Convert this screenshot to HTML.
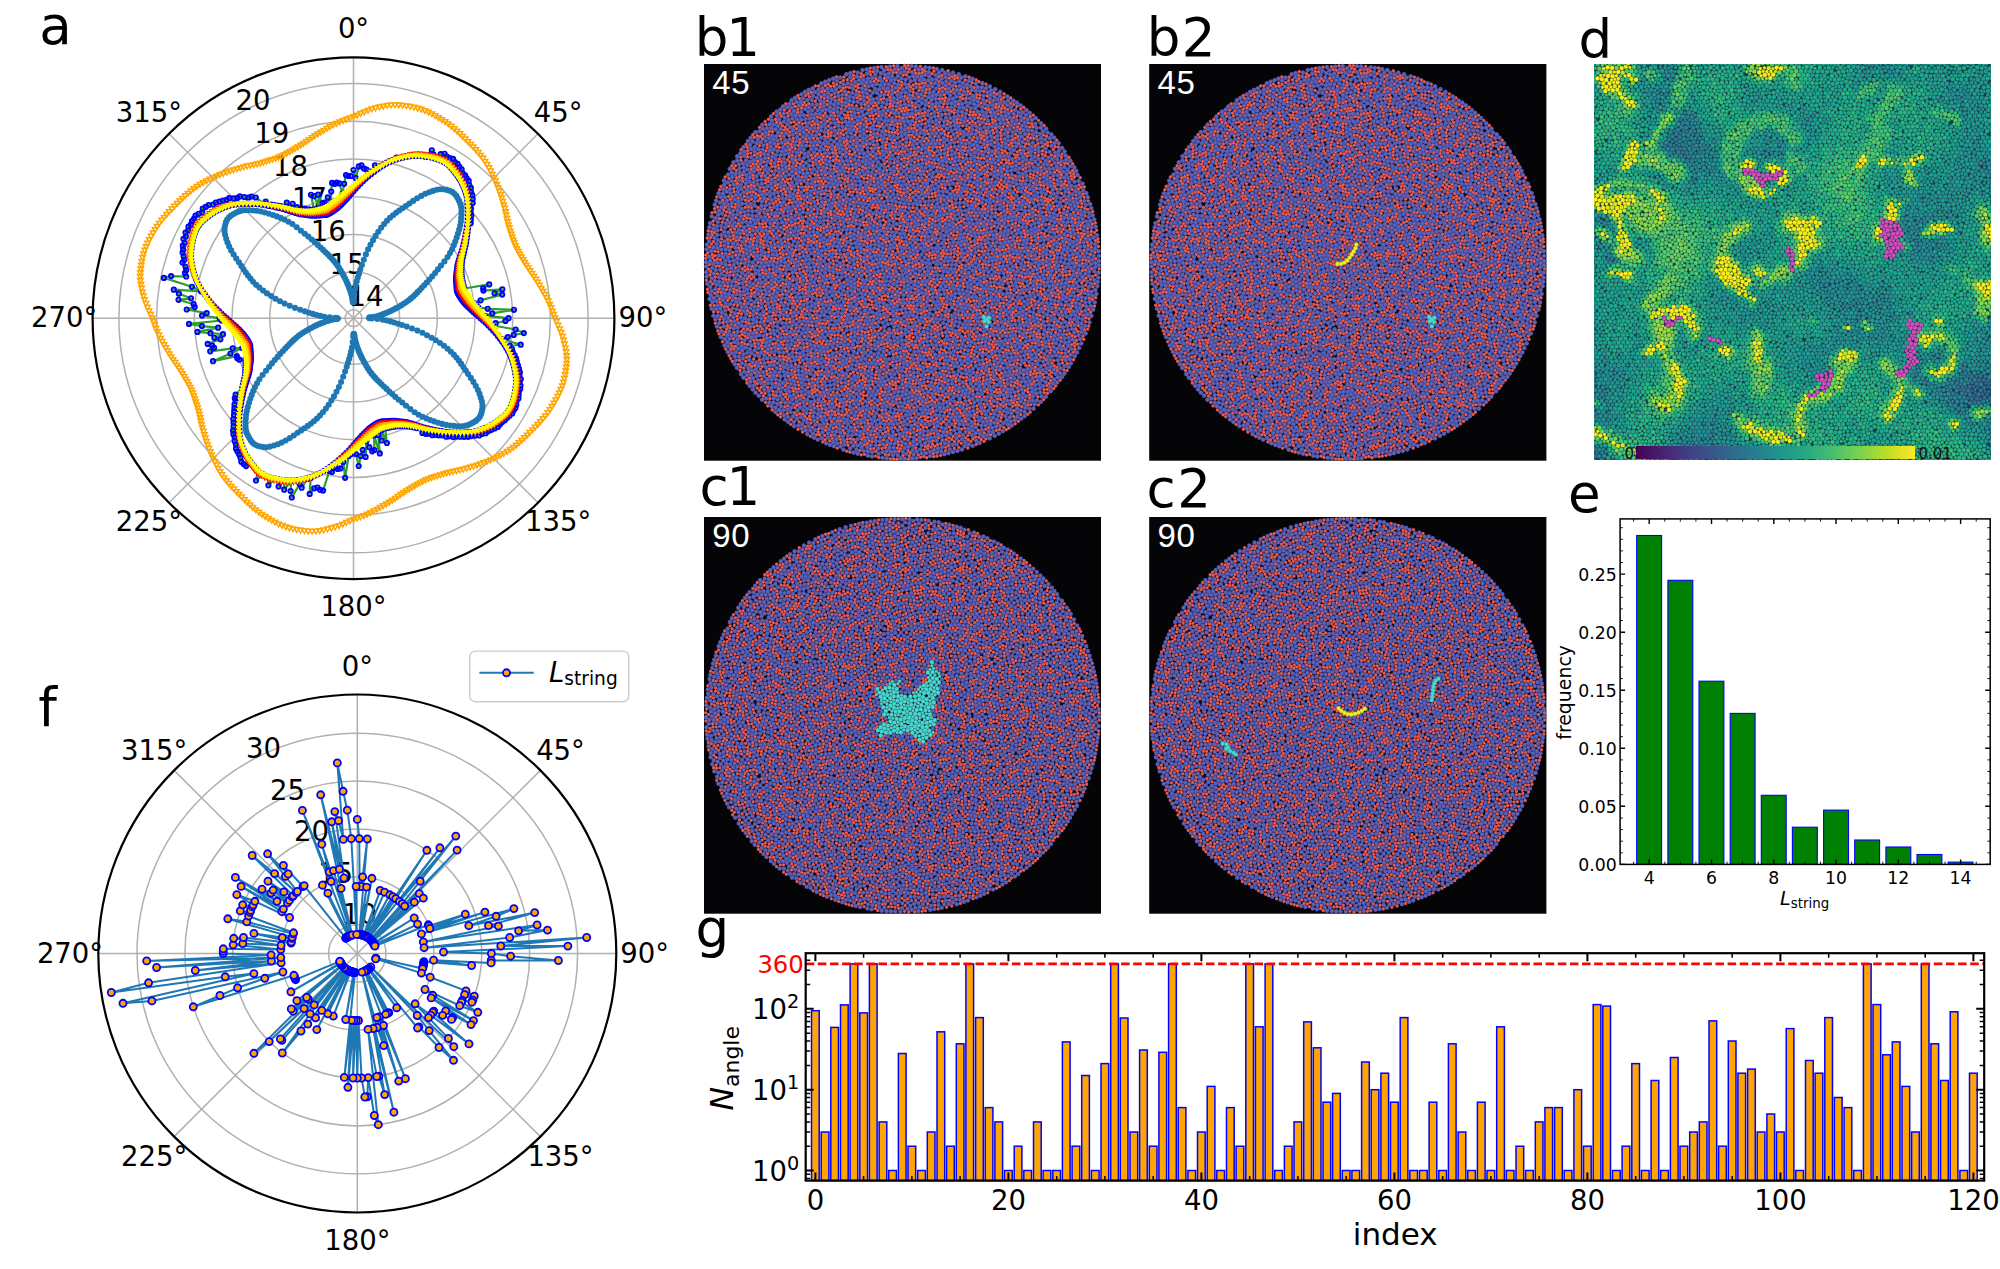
<!DOCTYPE html>
<html><head><meta charset="utf-8"><title>figure</title>
<style>html,body{margin:0;padding:0;background:#fff}svg{display:block}text{font-family:DejaVu Sans, Liberation Sans, sans-serif}</style></head>
<body><svg width="2000" height="1269" viewBox="0 0 2000 1269">
<rect width="2000" height="1269" fill="#fff"/>
<text x="39.2" y="43.5" font-size="53">a</text>
<text x="694.7" y="55.5" font-size="53">b<tspan dx="-2.2">1</tspan></text>
<text x="1146.7" y="55.5" font-size="53">b<tspan dx="1.4">2</tspan></text>
<text x="699.6" y="504.5" font-size="53">c<tspan dx="-2.2">1</tspan></text>
<text x="1146.6" y="506.5" font-size="53">c<tspan dx="1.4">2</tspan></text>
<text x="1578.6" y="57.5" font-size="53">d</text>
<text x="1568.1" y="512" font-size="53">e</text>
<text x="38.3" y="725.8" font-size="53">f</text>
<text x="695.6" y="947.2" font-size="53">g</text>
<g id="pa">
<g fill="none" stroke="#b0b0b0" stroke-width="1.5">
<circle cx="353.5" cy="318.2" r="8.4"/>
<circle cx="353.5" cy="318.2" r="46.1"/>
<circle cx="353.5" cy="318.2" r="83.8"/>
<circle cx="353.5" cy="318.2" r="121.5"/>
<circle cx="353.5" cy="318.2" r="159.2"/>
<circle cx="353.5" cy="318.2" r="196.9"/>
<circle cx="353.5" cy="318.2" r="234.6"/>
<path d="M353.5 318.2L353.5 57.3M353.5 318.2L538 133.7M353.5 318.2L614.4 318.2M353.5 318.2L538 502.7M353.5 318.2L353.5 579.1M353.5 318.2L169 502.7M353.5 318.2L92.6 318.2M353.5 318.2L169 133.7"/>
</g>
<g font-size="27.5" text-anchor="middle" dominant-baseline="central">
<text x="353.5" y="27.5">0°</text>
<text x="558.1" y="112.2">45°</text>
<text x="642.8" y="316.8">90°</text>
<text x="558.1" y="521.4">135°</text>
<text x="353.5" y="606.1">180°</text>
<text x="148.9" y="521.4">225°</text>
<text x="64.2" y="316.8">270°</text>
<text x="148.9" y="112.2">315°</text>
<text x="366" y="296.2">14</text>
<text x="347.1" y="263.6">15</text>
<text x="328.3" y="230.9">16</text>
<text x="309.4" y="198.3">17</text>
<text x="290.6" y="165.6">18</text>
<text x="271.8" y="133">19</text>
<text x="252.9" y="100.3">20</text>
</g>
<defs>
<marker id="mdot" markerWidth="8" markerHeight="8" refX="4" refY="4" markerUnits="userSpaceOnUse"><circle cx="4" cy="4" r="3.05" fill="#1f77b4"/></marker>
<marker id="mo" markerWidth="10" markerHeight="10" refX="5" refY="5" markerUnits="userSpaceOnUse"><path d="M2.3 2.9H7.7L5 7.6Z" fill="none" stroke="#ffa500" stroke-width="1.5" stroke-linejoin="miter"/></marker>
<marker id="mo2" markerWidth="10" markerHeight="10" refX="5" refY="5" markerUnits="userSpaceOnUse"><path d="M3 3.4H7L5 6.9Z" fill="none" stroke="#ffa500" stroke-width="1.3" stroke-linejoin="miter"/></marker>
<marker id="my" markerWidth="10" markerHeight="10" refX="5" refY="5" markerUnits="userSpaceOnUse"><path d="M3 3.4H7L5 6.9Z" fill="none" stroke="#ffff00" stroke-width="1.3" stroke-linejoin="miter"/></marker>
<marker id="mr" markerWidth="10" markerHeight="10" refX="5" refY="5" markerUnits="userSpaceOnUse"><path d="M3 3.4H7L5 6.9Z" fill="none" stroke="#ff0000" stroke-width="1.3" stroke-linejoin="miter"/></marker>
<marker id="mg" markerWidth="10" markerHeight="10" refX="5" refY="5" markerUnits="userSpaceOnUse"><path d="M3 3.4H7L5 6.9Z" fill="none" stroke="#ffd000" stroke-width="1.3" stroke-linejoin="miter"/></marker>
<marker id="mb" markerWidth="10" markerHeight="10" refX="5" refY="5" markerUnits="userSpaceOnUse"><circle cx="5" cy="5" r="2.15" fill="none" stroke="#0000ff" stroke-width="1.9"/></marker>
</defs>
<polyline points="353.5,191.2 355.8,188.6 358.1,186.1 360.6,183.6 363.1,181.1 365.7,178.6 368.4,176.2 371.2,173.9 374.1,171.7 377.1,169.5 380.1,167.3 383.2,165.4 386.4,163.6 389.6,162 392.8,160.6 396,159.4 399.3,158.5 402.6,157.6 405.9,156.9 409.3,156.3 412.6,155.8 415.9,155.7 419.1,155.7 422.3,156.1 425.5,156.5 428.7,157 431.8,157.7 434.9,158.4 437.9,159.4 440.9,160.6 443.7,161.9 446.4,163.6 448.9,165.6 451.1,167.9 453.2,170.4 455.2,173 457.1,175.6 458.9,178.3 460.6,181.1 462.1,184.1 463.5,187.1 464.7,190.3 465.8,193.5 466.7,196.8 467.3,200.4 467.6,204.1 467.8,207.8 467.9,211.6 467.8,215.3 467.8,218.9 467.6,222.5 467.1,226.2 466.5,229.9 465.8,233.5 465.2,237.1 464.4,240.5 463.7,243.9 462.9,247.2 461.9,250.5 460.9,253.7 459.9,256.8 458.9,259.8 458.1,262.6 457.5,265.2 457.2,267.6 456.9,270 456.6,272.3 456.3,274.6 456.1,276.7 456.1,278.8 456.1,280.8 456.3,282.8 456.4,284.8 456.6,286.7 456.7,288.6 456.8,290.5 457.3,292.3 458.1,294.1 459.1,295.8 460.2,297.5 461.4,299.2 462.6,300.9 464,302.7 465.6,304.4 467.3,306.2 469.2,308.1 471.2,310 473.3,311.9 475.5,313.9 478,316 480.5,318.2 483.1,320.5 485.6,322.8 488.1,325.3 490.6,327.8 493.1,330.4 495.5,333.1 497.8,335.9 500,338.8 502.2,341.8 504.4,344.8 506.3,347.9 508.1,351.1 509.7,354.3 511.1,357.5 512.3,360.7 513.2,364 514.1,367.3 514.8,370.6 515.4,374 515.9,377.3 516,380.6 516,383.8 515.6,387 515.2,390.2 514.7,393.4 514,396.5 513.3,399.6 512.3,402.6 511.1,405.6 509.8,408.4 508.1,411.1 506.1,413.6 503.8,415.8 501.3,417.9 498.7,419.9 496.1,421.8 493.4,423.6 490.6,425.3 487.6,426.8 484.6,428.2 481.4,429.4 478.2,430.5 474.9,431.4 471.3,432 467.6,432.3 463.9,432.5 460.1,432.6 456.4,432.5 452.8,432.5 449.2,432.3 445.5,431.8 441.8,431.2 438.2,430.5 434.6,429.9 431.2,429.1 427.8,428.4 424.5,427.6 421.2,426.6 418,425.6 414.9,424.6 411.9,423.6 409.1,422.8 406.5,422.2 404.1,421.9 401.7,421.6 399.4,421.3 397.1,421 395,420.8 392.9,420.8 390.9,420.8 388.9,421 386.9,421.1 385,421.3 383.1,421.4 381.2,421.5 379.4,422 377.6,422.8 375.9,423.8 374.2,424.9 372.5,426.1 370.8,427.3 369,428.7 367.3,430.3 365.5,432 363.6,433.9 361.7,435.9 359.8,438 357.8,440.2 355.7,442.7 353.5,445.2 351.2,447.8 348.9,450.3 346.4,452.8 343.9,455.3 341.3,457.8 338.6,460.2 335.8,462.5 332.9,464.7 329.9,466.9 326.9,469.1 323.8,471 320.6,472.8 317.4,474.4 314.2,475.8 311,477 307.7,477.9 304.4,478.8 301.1,479.5 297.7,480.1 294.4,480.6 291.1,480.7 287.9,480.7 284.7,480.3 281.5,479.9 278.3,479.4 275.2,478.7 272.1,478 269.1,477 266.1,475.8 263.3,474.5 260.6,472.8 258.1,470.8 255.9,468.5 253.8,466 251.8,463.4 249.9,460.8 248.1,458.1 246.4,455.3 244.9,452.3 243.5,449.3 242.3,446.1 241.2,442.9 240.3,439.6 239.7,436 239.4,432.3 239.2,428.6 239.1,424.8 239.2,421.1 239.2,417.5 239.4,413.9 239.9,410.2 240.5,406.5 241.2,402.9 241.8,399.3 242.6,395.9 243.3,392.5 244.1,389.2 245.1,385.9 246.1,382.7 247.1,379.6 248.1,376.6 248.9,373.8 249.5,371.2 249.8,368.8 250.1,366.4 250.4,364.1 250.7,361.8 250.9,359.7 250.9,357.6 250.9,355.6 250.7,353.6 250.6,351.6 250.4,349.7 250.3,347.8 250.2,345.9 249.7,344.1 248.9,342.3 247.9,340.6 246.8,338.9 245.6,337.2 244.4,335.5 243,333.7 241.4,332 239.7,330.2 237.8,328.3 235.8,326.4 233.7,324.5 231.5,322.5 229,320.4 226.5,318.2 223.9,315.9 221.4,313.6 218.9,311.1 216.4,308.6 213.9,306 211.5,303.3 209.2,300.5 207,297.6 204.8,294.6 202.6,291.6 200.7,288.5 198.9,285.3 197.3,282.1 195.9,278.9 194.7,275.7 193.8,272.4 192.9,269.1 192.2,265.8 191.6,262.4 191.1,259.1 191,255.8 191,252.6 191.4,249.4 191.8,246.2 192.3,243 193,239.9 193.7,236.8 194.7,233.8 195.9,230.8 197.2,228 198.9,225.3 200.9,222.8 203.2,220.6 205.7,218.5 208.3,216.5 210.9,214.6 213.6,212.8 216.4,211.1 219.4,209.6 222.4,208.2 225.6,207 228.8,205.9 232.1,205 235.7,204.4 239.4,204.1 243.1,203.9 246.9,203.8 250.6,203.9 254.2,203.9 257.8,204.1 261.5,204.6 265.2,205.2 268.8,205.9 272.4,206.5 275.8,207.3 279.2,208 282.5,208.8 285.8,209.8 289,210.8 292.1,211.8 295.1,212.8 297.9,213.6 300.5,214.2 302.9,214.5 305.3,214.8 307.6,215.1 309.9,215.4 312,215.6 314.1,215.6 316.1,215.6 318.1,215.4 320.1,215.3 322,215.1 323.9,215 325.8,214.9 327.6,214.4 329.4,213.6 331.1,212.6 332.8,211.5 334.5,210.3 336.2,209.1 338,207.7 339.7,206.1 341.5,204.4 343.4,202.5 345.3,200.5 347.2,198.4 349.2,196.2 351.3,193.7 " fill="none" stroke="#0000ff" stroke-width="1.2" marker-start="url(#mb)" marker-mid="url(#mb)" marker-end="url(#mb)"/>
<polyline points="353.5,170 355.9,178 358.8,166.4 361.5,165.3 364,168.6 366.5,169.6 368.7,173.2 371.5,171.4 375,165.4 377.3,167.9 380.3,166.1 383.4,164.3 386.6,162.7 389.7,161.2 393,159.9 396.5,157.7 399.5,157.8 402.7,157.4 406.1,156.3 409.4,155.8 412.7,155.4 416,155.3 419.3,155.4 422.5,155.7 425.4,156.8 431.8,150.3 433.4,154.3 435,158.2 440.7,154.2 444.6,153.8 446.8,156.5 449.7,158 453,158.9 454.9,162 457.6,163.9 459.4,166.9 461.6,169.4 462.7,173.3 465.1,175.4 466.7,178.4 468.7,180.9 469.3,185 470.9,187.8 471.1,192.1 472.3,195.2 472.7,199 472.7,203.1 471,208.6 470.7,212.7 471.3,215.8 470.8,219.7 470.7,223.3 467.9,228.8 467.5,232.3 467.1,235.7 466.6,239 466.1,242.2 465.5,245.4 464.8,248.6 464.1,251.8 463.4,254.8 462.7,257.7 462.1,260.4 461.8,263 461.6,265.5 461.5,267.8 461.4,270.1 461.4,272.4 461.5,274.6 461.7,276.7 462,278.7 462.4,280.7 462.9,282.7 463.3,284.6 463.8,286.6 464.3,288.5 489.2,284.4 483.2,288.3 483.4,290.6 502.3,289.3 494.5,293.3 502.2,294.6 480.6,300.3 474.9,303.3 476.5,305.3 478.2,307.3 487.7,308.8 514,309.8 492.3,313.4 485.4,315.9 508.6,318.2 505.5,320.9 495.7,323.2 493.3,325.5 515.6,329.5 523.8,333.1 513.7,335 507.7,337.1 502.4,339.1 520.7,344.7 509.7,345.7 512,349 512.8,352.1 514.7,355.4 516.1,358.7 516.8,361.9 517.9,365.3 519,368.8 519.9,372.3 519.4,375.3 520.8,379.1 519.6,382 520.5,385.7 520.2,389 518.8,391.8 518.6,395.2 518.4,398.6 516.5,401.3 516.3,404.8 515.4,407.9 513.6,410.6 512.2,413.5 509.5,415.7 507.1,418 504.8,420.3 502,422.2 499.9,424.5 497.9,427 494.6,428.4 491.3,429.8 488.2,431.2 485.8,433.2 482,433.9 479.2,435.4 475.1,435.6 471.4,436.1 468.1,436.8 464.1,436.8 460.2,436.7 456.4,436.6 453.3,437.1 449.2,436.3 446.1,436.7 441.7,435.3 438.6,435.3 435.3,435 432.4,435.2 428.5,433.7 425.7,433.8 422.4,432.9 416.9,428.1 414,427.4 411.3,426.8 408.7,426.5 406.2,426.3 403.9,426.2 401.6,426.1 399.3,426.1 397.1,426.2 395,426.4 393,426.7 391,427.1 389,427.6 387.1,428 385.1,428.5 386.9,443 381.4,430.2 381.7,440.5 378.3,435.1 379.8,453.4 374.1,435.3 374.4,450 372.2,451.3 369.3,447.2 366.4,441.2 365.6,456.9 362.7,449.9 360.7,456.1 358.7,466 355.9,454 353.5,452.1 351.1,454.1 348.7,456 345.1,477.8 343.4,462.1 340.4,468.4 337.7,468.9 335.1,467.7 331.9,472 329.3,470.9 323.1,490.6 320.1,489.8 317.5,487.5 314.2,488.3 309.7,493.9 310.7,478 307.4,478.9 301.7,487.7 299.6,484.1 291.8,497.5 290.6,491 291,481.1 284.2,489.7 284.5,480.7 278.6,486.4 278.2,479.7 275.1,479 268.4,485.3 269,477.2 266,476 263.2,474.7 256,480.5 258,471 255.8,468.7 253.9,465.9 251.6,463.7 246.1,466.1 243.7,464 241.3,461.8 240.5,457.8 239.2,454.4 237.5,451.6 236,448.7 235.9,444.3 234.7,441.2 234.6,437.1 233.4,434.2 233,430.6 233.6,426.2 233.5,422.5 233.3,419.1 234,415 234.2,411.4 234.4,408 234.5,404.6 235.6,400.7 234.8,398.3 235.6,394.7 242.2,387.8 242.9,384.6 243.6,381.6 244.3,378.7 244.9,376 245.2,373.4 245.4,370.9 245.5,368.6 245.6,366.3 245.6,364 245.5,361.8 245.3,359.7 239.4,359.7 237.3,358.2 236.8,356.1 213,361.2 230.5,353.5 242.3,348 232.7,348.3 210.2,351.3 214.1,347.8 212.2,345.7 207.7,343.9 220.4,339.3 214.3,337.8 223,334.2 210.5,333.2 197.5,331.9 218.1,327.7 201.9,326.1 189,323.9 221.6,320.5 219.6,318.2 202,315.6 206.7,313.1 186.7,309.5 194.7,307.1 193.6,304.2 178.5,299.8 191,298.3 178.9,293.7 173.8,289.7 201,291.3 191.9,286.8 163.9,277.9 171.1,276.1 186.2,276.5 184.9,273 186.2,270.2 185.5,266.8 182.5,262.6 184.2,259.9 183.7,256.4 182.6,252.6 183.1,249.4 182.8,245.7 184.7,243 183.5,238.9 185.9,236.5 185.5,232.6 188.2,230.3 188.5,226.7 191,224.4 192,221.2 194.1,218.6 195.5,215.6 198.7,213.8 202.2,212.3 202.8,208.7 205.8,206.9 208.7,205 213.1,204.5 215.9,202.7 219.4,201.7 222.9,200.6 226.5,199.8 229.2,198.2 233.7,198.4 237.4,197.9 239.9,196.4 244.4,197 248.6,197.5 251.4,196.5 255.8,197.5 264.1,203.8 265.7,201.7 271,204.6 274.3,205.1 277.5,205.6 280.7,206.2 283.9,206.9 286.9,207.4 286.8,202.6 293,209 292.7,203.8 296.9,207.2 300.8,210.1 303.1,210.2 304.8,208.8 307.7,210.3 309.5,209.3 312,210 313.9,209.3 311,194.8 313.9,196.2 319.8,208 318.1,194.7 322.7,203.2 324.6,202.5 327.4,205.1 327.8,197.4 331,202.5 331.2,191.6 332.1,182.9 334.6,184 336.8,182.5 339.3,183.4 342.6,193.5 344.1,183.8 346,175.1 348.5,176 351,176 " fill="none" stroke="#2ca02c" stroke-width="2.2" stroke-linejoin="round"/>
<polyline points="353.5,170 355.9,178 358.8,166.4 361.5,165.3 364,168.6 366.5,169.6 368.7,173.2 371.5,171.4 375,165.4 377.3,167.9 380.3,166.1 383.4,164.3 386.6,162.7 389.7,161.2 393,159.9 396.5,157.7 399.5,157.8 402.7,157.4 406.1,156.3 409.4,155.8 412.7,155.4 416,155.3 419.3,155.4 422.5,155.7 425.4,156.8 431.8,150.3 433.4,154.3 435,158.2 440.7,154.2 444.6,153.8 446.8,156.5 449.7,158 453,158.9 454.9,162 457.6,163.9 459.4,166.9 461.6,169.4 462.7,173.3 465.1,175.4 466.7,178.4 468.7,180.9 469.3,185 470.9,187.8 471.1,192.1 472.3,195.2 472.7,199 472.7,203.1 471,208.6 470.7,212.7 471.3,215.8 470.8,219.7 470.7,223.3 467.9,228.8 467.5,232.3 467.1,235.7 466.6,239 466.1,242.2 465.5,245.4 464.8,248.6 464.1,251.8 463.4,254.8 462.7,257.7 462.1,260.4 461.8,263 461.6,265.5 461.5,267.8 461.4,270.1 461.4,272.4 461.5,274.6 461.7,276.7 462,278.7 462.4,280.7 462.9,282.7 463.3,284.6 463.8,286.6 464.3,288.5 489.2,284.4 483.2,288.3 483.4,290.6 502.3,289.3 494.5,293.3 502.2,294.6 480.6,300.3 474.9,303.3 476.5,305.3 478.2,307.3 487.7,308.8 514,309.8 492.3,313.4 485.4,315.9 508.6,318.2 505.5,320.9 495.7,323.2 493.3,325.5 515.6,329.5 523.8,333.1 513.7,335 507.7,337.1 502.4,339.1 520.7,344.7 509.7,345.7 512,349 512.8,352.1 514.7,355.4 516.1,358.7 516.8,361.9 517.9,365.3 519,368.8 519.9,372.3 519.4,375.3 520.8,379.1 519.6,382 520.5,385.7 520.2,389 518.8,391.8 518.6,395.2 518.4,398.6 516.5,401.3 516.3,404.8 515.4,407.9 513.6,410.6 512.2,413.5 509.5,415.7 507.1,418 504.8,420.3 502,422.2 499.9,424.5 497.9,427 494.6,428.4 491.3,429.8 488.2,431.2 485.8,433.2 482,433.9 479.2,435.4 475.1,435.6 471.4,436.1 468.1,436.8 464.1,436.8 460.2,436.7 456.4,436.6 453.3,437.1 449.2,436.3 446.1,436.7 441.7,435.3 438.6,435.3 435.3,435 432.4,435.2 428.5,433.7 425.7,433.8 422.4,432.9 416.9,428.1 414,427.4 411.3,426.8 408.7,426.5 406.2,426.3 403.9,426.2 401.6,426.1 399.3,426.1 397.1,426.2 395,426.4 393,426.7 391,427.1 389,427.6 387.1,428 385.1,428.5 386.9,443 381.4,430.2 381.7,440.5 378.3,435.1 379.8,453.4 374.1,435.3 374.4,450 372.2,451.3 369.3,447.2 366.4,441.2 365.6,456.9 362.7,449.9 360.7,456.1 358.7,466 355.9,454 353.5,452.1 351.1,454.1 348.7,456 345.1,477.8 343.4,462.1 340.4,468.4 337.7,468.9 335.1,467.7 331.9,472 329.3,470.9 323.1,490.6 320.1,489.8 317.5,487.5 314.2,488.3 309.7,493.9 310.7,478 307.4,478.9 301.7,487.7 299.6,484.1 291.8,497.5 290.6,491 291,481.1 284.2,489.7 284.5,480.7 278.6,486.4 278.2,479.7 275.1,479 268.4,485.3 269,477.2 266,476 263.2,474.7 256,480.5 258,471 255.8,468.7 253.9,465.9 251.6,463.7 246.1,466.1 243.7,464 241.3,461.8 240.5,457.8 239.2,454.4 237.5,451.6 236,448.7 235.9,444.3 234.7,441.2 234.6,437.1 233.4,434.2 233,430.6 233.6,426.2 233.5,422.5 233.3,419.1 234,415 234.2,411.4 234.4,408 234.5,404.6 235.6,400.7 234.8,398.3 235.6,394.7 242.2,387.8 242.9,384.6 243.6,381.6 244.3,378.7 244.9,376 245.2,373.4 245.4,370.9 245.5,368.6 245.6,366.3 245.6,364 245.5,361.8 245.3,359.7 239.4,359.7 237.3,358.2 236.8,356.1 213,361.2 230.5,353.5 242.3,348 232.7,348.3 210.2,351.3 214.1,347.8 212.2,345.7 207.7,343.9 220.4,339.3 214.3,337.8 223,334.2 210.5,333.2 197.5,331.9 218.1,327.7 201.9,326.1 189,323.9 221.6,320.5 219.6,318.2 202,315.6 206.7,313.1 186.7,309.5 194.7,307.1 193.6,304.2 178.5,299.8 191,298.3 178.9,293.7 173.8,289.7 201,291.3 191.9,286.8 163.9,277.9 171.1,276.1 186.2,276.5 184.9,273 186.2,270.2 185.5,266.8 182.5,262.6 184.2,259.9 183.7,256.4 182.6,252.6 183.1,249.4 182.8,245.7 184.7,243 183.5,238.9 185.9,236.5 185.5,232.6 188.2,230.3 188.5,226.7 191,224.4 192,221.2 194.1,218.6 195.5,215.6 198.7,213.8 202.2,212.3 202.8,208.7 205.8,206.9 208.7,205 213.1,204.5 215.9,202.7 219.4,201.7 222.9,200.6 226.5,199.8 229.2,198.2 233.7,198.4 237.4,197.9 239.9,196.4 244.4,197 248.6,197.5 251.4,196.5 255.8,197.5 264.1,203.8 265.7,201.7 271,204.6 274.3,205.1 277.5,205.6 280.7,206.2 283.9,206.9 286.9,207.4 286.8,202.6 293,209 292.7,203.8 296.9,207.2 300.8,210.1 303.1,210.2 304.8,208.8 307.7,210.3 309.5,209.3 312,210 313.9,209.3 311,194.8 313.9,196.2 319.8,208 318.1,194.7 322.7,203.2 324.6,202.5 327.4,205.1 327.8,197.4 331,202.5 331.2,191.6 332.1,182.9 334.6,184 336.8,182.5 339.3,183.4 342.6,193.5 344.1,183.8 346,175.1 348.5,176 351,176 " fill="none" stroke="none" stroke-width="0" marker-start="url(#mb)" marker-mid="url(#mb)" marker-end="url(#mb)"/>
<polyline points="353.5,189.9 355.8,187.4 358.2,185 360.6,182.6 363.2,180.2 365.8,177.8 368.5,175.5 371.3,173.3 374.2,171.2 377.1,169 380.2,166.9 383.3,164.8 386.5,162.9 389.8,161.1 393.1,159.5 396.4,158.2 399.7,157.1 403.1,156.1 406.5,155.2 409.9,154.5 413.3,154 416.6,153.7 419.9,153.7 423.2,154 426.4,154.4 429.6,154.9 432.8,155.5 436,156.3 439.1,157.2 442.1,158.4 445,159.8 447.7,161.5 450.2,163.5 452.4,165.9 454.5,168.5 456.5,171.1 458.4,173.8 460.2,176.6 461.9,179.5 463.4,182.5 464.7,185.7 465.9,188.9 466.9,192.3 467.7,195.7 468.2,199.4 468.5,203.2 468.5,207.1 468.5,211 468.3,214.8 468.1,218.5 467.8,222.3 467.4,225.9 466.9,229.6 466.3,233.2 465.6,236.7 465,240.2 464.3,243.5 463.5,246.8 462.6,250.1 461.6,253.3 460.6,256.4 459.7,259.3 459,262.1 458.4,264.7 458.1,267.2 457.8,269.6 457.5,271.9 457.3,274.1 457.2,276.3 457.2,278.4 457.3,280.4 457.5,282.4 457.7,284.3 457.9,286.3 458,288.2 458.3,290.1 458.8,292 459.6,293.7 460.7,295.4 461.9,297.1 463,298.9 464.3,300.7 465.7,302.4 467.2,304.2 469,306.1 470.8,307.9 472.8,309.9 474.8,311.8 477,313.9 479.4,316 481.8,318.2 484.3,320.5 486.7,322.9 489.1,325.3 491.5,327.9 493.9,330.5 496.2,333.2 498.4,336 500.5,338.9 502.7,341.8 504.8,344.9 506.9,348 508.8,351.2 510.6,354.5 512.2,357.8 513.5,361.1 514.6,364.4 515.6,367.8 516.5,371.2 517.2,374.6 517.7,378 518,381.3 518,384.6 517.7,387.9 517.3,391.1 516.8,394.3 516.2,397.5 515.4,400.7 514.5,403.8 513.3,406.8 511.9,409.7 510.2,412.4 508.2,414.9 505.8,417.1 503.2,419.2 500.6,421.2 497.9,423.1 495.1,424.9 492.2,426.6 489.2,428.1 486,429.4 482.8,430.6 479.4,431.6 476,432.4 472.3,432.9 468.5,433.2 464.6,433.2 460.7,433.2 456.9,433 453.2,432.8 449.4,432.5 445.8,432.1 442.1,431.6 438.5,431 435,430.3 431.5,429.7 428.2,429 424.9,428.2 421.6,427.3 418.4,426.3 415.3,425.3 412.4,424.4 409.6,423.7 407,423.1 404.5,422.8 402.1,422.5 399.8,422.2 397.6,422 395.4,421.9 393.3,421.9 391.3,422 389.3,422.2 387.4,422.4 385.4,422.6 383.5,422.7 381.6,423 379.7,423.5 378,424.3 376.3,425.4 374.6,426.6 372.8,427.7 371,429 369.3,430.4 367.5,431.9 365.6,433.7 363.8,435.5 361.8,437.5 359.9,439.5 357.8,441.7 355.7,444.1 353.5,446.5 351.2,449 348.8,451.4 346.4,453.8 343.8,456.2 341.2,458.6 338.5,460.9 335.7,463.1 332.8,465.2 329.9,467.4 326.8,469.5 323.7,471.6 320.5,473.5 317.2,475.3 313.9,476.9 310.6,478.2 307.3,479.3 303.9,480.3 300.5,481.2 297.1,481.9 293.7,482.4 290.4,482.7 287.1,482.7 283.8,482.4 280.6,482 277.4,481.5 274.2,480.9 271,480.1 267.9,479.2 264.9,478 262,476.6 259.3,474.9 256.8,472.9 254.6,470.5 252.5,467.9 250.5,465.3 248.6,462.6 246.8,459.8 245.1,456.9 243.6,453.9 242.3,450.7 241.1,447.5 240.1,444.1 239.3,440.7 238.8,437 238.5,433.2 238.5,429.3 238.5,425.4 238.7,421.6 238.9,417.9 239.2,414.1 239.6,410.5 240.1,406.8 240.7,403.2 241.4,399.7 242,396.2 242.7,392.9 243.5,389.6 244.4,386.3 245.4,383.1 246.4,380 247.3,377.1 248,374.3 248.6,371.7 248.9,369.2 249.2,366.8 249.5,364.5 249.7,362.3 249.8,360.1 249.8,358 249.7,356 249.5,354 249.3,352.1 249.1,350.1 249,348.2 248.7,346.3 248.2,344.4 247.4,342.7 246.3,341 245.1,339.3 244,337.5 242.7,335.7 241.3,334 239.8,332.2 238,330.3 236.2,328.5 234.2,326.5 232.2,324.6 230,322.5 227.6,320.4 225.2,318.2 222.7,315.9 220.3,313.5 217.9,311.1 215.5,308.5 213.1,305.9 210.8,303.2 208.6,300.4 206.5,297.5 204.3,294.6 202.2,291.5 200.1,288.4 198.2,285.2 196.4,281.9 194.8,278.6 193.5,275.3 192.4,272 191.4,268.6 190.5,265.2 189.8,261.8 189.3,258.4 189,255.1 189,251.8 189.3,248.5 189.7,245.3 190.2,242.1 190.8,238.9 191.6,235.7 192.5,232.6 193.7,229.6 195.1,226.7 196.8,224 198.8,221.5 201.2,219.3 203.8,217.2 206.4,215.2 209.1,213.3 211.9,211.5 214.8,209.8 217.8,208.3 221,207 224.2,205.8 227.6,204.8 231,204 234.7,203.5 238.5,203.2 242.4,203.2 246.3,203.2 250.1,203.4 253.8,203.6 257.6,203.9 261.2,204.3 264.9,204.8 268.5,205.4 272,206.1 275.5,206.7 278.8,207.4 282.1,208.2 285.4,209.1 288.6,210.1 291.7,211.1 294.6,212 297.4,212.7 300,213.3 302.5,213.6 304.9,213.9 307.2,214.2 309.4,214.4 311.6,214.5 313.7,214.5 315.7,214.4 317.7,214.2 319.6,214 321.6,213.8 323.5,213.7 325.4,213.4 327.3,212.9 329,212.1 330.7,211 332.4,209.8 334.2,208.7 336,207.4 337.7,206 339.5,204.5 341.4,202.7 343.2,200.9 345.2,198.9 347.1,196.9 349.2,194.7 351.3,192.3 " fill="none" stroke="#ff0000" stroke-width="1.5" marker-start="url(#mr)" marker-mid="url(#mr)" marker-end="url(#mr)"/>
<polyline points="353.5,188.1 355.8,185.8 358.2,183.6 360.7,181.4 363.2,179.2 365.9,177 368.6,174.9 371.3,172.8 374.2,170.8 377.2,168.9 380.2,166.9 383.3,164.9 386.5,163.1 389.7,161.4 393,159.9 396.2,158.7 399.5,157.7 402.9,156.8 406.2,155.9 409.6,155.3 413,154.9 416.3,154.6 419.6,154.7 422.8,155 426,155.4 429.2,155.9 432.3,156.6 435.5,157.3 438.5,158.3 441.5,159.4 444.4,160.8 447.1,162.5 449.5,164.5 451.8,166.9 453.9,169.4 455.9,172 457.8,174.6 459.6,177.4 461.3,180.2 462.8,183.2 464.1,186.3 465.3,189.5 466.4,192.8 467.3,196.2 467.8,199.8 468.1,203.6 468.3,207.4 468.3,211.2 468.2,214.9 468.1,218.6 467.9,222.2 467.5,225.9 467.1,229.5 466.5,233 466,236.5 465.4,239.9 464.8,243.1 464,246.4 463.2,249.6 462.3,252.8 461.4,255.9 460.6,258.8 460,261.6 459.5,264.2 459.2,266.6 459,269 458.8,271.3 458.7,273.6 458.6,275.7 458.7,277.8 458.9,279.8 459.2,281.8 459.5,283.8 459.8,285.7 460.1,287.6 460.4,289.6 461,291.4 462,293.2 463.1,294.9 464.4,296.7 465.6,298.4 466.9,300.2 468.3,302.1 469.9,303.9 471.5,305.8 473.3,307.7 475.2,309.7 477.1,311.7 479.1,313.8 481.3,316 483.6,318.2 485.9,320.5 488.1,322.9 490.3,325.4 492.5,327.9 494.7,330.6 496.8,333.3 498.9,336 500.9,338.9 502.8,341.9 504.8,344.9 506.8,348 508.6,351.2 510.3,354.4 511.8,357.7 513,360.9 514,364.2 514.9,367.6 515.8,370.9 516.4,374.3 516.8,377.7 517.1,381 517,384.3 516.7,387.5 516.3,390.7 515.8,393.9 515.1,397 514.4,400.2 513.4,403.2 512.3,406.2 510.9,409.1 509.2,411.8 507.2,414.2 504.8,416.5 502.3,418.6 499.7,420.6 497.1,422.5 494.3,424.3 491.5,426 488.5,427.5 485.4,428.8 482.2,430 478.9,431.1 475.5,432 471.9,432.5 468.1,432.8 464.3,433 460.5,433 456.8,432.9 453.1,432.8 449.5,432.6 445.8,432.2 442.2,431.8 438.7,431.2 435.2,430.7 431.8,430.1 428.6,429.5 425.3,428.7 422.1,427.9 418.9,427 415.8,426.1 412.9,425.3 410.1,424.7 407.5,424.2 405.1,423.9 402.7,423.7 400.4,423.5 398.1,423.4 396,423.3 393.9,423.4 391.9,423.6 389.9,423.9 387.9,424.2 386,424.5 384.1,424.8 382.1,425.1 380.3,425.7 378.5,426.7 376.8,427.8 375,429.1 373.3,430.3 371.5,431.6 369.6,433 367.8,434.6 365.9,436.2 364,438 362,439.9 360,441.8 357.9,443.8 355.7,446 353.5,448.3 351.2,450.6 348.8,452.8 346.3,455 343.8,457.2 341.1,459.4 338.4,461.5 335.7,463.6 332.8,465.6 329.8,467.5 326.8,469.5 323.7,471.5 320.5,473.3 317.3,475 314,476.5 310.8,477.7 307.5,478.7 304.1,479.6 300.8,480.5 297.4,481.1 294,481.5 290.7,481.8 287.4,481.7 284.2,481.4 281,481 277.8,480.5 274.7,479.8 271.5,479.1 268.5,478.1 265.5,477 262.6,475.6 259.9,473.9 257.5,471.9 255.2,469.5 253.1,467 251.1,464.4 249.2,461.8 247.4,459 245.7,456.2 244.2,453.2 242.9,450.1 241.7,446.9 240.6,443.6 239.7,440.2 239.2,436.6 238.9,432.8 238.7,429 238.7,425.2 238.8,421.5 238.9,417.8 239.1,414.2 239.5,410.5 239.9,406.9 240.5,403.4 241,399.9 241.6,396.5 242.2,393.3 243,390 243.8,386.8 244.7,383.6 245.6,380.5 246.4,377.6 247,374.8 247.5,372.2 247.8,369.8 248,367.4 248.2,365.1 248.3,362.8 248.4,360.7 248.3,358.6 248.1,356.6 247.8,354.6 247.5,352.6 247.2,350.7 246.9,348.8 246.6,346.8 246,345 245,343.2 243.9,341.5 242.6,339.7 241.4,338 240.1,336.2 238.7,334.3 237.1,332.5 235.5,330.6 233.7,328.7 231.8,326.7 229.9,324.7 227.9,322.6 225.7,320.4 223.4,318.2 221.1,315.9 218.9,313.5 216.7,311 214.5,308.5 212.3,305.8 210.2,303.1 208.1,300.4 206.1,297.5 204.2,294.5 202.2,291.5 200.2,288.4 198.4,285.2 196.7,282 195.2,278.7 194,275.5 193,272.2 192.1,268.8 191.2,265.5 190.6,262.1 190.2,258.7 189.9,255.4 190,252.1 190.3,248.9 190.7,245.7 191.2,242.5 191.9,239.4 192.6,236.2 193.6,233.2 194.7,230.2 196.1,227.3 197.8,224.6 199.8,222.2 202.2,219.9 204.7,217.8 207.3,215.8 209.9,213.9 212.7,212.1 215.5,210.4 218.5,208.9 221.6,207.6 224.8,206.4 228.1,205.3 231.5,204.4 235.1,203.9 238.9,203.6 242.7,203.4 246.5,203.4 250.2,203.5 253.9,203.6 257.5,203.8 261.2,204.2 264.8,204.6 268.3,205.2 271.8,205.7 275.2,206.3 278.4,206.9 281.7,207.7 284.9,208.5 288.1,209.4 291.2,210.3 294.1,211.1 296.9,211.7 299.5,212.2 301.9,212.5 304.3,212.7 306.6,212.9 308.9,213 311,213.1 313.1,213 315.1,212.8 317.1,212.5 319.1,212.2 321,211.9 322.9,211.6 324.9,211.3 326.7,210.7 328.5,209.7 330.2,208.6 332,207.3 333.7,206.1 335.5,204.8 337.4,203.4 339.2,201.8 341.1,200.2 343,198.4 345,196.5 347,194.6 349.1,192.6 351.3,190.4 " fill="none" stroke="#ffa500" stroke-width="1.2" marker-start="url(#mo2)" marker-mid="url(#mo2)" marker-end="url(#mo2)"/>
<polyline points="353.5,186.5 355.8,184.4 358.2,182.4 360.7,180.3 363.3,178.3 365.9,176.3 368.6,174.3 371.4,172.4 374.2,170.6 377.2,168.7 380.2,166.8 383.3,165 386.4,163.3 389.6,161.7 392.9,160.3 396.1,159.1 399.4,158.2 402.7,157.3 406,156.6 409.4,156 412.7,155.6 416,155.4 419.2,155.5 422.4,155.8 425.6,156.3 428.8,156.8 431.9,157.5 435,158.2 438,159.2 441,160.4 443.8,161.7 446.5,163.4 449,165.4 451.2,167.7 453.3,170.2 455.3,172.8 457.3,175.4 459.1,178.1 460.8,180.9 462.3,183.9 463.7,186.9 464.9,190.1 466,193.3 466.9,196.6 467.5,200.2 467.9,203.8 468,207.6 468.1,211.3 468.1,215 468,218.6 467.9,222.2 467.6,225.8 467.2,229.4 466.7,232.9 466.2,236.3 465.7,239.6 465.2,242.9 464.5,246.1 463.8,249.3 463,252.4 462.2,255.5 461.4,258.4 460.8,261.1 460.4,263.7 460.2,266.1 460.1,268.5 459.9,270.8 459.9,273.1 459.9,275.2 460,277.3 460.3,279.3 460.7,281.3 461,283.3 461.4,285.2 461.8,287.1 462.3,289.1 463,290.9 464,292.7 465.2,294.5 466.6,296.2 467.8,298 469.1,299.9 470.6,301.7 472.1,303.6 473.8,305.6 475.5,307.5 477.3,309.5 479.1,311.6 481,313.7 483.1,315.9 485.2,318.2 487.3,320.5 489.3,322.9 491.4,325.4 493.4,328 495.4,330.6 497.4,333.3 499.3,336.1 501.1,338.9 503,341.9 504.9,344.9 506.7,348 508.4,351.1 510,354.3 511.4,357.6 512.6,360.8 513.5,364.1 514.4,367.4 515.1,370.7 515.7,374.1 516.1,377.4 516.3,380.7 516.2,383.9 515.9,387.1 515.4,390.3 514.9,393.5 514.2,396.6 513.5,399.7 512.5,402.7 511.3,405.7 510,408.5 508.3,411.2 506.3,413.7 504,415.9 501.5,418 498.9,420 496.3,422 493.6,423.8 490.8,425.5 487.8,427 484.8,428.4 481.6,429.6 478.4,430.7 475.1,431.6 471.5,432.2 467.9,432.6 464.1,432.7 460.4,432.8 456.7,432.8 453.1,432.7 449.5,432.6 445.9,432.3 442.3,431.9 438.8,431.4 435.4,430.9 432.1,430.4 428.8,429.9 425.6,429.2 422.4,428.5 419.3,427.7 416.2,426.9 413.3,426.1 410.6,425.5 408,425.1 405.6,424.9 403.2,424.8 400.9,424.6 398.6,424.6 396.5,424.6 394.4,424.7 392.4,425 390.4,425.4 388.4,425.7 386.5,426.1 384.6,426.5 382.6,427 380.8,427.7 379,428.7 377.2,429.9 375.5,431.3 373.7,432.5 371.8,433.8 370,435.3 368.1,436.8 366.1,438.5 364.2,440.2 362.2,442 360.1,443.8 358,445.7 355.8,447.8 353.5,449.9 351.2,452 348.8,454 346.3,456.1 343.7,458.1 341.1,460.1 338.4,462.1 335.6,464 332.8,465.8 329.8,467.7 326.8,469.6 323.7,471.4 320.6,473.1 317.4,474.7 314.1,476.1 310.9,477.3 307.6,478.2 304.3,479.1 301,479.8 297.6,480.4 294.3,480.8 291,481 287.8,480.9 284.6,480.6 281.4,480.1 278.2,479.6 275.1,478.9 272,478.2 269,477.2 266,476 263.2,474.7 260.5,473 258,471 255.8,468.7 253.7,466.2 251.7,463.6 249.7,461 247.9,458.3 246.2,455.5 244.7,452.5 243.3,449.5 242.1,446.3 241,443.1 240.1,439.8 239.5,436.2 239.1,432.6 239,428.8 238.9,425.1 238.9,421.4 239,417.8 239.1,414.2 239.4,410.6 239.8,407 240.3,403.5 240.8,400.1 241.3,396.8 241.8,393.5 242.5,390.3 243.2,387.1 244,384 244.8,380.9 245.6,378 246.2,375.3 246.6,372.7 246.8,370.3 246.9,367.9 247.1,365.6 247.1,363.3 247.1,361.2 247,359.1 246.7,357.1 246.3,355.1 246,353.1 245.6,351.2 245.2,349.3 244.7,347.3 244,345.5 243,343.7 241.8,341.9 240.4,340.2 239.2,338.4 237.9,336.5 236.4,334.7 234.9,332.8 233.2,330.8 231.5,328.9 229.7,326.9 227.9,324.8 226,322.7 223.9,320.5 221.8,318.2 219.7,315.9 217.7,313.5 215.6,311 213.6,308.4 211.6,305.8 209.6,303.1 207.7,300.3 205.9,297.5 204,294.5 202.1,291.5 200.3,288.4 198.6,285.3 197,282.1 195.6,278.8 194.4,275.6 193.5,272.3 192.6,269 191.9,265.7 191.3,262.3 190.9,259 190.7,255.7 190.8,252.5 191.1,249.3 191.6,246.1 192.1,242.9 192.8,239.8 193.5,236.7 194.5,233.7 195.7,230.7 197,227.9 198.7,225.2 200.7,222.7 203,220.5 205.5,218.4 208.1,216.4 210.7,214.4 213.4,212.6 216.2,210.9 219.2,209.4 222.2,208 225.4,206.8 228.6,205.7 231.9,204.8 235.5,204.2 239.1,203.8 242.9,203.7 246.6,203.6 250.3,203.6 253.9,203.7 257.5,203.8 261.1,204.1 264.7,204.5 268.2,205 271.6,205.5 274.9,206 278.2,206.5 281.4,207.2 284.6,207.9 287.7,208.7 290.8,209.5 293.7,210.3 296.4,210.9 299,211.3 301.4,211.5 303.8,211.6 306.1,211.8 308.4,211.8 310.5,211.8 312.6,211.7 314.6,211.4 316.6,211 318.6,210.7 320.5,210.3 322.4,209.9 324.4,209.4 326.2,208.7 328,207.7 329.8,206.5 331.5,205.1 333.3,203.9 335.2,202.6 337,201.1 338.9,199.6 340.9,197.9 342.8,196.2 344.8,194.4 346.9,192.6 349,190.7 351.2,188.6 " fill="none" stroke="none" stroke-width="0" marker-start="url(#mg)" marker-mid="url(#mg)" marker-end="url(#mg)"/>
<polyline points="353.5,185.4 355.9,183.4 358.3,181.5 360.8,179.6 363.3,177.6 366,175.8 368.7,173.9 371.4,172.1 374.3,170.4 377.2,168.6 380.2,166.8 383.3,165.1 386.4,163.4 389.6,161.9 392.8,160.6 396,159.5 399.3,158.6 402.6,157.8 405.9,157.1 409.2,156.5 412.5,156.1 415.8,156 419,156.1 422.2,156.4 425.3,156.9 428.5,157.4 431.6,158.1 434.7,158.9 437.7,159.9 440.6,161 443.5,162.4 446.1,164 448.6,166 450.8,168.3 452.9,170.8 454.9,173.3 456.9,175.9 458.7,178.6 460.4,181.4 461.9,184.3 463.3,187.3 464.6,190.4 465.7,193.6 466.6,196.9 467.2,200.4 467.7,204 467.9,207.7 468,211.4 468,215.1 468,218.7 467.9,222.2 467.6,225.8 467.3,229.3 466.9,232.7 466.4,236.1 466,239.4 465.5,242.7 464.9,245.9 464.2,249 463.4,252.1 462.7,255.2 462,258 461.5,260.8 461.1,263.4 460.9,265.8 460.8,268.2 460.7,270.5 460.7,272.7 460.8,274.9 460.9,277 461.3,279 461.7,280.9 462.2,282.9 462.6,284.8 463.1,286.8 463.6,288.7 464.4,290.6 465.5,292.4 466.8,294.1 468.1,295.9 469.4,297.8 470.8,299.6 472.2,301.5 473.8,303.4 475.4,305.4 477.1,307.4 478.8,309.4 480.5,311.5 482.3,313.7 484.3,315.9 486.3,318.2 488.3,320.6 490.2,323 492.1,325.5 494.1,328 495.9,330.7 497.8,333.4 499.6,336.1 501.3,339 503.1,341.9 504.9,344.9 506.6,348 508.3,351.1 509.8,354.3 511.1,357.5 512.2,360.7 513.1,364 513.9,367.3 514.6,370.6 515.2,373.9 515.6,377.2 515.7,380.5 515.6,383.7 515.3,386.9 514.8,390 514.3,393.2 513.6,396.3 512.8,399.4 511.8,402.4 510.7,405.3 509.3,408.2 507.7,410.8 505.7,413.3 503.4,415.5 500.9,417.6 498.4,419.6 495.8,421.6 493.1,423.4 490.3,425.1 487.4,426.6 484.4,428 481.3,429.3 478.1,430.4 474.8,431.3 471.3,431.9 467.7,432.4 464,432.6 460.3,432.7 456.6,432.7 453,432.7 449.5,432.6 445.9,432.3 442.4,432 439,431.6 435.6,431.1 432.3,430.7 429,430.2 425.8,429.6 422.7,428.9 419.6,428.1 416.5,427.4 413.7,426.7 410.9,426.2 408.3,425.8 405.9,425.6 403.5,425.5 401.2,425.4 399,425.4 396.8,425.5 394.7,425.6 392.7,426 390.8,426.4 388.8,426.9 386.9,427.3 384.9,427.8 383,428.3 381.1,429.1 379.3,430.2 377.6,431.5 375.8,432.8 373.9,434.1 372.1,435.5 370.2,436.9 368.3,438.5 366.3,440.1 364.3,441.8 362.3,443.5 360.2,445.2 358,447 355.8,449 353.5,451 351.1,453 348.7,454.9 346.2,456.8 343.7,458.8 341,460.6 338.3,462.5 335.6,464.3 332.7,466 329.8,467.8 326.8,469.6 323.7,471.3 320.6,473 317.4,474.5 314.2,475.8 311,476.9 307.7,477.8 304.4,478.6 301.1,479.3 297.8,479.9 294.5,480.3 291.2,480.4 288,480.3 284.8,480 281.7,479.5 278.5,479 275.4,478.3 272.3,477.5 269.3,476.5 266.4,475.4 263.5,474 260.9,472.4 258.4,470.4 256.2,468.1 254.1,465.6 252.1,463.1 250.1,460.5 248.3,457.8 246.6,455 245.1,452.1 243.7,449.1 242.4,446 241.3,442.8 240.4,439.5 239.8,436 239.3,432.4 239.1,428.7 239,425 239,421.3 239,417.7 239.1,414.2 239.4,410.6 239.7,407.1 240.1,403.7 240.6,400.3 241,397 241.5,393.7 242.1,390.5 242.8,387.4 243.6,384.3 244.3,381.2 245,378.4 245.5,375.6 245.9,373 246.1,370.6 246.2,368.2 246.3,365.9 246.3,363.7 246.2,361.5 246.1,359.4 245.7,357.4 245.3,355.5 244.8,353.5 244.4,351.6 243.9,349.6 243.4,347.7 242.6,345.8 241.5,344 240.2,342.3 238.9,340.5 237.6,338.6 236.2,336.8 234.8,334.9 233.2,333 231.6,331 229.9,329 228.2,327 226.5,324.9 224.7,322.7 222.7,320.5 220.7,318.2 218.7,315.8 216.8,313.4 214.9,310.9 212.9,308.4 211.1,305.7 209.2,303 207.4,300.3 205.7,297.4 203.9,294.5 202.1,291.5 200.4,288.4 198.7,285.3 197.2,282.1 195.9,278.9 194.8,275.7 193.9,272.4 193.1,269.1 192.4,265.8 191.8,262.5 191.4,259.2 191.3,255.9 191.4,252.7 191.7,249.5 192.2,246.4 192.7,243.2 193.4,240.1 194.2,237 195.2,234 196.3,231.1 197.7,228.2 199.3,225.6 201.3,223.1 203.6,220.9 206.1,218.8 208.6,216.8 211.2,214.8 213.9,213 216.7,211.3 219.6,209.8 222.6,208.4 225.7,207.1 228.9,206 232.2,205.1 235.7,204.5 239.3,204 243,203.8 246.7,203.7 250.4,203.7 254,203.7 257.5,203.8 261.1,204.1 264.6,204.4 268,204.8 271.4,205.3 274.7,205.7 278,206.2 281.2,206.8 284.3,207.5 287.4,208.3 290.5,209 293.3,209.7 296.1,210.2 298.7,210.6 301.1,210.8 303.5,210.9 305.8,211 308,211 310.2,210.9 312.3,210.8 314.3,210.4 316.2,210 318.2,209.5 320.1,209.1 322.1,208.6 324,208.1 325.9,207.3 327.7,206.2 329.4,204.9 331.2,203.6 333.1,202.3 334.9,200.9 336.8,199.5 338.7,197.9 340.7,196.3 342.7,194.6 344.7,192.9 346.8,191.2 349,189.4 351.2,187.4 " fill="none" stroke="#ffff00" stroke-width="1.0" marker-start="url(#my)" marker-mid="url(#my)" marker-end="url(#my)"/>
<polyline points="353.5,116.8 357,115.3 360.6,113.7 364.3,112.1 368,110.6 371.8,109.2 375.6,108.2 379.4,107.2 383.3,106.3 387.2,105.6 391.1,105.1 395,104.9 398.8,105.1 402.6,105.5 406.4,106 410.2,106.6 414,107.4 417.7,108.3 421.3,109.4 424.9,110.8 428.4,112.3 431.9,114 435.3,115.9 438.6,117.8 441.8,119.8 445.1,121.8 448.2,124 451.3,126.4 454.2,128.8 457.1,131.3 459.9,133.9 462.6,136.6 465.3,139.2 468,141.9 470.6,144.5 473.2,147.2 475.8,149.9 478.2,152.7 480.6,155.5 482.9,158.4 485,161.5 487,164.6 488.9,167.9 490.6,171.2 492.3,174.5 493.9,177.8 495.4,181.2 496.8,184.6 498.1,188 499.4,191.4 500.6,194.8 501.7,198.2 502.7,201.6 503.7,205 504.7,208.4 505.5,211.8 506.2,215.2 506.9,218.6 507.6,221.9 508.4,225.1 509.3,228.2 510.3,231.3 511.3,234.3 512.2,237.3 513.2,240.3 514.3,243.2 515.5,246.1 516.8,248.9 518.3,251.6 519.8,254.4 521.4,257.1 523,259.8 524.6,262.6 526.3,265.4 528.1,268.1 530,270.9 531.9,273.7 533.9,276.6 535.8,279.4 537.6,282.4 539.4,285.4 541.2,288.5 543,291.6 544.8,294.7 546.5,297.9 548.1,301.2 549.7,304.5 551.1,307.8 552.4,311.3 553.6,314.7 554.9,318.2 556.4,321.7 558,325.3 559.6,329 561.1,332.7 562.5,336.5 563.5,340.3 564.5,344.1 565.4,348 566.1,351.9 566.6,355.8 566.8,359.7 566.6,363.5 566.2,367.3 565.7,371.1 565.1,374.9 564.3,378.7 563.4,382.4 562.3,386 560.9,389.6 559.4,393.1 557.7,396.6 555.8,400 553.9,403.3 551.9,406.5 549.9,409.8 547.7,412.9 545.3,416 542.9,418.9 540.4,421.8 537.8,424.6 535.1,427.3 532.5,430 529.8,432.7 527.2,435.3 524.5,437.9 521.8,440.5 519,442.9 516.2,445.3 513.3,447.6 510.2,449.7 507.1,451.7 503.8,453.6 500.5,455.3 497.2,457 493.9,458.6 490.5,460.1 487.1,461.5 483.7,462.8 480.3,464.1 476.9,465.3 473.5,466.4 470.1,467.4 466.7,468.4 463.3,469.4 459.9,470.2 456.5,470.9 453.1,471.6 449.8,472.3 446.6,473.1 443.5,474 440.4,475 437.4,476 434.4,476.9 431.4,477.9 428.5,479 425.6,480.2 422.8,481.5 420.1,483 417.3,484.5 414.6,486.1 411.9,487.7 409.1,489.3 406.3,491 403.6,492.8 400.8,494.7 398,496.6 395.1,498.6 392.3,500.5 389.3,502.3 386.3,504.1 383.2,505.9 380.1,507.7 377,509.5 373.8,511.2 370.5,512.8 367.2,514.4 363.9,515.8 360.4,517.1 357,518.3 353.5,519.6 350,521.1 346.4,522.7 342.7,524.3 339,525.8 335.2,527.2 331.4,528.2 327.6,529.2 323.7,530.1 319.8,530.8 315.9,531.3 312,531.5 308.2,531.3 304.4,530.9 300.6,530.4 296.8,529.8 293,529 289.3,528.1 285.7,527 282.1,525.6 278.6,524.1 275.1,522.4 271.7,520.5 268.4,518.6 265.2,516.6 261.9,514.6 258.8,512.4 255.7,510 252.8,507.6 249.9,505.1 247.1,502.5 244.4,499.8 241.7,497.2 239,494.5 236.4,491.9 233.8,489.2 231.2,486.5 228.8,483.7 226.4,480.9 224.1,478 222,474.9 220,471.8 218.1,468.5 216.4,465.2 214.7,461.9 213.1,458.6 211.6,455.2 210.2,451.8 208.9,448.4 207.6,445 206.4,441.6 205.3,438.2 204.3,434.8 203.3,431.4 202.3,428 201.5,424.6 200.8,421.2 200.1,417.8 199.4,414.5 198.6,411.3 197.7,408.2 196.7,405.1 195.7,402.1 194.8,399.1 193.8,396.1 192.7,393.2 191.5,390.3 190.2,387.5 188.7,384.8 187.2,382 185.6,379.3 184,376.6 182.4,373.8 180.7,371 178.9,368.3 177,365.5 175.1,362.7 173.1,359.8 171.2,357 169.4,354 167.6,351 165.8,347.9 164,344.8 162.2,341.7 160.5,338.5 158.9,335.2 157.3,331.9 155.9,328.6 154.6,325.1 153.4,321.7 152.1,318.2 150.6,314.7 149,311.1 147.4,307.4 145.9,303.7 144.5,299.9 143.5,296.1 142.5,292.3 141.6,288.4 140.9,284.5 140.4,280.6 140.2,276.7 140.4,272.9 140.8,269.1 141.3,265.3 141.9,261.5 142.7,257.7 143.6,254 144.7,250.4 146.1,246.8 147.6,243.3 149.3,239.8 151.2,236.4 153.1,233.1 155.1,229.9 157.1,226.6 159.3,223.5 161.7,220.4 164.1,217.5 166.6,214.6 169.2,211.8 171.9,209.1 174.5,206.4 177.2,203.7 179.8,201.1 182.5,198.5 185.2,195.9 188,193.5 190.8,191.1 193.7,188.8 196.8,186.7 199.9,184.7 203.2,182.8 206.5,181.1 209.8,179.4 213.1,177.8 216.5,176.3 219.9,174.9 223.3,173.6 226.7,172.3 230.1,171.1 233.5,170 236.9,169 240.3,168 243.7,167 247.1,166.2 250.5,165.5 253.9,164.8 257.2,164.1 260.4,163.3 263.5,162.4 266.6,161.4 269.6,160.4 272.6,159.5 275.6,158.5 278.5,157.4 281.4,156.2 284.2,154.9 286.9,153.4 289.7,151.9 292.4,150.3 295.1,148.7 297.9,147.1 300.7,145.4 303.4,143.6 306.2,141.7 309,139.8 311.9,137.8 314.7,135.9 317.7,134.1 320.7,132.3 323.8,130.5 326.9,128.7 330,126.9 333.2,125.2 336.5,123.6 339.8,122 343.1,120.6 346.6,119.3 350,118.1 " fill="none" stroke="none" stroke-width="0" marker-start="url(#mo)" marker-mid="url(#mo)" marker-end="url(#mo)"/>
<polyline points="353.5,302.3 353.8,299.8 354.3,294.4 355,289.1 355.8,285.1 356.7,281.3 357.8,277.6 359,273.7 360.3,269.6 361.9,264.9 363.8,259.7 365.9,254.4 368.1,249.3 370.5,244.7 373,240.2 375.6,235.9 378.3,231.7 381.1,227.8 384.1,224.1 387,220.8 390,217.8 393.1,215.2 396.1,212.7 399.2,210.5 402.5,208.2 405.8,206 409.4,203.6 413.2,200.9 417.2,198.3 421.3,195.9 425.3,193.8 429.2,192.2 433,190.9 436.9,189.8 440.5,189.2 443.7,189.3 446.7,189.9 449.6,190.7 452.2,191.9 454.4,193.7 456.2,195.8 457.7,198.3 459.1,200.9 460.3,203.7 461.1,206.7 461.5,210.2 461.5,213.9 461.2,217.7 460.9,221.5 460.2,225.5 459.2,229.5 458,233.6 456.7,237.6 455.3,241.5 453.8,245.3 452.1,249.2 450,253.1 447.6,257.1 444.4,261.4 441,265.6 437.9,269.4 435.1,273 432.2,276.4 429.4,279.5 426.8,282.5 424.2,285.2 421.8,287.8 419.5,290.2 417.4,292.4 415.3,294.5 413.2,296.5 411,298.4 408.7,300.3 406.3,302.1 403.7,303.8 401.1,305.4 398.4,307 395.8,308.4 393.2,309.8 390.7,311 388.3,312.1 386.1,313 383.8,313.9 381.6,314.8 379.3,315.5 376.9,316.2 373.9,316.8 370.8,317.3 369.4,317.6 369.4,317.9 369.4,318.2 371.9,318.5 377.3,319 382.6,319.7 386.6,320.5 390.4,321.4 394.1,322.5 398,323.7 402.1,325 406.8,326.6 412,328.5 417.3,330.6 422.4,332.8 427,335.2 431.5,337.7 435.8,340.3 440,343 443.9,345.8 447.6,348.8 450.9,351.7 453.9,354.7 456.5,357.8 459,360.8 461.2,363.9 463.5,367.2 465.7,370.5 468.1,374.1 470.8,377.9 473.4,381.9 475.8,386 477.9,390 479.5,393.9 480.8,397.7 481.9,401.6 482.5,405.2 482.4,408.4 481.8,411.4 481,414.3 479.8,416.9 478,419.1 475.9,420.9 473.4,422.4 470.8,423.8 468,425 465,425.8 461.5,426.2 457.8,426.2 454,425.9 450.2,425.6 446.2,424.9 442.2,423.9 438.1,422.7 434.1,421.4 430.2,420 426.4,418.5 422.5,416.8 418.6,414.7 414.6,412.3 410.3,409.1 406.1,405.7 402.3,402.6 398.7,399.8 395.3,396.9 392.2,394.1 389.2,391.5 386.5,388.9 383.9,386.5 381.5,384.2 379.3,382.1 377.2,380 375.2,377.9 373.3,375.7 371.4,373.4 369.6,371 367.9,368.4 366.3,365.8 364.7,363.1 363.3,360.5 361.9,357.9 360.7,355.4 359.6,353 358.7,350.8 357.8,348.5 356.9,346.3 356.2,344 355.5,341.6 354.9,338.6 354.4,335.5 354.1,334.1 353.8,334.1 353.5,334.1 353.2,336.6 352.7,342 352,347.3 351.2,351.3 350.3,355.1 349.2,358.8 348,362.7 346.7,366.8 345.1,371.5 343.2,376.7 341.1,382 338.9,387.1 336.5,391.7 334,396.2 331.4,400.5 328.7,404.7 325.9,408.6 322.9,412.3 320,415.6 317,418.6 313.9,421.2 310.9,423.7 307.8,425.9 304.5,428.2 301.2,430.4 297.6,432.8 293.8,435.5 289.8,438.1 285.7,440.5 281.7,442.6 277.8,444.2 274,445.5 270.1,446.6 266.5,447.2 263.3,447.1 260.3,446.5 257.4,445.7 254.8,444.5 252.6,442.7 250.8,440.6 249.3,438.1 247.9,435.5 246.7,432.7 245.9,429.7 245.5,426.2 245.5,422.5 245.8,418.7 246.1,414.9 246.8,410.9 247.8,406.9 249,402.8 250.3,398.8 251.7,394.9 253.2,391.1 254.9,387.2 257,383.3 259.4,379.3 262.6,375 266,370.8 269.1,367 271.9,363.4 274.8,360 277.6,356.9 280.2,353.9 282.8,351.2 285.2,348.6 287.5,346.2 289.6,344 291.7,341.9 293.8,339.9 296,338 298.3,336.1 300.7,334.3 303.3,332.6 305.9,331 308.6,329.4 311.2,328 313.8,326.6 316.3,325.4 318.7,324.3 320.9,323.4 323.2,322.5 325.4,321.6 327.7,320.9 330.1,320.2 333.1,319.6 336.2,319.1 337.6,318.8 337.6,318.5 337.6,318.2 335.1,317.9 329.7,317.4 324.4,316.7 320.4,315.9 316.6,315 312.9,313.9 309,312.7 304.9,311.4 300.2,309.8 295,307.9 289.7,305.8 284.6,303.6 280,301.2 275.5,298.7 271.2,296.1 267,293.4 263.1,290.6 259.4,287.6 256.1,284.7 253.1,281.7 250.5,278.6 248,275.6 245.8,272.5 243.5,269.2 241.3,265.9 238.9,262.3 236.2,258.5 233.6,254.5 231.2,250.4 229.1,246.4 227.5,242.5 226.2,238.7 225.1,234.8 224.5,231.2 224.6,228 225.2,225 226,222.1 227.2,219.5 229,217.3 231.1,215.5 233.6,214 236.2,212.6 239,211.4 242,210.6 245.5,210.2 249.2,210.2 253,210.5 256.8,210.8 260.8,211.5 264.8,212.5 268.9,213.7 272.9,215 276.8,216.4 280.6,217.9 284.5,219.6 288.4,221.7 292.4,224.1 296.7,227.3 300.9,230.7 304.7,233.8 308.3,236.6 311.7,239.5 314.8,242.3 317.8,244.9 320.5,247.5 323.1,249.9 325.5,252.2 327.7,254.3 329.8,256.4 331.8,258.5 333.7,260.7 335.6,263 337.4,265.4 339.1,268 340.7,270.6 342.3,273.3 343.7,275.9 345.1,278.5 346.3,281 347.4,283.4 348.3,285.6 349.2,287.9 350.1,290.1 350.8,292.4 351.5,294.8 352.1,297.8 352.6,300.9 352.9,302.3 353.2,302.3 " fill="none" stroke="none" stroke-width="0" marker-start="url(#mdot)" marker-mid="url(#mdot)" marker-end="url(#mdot)"/>
<circle cx="353.5" cy="318.2" r="260.9" fill="none" stroke="#000" stroke-width="2.2"/>
</g>
<g id="pf">
<g fill="none" stroke="#b0b0b0" stroke-width="1.5">
<circle cx="357.3" cy="953.5" r="28.7"/>
<circle cx="357.3" cy="953.5" r="76.6"/>
<circle cx="357.3" cy="953.5" r="124.5"/>
<circle cx="357.3" cy="953.5" r="172.4"/>
<circle cx="357.3" cy="953.5" r="220.3"/>
<path d="M357.3 953.5L357.3 694.5M357.3 953.5L540.4 770.4M357.3 953.5L616.3 953.5M357.3 953.5L540.4 1136.6M357.3 953.5L357.3 1212.5M357.3 953.5L174.2 1136.6M357.3 953.5L98.3 953.5M357.3 953.5L174.2 770.4"/>
</g>
<g font-size="27.5" text-anchor="middle" dominant-baseline="central">
<text x="357.3" y="665.8">0°</text>
<text x="560.5" y="749.9">45°</text>
<text x="644.6" y="953.1">90°</text>
<text x="560.5" y="1156.3">135°</text>
<text x="357.3" y="1240.4">180°</text>
<text x="154.1" y="1156.3">225°</text>
<text x="70" y="953.1">270°</text>
<text x="154.1" y="749.9">315°</text>
<text x="359.4" y="914.2">10</text>
<text x="335.5" y="872.7">15</text>
<text x="311.5" y="831.2">20</text>
<text x="287.6" y="789.8">25</text>
<text x="263.6" y="748.3">30</text>
</g>
<defs><marker id="mf" markerWidth="12" markerHeight="12" refX="6" refY="6" markerUnits="userSpaceOnUse"><circle cx="6" cy="6" r="3.55" fill="#ffa500" stroke="#0000ff" stroke-width="1.8"/></marker></defs>
<polyline points="357.3,819.4 359.3,838.6 359.6,886.5 360.8,886.5 362.6,877 367.3,839 359.3,934.4 359.6,934.5 366.6,887.1 360.3,934.6 360.6,934.6 371.9,878.3 361.3,934.8 361.6,934.8 361.9,934.9 362.3,935 362.6,935.1 362.9,935.2 363.2,935.3 363.5,935.4 380.2,890.5 364.2,935.6 364.5,935.7 364.8,935.9 384.6,892.2 365.4,936.1 365.7,936.3 366,936.4 366.3,936.6 389.8,894.8 366.9,936.9 367.2,937.1 392.8,896.6 367.7,937.4 426.9,850.3 395.8,898.6 368.6,938 368.8,938.2 439.9,847.8 399.5,901.4 455.8,836.1 420.2,881.2 402.2,903.7 370.4,939.5 457.1,850.1 404.7,906.1 419.3,893.6 371.3,940.4 414.3,902.2 371.8,940.9 423.3,898.1 372.2,941.4 372.4,941.7 372.6,942 372.8,942.2 373,942.5 373.2,942.8 373.4,943.1 414.2,918 373.7,943.6 373.9,943.9 374.1,944.2 374.2,944.5 374.4,944.8 417.6,924.1 374.7,945.4 374.8,945.7 374.9,946 428.4,924.8 428.8,926 465.3,914.2 429.8,928.5 484.9,912.1 421.4,933.9 513.9,908.6 496.1,916.3 468.8,925.7 534.7,912.6 488.5,925.6 498.4,926.1 423.3,941.9 537.1,925 518.6,930.8 547.5,930.1 509.7,937.5 424.1,947.7 586.7,937.5 500.8,946 567.9,946.1 443.5,952 491.4,953.5 510.6,956.2 558.4,960.5 491.2,960.5 491.1,962.9 433.6,960.2 471.6,965.5 423.9,961.7 423.7,962.8 423.5,964 423.3,965.1 423.1,966.3 422.9,967.4 422.6,968.6 375.9,958.1 375.8,958.5 375.7,958.8 421.4,973.1 430.2,977.2 466,990.9 474.3,996.1 464.6,994.7 472.8,1000.2 471.9,1002.2 462.3,1000.3 461.5,1002.1 477.8,1012.3 459.7,1005.7 425,989.5 432.7,995.3 473.5,1020.6 431.2,997.9 471,1024.6 445.7,1010.9 452.6,1017.8 451.5,1019.4 442.6,1015.4 433.8,1011.2 432.8,1012.5 469,1043.9 430.7,1015.1 415.1,1003.8 428.5,1017.6 448.4,1038.4 453.8,1046.7 370.8,967 417.2,1015.5 429.2,1030.6 453.5,1060.3 439,1047.5 418.9,1026.9 417.6,1028 369.1,968.6 368.8,968.8 396.7,1007.8 368.3,969.2 368,969.4 367.7,969.6 367.5,969.7 367.2,969.9 366.9,970.1 366.6,970.3 388.8,1012.7 387.7,1013.3 365.7,970.7 385.6,1014.3 365.1,971 364.8,971.1 364.5,971.3 405.4,1078.7 383.5,1025.5 379.1,1016.9 398.7,1081.1 376.9,1017.6 383.7,1045.6 377.1,1027.5 361.9,972.1 393.9,1112.2 373.2,1028.5 384.7,1094.6 378.9,1076.1 376.8,1076.5 368,1029.4 378.3,1124.7 374.3,1115.5 368.2,1077.6 367.3,1096.8 364.8,1097 361.6,1078 358.5,1020.5 357.3,1078 356.1,1020.5 353,1078 353.8,1020.5 347.9,1087.3 351.5,1020.3 344.3,1077.4 355,972.5 354.6,972.5 354.3,972.4 345.7,1019.5 353.6,972.3 353.3,972.2 353,972.2 352.7,972.1 352.3,972 352,971.9 351.7,971.8 351.4,971.7 351.1,971.6 350.7,971.5 333.3,1016.1 350.1,971.3 349.8,971.1 349.5,971 349.2,970.9 327.9,1013.8 348.6,970.6 316.8,1029.6 348,970.3 347.7,970.1 347.4,969.9 321.8,1010.4 315.6,1017.8 346.6,969.4 307.8,1024.1 301,1031 282.3,1053 310.1,1013.9 345.2,968.4 314.2,1004.9 281.9,1040.3 280.4,1038.9 344.2,967.5 304.1,1008.6 269.2,1041.6 253.9,1053.3 308.3,999.2 293.2,1011.2 306.7,997.5 291.3,1008.9 342.4,965.6 296.9,1000.7 342,965 341.8,964.8 341.6,964.5 341.4,964.2 341.2,963.9 341.1,963.7 340.9,963.4 290.9,991.8 340.5,962.8 340.4,962.5 340.2,962.2 340.1,961.9 339.9,961.6 339.8,961.3 295.6,979.7 295.1,978.6 294.7,977.5 294.3,976.4 293.9,975.3 193.3,1006.8 219.9,995.5 237.6,987.8 264.8,978.3 282.9,972 151.9,1000.9 123,1003.3 253.9,973.6 225.2,976.8 111.3,992.5 148.6,982.8 281.2,962.8 195.3,970.5 271.4,961 156.6,967.5 280.8,957.5 146.7,960.9 271.1,955 223.2,953.5 223.2,951.2 223.3,948.8 280.8,949.5 233.1,944.8 242.8,943.5 281.1,945.5 233.7,938.3 243.5,937.5 291.1,943 291.3,941.9 253.9,933.4 282.3,937.6 292,938.4 292.2,937.3 227.8,918.8 246.8,921.8 293.2,933.9 293.5,932.8 248.6,916.1 240.3,910.9 250,912.3 250.7,910.4 242.7,904.8 252.3,906.7 253.1,904.9 236.8,894.7 254.9,901.3 289.6,917.5 281.9,911.7 241.1,886.4 283.4,909.1 235.4,877.4 277,901.3 262,889.2 271,893.1 287.5,902.8 273.1,890.1 289.4,900.4 268,881.2 283.9,891.9 292.2,896.9 293.2,895.8 252.2,855.5 274.6,873.6 296.3,892.5 297.4,891.5 285.4,876.4 267.6,853.8 288.2,874 283.4,865.4 303,886.5 304.2,885.6 345.8,938.2 346,938 346.3,937.8 346.6,937.6 346.9,937.4 347.1,937.3 347.4,937.1 347.7,936.9 348,936.7 348.3,936.6 322.5,885.2 327.9,893.2 349.2,936.1 349.5,936 349.8,935.9 350.1,935.7 302.4,810.4 331.1,881.5 329.2,872 321.8,844.2 351.7,935.2 333.5,870.6 352.3,935 341.1,888.4 320.7,794.8 339.4,869.2 331.7,821.8 344,878 334.8,811.6 338.6,820.7 343.3,839.4 337.3,762.9 343.1,791.3 347.3,810.2 351.3,838.7 356.6,934.4 356.1,886.5 " fill="none" stroke="#1f77b4" stroke-width="2" stroke-linejoin="round" marker-start="url(#mf)" marker-mid="url(#mf)" marker-end="url(#mf)"/>
<circle cx="357.3" cy="953.5" r="259.0" fill="none" stroke="#000" stroke-width="2.2"/>
<rect x="469.8" y="651.1" width="159" height="50.6" rx="5.5" ry="5.5" fill="#fff" fill-opacity="0.8" stroke="#ccc" stroke-width="1.4"/>
<path d="M479.4 672.8H533.7" stroke="#1f77b4" stroke-width="2" fill="none"/>
<circle cx="506.5" cy="672.8" r="3.55" fill="#ffa500" stroke="#0000ff" stroke-width="1.8"/>
<text x="549" y="682" font-size="27.5"><tspan font-style="italic">L</tspan><tspan font-size="18.6" dy="2.8">string</tspan></text>
</g>
<defs><path id="dA" d="M-319 -1938h0M-276 -1944h0M-201 -1953h0M-158 -1957h0M-79 -1962h0M-4 -1962h0M70 -1962h0M108 -1943h0M147 -1958h0M189 -1954h0M320 -1937h0M-397 -1890h0M-433 -1915h0M-360 -1927h0M-210 -1911h0M-168 -1916h0M-92 -1922h0M-41 -1921h0M26 -1931h0M67 -1920h0M164 -1919h0M230 -1919h0M263 -1946h0M362 -1930h0M399 -1908h0M469 -1906h0M-627 -1861h0M-569 -1880h0M-514 -1895h0M-414 -1851h0M-281 -1875h0M-239 -1880h0M-198 -1870h0M-127 -1897h0M-2 -1899h0M24 -1865h0M64 -1878h0M102 -1859h0M230 -1876h0M318 -1894h0M408 -1842h0M432 -1882h0M507 -1863h0M542 -1887h0M582 -1875h0M-702 -1832h0M-641 -1822h0M-485 -1865h0M-479 -1823h0M-372 -1852h0M-437 -1815h0M-332 -1864h0M-264 -1836h0M-166 -1842h0M-126 -1854h0M-47 -1820h0M-15 -1847h0M88 -1819h0M141 -1876h0M259 -1822h0M302 -1855h0M344 -1860h0M514 -1821h0M620 -1855h0M715 -1829h0M-802 -1793h0M-676 -1799h0M-603 -1802h0M-589 -1842h0M-562 -1810h0M-521 -1822h0M-302 -1806h0M-199 -1814h0M-121 -1811h0M-87 -1836h0M-40 -1774h0M20 -1823h0M135 -1831h0M208 -1816h0M364 -1823h0M453 -1781h0M471 -1820h0M646 -1786h0M671 -1821h0M810 -1789h0M-871 -1760h0M-747 -1782h0M-707 -1771h0M-540 -1775h0M-499 -1786h0M-402 -1750h0M-305 -1764h0M-340 -1788h0M-265 -1785h0M-224 -1775h0M-182 -1776h0M-79 -1791h0M74 -1768h0M151 -1778h0M180 -1748h0M291 -1773h0M330 -1790h0M371 -1779h0M412 -1771h0M495 -1779h0M537 -1785h0M575 -1768h0M687 -1759h0M768 -1786h0M849 -1771h0M-933 -1728h0M-815 -1753h0M-764 -1728h0M-663 -1758h0M-606 -1752h0M-579 -1720h0M-476 -1750h0M-449 -1719h0M-330 -1694h0M-202 -1739h0M-126 -1740h0M-84 -1749h0M27 -1748h0M97 -1731h0M139 -1738h0M254 -1728h0M296 -1731h0M404 -1729h0M481 -1713h0M611 -1746h0M652 -1735h0M758 -1742h0M781 -1680h0M851 -1721h0M914 -1738h0M-985 -1699h0M-891 -1723h0M-881 -1682h0M-841 -1695h0M-729 -1705h0M-695 -1730h0M-608 -1671h0M-499 -1714h0M-539 -1701h0M-408 -1708h0M-371 -1687h0M-338 -1736h0M-298 -1722h0M-259 -1706h0M-185 -1700h0M-144 -1701h0M-45 -1732h0M-44 -1689h0M-3 -1699h0M124 -1698h0M189 -1682h0M305 -1690h0M337 -1717h0M375 -1699h0M455 -1679h0M542 -1743h0M552 -1693h0M653 -1693h0M719 -1725h0M794 -1720h0M889 -1703h0M-999 -1659h0M-844 -1652h0M-806 -1671h0M-803 -1713h0M-677 -1677h0M-684 -1636h0M-468 -1652h0M-315 -1638h0M-291 -1678h0M-210 -1666h0M-117 -1668h0M83 -1691h0M150 -1665h0M225 -1651h0M230 -1693h0M343 -1670h0M413 -1681h0M513 -1676h0M617 -1671h0M720 -1682h0M782 -1638h0M952 -1718h0M970 -1670h0M1012 -1677h0M1051 -1659h0M-1083 -1599h0M-1080 -1640h0M-1038 -1640h0M-937 -1629h0M-898 -1643h0M-774 -1644h0M-732 -1638h0M-644 -1650h0M-611 -1624h0M-574 -1645h0M-534 -1659h0M-504 -1630h0M-431 -1632h0M-407 -1666h0M-273 -1640h0M-188 -1630h0M-146 -1638h0M-111 -1614h0M-52 -1644h0M18 -1658h0M64 -1649h0M184 -1640h0M267 -1650h0M335 -1628h0M409 -1638h0M477 -1618h0M546 -1649h0M599 -1633h0M654 -1651h0M706 -1642h0M743 -1622h0M819 -1616h0M819 -1659h0M933 -1644h0M995 -1636h0M1035 -1620h0M1113 -1618h0M-1124 -1610h0M-1006 -1613h0M-970 -1591h0M-896 -1601h0M-834 -1605h0M-793 -1599h0M-684 -1581h0M-650 -1606h0M-575 -1603h0M-533 -1599h0M-466 -1610h0M-397 -1607h0M-327 -1597h0M-258 -1594h0M-224 -1568h0M-150 -1595h0M-113 -1571h0M-14 -1624h0M69 -1607h0M110 -1598h0M151 -1601h0M215 -1577h0M254 -1603h0M294 -1617h0M436 -1606h0M469 -1577h0M509 -1590h0M606 -1591h0M674 -1613h0M779 -1595h0M893 -1626h0M928 -1602h0M931 -1560h0M966 -1582h0M1008 -1588h0M1091 -1581h0M1182 -1568h0M-1184 -1567h0M-1161 -1531h0M-1092 -1558h0M-1020 -1573h0M-985 -1550h0M-944 -1557h0M-902 -1559h0M-831 -1563h0M-790 -1554h0M-739 -1548h0M-697 -1541h0M-606 -1575h0M-423 -1558h0M-379 -1534h0M-345 -1559h0M-43 -1562h0M-6 -1582h0M91 -1560h0M135 -1562h0M286 -1576h0M342 -1560h0M394 -1599h0M427 -1564h0M549 -1576h0M586 -1554h0M666 -1572h0M740 -1580h0M819 -1573h0M859 -1602h0M1031 -1542h0M1049 -1580h0M1174 -1527h0M-1217 -1541h0M-1165 -1488h0M-1083 -1503h0M-1056 -1535h0M-995 -1508h0M-886 -1518h0M-802 -1514h0M-760 -1511h0M-658 -1524h0M-646 -1564h0M-509 -1528h0M-459 -1535h0M-308 -1537h0M-269 -1520h0M-234 -1494h0M-196 -1536h0M-160 -1514h0M-120 -1528h0M-81 -1543h0M-7 -1540h0M46 -1506h0M89 -1518h0M161 -1491h0M166 -1533h0M250 -1553h0M365 -1525h0M486 -1519h0M628 -1555h0M691 -1537h0M696 -1495h0M805 -1526h0M890 -1551h0M963 -1532h0M1056 -1508h0M1096 -1522h0M-1126 -1504h0M-1037 -1497h0M-926 -1491h0M-844 -1518h0M-778 -1473h0M-734 -1478h0M-691 -1496h0M-644 -1484h0M-604 -1499h0M-538 -1497h0M-394 -1494h0M-435 -1484h0M-352 -1486h0M-286 -1481h0M4 -1498h0M119 -1488h0M223 -1474h0M232 -1515h0M330 -1483h0M402 -1499h0M452 -1494h0M530 -1494h0M491 -1477h0M578 -1512h0M652 -1520h0M729 -1521h0M790 -1487h0M851 -1527h0M862 -1486h0M977 -1492h0M1161 -1487h0M1237 -1491h0M-1290 -1480h0M-1248 -1476h0M-1182 -1450h0M-1140 -1444h0M-1105 -1467h0M-1033 -1454h0M-992 -1466h0M-912 -1451h0M-824 -1479h0M-578 -1465h0M-472 -1462h0M-441 -1433h0M-252 -1456h0M-209 -1460h0M-167 -1469h0M-97 -1455h0M-128 -1486h0M-30 -1473h0M97 -1452h0M142 -1453h0M185 -1455h0M265 -1489h0M295 -1460h0M349 -1445h0M423 -1433h0M463 -1446h0M642 -1446h0M710 -1453h0M763 -1428h0M830 -1458h0M883 -1450h0M908 -1483h0M981 -1440h0M1017 -1417h0M1127 -1462h0M1200 -1470h0M1265 -1460h0M1307 -1466h0M-1322 -1452h0M-1279 -1411h0M-1208 -1417h0M-1093 -1395h0M-1067 -1430h0M-988 -1424h0M-945 -1425h0M-864 -1402h0M-805 -1441h0M-751 -1439h0M-676 -1457h0M-642 -1432h0M-600 -1425h0M-558 -1427h0M-515 -1423h0M-421 -1396h0M-390 -1424h0M-349 -1411h0M-303 -1400h0M-153 -1419h0M-57 -1440h0M70 -1419h0M94 -1384h0M156 -1394h0M220 -1432h0M313 -1421h0M389 -1459h0M383 -1417h0M458 -1402h0M543 -1422h0M581 -1405h0M723 -1413h0M851 -1422h0M893 -1409h0M945 -1463h0M1062 -1429h0M1139 -1421h0M1256 -1419h0M1342 -1434h0M-1241 -1392h0M-1202 -1376h0M-1166 -1410h0M-1009 -1387h0M-966 -1388h0M-887 -1367h0M-776 -1376h0M-719 -1379h0M-663 -1396h0M-489 -1356h0M-335 -1372h0M-263 -1414h0M-257 -1372h0M-194 -1411h0M-126 -1386h0M-85 -1375h0M-45 -1399h0M31 -1403h0M120 -1417h0M219 -1388h0M322 -1379h0M282 -1391h0M496 -1420h0M644 -1404h0M718 -1368h0M756 -1386h0M826 -1388h0M938 -1384h0M978 -1398h0M1077 -1390h0M1175 -1400h0M1217 -1405h0M1236 -1368h0M1304 -1397h0M1378 -1399h0M1408 -1369h0M-1424 -1352h0M-1378 -1369h0M-1336 -1362h0M-1223 -1339h0M-1055 -1321h0M-1074 -1358h0M-986 -1351h0M-924 -1389h0M-944 -1352h0M-845 -1363h0M-806 -1346h0M-682 -1358h0M-638 -1362h0M-567 -1360h0M-448 -1363h0M-461 -1323h0M-406 -1356h0M-330 -1330h0M-296 -1355h0M-262 -1330h0M-201 -1369h0M-151 -1351h0M-47 -1356h0M23 -1361h0M61 -1340h0M213 -1346h0M253 -1361h0M295 -1346h0M338 -1339h0M380 -1346h0M421 -1358h0M462 -1358h0M503 -1348h0M554 -1374h0M591 -1353h0M633 -1341h0M685 -1394h0M792 -1363h0M872 -1350h0M946 -1342h0M1063 -1350h0M1105 -1357h0M1144 -1371h0M1247 -1327h0M1283 -1350h0M1367 -1358h0M-1473 -1296h0M-1420 -1310h0M-1356 -1326h0M-1271 -1314h0M-1262 -1355h0M-1139 -1337h0M-978 -1309h0M-906 -1329h0M-767 -1322h0M-716 -1331h0M-603 -1338h0M-566 -1317h0M-529 -1341h0M-371 -1319h0M-267 -1288h0M-192 -1328h0M-119 -1314h0M-81 -1332h0M-13 -1327h0M93 -1312h0M134 -1327h0M177 -1324h0M219 -1304h0M543 -1334h0M636 -1299h0M675 -1316h0M716 -1325h0M754 -1344h0M794 -1283h0M917 -1305h0M984 -1323h0M1022 -1341h0M1066 -1271h0M1173 -1341h0M1215 -1298h0M1324 -1360h0M1348 -1320h0M1397 -1328h0M1459 -1314h0M-1349 -1284h0M-1307 -1293h0M-1244 -1281h0M-1161 -1266h0M-1091 -1293h0M-1019 -1298h0M-949 -1279h0M-878 -1298h0M-889 -1256h0M-836 -1289h0M-744 -1284h0M-703 -1291h0M-674 -1259h0M-622 -1300h0M-428 -1261h0M-392 -1283h0M-342 -1289h0M-228 -1304h0M-135 -1274h0M-60 -1270h0M10 -1291h0M38 -1259h0M53 -1298h0M149 -1287h0M247 -1273h0M289 -1273h0M331 -1279h0M372 -1273h0M415 -1286h0M457 -1290h0M499 -1294h0M568 -1274h0M704 -1285h0M746 -1278h0M805 -1323h0M865 -1280h0M984 -1281h0M1024 -1266h0M1051 -1310h0M1094 -1316h0M1173 -1299h0M1308 -1287h0M1349 -1278h0M1421 -1293h0M-1529 -1232h0M-1410 -1205h0M-1390 -1242h0M-1288 -1227h0M-1204 -1267h0M-1180 -1223h0M-1071 -1250h0M-1029 -1257h0M-989 -1222h0M-988 -1265h0M-932 -1240h0M-806 -1260h0M-782 -1206h0M-632 -1259h0M-585 -1279h0M-544 -1269h0M-505 -1249h0M-466 -1280h0M-323 -1250h0M-281 -1246h0M-239 -1256h0M-206 -1229h0M-173 -1257h0M-4 -1251h0M79 -1265h0M228 -1235h0M439 -1252h0M528 -1262h0M638 -1253h0M682 -1245h0M829 -1258h0M904 -1265h0M950 -1236h0M1091 -1237h0M1108 -1276h0M1149 -1265h0M1207 -1199h0M1234 -1260h0M1385 -1255h0M1373 -1212h0M1492 -1277h0M1519 -1244h0M-1487 -1228h0M-1452 -1204h0M-1368 -1206h0M-1325 -1207h0M-1347 -1242h0M-1222 -1229h0M-1208 -1190h0M-1138 -1230h0M-1096 -1216h0M-1031 -1215h0M-952 -1202h0M-864 -1220h0M-822 -1221h0M-766 -1246h0M-740 -1213h0M-700 -1226h0M-589 -1171h0M-482 -1213h0M-422 -1219h0M-382 -1205h0M-252 -1215h0M-73 -1226h0M107 -1185h0M89 -1224h0M252 -1200h0M370 -1231h0M415 -1217h0M462 -1217h0M502 -1230h0M594 -1241h0M659 -1210h0M750 -1230h0M791 -1241h0M876 -1234h0M1050 -1232h0M1132 -1226h0M1272 -1228h0M1310 -1246h0M1414 -1224h0M1479 -1232h0M1546 -1210h0M-1575 -1173h0M-1490 -1185h0M-1432 -1241h0M-1356 -1165h0M-1282 -1186h0M-1178 -1160h0M-1014 -1149h0M-902 -1156h0M-815 -1179h0M-637 -1185h0M-549 -1185h0M-507 -1179h0M-449 -1186h0M-342 -1192h0M-283 -1186h0M-285 -1144h0M-185 -1186h0M-141 -1195h0M-71 -1184h0M22 -1193h0M64 -1190h0M179 -1187h0M281 -1170h0M323 -1174h0M437 -1141h0M506 -1188h0M572 -1205h0M693 -1185h0M734 -1191h0M802 -1167h0M867 -1193h0M941 -1195h0M982 -1206h0M1062 -1192h0M1129 -1177h0M1164 -1200h0M1185 -1163h0M1248 -1188h0M1294 -1192h0M1334 -1178h0M1375 -1170h0M1442 -1170h0M1483 -1182h0M1558 -1169h0M-1532 -1175h0M-1426 -1136h0M-1467 -1149h0M-1293 -1145h0M-1188 -1119h0M-1219 -1148h0M-1136 -1159h0M-1124 -1098h0M-1066 -1157h0M-975 -1166h0M-932 -1069h0M-742 -1136h0M-674 -1153h0M-649 -1083h0M-633 -1142h0M-557 -1143h0M-515 -1137h0M-443 -1139h0M-401 -1146h0M-367 -1121h0M-214 -1156h0M-109 -1164h0M-72 -1142h0M-18 -1178h0M81 -1151h0M154 -1139h0M229 -1165h0M258 -1134h0M396 -1134h0M439 -1182h0M514 -1147h0M627 -1123h0M645 -1170h0M678 -1145h0M720 -1152h0M843 -1158h0M965 -1159h0M1034 -1159h0M1090 -1160h0M1112 -1124h0M1150 -1140h0M1193 -1122h0M1225 -1151h0M1267 -1150h0M1335 -1136h0M1377 -1127h0M1493 -1141h0M1580 -1107h0M1594 -1147h0M-1618 -1112h0M-1518 -1135h0M-1408 -1098h0M-1384 -1134h0M-1336 -1128h0M-1265 -1113h0M-1225 -1099h0M-1102 -1134h0M-984 -1119h0M-918 -1117h0M-843 -1113h0M-792 -1118h0M-778 -1159h0M-702 -1122h0M-579 -1101h0M-413 -1106h0M-321 -1120h0M-220 -1115h0M-145 -1120h0M-46 -1109h0M-5 -1120h0M37 -1124h0M115 -1112h0M215 -1125h0M280 -1097h0M365 -1164h0M458 -1105h0M500 -1107h0M542 -1115h0M582 -1131h0M707 -1112h0M748 -1121h0M818 -1124h0M857 -1088h0M872 -1127h0M932 -1108h0M997 -1098h0M1063 -1127h0M1085 -1092h0M1304 -1078h0M1443 -1100h0M1543 -1129h0M-1642 -1077h0M-1586 -1083h0M-1545 -1056h0M-1518 -1090h0M-1444 -1077h0M-1365 -1096h0M-1192 -1073h0M-1144 -1061h0M-1015 -1088h0M-862 -1075h0M-820 -1072h0M-691 -1081h0M-639 -1042h0M-501 -1097h0M-472 -1066h0M-368 -1049h0M-344 -1085h0M-303 -1073h0M-262 -1062h0M-192 -1081h0M-116 -1090h0M-61 -1069h0M-19 -1076h0M53 -1086h0M171 -1070h0M212 -1078h0M253 -1064h0M320 -1106h0M354 -1082h0M391 -1061h0M435 -1070h0M479 -1068h0M597 -1092h0M630 -1048h0M665 -1105h0M784 -1098h0M960 -1077h0M1022 -1064h0M1163 -1054h0M1220 -1090h0M1297 -1119h0M1372 -1085h0M1412 -1071h0M1504 -1071h0M1543 -1087h0M1642 -1077h0M-1659 -1025h0M-1503 -1050h0M-1462 -1039h0M-1420 -1032h0M-1389 -1060h0M-1314 -1057h0M-1257 -1039h0M-1083 -1028h0M-1039 -1054h0M-958 -1036h0M-918 -1028h0M-808 -1007h0M-788 -1044h0M-750 -1065h0M-608 -1071h0M-598 -1029h0M-543 -1035h0M-500 -1034h0M-438 -1040h0M-292 -1032h0M-223 -1042h0M-170 -1045h0M-98 -1048h0M16 -1052h0M61 -1045h0M128 -1071h0M157 -1030h0M198 -1038h0M280 -1032h0M309 -1065h0M420 -1031h0M546 -1048h0M588 -1051h0M723 -1051h0M798 -1010h0M871 -1024h0M946 -1036h0M919 -1068h0M1011 -1023h0M1053 -1029h0M1126 -1079h0M1125 -1037h0M1251 -1011h0M1279 -1044h0M1343 -1010h0M1443 -1041h0M1548 -1042h0M1602 -1042h0M-1636 -990h0M-1571 -1016h0M-1528 -1016h0M-1487 -1006h0M-1379 -1019h0M-1336 -1021h0M-1269 -992h0M-1230 -1007h0M-1151 -1011h0M-987 -1005h0M-997 -1050h0M-949 -987h0M-849 -1001h0M-738 -1024h0M-666 -1009h0M-513 -994h0M-400 -1021h0M-366 -996h0M-328 -1011h0M-231 -993h0M-133 -1021h0M-33 -1002h0M76 -1005h0M116 -1017h0M216 -1000h0M244 -969h0M378 -1021h0M373 -979h0M444 -997h0M487 -1016h0M606 -1013h0M660 -1019h0M725 -978h0M745 -1015h0M809 -1051h0M887 -985h0M1000 -982h0M1116 -996h0M1200 -1020h0M1275 -976h0M1370 -1043h0M1421 -999h0M1511 -1020h0M1575 -1008h0M1613 -989h0M1640 -1022h0M1682 -1014h0M-1707 -970h0M-1610 -941h0M-1552 -978h0M-1481 -964h0M-1445 -942h0M-1410 -991h0M-1338 -979h0M-1299 -961h0M-1249 -954h0M-1179 -973h0M-1110 -995h0M-1023 -984h0M-962 -942h0M-880 -971h0M-728 -983h0M-688 -971h0M-645 -972h0M-576 -959h0M-502 -949h0M-473 -980h0M-435 -998h0M-401 -972h0M-334 -969h0M-192 -977h0M-149 -975h0M-109 -987h0M-68 -978h0M0 -967h0M39 -983h0M141 -983h0M285 -982h0M330 -978h0M410 -959h0M480 -975h0M522 -978h0M563 -982h0M604 -971h0M703 -1013h0M769 -980h0M842 -986h0M984 -943h0M1073 -989h0M1136 -959h0M1200 -978h0M1251 -941h0M1301 -1009h0M1319 -970h0M1457 -977h0M1500 -979h0M1546 -959h0M-1727 -933h0M-1680 -938h0M-1594 -981h0M-1518 -943h0M-1403 -949h0M-1361 -944h0M-1207 -936h0M-1053 -955h0M-930 -913h0M-921 -955h0M-819 -932h0M-778 -940h0M-736 -941h0M-665 -935h0M-614 -940h0M-439 -955h0M-328 -927h0M-261 -958h0M-196 -918h0M-100 -946h0M87 -935h0M225 -931h0M266 -933h0M306 -945h0M374 -937h0M423 -919h0M525 -905h0M546 -943h0M627 -937h0M609 -900h0M692 -951h0M794 -895h0M829 -943h0M900 -941h0M942 -940h0M958 -979h0M1065 -946h0M1144 -918h0M1294 -936h0M1348 -940h0M1446 -919h0M1422 -954h0M1511 -936h0M1545 -911h0M1580 -934h0M1634 -950h0M1714 -958h0M-1614 -899h0M-1482 -922h0M-1449 -895h0M-1348 -905h0M-1269 -882h0M-1227 -899h0M-1185 -900h0M-1143 -909h0M-1094 -947h0M-1030 -913h0M-899 -885h0M-889 -927h0M-852 -906h0M-758 -903h0M-718 -893h0M-676 -894h0M-604 -899h0M-560 -887h0M-539 -930h0M-457 -895h0M-405 -891h0M-369 -915h0M-281 -921h0M-239 -921h0M-81 -908h0M-41 -893h0M13 -858h0M10 -926h0M86 -893h0M157 -915h0M196 -900h0M311 -901h0M353 -894h0M435 -879h0M503 -940h0M567 -906h0M651 -893h0M756 -913h0M787 -941h0M864 -919h0M925 -901h0M1000 -903h0M1032 -875h0M1080 -907h0M1116 -885h0M1187 -917h0M1228 -906h0M1404 -912h0M1582 -891h0M1651 -905h0M1676 -939h0M1746 -898h0M-1747 -866h0M-1651 -879h0M-1578 -877h0M-1553 -842h0M-1516 -862h0M-1414 -871h0M-1346 -863h0M-1168 -862h0M-1126 -871h0M-1101 -905h0M-1085 -862h0M-1007 -877h0M-823 -876h0M-627 -864h0M-494 -874h0M-433 -812h0M-457 -853h0M-287 -865h0M-248 -851h0M-220 -883h0M-183 -863h0M-74 -867h0M54 -865h0M126 -880h0M238 -890h0M249 -850h0M291 -864h0M409 -846h0M483 -902h0M583 -867h0M685 -868h0M721 -890h0M758 -871h0M829 -868h0M889 -836h0M979 -867h0M1074 -865h0M1165 -882h0M1206 -870h0M1230 -835h0M1252 -871h0M1295 -861h0M1363 -901h0M1393 -871h0M1435 -878h0M1479 -874h0M1552 -861h0M-1675 -843h0M-1687 -797h0M-1509 -820h0M-1453 -820h0M-1352 -821h0M-1280 -841h0M-1198 -832h0M-1086 -820h0M-1043 -856h0M-951 -789h0M-917 -847h0M-869 -834h0M-803 -810h0M-763 -833h0M-721 -832h0M-646 -826h0M-508 -834h0M-414 -850h0M-390 -815h0M-314 -832h0M-186 -814h0M-145 -821h0M-42 -795h0M-15 -827h0M95 -852h0M167 -870h0M214 -826h0M317 -830h0M358 -844h0M450 -835h0M492 -838h0M560 -831h0M602 -829h0M722 -848h0M805 -823h0M847 -829h0M978 -824h0M1045 -834h0M1131 -819h0M1422 -826h0M1508 -800h0M1563 -820h0M1593 -850h0M1636 -852h0M1675 -869h0M1740 -842h0M-1789 -809h0M-1749 -822h0M-1617 -803h0M-1546 -799h0M-1481 -788h0M-1412 -828h0M-1356 -779h0M-1303 -804h0M-1156 -821h0M-1027 -782h0M-991 -804h0M-956 -831h0M-885 -796h0M-731 -790h0M-659 -786h0M-581 -806h0M-539 -805h0M-559 -842h0M-498 -793h0M-395 -773h0M-323 -791h0M-281 -790h0M-218 -787h0M-108 -802h0M-110 -845h0M-72 -825h0M14 -796h0M53 -780h0M80 -812h0M151 -809h0M155 -767h0M189 -791h0M251 -806h0M293 -794h0M364 -774h0M385 -811h0M474 -800h0M524 -809h0M539 -770h0M579 -794h0M677 -827h0M873 -795h0M951 -791h0M936 -831h0M1062 -795h0M1173 -840h0M1226 -793h0M1267 -799h0M1308 -788h0M1347 -805h0M1380 -830h0M1467 -811h0M1508 -757h0M1545 -779h0M1616 -815h0M1659 -816h0M1698 -833h0M1727 -801h0M-1806 -770h0M-1693 -755h0M-1609 -761h0M-1559 -759h0M-1518 -768h0M-1397 -767h0M-1317 -764h0M-1246 -775h0M-1110 -767h0M-1070 -781h0M-1010 -743h0M-928 -740h0M-843 -798h0M-760 -757h0M-596 -766h0M-334 -750h0M-250 -760h0M-184 -762h0M-145 -778h0M52 -738h0M116 -784h0M227 -771h0M439 -778h0M468 -747h0M656 -790h0M733 -781h0M771 -761h0M877 -753h0M916 -768h0M1013 -747h0M1141 -709h0M1129 -777h0M1303 -734h0M1437 -781h0M1587 -784h0M1661 -774h0M1759 -773h0M1797 -792h0M-1823 -731h0M-1718 -719h0M-1629 -723h0M-1465 -715h0M-1431 -742h0M-1395 -719h0M-1334 -726h0M-1292 -725h0M-1247 -701h0M-1174 -762h0M-1140 -738h0M-1051 -743h0M-987 -708h0M-827 -759h0M-772 -712h0M-698 -725h0M-634 -749h0M-599 -724h0M-530 -732h0M-493 -751h0M-455 -733h0M-418 -707h0M-384 -732h0M-291 -749h0M-217 -734h0M-144 -736h0M-102 -728h0M6 -726h0M93 -726h0M162 -718h0M192 -748h0M231 -729h0M263 -701h0M301 -719h0M335 -744h0M427 -738h0M510 -739h0M552 -726h0M597 -728h0M638 -752h0M669 -721h0M764 -718h0M805 -709h0M811 -751h0M845 -725h0M977 -724h0M1048 -723h0M1089 -762h0M1228 -725h0M1340 -760h0M1381 -735h0M1430 -740h0M1472 -735h0M1574 -729h0M1711 -719h0M1758 -731h0M-1838 -692h0M-1759 -701h0M-1724 -676h0M-1676 -716h0M-1575 -672h0M-1531 -727h0M-1534 -685h0M-1361 -693h0M-1319 -686h0M-1214 -665h0M-1178 -720h0M-1111 -707h0M-1069 -704h0M-961 -675h0M-897 -711h0M-857 -729h0M-747 -679h0M-705 -683h0M-631 -697h0M-562 -704h0M-517 -691h0M-377 -690h0M-313 -713h0M-200 -692h0M-123 -691h0M-76 -695h0M-35 -704h0M37 -698h0M78 -687h0M224 -684h0M357 -660h0M425 -689h0M520 -699h0M608 -687h0M711 -717h0M885 -712h0M940 -701h0M1090 -719h0M1179 -690h0M1186 -732h0M1237 -683h0M1276 -699h0M1342 -718h0M1376 -693h0M1472 -680h0M1555 -692h0M1595 -677h0M1614 -715h0M1649 -690h0M1670 -727h0M1797 -714h0M1838 -691h0M-1798 -666h0M-1658 -655h0M-1618 -669h0M-1486 -669h0M-1401 -677h0M-1257 -659h0M-1183 -636h0M-1064 -651h0M-1013 -655h0M-894 -669h0M-828 -686h0M-788 -671h0M-677 -652h0M-635 -656h0M-560 -623h0M-550 -664h0M-449 -658h0M-375 -648h0M-347 -617h0M-304 -671h0M-217 -653h0M-170 -662h0M-130 -647h0M-26 -663h0M76 -638h0M107 -609h0M151 -671h0M300 -677h0M337 -698h0M426 -647h0M463 -669h0M544 -664h0M584 -653h0M650 -683h0M709 -654h0M738 -685h0M751 -645h0M841 -652h0M906 -675h0M945 -659h0M1071 -681h0M1112 -635h0M1140 -666h0M1309 -658h0M1390 -653h0M1429 -670h0M1459 -640h0M1514 -683h0M1706 -645h0M1749 -659h0M-1814 -627h0M-1740 -633h0M-1698 -642h0M-1637 -618h0M-1597 -632h0M-1553 -636h0M-1526 -604h0M-1490 -627h0M-1366 -619h0M-1333 -647h0M-1226 -625h0M-1070 -609h0M-930 -646h0M-893 -626h0M-821 -644h0M-788 -618h0M-739 -615h0M-634 -613h0M-593 -650h0M-512 -646h0M-449 -608h0M-415 -634h0M-307 -630h0M-247 -623h0M-163 -620h0M-91 -627h0M-47 -627h0M35 -625h0M145 -628h0M185 -643h0M234 -643h0M411 -608h0M519 -630h0M601 -614h0M626 -649h0M792 -638h0M892 -598h0M981 -636h0M1040 -652h0M1153 -623h0M1237 -641h0M1257 -604h0M1348 -642h0M1513 -618h0M1555 -619h0M1596 -631h0M1643 -625h0M1717 -582h0M1739 -618h0M1854 -643h0M-1866 -595h0M-1824 -586h0M-1784 -598h0M-1611 -584h0M-1571 -598h0M-1487 -585h0M-1445 -587h0M-1398 -592h0M-1384 -536h0M-1359 -577h0M-1326 -605h0M-1284 -591h0M-1141 -639h0M-1195 -596h0M-1112 -608h0M-1001 -613h0M-951 -579h0M-857 -590h0M-744 -573h0M-637 -556h0M-566 -581h0M-490 -597h0M-384 -574h0M-342 -575h0M-271 -587h0M-223 -588h0M-147 -581h0M-69 -591h0M29 -577h0M67 -596h0M105 -567h0M143 -586h0M212 -608h0M254 -606h0M298 -603h0M339 -591h0M447 -585h0M525 -589h0M568 -589h0M655 -619h0M679 -583h0M758 -603h0M721 -582h0M826 -612h0M943 -617h0M983 -594h0M1052 -612h0M1096 -595h0M1138 -584h0M1180 -591h0M1282 -570h0M1314 -616h0M1380 -612h0M1417 -578h0M1477 -595h0M1507 -564h0M1594 -556h0M1684 -609h0M1761 -582h0M1871 -597h0M-1883 -556h0M-1810 -545h0M-1769 -558h0M-1727 -563h0M-1688 -578h0M-1619 -542h0M-1579 -556h0M-1543 -534h0M-1317 -564h0M-1277 -549h0M-1200 -554h0M-1153 -599h0M-1126 -566h0M-1057 -563h0M-993 -572h0M-921 -549h0M-899 -585h0M-838 -537h0M-797 -547h0M-703 -587h0M-595 -551h0M-550 -538h0M-524 -573h0M-464 -532h0M-343 -532h0M-304 -556h0M-177 -550h0M-127 -543h0M-86 -552h0M-8 -534h0M57 -512h0M231 -570h0M273 -569h0M386 -538h0M428 -543h0M501 -554h0M636 -555h0M676 -541h0M722 -540h0M823 -570h0M862 -553h0M925 -547h0M1019 -554h0M1062 -571h0M1171 -549h0M1244 -553h0M1309 -538h0M1348 -556h0M1455 -558h0M1549 -550h0M1614 -518h0M1615 -593h0M1680 -563h0M1803 -582h0M1881 -554h0M-1790 -507h0M-1720 -511h0M-1661 -545h0M-1461 -508h0M-1419 -513h0M-1311 -522h0M-1275 -500h0M-1241 -527h0M-1167 -526h0M-1124 -523h0M-1025 -536h0M-1043 -497h0M-959 -505h0M-880 -537h0M-867 -496h0M-784 -508h0M-737 -511h0M-712 -546h0M-665 -524h0M-620 -517h0M-507 -527h0M-445 -490h0M-385 -532h0M-339 -489h0M-305 -514h0M-240 -522h0M-157 -513h0M-44 -557h0M16 -501h0M65 -554h0M97 -526h0M137 -512h0M179 -516h0M220 -506h0M253 -532h0M295 -533h0M343 -548h0M372 -499h0M517 -515h0M559 -522h0M637 -513h0M698 -505h0M790 -510h0M828 -528h0M934 -485h0M958 -521h0M1072 -530h0M1197 -507h0M1240 -511h0M1343 -513h0M1385 -537h0M1481 -525h0M1545 -503h0M1638 -553h0M1657 -514h0M1698 -525h0M1738 -510h0M1767 -540h0M1842 -535h0M-1895 -516h0M-1863 -456h0M-1821 -476h0M-1676 -476h0M-1641 -506h0M-1566 -497h0M-1501 -524h0M-1492 -479h0M-1386 -488h0M-1226 -487h0M-1184 -486h0M-1114 -479h0M-1084 -509h0M-1001 -501h0M-977 -466h0M-916 -507h0M-825 -496h0M-795 -467h0M-446 -447h0M-280 -481h0M-199 -514h0M-67 -487h0M-26 -496h0M65 -471h0M105 -484h0M237 -468h0M330 -508h0M447 -506h0M515 -473h0M556 -480h0M594 -498h0M763 -479h0M892 -493h0M999 -514h0M1038 -484h0M1117 -490h0M1155 -508h0M1265 -477h0M1303 -496h0M1404 -472h0M1446 -480h0M1505 -490h0M1585 -486h0M1705 -483h0M1795 -508h0M1868 -499h0M1905 -477h0M-1902 -474h0M-1753 -479h0M-1755 -435h0M-1633 -464h0M-1563 -455h0M-1450 -444h0M-1333 -446h0M-1301 -417h0M-1292 -459h0M-1192 -444h0M-1150 -455h0M-1074 -468h0M-1019 -463h0M-995 -428h0M-907 -437h0M-868 -454h0M-730 -431h0M-720 -472h0M-658 -455h0M-615 -454h0M-573 -453h0M-510 -446h0M-409 -468h0M-368 -458h0M-335 -432h0M-237 -448h0M-194 -445h0M-142 -472h0M-113 -441h0M-39 -455h0M136 -455h0M144 -414h0M195 -468h0M301 -433h0M378 -457h0M469 -422h0M552 -438h0M653 -452h0M683 -417h0M828 -446h0M869 -457h0M945 -409h0M1104 -450h0M1180 -469h0M1222 -472h0M1302 -454h0M1342 -439h0M1444 -408h0M1538 -461h0M1577 -444h0M1665 -469h0M1705 -441h0M1745 -429h0M1846 -463h0M1915 -435h0M-1922 -404h0M-1853 -415h0M-1713 -436h0M-1689 -401h0M-1664 -435h0M-1535 -390h0M-1528 -431h0M-1408 -452h0M-1378 -417h0M-1082 -423h0M-1032 -408h0M-935 -469h0M-953 -431h0M-853 -415h0M-812 -426h0M-769 -413h0M-626 -413h0M-549 -418h0M-510 -403h0M-439 -405h0M-403 -426h0M-310 -388h0M-264 -408h0M-222 -408h0M-155 -432h0M-59 -418h0M-17 -417h0M22 -401h0M96 -442h0M185 -405h0M254 -430h0M402 -409h0M445 -464h0M510 -431h0M543 -394h0M590 -419h0M641 -411h0M693 -463h0M754 -435h0M794 -421h0M904 -421h0M914 -380h0M972 -450h0M1037 -442h0M1107 -408h0M1174 -427h0M1235 -409h0M1309 -412h0M1402 -407h0M1513 -406h0M1611 -418h0M1721 -396h0M1781 -451h0M1879 -412h0M-1930 -363h0M-1884 -385h0M-1842 -375h0M-1774 -396h0M-1732 -398h0M-1647 -395h0M-1603 -396h0M-1495 -405h0M-1469 -371h0M-1338 -372h0M-1296 -375h0M-1261 -398h0M-1220 -376h0M-1177 -378h0M-1108 -373h0M-1067 -384h0M-1002 -345h0M-994 -386h0M-891 -396h0M-736 -388h0M-702 -363h0M-697 -405h0M-663 -381h0M-591 -382h0M-550 -376h0M-510 -361h0M-474 -381h0M-352 -381h0M-197 -374h0M-155 -381h0M-109 -374h0M-36 -379h0M64 -406h0M83 -368h0M125 -376h0M227 -397h0M302 -374h0M343 -366h0M394 -361h0M497 -390h0M603 -353h0M684 -375h0M762 -393h0M833 -404h0M872 -382h0M959 -370h0M1026 -400h0M1068 -392h0M1106 -366h0M1273 -390h0M1234 -360h0M1340 -382h0M1360 -345h0M1450 -350h0M1478 -383h0M1548 -382h0M1599 -378h0M1647 -396h0M1734 -356h0M1790 -408h0M1826 -386h0M1866 -368h0M-1879 -310h0M-1780 -348h0M-1738 -342h0M-1648 -329h0M-1573 -329h0M-1508 -357h0M-1378 -358h0M-1330 -331h0M-1258 -356h0M-1222 -334h0M-1110 -328h0M-1044 -337h0M-935 -325h0M-931 -368h0M-891 -353h0M-809 -355h0M-741 -346h0M-666 -339h0M-612 -341h0M-480 -332h0M-384 -354h0M-311 -345h0M-269 -336h0M-239 -366h0M-170 -342h0M-65 -348h0M3 -363h0M37 -337h0M134 -336h0M165 -365h0M273 -343h0M365 -330h0M487 -349h0M559 -352h0M600 -311h0M642 -369h0M720 -397h0M776 -353h0M813 -332h0M854 -344h0M927 -339h0M1032 -359h0M1148 -362h0M1128 -319h0M1319 -336h0M1274 -348h0M1403 -346h0M1536 -341h0M1651 -354h0M1693 -364h0M1897 -331h0M-1920 -322h0M-1837 -305h0M-1724 -294h0M-1698 -328h0M-1673 -362h0M-1638 -288h0M-1531 -321h0M-1457 -308h0M-1414 -321h0M-1372 -316h0M-1299 -301h0M-1176 -307h0M-1149 -347h0M-1073 -307h0M-919 -286h0M-879 -272h0M-779 -326h0M-769 -256h0M-671 -297h0M-593 -269h0M-542 -333h0M-479 -289h0M-444 -312h0M-370 -314h0M-236 -311h0M-82 -305h0M0 -317h0M102 -308h0M214 -299h0M287 -303h0M316 -334h0M386 -293h0M415 -324h0M526 -325h0M633 -286h0M640 -327h0M807 -291h0M848 -301h0M983 -294h0M1053 -322h0M1170 -326h0M1212 -324h0M1430 -313h0M1505 -312h0M1578 -341h0M1696 -294h0M1742 -314h0M1784 -309h0M1827 -313h0M1869 -294h0M1938 -318h0M1931 -359h0M-1910 -281h0M-1834 -262h0M-1796 -281h0M-1764 -309h0M-1596 -293h0M-1510 -284h0M-1439 -265h0M-1400 -281h0M-1235 -263h0M-1136 -294h0M-991 -284h0M-949 -256h0M-842 -292h0M-800 -285h0M-692 -259h0M-634 -277h0M-558 -294h0M-520 -276h0M-453 -250h0M-391 -277h0M-295 -270h0M-194 -307h0M-130 -280h0M-57 -265h0M-13 -239h0M90 -267h0M142 -294h0M174 -324h0M237 -261h0M427 -283h0M390 -251h0M469 -280h0M540 -285h0M673 -300h0M728 -286h0M743 -326h0M768 -274h0M913 -299h0M938 -266h0M1016 -268h0M1085 -295h0M1123 -276h0M1207 -261h0M1266 -285h0M1310 -282h0M1350 -269h0M1420 -272h0M1526 -272h0M1581 -298h0M1615 -274h0M1658 -274h0M1911 -286h0M-1947 -258h0M-1814 -200h0M-1757 -264h0M-1651 -248h0M-1691 -233h0M-1618 -221h0M-1545 -260h0M-1471 -237h0M-1398 -239h0M-1356 -243h0M-1319 -223h0M-1289 -253h0M-1173 -233h0M-1086 -205h0M-1093 -246h0M-989 -242h0M-906 -240h0M-844 -250h0M-729 -240h0M-554 -252h0M-519 -229h0M-311 -231h0M-232 -228h0M-171 -272h0M-85 -233h0M7 -275h0M47 -265h0M79 -189h0M279 -262h0M316 -241h0M351 -269h0M356 -227h0M499 -236h0M572 -244h0M619 -229h0M661 -254h0M738 -245h0M837 -260h0M909 -236h0M978 -252h0M978 -210h0M1054 -247h0M1118 -234h0M1165 -255h0M1285 -248h0M1387 -245h0M1386 -203h0M1498 -240h0M1566 -259h0M1673 -234h0M1713 -246h0M1752 -229h0M1767 -270h0M1794 -238h0M1901 -245h0M1943 -245h0M-1943 -216h0M-1893 -212h0M-1796 -238h0M-1708 -161h0M-1658 -207h0M-1593 -182h0M-1576 -222h0M-1534 -220h0M-1497 -202h0M-1455 -197h0M-1374 -205h0M-1232 -199h0M-1128 -210h0M-1135 -252h0M-1053 -232h0M-1015 -209h0M-940 -215h0M-871 -217h0M-822 -214h0M-719 -200h0M-653 -210h0M-620 -237h0M-506 -189h0M-431 -214h0M-464 -188h0M-389 -204h0M-352 -224h0M-252 -266h0M-191 -216h0M-152 -202h0M-86 -190h0M-44 -191h0M28 -228h0M70 -230h0M166 -202h0M216 -224h0M258 -225h0M373 -189h0M442 -212h0M515 -196h0M585 -203h0M657 -212h0M697 -232h0M808 -218h0M850 -220h0M1009 -181h0M1017 -226h0M1156 -214h0M1258 -215h0M1305 -210h0M1345 -195h0M1427 -230h0M1470 -208h0M1496 -167h0M1558 -185h0M1600 -234h0M1641 -202h0M1718 -204h0M1845 -210h0M1920 -207h0M-1956 -176h0M-1856 -191h0M-1833 -156h0M-1792 -164h0M-1666 -166h0M-1444 -156h0M-1414 -192h0M-1334 -154h0M-1270 -181h0M-1195 -179h0M-1073 -165h0M-923 -169h0M-789 -152h0M-680 -152h0M-640 -170h0M-547 -179h0M-363 -171h0M-326 -191h0M-258 -169h0M-219 -185h0M-123 -171h0M-12 -165h0M25 -185h0M88 -148h0M125 -190h0M204 -184h0M206 -141h0M303 -174h0M342 -160h0M414 -180h0M516 -154h0M592 -154h0M623 -184h0M694 -190h0M935 -158h0M1045 -159h0M1078 -187h0M1120 -191h0M1186 -158h0M1225 -189h0M1277 -178h0M1426 -188h0M1534 -150h0M1519 -203h0M1599 -192h0M1663 -166h0M1778 -164h0M1858 -167h0M-1961 -102h0M-1882 -138h0M-1750 -162h0M-1680 -126h0M-1632 -141h0M-1607 -107h0M-1554 -153h0M-1507 -145h0M-1442 -114h0M-1402 -151h0M-1231 -156h0M-1167 -148h0M-1125 -140h0M-1085 -125h0M-1011 -129h0M-972 -147h0M-882 -172h0M-753 -175h0M-714 -126h0M-637 -128h0M-595 -134h0M-498 -122h0M-351 -131h0M-288 -140h0M-244 -129h0M-180 -170h0M-84 -117h0M-53 -147h0M22 -140h0M129 -147h0M188 -103h0M169 -161h0M242 -163h0M365 -124h0M313 -130h0M432 -142h0M474 -137h0M552 -176h0M619 -122h0M686 -148h0M730 -139h0M769 -122h0M803 -148h0M844 -152h0M892 -162h0M951 -115h0M1115 -122h0M1156 -129h0M1257 -140h0M1299 -140h0M1410 -123h0M1468 -135h0M1639 -131h0M1819 -152h0M1827 -110h0M1926 -164h0M1959 -137h0M-1923 -149h0M-1846 -85h0M-1735 -91h0M-1495 -100h0M-1460 -75h0M-1339 -112h0M-1306 -85h0M-1234 -112h0M-1194 -96h0M-1153 -108h0M-1047 -105h0M-914 -105h0M-833 -118h0M-791 -111h0M-748 -102h0M-675 -110h0M-611 -94h0M-553 -138h0M-452 -133h0M-416 -109h0M-274 -100h0M-193 -82h0M-122 -97h0M-17 -123h0M87 -106h0M242 -121h0M369 -82h0M440 -101h0M578 -114h0M666 -111h0M764 -164h0M736 -97h0M910 -123h0M992 -103h0M1033 -114h0M1073 -127h0M1227 -111h0M1268 -100h0M1341 -147h0M1381 -93h0M1445 -101h0M1557 -114h0M1582 -81h0M1622 -93h0M1697 -70h0M1738 -103h0M1786 -122h0M1867 -121h0M-1925 -79h0M-1883 -64h0M-1804 -80h0M-1731 -50h0M-1667 -72h0M-1593 -67h0M-1536 -114h0M-1529 -73h0M-1418 -79h0M-1378 -64h0M-1265 -76h0M-1196 -54h0M-1124 -66h0M-1083 -40h0M-1047 -63h0M-1009 -87h0M-934 -62h0M-976 -60h0M-892 -69h0M-823 -30h0M-813 -74h0M-742 -60h0M-627 -53h0M-464 -55h0M-424 -67h0M-382 -70h0M-323 -50h0M-281 -58h0M-234 -88h0M-208 -42h0M-86 -75h0M-13 -81h0M27 -67h0M73 -66h0M142 -54h0M183 -61h0M260 -82h0M304 -43h0M302 -85h0M457 -62h0M482 -96h0M518 -75h0M560 -71h0M601 -78h0M631 -48h0M698 -77h0M775 -80h0M817 -74h0M844 -106h0M891 -62h0M975 -36h0M1064 -85h0M1126 -60h0M1168 -69h0M1311 -100h0M1314 -59h0M1416 -69h0M1458 -61h0M1486 -94h0M1543 -65h0M1613 -52h0M1664 -97h0M1738 -61h0M1807 -73h0M1860 -80h0M1894 -55h0M-1915 -38h0M-1876 -22h0M-1839 -43h0M-1797 -38h0M-1692 -34h0M-1522 -32h0M-1436 -40h0M-1387 -23h0M-1345 -22h0M-1287 -33h0M-1245 -38h0M-1154 -37h0M-1085 -83h0M-989 -20h0M-897 -27h0M-852 -60h0M-782 -40h0M-702 -45h0M-589 -34h0M-546 -66h0M-506 -50h0M-476 -14h0M-434 -21h0M-345 -89h0M-185 -7h0M-166 -45h0M-68 -37h0M-27 -41h0M13 -27h0M126 -15h0M230 -52h0M398 -18h0M496 -39h0M586 -37h0M670 -33h0M741 -55h0M901 -21h0M955 -73h0M1020 -34h0M1062 -30h0M1148 -25h0M1286 -27h0M1378 -50h0M1341 -26h0M1452 -20h0M1489 1h0M1596 -14h0M1674 -35h0M1714 -24h0M1757 -23h0M1799 -27h0M1872 -19h0M1932 -35h0M1963 -64h0M-1964 18h0M-1906 8h0M-1784 2h0M-1747 23h0M-1629 -9h0M-1558 -8h0M-1506 7h0M-1458 -1h0M-1276 8h0M-1207 17h0M-1078 2h0M-1042 -22h0M-955 5h0M-839 9h0M-763 -3h0M-666 31h0M-644 -8h0M-600 7h0M-391 41h0M-356 9h0M-275 9h0M-242 37h0M-231 -6h0M-110 -6h0M80 -17h0M168 -12h0M275 -9h0M317 -2h0M359 -3h0M436 2h0M487 3h0M651 47h0M669 9h0M729 -12h0M798 -9h0M870 8h0M860 -33h0M942 -11h0M1104 -24h0M1177 5h0M1215 -14h0M1279 14h0M1379 -8h0M1419 6h0M1522 -27h0M1571 20h0M1612 30h0M1684 6h0M1738 15h0M1833 -1h0M1838 -44h0M1964 10h0M-1930 43h0M-1888 47h0M-1820 24h0M-1783 44h0M-1701 9h0M-1659 30h0M-1575 34h0M-1596 71h0M-1511 49h0M-1382 19h0M-1398 58h0M-1340 21h0M-1303 41h0M-1135 36h0M-1049 32h0M-1006 53h0M-932 41h0M-881 12h0M-749 37h0M-686 -6h0M-565 32h0M-500 21h0M-472 53h0M-362 -33h0M-397 -1h0M-322 66h0M-283 50h0M-168 31h0M-59 34h0M-17 40h0M23 26h0M65 23h0M97 50h0M137 26h0M209 8h0M253 27h0M322 46h0M461 36h0M498 58h0M524 25h0M565 31h0M724 30h0M762 14h0M794 42h0M829 19h0M848 57h0M912 20h0M984 38h0M1047 74h0M1080 11h0M1148 36h0M1238 56h0M1384 34h0M1464 34h0M1504 49h0M1529 15h0M1638 -13h0M1822 72h0M1871 24h0M1925 26h0M-1862 80h0M-1821 66h0M-1747 67h0M-1638 68h0M-1617 32h0M-1473 68h0M-1330 73h0M-1229 53h0M-1202 85h0M-1159 71h0M-1077 64h0M-1001 95h0M-915 80h0M-858 47h0M-817 46h0M-716 62h0M-641 66h0M-601 54h0M-548 70h0M-492 90h0M-408 80h0M-316 23h0M-186 90h0M-120 59h0M-80 71h0M-12 87h0M54 64h0M134 69h0M201 118h0M201 76h0M243 73h0M282 61h0M353 78h0M388 55h0M427 72h0M539 65h0M581 71h0M650 97h0M1005 74h0M1087 62h0M1280 56h0M1344 48h0M1405 70h0M1448 73h0M1546 54h0M1614 75h0M1740 57h0M1761 113h0M1779 74h0M1897 58h0M1938 69h0M-1937 84h0M-1826 110h0M-1785 87h0M-1751 112h0M-1709 112h0M-1671 95h0M-1621 106h0M-1534 126h0M-1452 104h0M-1424 139h0M-1369 90h0M-1288 81h0M-1274 120h0M-1134 106h0M-1093 103h0M-1032 124h0M-958 80h0M-932 119h0M-840 120h0M-770 135h0M-664 102h0M-564 109h0M-505 130h0M-449 89h0M-346 101h0M-295 98h0M-226 77h0M-218 118h0M-178 131h0M-146 103h0M23 110h0M88 90h0M125 110h0M165 97h0M244 116h0M313 90h0M449 107h0M528 135h0M556 104h0M697 104h0M740 87h0M813 80h0M863 107h0M946 110h0M988 113h0M1128 73h0M1066 112h0M1144 112h0M1184 101h0M1227 97h0M1341 99h0M1385 108h0M1521 88h0M1569 89h0M1670 120h0M1698 73h0M1803 110h0M1875 93h0M1961 107h0M-1960 119h0M-1895 152h0M-1810 155h0M-1729 149h0M-1655 134h0M-1573 107h0M-1499 151h0M-1411 99h0M-1347 127h0M-1344 169h0M-1232 115h0M-1152 144h0M-1071 140h0M-906 152h0M-889 114h0M-809 150h0M-737 108h0M-701 131h0M-667 155h0M-601 129h0M-544 146h0M-401 150h0M-360 141h0M-318 132h0M-295 168h0M-207 162h0M-85 153h0M-47 135h0M51 149h0M99 175h0M182 156h0M225 153h0M303 131h0M377 127h0M411 152h0M406 194h0M487 125h0M634 161h0M668 135h0M716 142h0M755 126h0M823 121h0M905 103h0M1000 153h0M1042 146h0M1258 126h0M1351 174h0M1415 138h0M1495 158h0M1537 154h0M1601 116h0M1640 151h0M1711 125h0M1721 178h0M1820 148h0M1931 137h0M-1852 153h0M-1788 191h0M-1713 188h0M-1668 174h0M-1539 168h0M-1466 177h0M-1423 181h0M-1386 162h0M-1308 145h0M-1242 180h0M-1164 188h0M-1123 176h0M-995 143h0M-975 180h0M-908 195h0M-656 196h0M-625 165h0M-554 187h0M-512 174h0M-473 157h0M-435 174h0M-258 189h0M-247 149h0M-165 171h0M-122 172h0M-88 197h0M25 182h0M90 134h0M205 190h0M267 154h0M372 168h0M477 167h0M552 169h0M592 154h0M744 199h0M896 173h0M939 170h0M1021 189h0M1087 158h0M1187 172h0M1228 155h0M1267 172h0M1309 176h0M1328 139h0M1453 157h0M1573 175h0M1617 188h0M1682 161h0M1763 176h0M1861 138h0M1896 161h0M-1954 193h0M-1874 189h0M-1914 205h0M-1860 229h0M-1747 213h0M-1710 234h0M-1627 166h0M-1607 204h0M-1505 193h0M-1437 221h0M-1348 216h0M-1306 186h0M-1210 222h0M-1098 210h0M-1055 195h0M-1019 218h0M-977 222h0M-881 227h0M-847 203h0M-777 177h0M-735 185h0M-698 205h0M-596 194h0M-470 199h0M-432 216h0M-397 193h0M-366 222h0M-329 203h0M-218 202h0M-144 208h0M-109 233h0M-28 247h0M-16 170h0M-5 211h0M47 219h0M89 216h0M130 204h0M278 195h0M359 208h0M462 206h0M533 211h0M575 205h0M642 203h0M675 177h0M791 148h0M800 189h0M838 207h0M880 216h0M953 210h0M994 221h0M1077 212h0M1114 191h0M1189 214h0M1249 211h0M1395 201h0M1467 226h0M1536 196h0M1649 222h0M1687 204h0M1760 243h0M1884 210h0M1923 194h0M1951 225h0M-1950 235h0M-1873 269h0M-1819 220h0M-1666 242h0M-1548 249h0M-1508 235h0M-1469 250h0M-1307 229h0M-1272 252h0M-1168 230h0M-1131 250h0M-1038 256h0M-949 253h0M-852 257h0M-790 217h0M-723 240h0M-603 236h0M-535 246h0M-495 232h0M-453 253h0M-307 239h0M-266 231h0M-163 245h0M-47 209h0M16 248h0M64 258h0M169 244h0M239 223h0M265 257h0M305 271h0M328 236h0M427 231h0M465 250h0M524 253h0M628 253h0M851 247h0M921 242h0M1147 218h0M1249 253h0M1291 215h0M1342 243h0M1424 231h0M1448 265h0M1523 236h0M1627 259h0M1718 236h0M1766 294h0M1844 222h0M1945 267h0M-1909 247h0M-1832 261h0M-1769 285h0M-1728 273h0M-1650 281h0M-1607 282h0M-1533 288h0M-1463 291h0M-1378 288h0M-1336 290h0M-1077 281h0M-1004 288h0M-898 266h0M-868 296h0M-761 259h0M-686 294h0M-654 264h0M-520 285h0M-409 272h0M-349 292h0M-245 274h0M-203 271h0M-130 271h0M33 287h0M138 279h0M208 263h0M273 298h0M488 285h0M567 276h0M645 292h0M726 271h0M764 253h0M795 281h0M901 292h0M1020 294h0M991 263h0M1057 272h0M1098 283h0M1133 258h0M1175 253h0M1278 320h0M1282 279h0M1325 281h0M1388 300h0M1490 262h0M1528 278h0M1600 291h0M1699 274h0M1804 276h0M1874 251h0M1905 280h0M-1902 336h0M-1813 324h0M-1702 306h0M-1629 319h0M-1586 319h0M-1469 333h0M-1420 294h0M-1395 327h0M-1265 330h0M-1295 301h0M-1253 290h0M-1182 330h0M-1023 326h0M-948 319h0M-906 315h0M-825 290h0M-757 304h0M-627 295h0M-587 308h0M-545 319h0M-449 326h0M-287 302h0M-190 312h0M-148 314h0M-70 303h0M-37 334h0M1 314h0M71 305h0M115 318h0M205 304h0M347 307h0M407 296h0M424 335h0M529 295h0M588 339h0M684 276h0M675 322h0M785 323h0M858 319h0M941 280h0M977 303h0M1095 326h0M1138 300h0M1203 314h0M1241 294h0M1377 340h0M1460 305h0M1560 304h0M1624 335h0M1723 340h0M1804 319h0M1840 297h0M1909 322h0M-1939 309h0M-1872 366h0M-1771 328h0M-1511 339h0M-1485 372h0M-1223 320h0M-1148 300h0M-1141 342h0M-1101 354h0M-1059 349h0M-969 355h0M-873 379h0M-864 338h0M-771 344h0M-692 336h0M-623 337h0M-575 349h0M-534 359h0M-499 326h0M-498 380h0M-404 343h0M-363 331h0M-328 354h0M-224 345h0M-113 337h0M75 347h0M165 317h0M173 365h0M271 340h0M325 343h0M382 329h0M449 301h0M517 334h0M638 341h0M708 349h0M742 322h0M790 371h0M825 346h0M931 361h0M1021 363h0M1062 352h0M1102 368h0M1206 363h0M1239 336h0M1305 353h0M1422 372h0M1418 330h0M1553 345h0M1663 321h0M1766 337h0M1854 337h0M1890 360h0M-1916 376h0M-1828 385h0M-1790 366h0M-1719 376h0M-1691 409h0M-1646 381h0M-1582 361h0M-1451 398h0M-1377 387h0M-1331 364h0M-1272 372h0M-1172 376h0M-1027 390h0M-915 386h0M-811 391h0M-726 381h0M-684 377h0M-608 376h0M-373 373h0M-330 396h0M-264 359h0M-196 385h0M-128 377h0M-49 407h0M-23 374h0M18 387h0M60 387h0M213 377h0M255 379h0M297 374h0M398 368h0M468 389h0M526 376h0M568 382h0M600 410h0M731 385h0M767 406h0M860 370h0M974 355h0M993 393h0M1134 342h0M1165 370h0M1340 376h0M1381 382h0M1459 393h0M1457 348h0M1493 369h0M1566 385h0M1709 380h0M1814 360h0M1852 379h0M1851 421h0M-1919 419h0M-1849 463h0M-1827 427h0M-1788 408h0M-1642 423h0M-1581 411h0M-1436 438h0M-1396 425h0M-1255 455h0M-1192 414h0M-1149 413h0M-1069 390h0M-956 395h0M-848 413h0M-768 387h0M-742 420h0M-700 416h0M-627 413h0M-556 428h0M-436 445h0M-457 392h0M-340 437h0M-266 401h0M-228 419h0M-159 405h0M-119 418h0M-11 449h0M120 447h0M154 422h0M237 418h0M280 413h0M345 465h0M388 409h0M430 408h0M504 412h0M640 383h0M707 420h0M883 421h0M921 402h0M1035 403h0M1073 426h0M1140 415h0M1182 409h0M1234 433h0M1275 421h0M1532 411h0M1604 403h0M1647 404h0M1719 421h0M1759 405h0M1849 463h0M1890 402h0M1926 381h0M-1889 448h0M-1794 453h0M-1753 440h0M-1711 446h0M-1605 445h0M-1550 439h0M-1510 452h0M-1491 414h0M-1405 467h0M-1357 443h0M-1305 398h0M-1266 414h0M-1212 451h0M-1170 451h0M-1089 427h0M-1059 457h0M-980 472h0M-914 455h0M-833 462h0M-791 458h0M-669 445h0M-628 455h0M-535 465h0M-477 452h0M-395 433h0M-300 426h0M-220 460h0M-115 460h0M-80 436h0M30 463h0M54 428h0M80 461h0M195 414h0M310 442h0M348 423h0M537 447h0M639 426h0M744 471h0M779 447h0M841 417h0M920 444h0M978 450h0M1037 449h0M1110 449h0M1309 447h0M1395 448h0M1434 434h0M1459 469h0M1505 443h0M1546 451h0M1583 469h0M1657 445h0M1740 457h0M1780 442h0M-1902 488h0M-1816 489h0M-1763 481h0M-1722 488h0M-1680 479h0M-1652 510h0M-1618 485h0M-1574 474h0M-1445 479h0M-1366 484h0M-1291 478h0M-1141 482h0M-1100 468h0M-1004 507h0M-872 448h0M-730 485h0M-654 488h0M-577 466h0M-439 487h0M-370 467h0M-306 499h0M-262 475h0M-189 489h0M-75 509h0M-38 489h0M112 490h0M152 474h0M275 486h0M418 476h0M460 476h0M495 453h0M520 487h0M650 467h0M703 462h0M871 493h0M913 487h0M1047 521h0M1083 500h0M1182 476h0M1248 491h0M1290 485h0M1333 486h0M1352 449h0M1418 484h0M1498 484h0M1625 473h0M1665 487h0M1708 484h0M1824 497h0M1903 484h0M-1785 518h0M-1694 519h0M-1664 550h0M-1553 520h0M-1513 506h0M-1471 513h0M-1355 525h0M-1301 519h0M-1260 507h0M-1216 519h0M-1171 511h0M-1101 540h0M-1073 500h0M-962 511h0M-889 525h0M-865 490h0M-771 523h0M-730 533h0M-695 509h0M-619 522h0M-578 508h0M-507 517h0M-454 531h0M-353 505h0M-268 517h0M-229 502h0M-196 531h0M-117 503h0M-39 531h0M2 523h0M26 556h0M216 529h0M180 507h0M233 491h0M294 523h0M355 506h0M396 512h0M442 515h0M576 528h0M650 514h0M780 536h0M814 511h0M852 531h0M984 524h0M1012 485h0M1118 523h0M1159 510h0M1185 544h0M1208 509h0M1278 526h0M1356 522h0M1375 485h0M1427 535h0M1467 552h0M1521 519h0M1658 537h0M1723 525h0M1781 485h0M1805 535h0M1891 530h0M-1882 560h0M-1853 613h0M-1735 574h0M-1590 547h0M-1430 523h0M-1370 564h0M-1247 548h0M-1133 568h0M-1173 554h0M-1028 553h0M-964 582h0M-940 547h0M-847 532h0M-751 570h0M-660 530h0M-565 548h0M-524 555h0M-420 556h0M-384 534h0M-357 567h0M-325 537h0M-286 589h0M-236 544h0M-157 516h0M-95 547h0M-58 568h0M140 567h0M178 548h0M214 571h0M288 565h0M333 541h0M380 567h0M421 579h0M501 569h0M545 555h0M672 563h0M744 514h0M818 555h0M945 541h0M1051 563h0M1369 562h0M1527 583h0M1552 548h0M1622 559h0M1696 557h0M1740 564h0M1765 524h0M1840 558h0M1878 575h0M-1842 572h0M-1804 555h0M-1808 598h0M-1692 595h0M-1540 593h0M-1499 581h0M-1424 565h0M-1320 584h0M-1329 627h0M-1269 584h0M-1195 590h0M-1154 605h0M-1035 595h0M-986 545h0M-881 599h0M-833 572h0M-792 559h0M-710 580h0M-668 572h0M-616 589h0M-574 589h0M-498 587h0M-243 585h0M-261 623h0M-142 621h0M-166 561h0M-129 581h0M-64 609h0M115 601h0M98 562h0M204 613h0M253 588h0M327 582h0M357 611h0M426 621h0M463 587h0M534 596h0M512 528h0M579 580h0M623 584h0M716 545h0M724 586h0M765 605h0M813 597h0M854 610h0M942 586h0M980 566h0M1113 598h0M1153 583h0M1197 628h0M1270 592h0M1314 593h0M1328 553h0M1417 610h0M1458 602h0M1567 597h0M1660 579h0M1712 596h0M1806 583h0M1861 628h0M-1699 636h0M-1659 621h0M-1618 630h0M-1613 588h0M-1553 633h0M-1477 617h0M-1444 644h0M-1396 597h0M-1226 619h0M-1108 613h0M-1065 640h0M-994 617h0M-919 618h0M-865 638h0M-779 631h0M-713 623h0M-629 636h0M-559 628h0M-517 625h0M-474 621h0M-459 574h0M-401 622h0M-361 639h0M-332 608h0M-218 619h0M-206 659h0M-180 601h0M-25 624h0M25 626h0M73 606h0M176 645h0M277 627h0M358 653h0M464 640h0M496 613h0M596 619h0M761 647h0M892 592h0M922 623h0M999 633h0M1033 608h0M1128 637h0M1195 586h0M1239 621h0M1350 618h0M1373 665h0M1537 625h0M1575 642h0M1617 640h0M1745 622h0M1819 623h0M-1801 670h0M-1742 644h0M-1666 663h0M-1625 672h0M-1585 689h0M-1422 700h0M-1394 667h0M-1372 631h0M-1293 649h0M-1252 657h0M-1209 658h0M-1183 691h0M-1137 644h0M-1006 661h0M-986 723h0M-902 657h0M-821 639h0M-743 653h0M-672 634h0M-702 664h0M-653 672h0M-592 656h0M-500 664h0M-459 660h0M-417 661h0M-319 681h0M-247 662h0M-173 686h0M-75 650h0M-35 665h0M64 650h0M151 678h0M134 639h0M218 652h0M329 684h0M429 663h0M576 656h0M622 656h0M665 638h0M830 673h0M930 665h0M972 666h0M1053 645h0M1093 660h0M1130 679h0M1166 657h0M1311 635h0M1496 619h0M1495 686h0M1648 668h0M1686 649h0M1759 663h0M1801 661h0M-1841 684h0M-1783 632h0M-1736 701h0M-1654 704h0M-1519 690h0M-1484 659h0M-1359 703h0M-1322 680h0M-1281 690h0M-1141 686h0M-1095 690h0M-1021 700h0M-943 671h0M-874 690h0M-801 702h0M-760 692h0M-615 690h0M-529 695h0M-440 698h0M-358 698h0M-278 690h0M-174 728h0M-133 695h0M-68 691h0M-29 708h0M35 699h0M79 690h0M193 685h0M258 665h0M368 702h0M500 661h0M558 695h0M692 670h0M719 702h0M760 689h0M861 702h0M887 669h0M999 698h0M1061 687h0M1139 721h0M1230 694h0M1302 676h0M1339 699h0M1411 684h0M1452 678h0M1540 700h0M1580 716h0M1609 684h0M1683 693h0M1725 690h0M-1809 712h0M-1743 743h0M-1784 750h0M-1703 727h0M-1631 743h0M-1589 733h0M-1558 761h0M-1474 762h0M-1457 723h0M-1392 730h0M-1322 722h0M-1191 738h0M-1153 756h0M-1061 714h0M-903 728h0M-943 714h0M-861 730h0M-739 729h0M-683 702h0M-666 743h0M-616 732h0M-578 712h0M-501 726h0M-428 738h0M-387 729h0M-345 738h0M-270 771h0M-264 730h0M-221 732h0M-128 737h0M-12 755h0M63 730h0M135 729h0M174 748h0M210 724h0M294 717h0M393 739h0M411 702h0M474 732h0M550 736h0M631 706h0M673 708h0M748 733h0M822 723h0M891 730h0M933 730h0M1001 771h0M1099 734h0M1179 731h0M1288 716h0M1397 736h0M1442 752h0M1508 727h0M1547 743h0M1644 710h0M1781 740h0M1822 732h0M-1628 786h0M-1549 720h0M-1516 758h0M-1427 753h0M-1354 749h0M-1315 765h0M-1260 762h0M-1218 771h0M-1112 767h0M-1071 755h0M-1033 774h0M-992 765h0M-924 764h0M-844 769h0M-803 761h0M-760 765h0M-568 753h0M-528 766h0M-485 766h0M-444 777h0M-312 763h0M-299 802h0M-306 721h0M-156 768h0M-89 752h0M31 757h0M105 759h0M260 784h0M353 751h0M457 771h0M500 766h0M611 744h0M653 745h0M722 765h0M764 773h0M874 771h0M975 733h0M1042 758h0M1082 772h0M1212 799h0M1252 738h0M1288 761h0M1324 739h0M1467 718h0M1607 796h0M1645 752h0M1713 730h0M-1788 812h0M-1757 783h0M-1717 794h0M-1676 805h0M-1563 832h0M-1535 797h0M-1393 819h0M-1359 791h0M-1283 831h0M-1148 798h0M-1107 809h0M-864 807h0M-707 808h0M-718 767h0M-651 798h0M-609 804h0M-506 803h0M-376 801h0M-212 807h0M-198 767h0M-106 807h0M-68 789h0M8 793h0M51 799h0M125 800h0M169 791h0M222 803h0M290 814h0M387 781h0M471 811h0M513 807h0M589 780h0M594 822h0M736 805h0M804 800h0M831 768h0M898 805h0M968 797h0M1138 797h0M1250 781h0M1289 804h0M1325 781h0M1341 820h0M1379 793h0M1451 793h0M1493 796h0M1567 781h0M1552 822h0M1755 820h0M1793 801h0M-1747 825h0M-1639 827h0M-1508 829h0M-1468 815h0M-1457 856h0M-1415 855h0M-1353 833h0M-1251 803h0M-1204 843h0M-1043 815h0M-1008 838h0M-937 837h0M-972 815h0M-829 832h0M-787 830h0M-743 835h0M-573 827h0M-484 839h0M-346 868h0M-314 841h0M-237 840h0M-194 888h0M-76 837h0M33 873h0M113 841h0M154 831h0M227 847h0M348 841h0M389 827h0M424 803h0M452 849h0M555 806h0M631 845h0M663 796h0M693 832h0M832 833h0M900 847h0M1039 833h0M1082 835h0M1124 839h0M1196 838h0M1308 847h0M1456 834h0M1592 836h0M1625 863h0M1649 794h0M1671 830h0M1713 827h0M-1755 881h0M-1714 869h0M-1676 847h0M-1604 851h0M-1534 863h0M-1468 905h0M-1370 872h0M-1319 807h0M-1329 881h0M-1179 877h0M-1078 839h0M-972 861h0M-868 849h0M-769 868h0M-703 850h0M-670 877h0M-594 899h0M-550 863h0M-438 826h0M-451 866h0M-385 884h0M-274 866h0M-236 882h0M-194 845h0M-157 868h0M-121 846h0M-38 854h0M-18 892h0M25 832h0M85 873h0M186 859h0M210 893h0M307 853h0M336 887h0M413 862h0M494 846h0M733 847h0M777 869h0M859 865h0M932 875h0M936 825h0M975 872h0M1059 871h0M1163 865h0M1202 881h0M1235 854h0M1299 890h0M1381 835h0M1376 877h0M1480 869h0M1551 872h0M1739 861h0M-1735 919h0M-1670 889h0M-1552 901h0M-1510 898h0M-1290 904h0M-1258 875h0M-1155 911h0M-1117 893h0M-1080 914h0M-1040 904h0M-994 901h0M-885 888h0M-840 881h0M-750 905h0M-628 874h0M-491 923h0M-424 899h0M-368 923h0M-327 910h0M-222 922h0M-138 917h0M-60 889h0M85 916h0M165 895h0M251 882h0M375 902h0M418 904h0M422 946h0M488 889h0M529 908h0M558 879h0M609 926h0M630 888h0M700 874h0M739 889h0M863 908h0M914 913h0M1017 876h0M1084 905h0M1126 914h0M1242 896h0M1405 908h0M1444 891h0M1489 910h0M1532 916h0M1670 903h0M1722 945h0M-1663 931h0M-1620 930h0M-1576 958h0M-1501 939h0M-1459 947h0M-1388 967h0M-1389 925h0M-1291 946h0M-1223 939h0M-1154 953h0M-1051 945h0M-942 932h0M-899 934h0M-857 920h0M-826 952h0M-788 933h0M-695 948h0M-653 943h0M-633 980h0M-569 935h0M-612 937h0M-517 956h0M-449 937h0M-355 989h0M-335 951h0M-179 927h0M-96 910h0M-42 927h0M32 939h0M122 935h0M196 963h0M230 931h0M309 925h0M325 964h0M463 959h0M494 931h0M566 928h0M690 921h0M732 930h0M885 944h0M955 910h0M997 913h0M1028 941h0M1070 944h0M1168 908h0M1207 923h0M1186 960h0M1360 917h0M1425 949h0M1505 949h0M1598 941h0M1644 937h0M1744 903h0M-1673 1024h0M-1641 967h0M-1525 974h0M-1352 945h0M-1277 989h0M-1194 970h0M-1119 978h0M-1075 980h0M-993 999h0M-964 968h0M-922 970h0M-867 961h0M-772 973h0M-729 972h0M-555 975h0M-474 972h0M-386 961h0M-295 938h0M-242 978h0M-174 990h0M-145 959h0M-75 954h0M83 992h0M132 1005h0M150 967h0M242 971h0M284 975h0M380 943h0M398 981h0M507 972h0M631 961h0M674 960h0M716 968h0M789 973h0M862 979h0M937 949h0M980 951h0M1011 980h0M1144 952h0M1115 983h0M1260 985h0M1302 983h0M1340 956h0M1393 978h0M1465 964h0M1538 976h0M1581 981h0M1655 987h0M1697 983h0M-1634 1009h0M-1540 1024h0M-1500 1008h0M-1442 1019h0M-1350 992h0M-1234 989h0M-1199 1012h0M-1160 995h0M-1060 1019h0M-1033 984h0M-949 1007h0M-864 1016h0M-781 1014h0M-739 1012h0M-662 1013h0M-599 1005h0M-508 997h0M-470 1016h0M-401 1001h0M-312 987h0M-204 960h0M-92 1011h0M-26 999h0M7 973h0M175 1001h0M309 1009h0M380 1019h0M346 1042h0M439 993h0M528 1010h0M514 1050h0M570 1003h0M688 1000h0M729 1008h0M815 1006h0M908 979h0M977 1005h0M1018 1022h0M1088 1016h0M1187 1002h0M1464 1006h0M1504 1021h0M1586 1027h0M1675 1024h0M-1592 1020h0M-1569 1055h0M-1476 1044h0M-1435 1065h0M-1403 1037h0M-1293 1037h0M-1165 1037h0M-1126 1051h0M-1057 1062h0M-1015 1058h0M-909 1022h0M-822 1019h0M-798 1054h0M-655 1055h0M-594 1047h0M-526 1066h0M-397 1044h0M-324 1055h0M-294 1025h0M-258 1048h0M-218 1062h0M-123 1039h0M-55 1030h0M-14 1039h0M58 1026h0M85 1058h0M175 1101h0M233 1044h0M274 1034h0M470 1060h0M556 1045h0M597 1035h0M659 1031h0M701 1040h0M771 1011h0M830 1046h0M889 1017h0M913 1052h0M953 1039h0M1055 1043h0M1103 1056h0M1130 1023h0M1202 1042h0M1241 1023h0M1342 1043h0M1374 1015h0M1438 1040h0M1610 1062h0M1565 1064h0M-1638 1082h0M-1535 1081h0M-1473 1086h0M-1368 1096h0M-1331 1064h0M-1208 1099h0M-1096 1080h0M-996 1096h0M-978 1038h0M-959 1076h0M-882 1086h0M-846 1054h0M-768 1083h0M-696 1065h0M-673 1100h0M-566 1079h0M-192 1029h0M-162 1058h0M-60 1074h0M-18 1081h0M23 1090h0M129 1048h0M192 1062h0M247 1083h0M289 1078h0M363 1081h0M398 1057h0M429 1087h0M600 1077h0M690 1081h0M745 1122h0M802 1077h0M871 1055h0M904 1126h0M986 1093h0M1021 1068h0M1138 1109h0M1144 1067h0M1218 1093h0M1270 1055h0M1331 1083h0M1372 1072h0M1417 1076h0M1459 1079h0M1589 1099h0M1653 1060h0M-1613 1116h0M-1574 1097h0M-1463 1146h0M-1379 1142h0M-1408 1111h0M-1289 1079h0M-1251 1097h0M-1170 1079h0M-1157 1119h0M-1110 1120h0M-960 1118h0M-923 1098h0M-891 1127h0M-850 1138h0M-650 1137h0M-599 1106h0M-511 1105h0M-487 1140h0M-457 1091h0M-412 1121h0M-383 1090h0M-285 1112h0M-250 1089h0M-162 1111h0M-45 1113h0M65 1096h0M107 1093h0M317 1110h0M273 1117h0M393 1110h0M462 1141h0M499 1121h0M631 1105h0M732 1082h0M764 1159h0M843 1086h0M944 1112h0M1097 1097h0M1157 1147h0M1180 1111h0M1358 1116h0M1436 1116h0M1547 1104h0M-1504 1115h0M-1504 1157h0M-1307 1135h0M-1245 1163h0M-1195 1139h0M-1066 1109h0M-1017 1160h0M-913 1163h0M-842 1096h0M-777 1125h0M-736 1148h0M-693 1138h0M-575 1141h0M-533 1147h0M-312 1145h0M-241 1131h0M-199 1137h0M-120 1111h0M-63 1151h0M75 1137h0M39 1161h0M178 1168h0M151 1136h0M231 1126h0M300 1148h0M375 1148h0M498 1163h0M604 1170h0M703 1121h0M680 1157h0M805 1149h0M862 1124h0M923 1164h0M968 1147h0M1007 1130h0M1199 1156h0M1238 1130h0M1283 1122h0M1390 1143h0M1533 1144h0M-1569 1175h0M-1445 1185h0M-1409 1207h0M-1370 1191h0M-1310 1189h0M-1230 1215h0M-1206 1180h0M-1165 1170h0M-1126 1185h0M-904 1205h0M-836 1178h0M-774 1167h0M-740 1191h0M-671 1174h0M-628 1174h0M-505 1178h0M-472 1210h0M-435 1190h0M-357 1186h0M-393 1159h0M-313 1187h0M-270 1184h0M-229 1172h0M-145 1186h0M1 1184h0M75 1181h0M137 1179h0M242 1184h0M284 1187h0M349 1202h0M389 1188h0M462 1183h0M566 1188h0M569 1145h0M639 1147h0M722 1160h0M799 1191h0M879 1162h0M1024 1169h0M1066 1167h0M1108 1178h0M1256 1200h0M1317 1157h0M1343 1190h0M1430 1158h0M1448 1196h0M1515 1183h0M1564 1174h0M-1517 1216h0M-1341 1160h0M-1269 1198h0M-1307 1231h0M-1178 1212h0M-1102 1220h0M-1060 1210h0M-1019 1203h0M-908 1247h0M-838 1220h0M-800 1200h0M-692 1211h0M-614 1214h0M-583 1242h0M-492 1249h0M-335 1222h0M-250 1221h0M-209 1212h0M-187 1177h0M-136 1227h0M-100 1206h0M-30 1213h0M39 1203h0M76 1223h0M204 1202h0M217 1244h0M417 1225h0M496 1208h0M601 1212h0M725 1202h0M826 1224h0M866 1210h0M931 1211h0M976 1214h0M1080 1210h0M1153 1219h0M1193 1235h0M1213 1197h0M1296 1216h0M1304 1261h0M1386 1185h0M1438 1237h0M-1508 1258h0M-1443 1230h0M-1345 1249h0M-1265 1241h0M-1194 1287h0M-1169 1253h0M-1126 1254h0M-1081 1257h0M-1009 1244h0M-943 1222h0M-799 1243h0M-729 1231h0M-661 1241h0M-622 1257h0M-541 1236h0M-424 1280h0M-393 1252h0M-278 1252h0M-204 1254h0M-67 1232h0M-32 1255h0M7 1231h0M108 1250h0M150 1251h0M257 1256h0M306 1247h0M348 1244h0M390 1260h0M445 1257h0M522 1242h0M562 1230h0M606 1253h0M648 1260h0M720 1245h0M763 1263h0M807 1261h0M881 1250h0M1047 1238h0M1092 1251h0M1131 1266h0M1222 1265h0M1347 1260h0M1369 1224h0M1399 1255h0M1486 1215h0M-1478 1293h0M-1434 1272h0M-1305 1311h0M-1271 1285h0M-1232 1267h0M-1073 1299h0M-1035 1280h0M-985 1280h0M-908 1289h0M-873 1313h0M-768 1287h0M-703 1287h0M-591 1287h0M-459 1304h0M-340 1303h0M-352 1262h0M-271 1323h0M-162 1260h0M-124 1277h0M22 1270h0M94 1289h0M136 1291h0M215 1287h0M288 1285h0M386 1302h0M608 1296h0M651 1302h0M787 1298h0M893 1290h0M942 1277h0M982 1291h0M1020 1272h0M1157 1300h0M1199 1301h0M1264 1274h0M1437 1280h0M1484 1286h0M-1407 1327h0M-1370 1349h0M-1158 1349h0M-1130 1317h0M-1069 1342h0M-948 1300h0M-918 1330h0M-810 1286h0M-765 1329h0M-675 1318h0M-635 1331h0M-519 1327h0M-433 1338h0M-382 1295h0M-300 1288h0M-225 1291h0M-189 1324h0M-73 1329h0M-48 1294h0M38 1338h0M53 1298h0M176 1303h0M232 1325h0M274 1324h0M347 1318h0M450 1306h0M525 1310h0M567 1303h0M588 1340h0M693 1313h0M744 1301h0M805 1336h0M847 1325h0M927 1316h0M967 1331h0M1044 1306h0M1117 1314h0M1225 1335h0M1328 1298h0M1380 1327h0M1456 1318h0M-1327 1350h0M-1265 1374h0M-1236 1342h0M-1199 1361h0M-1016 1344h0M-1044 1376h0M-975 1334h0M-912 1374h0M-847 1350h0M-806 1341h0M-733 1359h0M-689 1358h0M-561 1329h0M-464 1366h0M-360 1370h0M-296 1358h0M-230 1332h0M-115 1324h0M-82 1370h0M-41 1357h0M-17 1323h0M109 1358h0M147 1339h0M218 1366h0M325 1354h0M380 1345h0M410 1374h0M516 1352h0M552 1374h0M659 1344h0M732 1342h0M833 1368h0M888 1332h0M924 1358h0M1032 1347h0M1107 1355h0M1154 1373h0M1196 1367h0M1340 1339h0M-1390 1387h0M-1253 1414h0M-1191 1403h0M-1127 1408h0M-1091 1381h0M-947 1397h0M-803 1384h0M-752 1399h0M-710 1395h0M-639 1374h0M-601 1393h0M-538 1365h0M-433 1394h0M-402 1367h0M-323 1390h0M-255 1366h0M-234 1402h0M-207 1368h0M-134 1362h0M-82 1415h0M3 1360h0M41 1380h0M83 1392h0M125 1397h0M296 1395h0M333 1415h0M388 1411h0M444 1348h0M495 1388h0M573 1411h0M644 1389h0M686 1386h0M729 1384h0M820 1408h0M862 1401h0M964 1373h0M1036 1389h0M1079 1393h0M1218 1404h0M1246 1372h0M1286 1391h0M1405 1372h0M-1360 1417h0M-1305 1386h0M-1196 1458h0M-1161 1433h0M-1023 1413h0M-896 1413h0M-858 1433h0M-788 1423h0M-683 1428h0M-654 1458h0M-638 1419h0M-578 1428h0M-533 1418h0M-431 1436h0M-396 1413h0M-330 1432h0M-139 1416h0M-68 1455h0M-15 1399h0M136 1438h0M177 1426h0M229 1412h0M358 1381h0M463 1419h0M531 1411h0M703 1425h0M745 1423h0M900 1419h0M973 1415h0M1107 1425h0M1150 1422h0M1256 1421h0M1297 1432h0M1330 1396h0M1373 1400h0M-1317 1457h0M-1238 1461h0M-1157 1475h0M-1041 1474h0M-1081 1459h0M-1004 1451h0M-964 1436h0M-895 1455h0M-842 1503h0M-779 1465h0M-680 1492h0M-612 1453h0M-485 1462h0M-368 1451h0M-288 1458h0M-245 1461h0M-202 1480h0M-192 1408h0M-109 1446h0M-1 1471h0M34 1447h0M102 1462h0M246 1450h0M284 1470h0M325 1457h0M363 1476h0M470 1461h0M601 1443h0M703 1467h0M811 1451h0M849 1473h0M916 1458h0M959 1457h0M1030 1455h0M1075 1451h0M1222 1446h0M1272 1496h0M-1285 1485h0M-1135 1511h0M-1123 1451h0M-1004 1493h0M-924 1512h0M-935 1471h0M-821 1453h0M-737 1471h0M-719 1509h0M-628 1492h0M-546 1493h0M-463 1503h0M-421 1494h0M-379 1492h0M-304 1500h0M-152 1456h0M-89 1491h0M-15 1511h0M27 1502h0M62 1478h0M96 1504h0M176 1549h0M214 1484h0M398 1452h0M431 1479h0M501 1497h0M542 1510h0M588 1501h0M724 1504h0M767 1488h0M897 1496h0M992 1483h0M1146 1489h0M1200 1482h0M1240 1523h0M-1228 1532h0M-1186 1532h0M-1041 1516h0M-961 1541h0M-877 1527h0M-754 1533h0M-715 1551h0M-619 1533h0M-398 1530h0M-356 1530h0M-272 1527h0M-235 1507h0M-134 1558h0M-96 1538h0M-56 1518h0M99 1546h0M134 1523h0M167 1497h0M235 1521h0M333 1541h0M368 1518h0M511 1539h0M626 1477h0M685 1520h0M758 1529h0M842 1542h0M886 1542h0M925 1527h0M996 1525h0M1068 1517h0M1104 1482h0M1185 1521h0M-1148 1551h0M-1063 1626h0M-1003 1535h0M-1003 1609h0M-913 1593h0M-808 1584h0M-690 1585h0M-659 1557h0M-555 1560h0M-538 1599h0M-513 1565h0M-497 1527h0M-377 1566h0M-293 1563h0M-216 1569h0M-177 1554h0M-97 1580h0M-60 1560h0M61 1527h0M137 1565h0M170 1591h0M286 1606h0M374 1560h0M416 1560h0M458 1562h0M575 1574h0M646 1548h0M720 1547h0M771 1570h0M801 1532h0M864 1579h0M933 1569h0M984 1569h0M1057 1558h0M1127 1557h0M-1125 1586h0M-1073 1545h0M-1041 1590h0M-922 1634h0M-828 1546h0M-772 1606h0M-732 1590h0M-579 1595h0M-444 1594h0M-335 1567h0M-243 1602h0M-169 1595h0M-70 1613h0M-33 1592h0M4 1573h0M71 1606h0M212 1590h0M253 1580h0M321 1582h0M359 1600h0M497 1579h0M589 1614h0M623 1588h0M698 1592h0M813 1573h0M977 1610h0M1017 1596h0M1058 1606h0M1092 1582h0M1157 1587h0M-1105 1623h0M-1083 1586h0M-960 1615h0M-881 1621h0M-839 1625h0M-818 1662h0M-771 1649h0M-703 1626h0M-619 1607h0M-566 1665h0M-519 1637h0M-411 1625h0M-362 1637h0M-277 1635h0M-183 1636h0M-140 1635h0M-33 1633h0M33 1626h0M107 1628h0M199 1631h0M244 1621h0M296 1647h0M448 1635h0M491 1632h0M578 1655h0M661 1619h0M731 1619h0M766 1644h0M835 1610h0M908 1636h0M996 1648h0M1123 1611h0M-1021 1677h0M-989 1649h0M-928 1684h0M-861 1662h0M-726 1661h0M-674 1657h0M-480 1654h0M-424 1667h0M-351 1677h0M-320 1633h0M-300 1670h0M-210 1668h0M-128 1676h0M-93 1651h0M-55 1669h0M3 1656h0M70 1648h0M116 1712h0M172 1664h0M243 1689h0M337 1635h0M365 1667h0M407 1654h0M434 1687h0M543 1685h0M538 1641h0M645 1658h0M727 1661h0M808 1652h0M845 1673h0M946 1685h0M950 1643h0M999 1691h0M1035 1669h0M-959 1714h0M-811 1715h0M-736 1714h0M-662 1697h0M-545 1729h0M-467 1695h0M-427 1709h0M-385 1702h0M-262 1689h0M-224 1708h0M-154 1713h0M-112 1715h0M-33 1705h0M8 1698h0M78 1731h0M80 1689h0M168 1706h0M285 1688h0M321 1710h0M473 1670h0M494 1746h0M583 1699h0M658 1698h0M701 1694h0M744 1700h0M783 1717h0M878 1699h0M906 1742h0M-918 1726h0M-866 1724h0M-791 1765h0M-724 1755h0M-695 1723h0M-621 1711h0M-587 1735h0M-511 1753h0M-506 1711h0M-459 1737h0M-325 1737h0M-285 1750h0M-71 1724h0M36 1737h0M-6 1738h0M148 1744h0M237 1731h0M344 1747h0M364 1710h0M387 1745h0M459 1721h0M500 1702h0M564 1737h0M606 1739h0M680 1735h0M818 1741h0M863 1739h0M-858 1766h0M-682 1763h0M-625 1753h0M-550 1771h0M-394 1774h0M-352 1769h0M-210 1763h0M-174 1785h0M-131 1783h0M-98 1757h0M-62 1779h0M-19 1778h0M55 1776h0M193 1790h0M191 1747h0M302 1748h0M532 1766h0M636 1769h0M711 1764h0M780 1760h0M816 1784h0M-755 1813h0M-716 1797h0M-674 1804h0M-636 1823h0M-541 1812h0M-491 1823h0M-475 1776h0M-448 1808h0M-301 1829h0M-281 1791h0M-239 1795h0M-96 1805h0M-39 1815h0M25 1807h0M121 1815h0M79 1811h0M163 1821h0M232 1773h0M304 1791h0M374 1814h0M458 1806h0M497 1822h0M567 1803h0M672 1813h0M739 1819h0M778 1803h0M-672 1845h0M-524 1851h0M-423 1849h0M-384 1834h0M-342 1838h0M-228 1835h0M-189 1853h0M-106 1847h0M-38 1857h0M-2 1879h0M88 1852h0M159 1876h0M241 1815h0M359 1853h0M417 1813h0M503 1870h0M535 1841h0M577 1844h0M654 1852h0M-602 1869h0M-566 1847h0M-486 1870h0M-302 1898h0M-277 1864h0M-237 1877h0M-147 1854h0M-77 1878h0M50 1872h0M79 1903h0M117 1884h0M171 1917h0M204 1890h0M227 1855h0M269 1850h0M316 1862h0M417 1890h0M434 1852h0M461 1887h0M542 1888h0M614 1865h0M-467 1907h0M-424 1917h0M-309 1939h0M-344 1890h0M-232 1919h0M-180 1920h0M-2 1926h0M49 1933h0M91 1944h0M129 1925h0M243 1919h0M285 1901h0M360 1896h0M392 1924h0M-351 1932h0M-207 1953h0M-160 1957h0M-117 1960h0M-73 1959h0M-21 1964h0M159 1957h0M277 1944h0M319 1936h0"/><path id="dB" d="M-239 -1954h0M-117 -1965h0M-42 -1965h0M33 -1968h0M227 -1955h0M288 -1918h0M-473 -1909h0M-398 -1928h0M-293 -1911h0M-247 -1921h0M-128 -1934h0M-66 -1894h0M97 -1898h0M197 -1901h0M262 -1899h0M434 -1920h0M506 -1900h0M-452 -1849h0M-449 -1881h0M-329 -1902h0M-360 -1889h0M-160 -1879h0M-96 -1877h0M-35 -1883h0M127 -1911h0M178 -1874h0M266 -1866h0M362 -1893h0M470 -1868h0M-670 -1851h0M-552 -1846h0M-522 -1859h0M-301 -1843h0M-226 -1844h0M-57 -1858h0M-13 -1803h0M57 -1841h0M171 -1810h0M202 -1853h0M381 -1867h0M398 -1806h0M446 -1847h0M553 -1852h0M583 -1838h0M658 -1856h0M-769 -1812h0M-737 -1818h0M-457 -1783h0M-420 -1782h0M-399 -1817h0M-367 -1814h0M-336 -1825h0M-237 -1810h0M-158 -1805h0M-2 -1771h0M53 -1805h0M118 -1797h0M171 -1842h0M295 -1811h0M327 -1827h0M430 -1811h0M552 -1819h0M582 -1805h0M612 -1819h0M731 -1794h0M752 -1820h0M-839 -1781h0M-779 -1762h0M-637 -1731h0M-636 -1784h0M-577 -1776h0M-439 -1755h0M-387 -1786h0M-144 -1772h0M-112 -1775h0M-8 -1736h0M27 -1786h0M113 -1765h0M224 -1752h0M236 -1792h0M472 -1749h0M609 -1786h0M699 -1795h0M792 -1757h0M822 -1745h0M-916 -1695h0M-846 -1732h0M-730 -1742h0M-546 -1738h0M-513 -1749h0M-374 -1725h0M-366 -1761h0M-240 -1738h0M-271 -1748h0M-164 -1740h0M-75 -1709h0M33 -1711h0M164 -1710h0M201 -1779h0M327 -1753h0M365 -1742h0M440 -1746h0M518 -1713h0M576 -1727h0M683 -1715h0M724 -1762h0M878 -1747h0M-948 -1692h0M-774 -1690h0M-663 -1712h0M-615 -1708h0M-472 -1689h0M-222 -1707h0M-107 -1707h0M60 -1730h0M131 -1633h0M203 -1718h0M255 -1765h0M439 -1713h0M504 -1743h0M589 -1697h0M752 -1703h0M823 -1696h0M906 -1670h0M935 -1684h0M986 -1704h0M-1032 -1677h0M-962 -1663h0M-929 -1666h0M-747 -1672h0M-714 -1671h0M-641 -1688h0M-572 -1682h0M-502 -1677h0M-440 -1682h0M-346 -1659h0M-376 -1646h0M-249 -1670h0M-173 -1665h0M-80 -1676h0M-74 -1613h0M-19 -1661h0M46 -1682h0M113 -1663h0M267 -1688h0M379 -1661h0M447 -1642h0M483 -1654h0M572 -1607h0M619 -1709h0M684 -1672h0M750 -1659h0M853 -1683h0M875 -1659h0M-974 -1631h0M-867 -1623h0M-810 -1633h0M-709 -1609h0M-497 -1590h0M-351 -1626h0M-292 -1608h0M-236 -1639h0M-89 -1644h0M36 -1625h0M188 -1602h0M218 -1614h0M306 -1652h0M372 -1629h0M512 -1631h0M580 -1665h0M850 -1638h0M962 -1620h0M1085 -1643h0M-1157 -1593h0M-1044 -1602h0M-1057 -1572h0M-932 -1592h0M-757 -1610h0M-729 -1584h0M-559 -1568h0M-432 -1594h0M-363 -1591h0M-223 -1609h0M-77 -1581h0M30 -1593h0M98 -1633h0M320 -1591h0M355 -1596h0M380 -1564h0M539 -1612h0M636 -1613h0M710 -1604h0M785 -1559h0M1071 -1613h0M1146 -1600h0M-1130 -1574h0M-864 -1582h0M-761 -1578h0M-546 -1538h0M-525 -1562h0M-488 -1559h0M-459 -1573h0M-298 -1573h0M-269 -1558h0M-196 -1593h0M-176 -1568h0M-146 -1554h0M-44 -1599h0M29 -1553h0M55 -1572h0M178 -1569h0M204 -1541h0M308 -1545h0M457 -1541h0M499 -1554h0M615 -1520h0M703 -1573h0M755 -1547h0M894 -1588h0M918 -1524h0M993 -1554h0M1116 -1554h0M1145 -1568h0M-1225 -1505h0M-1126 -1541h0M-1020 -1536h0M-922 -1528h0M-866 -1549h0M-723 -1514h0M-622 -1532h0M-585 -1545h0M-425 -1520h0M-388 -1570h0M-342 -1522h0M-63 -1511h0M126 -1525h0M279 -1530h0M328 -1520h0M400 -1538h0M430 -1524h0M521 -1530h0M552 -1539h0M607 -1488h0M767 -1516h0M856 -1564h0M887 -1514h0M999 -1522h0M1069 -1549h0M1137 -1529h0M1215 -1549h0M1240 -1529h0M-1259 -1512h0M-1219 -1453h0M-1203 -1481h0M-1194 -1512h0M-1067 -1469h0M-963 -1490h0M-954 -1521h0M-860 -1468h0M-570 -1516h0M-501 -1491h0M-469 -1499h0M-318 -1501h0M-233 -1532h0M-196 -1499h0M-134 -1450h0M-93 -1498h0M-67 -1478h0M-31 -1511h0M59 -1540h0M76 -1483h0M195 -1508h0M299 -1505h0M366 -1488h0M605 -1456h0M732 -1483h0M826 -1496h0M941 -1501h0M1020 -1497h0M1060 -1469h0M1088 -1486h0M1125 -1499h0M1210 -1517h0M-1273 -1447h0M-1105 -1430h0M-949 -1461h0M-890 -1481h0M-843 -1441h0M-750 -1402h0M-712 -1448h0M-690 -1422h0M-616 -1459h0M-541 -1460h0M-509 -1460h0M-411 -1455h0M-379 -1460h0M-320 -1466h0M-319 -1434h0M3 -1456h0M31 -1472h0M59 -1455h0M252 -1451h0M425 -1470h0M548 -1461h0M578 -1474h0M575 -1442h0M643 -1484h0M793 -1449h0M1005 -1468h0M1090 -1453h0M1163 -1449h0M1274 -1498h0M-1352 -1431h0M-1244 -1431h0M-1129 -1408h0M-1032 -1417h0M-876 -1440h0M-781 -1413h0M-721 -1416h0M-478 -1425h0M-287 -1443h0M-228 -1428h0M-115 -1422h0M-84 -1413h0M-21 -1433h0M31 -1439h0M189 -1410h0M276 -1428h0M347 -1407h0M517 -1450h0M613 -1424h0M674 -1465h0M759 -1465h0M814 -1424h0M920 -1436h0M949 -1421h0M1033 -1451h0M1099 -1422h0M1192 -1434h0M1227 -1443h0M1291 -1432h0M-1377 -1407h0M-1346 -1399h0M-1318 -1415h0M-1306 -1385h0M-1179 -1330h0M-1140 -1378h0M-1053 -1391h0M-898 -1416h0M-828 -1412h0M-813 -1383h0M-626 -1398h0M-603 -1375h0M-577 -1395h0M-492 -1393h0M-460 -1398h0M-379 -1388h0M-348 -1449h0M-167 -1384h0M-7 -1403h0M128 -1368h0M186 -1372h0M250 -1409h0M360 -1377h0M421 -1395h0M392 -1381h0M490 -1383h0M521 -1392h0M613 -1383h0M677 -1432h0M791 -1401h0M863 -1387h0M902 -1373h0M1040 -1387h0M1114 -1393h0M1269 -1384h0M-1392 -1334h0M-1299 -1353h0M-1182 -1298h0M-1168 -1361h0M-1111 -1362h0M-869 -1334h0M-746 -1353h0M-680 -1320h0M-539 -1392h0M-369 -1357h0M-228 -1395h0M-113 -1351h0M-13 -1371h0M57 -1377h0M103 -1348h0M158 -1356h0M658 -1369h0M685 -1351h0M833 -1349h0M908 -1341h0M978 -1360h0M1009 -1376h0M1198 -1369h0M1281 -1312h0M1341 -1393h0M1437 -1345h0M-1319 -1328h0M-1214 -1303h0M-1149 -1301h0M-1098 -1330h0M-1037 -1363h0M-1020 -1335h0M-914 -1291h0M-838 -1326h0M-805 -1309h0M-660 -1294h0M-648 -1327h0M-499 -1319h0M-433 -1298h0M-409 -1319h0M-296 -1314h0M-227 -1342h0M-157 -1314h0M-27 -1289h0M26 -1324h0M251 -1324h0M280 -1309h0M313 -1312h0M380 -1309h0M410 -1323h0M443 -1325h0M475 -1323h0M572 -1311h0M604 -1318h0M849 -1321h0M881 -1314h0M1015 -1302h0M1135 -1335h0M1210 -1336h0M1311 -1325h0M-1453 -1328h0M-1407 -1275h0M-1384 -1300h0M-1280 -1267h0M-1126 -1279h0M-1055 -1284h0M-941 -1315h0M-781 -1287h0M-589 -1242h0M-531 -1304h0M-503 -1286h0M-461 -1243h0M-305 -1283h0M-207 -1273h0M-181 -1293h0M-87 -1295h0M113 -1281h0M186 -1288h0M181 -1254h0M539 -1298h0M606 -1277h0M667 -1279h0M767 -1309h0M829 -1295h0M954 -1302h0M1135 -1302h0M1192 -1267h0M1256 -1291h0M1383 -1293h0M1455 -1277h0M-1498 -1268h0M-1440 -1278h0M-1312 -1256h0M-1256 -1245h0M-1108 -1252h0M-901 -1220h0M-847 -1253h0M-729 -1250h0M-664 -1220h0M-547 -1231h0M-392 -1243h0M-364 -1258h0M-142 -1237h0M-97 -1264h0M-48 -1313h0M45 -1222h0M117 -1249h0M191 -1223h0M211 -1268h0M289 -1207h0M302 -1238h0M334 -1242h0M402 -1251h0M476 -1258h0M557 -1239h0M606 -1189h0M719 -1251h0M771 -1189h0M841 -1222h0M941 -1272h0M986 -1244h0M1024 -1195h0M1277 -1265h0M1349 -1241h0M1444 -1246h0M-1556 -1205h0M-1466 -1259h0M-1254 -1211h0M-1064 -1196h0M-1005 -1188h0M-883 -1188h0M-632 -1222h0M-605 -1205h0M-519 -1214h0M-412 -1182h0M-353 -1228h0M-310 -1213h0M-222 -1193h0M-169 -1220h0M-110 -1234h0M-41 -1207h0M-39 -1239h0M-9 -1214h0M149 -1249h0M159 -1218h0M215 -1200h0M322 -1212h0M351 -1199h0M536 -1214h0M623 -1217h0M710 -1220h0M800 -1204h0M904 -1197h0M913 -1229h0M1013 -1226h0M1000 -1173h0M1173 -1236h0M1205 -1237h0M1235 -1223h0M1330 -1214h0M1409 -1187h0M1509 -1208h0M-1555 -1141h0M-1430 -1174h0M-1319 -1170h0M-1244 -1180h0M-1158 -1192h0M-1126 -1195h0M-1097 -1179h0M-1036 -1178h0M-938 -1167h0M-915 -1191h0M-852 -1176h0M-743 -1174h0M-710 -1190h0M-678 -1190h0M-574 -1213h0M-475 -1159h0M-371 -1169h0M-248 -1173h0M-105 -1202h0M-35 -1144h0M42 -1161h0M126 -1217h0M143 -1176h0M268 -1241h0M384 -1196h0M403 -1171h0M474 -1169h0M579 -1168h0M610 -1157h0M757 -1159h0M829 -1192h0M996 -1137h0M1098 -1200h0M1449 -1209h0M1519 -1173h0M-1601 -1146h0M-1553 -1102h0M-1396 -1170h0M-1303 -1110h0M-1256 -1149h0M-1035 -1119h0M-950 -1137h0M-866 -1146h0M-820 -1142h0M-712 -1158h0M-596 -1134h0M-344 -1151h0M-315 -1166h0M-248 -1140h0M-177 -1149h0M-145 -1157h0M11 -1154h0M118 -1149h0M189 -1151h0M297 -1136h0M362 -1119h0M477 -1137h0M543 -1182h0M551 -1151h0M783 -1135h0M896 -1166h0M907 -1135h0M928 -1160h0M1304 -1156h0M1409 -1154h0M1456 -1135h0M-1580 -1120h0M-1455 -1113h0M-1488 -1112h0M-1161 -1094h0M-1151 -1125h0M-1087 -1094h0M-1068 -1119h0M-951 -1101h0M-880 -1117h0M-758 -1102h0M-664 -1117h0M-618 -1107h0M-540 -1110h0M-479 -1127h0M-459 -1101h0M-382 -1084h0M-286 -1107h0M-183 -1117h0M-108 -1127h0M-83 -1106h0M77 -1114h0M183 -1106h0M243 -1100h0M337 -1140h0M388 -1098h0M561 -1082h0M634 -1085h0M734 -1086h0M968 -1121h0M1025 -1122h0M1155 -1103h0M1244 -1119h0M1250 -1068h0M1268 -1096h0M1336 -1098h0M1413 -1122h0M1480 -1100h0M1512 -1109h0M1616 -1116h0M-1481 -1080h0M-1329 -1091h0M-1287 -1082h0M-1255 -1077h0M-1227 -1061h0M-1107 -1065h0M-1074 -1064h0M-1053 -1090h0M-978 -1082h0M-898 -1085h0M-784 -1082h0M-726 -1093h0M-676 -1046h0M-573 -1057h0M-549 -1078h0M-437 -1077h0M-254 -1099h0M-155 -1084h0M16 -1089h0M92 -1082h0M151 -1101h0M420 -1104h0M522 -1077h0M692 -1078h0M761 -1068h0M820 -1086h0M882 -1060h0M894 -1097h0M987 -1051h0M1044 -1095h0M1092 -1055h0M1183 -1086h0M1230 -1043h0M1340 -1066h0M1466 -1070h0M1605 -1080h0M-1626 -1043h0M-1608 -1016h0M-1352 -1055h0M-1292 -1027h0M-1207 -1036h0M-1175 -1039h0M-1120 -1032h0M-1021 -1021h0M-891 -1053h0M-831 -1036h0M-709 -1047h0M-520 -1065h0M-405 -1059h0M-331 -1048h0M-255 -1024h0M-229 -1079h0M-135 -1058h0M-23 -1038h0M34 -1019h0M235 -1031h0M349 -1045h0M406 -996h0M509 -1046h0M569 -1019h0M661 -1068h0M685 -1046h0M774 -1038h0M846 -1052h0M1059 -1066h0M1201 -1058h0M1317 -1042h0M1406 -1034h0M1480 -1041h0M1575 -1068h0M1666 -1048h0M-1692 -1006h0M-1594 -1046h0M-1447 -984h0M-1306 -998h0M-1189 -1009h0M-1074 -986h0M-1051 -1009h0M-885 -1010h0M-864 -1036h0M-771 -1007h0M-703 -1011h0M-627 -1005h0M-582 -996h0M-550 -999h0M-467 -1017h0M-269 -995h0M-200 -1013h0M-168 -1008h0M-82 -1014h0M-55 -1032h0M5 -1005h0M98 -1049h0M178 -999h0M255 -1005h0M456 -1038h0M527 -1015h0M638 -988h0M677 -986h0M834 -1022h0M908 -1031h0M975 -1012h0M1037 -996h0M1090 -1023h0M1157 -1017h0M1237 -976h0M1381 -1007h0M1475 -1009h0M-1670 -975h0M-1515 -981h0M-1324 -934h0M-1216 -972h0M-1141 -975h0M-990 -967h0M-911 -991h0M-833 -967h0M-801 -970h0M-765 -975h0M-608 -977h0M-368 -953h0M-300 -986h0M-223 -956h0M-36 -959h0M73 -969h0M104 -979h0M207 -963h0M310 -1010h0M342 -1014h0M446 -960h0M656 -961h0M663 -928h0M806 -973h0M921 -971h0M927 -1003h0M1021 -934h0M1032 -964h0M1163 -985h0M1359 -976h0M1391 -976h0M1540 -996h0M1581 -971h0M1650 -984h0M1682 -977h0M-1645 -953h0M-1572 -946h0M-1511 -899h0M-1384 -915h0M-1311 -900h0M-1291 -925h0M-1169 -936h0M-1132 -944h0M-1067 -921h0M-1016 -947h0M-994 -923h0M-855 -943h0M-701 -927h0M-575 -922h0M-539 -968h0M-468 -931h0M-495 -912h0M-401 -935h0M-299 -953h0M-171 -946h0M-137 -940h0M-63 -941h0M-27 -928h0M43 -945h0M55 -915h0M123 -950h0M175 -966h0M338 -928h0M459 -930h0M588 -937h0M748 -949h0M864 -956h0M1043 -911h0M1099 -962h0M1109 -931h0M1214 -943h0M1265 -906h0M1474 -944h0M1716 -920h0M-1724 -895h0M-1682 -900h0M-1646 -921h0M-1580 -914h0M-1548 -921h0M-1417 -915h0M-1379 -883h0M-1259 -918h0M-1059 -889h0M-970 -900h0M-796 -903h0M-640 -907h0M-429 -919h0M-308 -896h0M-258 -889h0M-159 -916h0M-118 -913h0M120 -917h0M188 -937h0M274 -897h0M390 -903h0M506 -873h0M620 -864h0M687 -906h0M829 -906h0M889 -891h0M963 -905h0M1173 -952h0M1297 -899h0M1329 -877h0M1327 -910h0M1386 -944h0M1483 -911h0M1511 -894h0M1614 -918h0M-1704 -867h0M-1612 -861h0M-1482 -878h0M-1381 -850h0M-1306 -868h0M-1237 -863h0M-1205 -869h0M-1020 -826h0M-970 -867h0M-940 -877h0M-864 -871h0M-781 -874h0M-741 -864h0M-697 -862h0M-683 -833h0M-590 -864h0M-524 -897h0M-370 -877h0M-340 -892h0M-140 -889h0M-108 -882h0M-4 -892h0M30 -894h0M139 -845h0M204 -862h0M328 -866h0M383 -871h0M470 -867h0M547 -875h0M651 -854h0M721 -928h0M867 -867h0M942 -868h0M1009 -845h0M1107 -848h0M1495 -836h0M1515 -862h0M1619 -885h0M1688 -904h0M1713 -875h0M1767 -867h0M-1778 -845h0M-1711 -833h0M-1637 -841h0M-1585 -822h0M-1542 -888h0M-1451 -858h0M-1318 -838h0M-1244 -831h0M-1145 -785h0M-1121 -834h0M-992 -843h0M-832 -836h0M-664 -859h0M-609 -831h0M-530 -865h0M-470 -818h0M-368 -845h0M-339 -859h0M-276 -827h0M-146 -858h0M-38 -856h0M40 -828h0M116 -822h0M178 -834h0M280 -829h0M422 -811h0M528 -849h0M639 -823h0M694 -785h0M770 -835h0M793 -858h0M910 -867h0M1014 -813h0M1082 -828h0M1139 -856h0M1191 -808h0M1267 -837h0M1297 -824h0M1330 -841h0M1357 -860h0M1454 -846h0M1528 -832h0M1782 -838h0M-1724 -793h0M-1653 -812h0M-1582 -788h0M-1482 -845h0M-1385 -803h0M-1265 -806h0M-1224 -805h0M-1193 -795h0M-1119 -802h0M-1049 -812h0M-920 -810h0M-799 -847h0M-768 -796h0M-696 -803h0M-622 -794h0M-349 -818h0M-249 -809h0M-221 -825h0M-14 -770h0M347 -808h0M619 -796h0M711 -812h0M744 -817h0M776 -799h0M816 -788h0M909 -805h0M991 -789h0M1099 -800h0M1161 -796h0M1398 -798h0M1691 -796h0M1764 -810h0M-1757 -780h0M-1730 -761h0M-1647 -780h0M-1466 -754h0M-1432 -782h0M-1367 -744h0M-1280 -760h0M-1224 -731h0M-1211 -761h0M-981 -767h0M-916 -776h0M-891 -748h0M-793 -774h0M-723 -753h0M-696 -771h0M-671 -751h0M-559 -774h0M-526 -769h0M-465 -776h0M-419 -744h0M-433 -774h0M-359 -781h0M-260 -724h0M-110 -765h0M-54 -760h0M-64 -730h0M21 -760h0M86 -763h0M128 -741h0M264 -770h0M299 -757h0M328 -781h0M390 -747h0M402 -778h0M502 -776h0M574 -757h0M604 -767h0M675 -758h0M737 -744h0M844 -771h0M974 -761h0M1026 -783h0M1050 -760h0M1212 -759h0M1247 -763h0M1280 -764h0M1373 -778h0M1403 -765h0M1474 -773h0M1605 -751h0M1624 -778h0M1695 -756h0M1727 -753h0M-1785 -735h0M-1753 -738h0M-1656 -749h0M-1598 -701h0M-1586 -732h0M-1495 -738h0M-1256 -738h0M-1088 -736h0M-1025 -709h0M-965 -739h0M-864 -766h0M-794 -742h0M-736 -723h0M-566 -742h0M-350 -716h0M-276 -696h0M-180 -724h0M-80 -778h0M-28 -741h0M126 -708h0M397 -715h0M454 -713h0M707 -755h0M917 -731h0M946 -745h0M1120 -741h0M1152 -748h0M1182 -770h0M1264 -735h0M1313 -695h0M1443 -705h0M1537 -732h0M1637 -745h0M1685 -680h0M1797 -755h0M1825 -738h0M-1797 -704h0M-1648 -691h0M-1501 -704h0M-1449 -677h0M-1429 -703h0M-1282 -689h0M-1210 -702h0M-1040 -680h0M-950 -710h0M-865 -692h0M-820 -722h0M-661 -720h0M-595 -687h0M-484 -709h0M-454 -696h0M-339 -685h0M-337 -653h0M-236 -702h0M-160 -698h0M1 -689h0M49 -663h0M187 -680h0M198 -711h0M268 -738h0M366 -725h0M374 -693h0M483 -700h0M571 -694h0M632 -715h0M689 -685h0M774 -676h0M809 -672h0M837 -689h0M974 -684h0M1003 -698h0M1034 -689h0M1108 -686h0M1411 -707h0M1506 -720h0M1746 -696h0M1781 -680h0M-1840 -654h0M-1761 -664h0M-1687 -680h0M-1564 -708h0M-1519 -651h0M-1428 -652h0M-1398 -640h0M-1370 -657h0M-1294 -659h0M-1178 -677h0M-1126 -673h0M-1093 -675h0M-978 -642h0M-926 -687h0M-856 -661h0M-723 -650h0M-668 -688h0M-484 -672h0M-409 -670h0M-253 -673h0M-97 -664h0M-64 -660h0M16 -661h0M114 -678h0M265 -664h0M278 -634h0M394 -667h0M503 -664h0M672 -652h0M867 -678h0M880 -648h0M1004 -665h0M1206 -662h0M1220 -608h0M1268 -663h0M1341 -679h0M1533 -650h0M1565 -655h0M1628 -659h0M1669 -651h0M1785 -647h0M1817 -660h0M-1864 -632h0M-1777 -635h0M-1423 -620h0M-1453 -632h0M-1296 -626h0M-1264 -622h0M-1148 -698h0M-1102 -644h0M-1036 -626h0M-960 -615h0M-855 -628h0M-762 -645h0M-671 -615h0M-525 -611h0M-477 -633h0M-384 -612h0M-274 -649h0M-201 -619h0M-124 -610h0M-3 -634h0M112 -646h0M175 -605h0M310 -641h0M339 -628h0M386 -636h0M454 -621h0M482 -637h0M558 -625h0M692 -619h0M725 -619h0M787 -580h0M862 -621h0M909 -632h0M1016 -624h0M1075 -642h0M1175 -653h0M1193 -626h0M1281 -633h0M1422 -633h0M1441 -607h0M1495 -651h0M1717 -681h0M1810 -626h0M-1746 -596h0M-1713 -606h0M-1674 -613h0M-1545 -571h0M-1247 -594h0M-1091 -578h0M-1027 -587h0M-928 -609h0M-823 -605h0M-781 -581h0M-703 -624h0M-596 -612h0M-612 -584h0M-489 -560h0M-413 -596h0M-309 -593h0M-110 -581h0M-32 -593h0M2 -602h0M193 -575h0M374 -606h0M404 -571h0M488 -595h0M631 -592h0M855 -590h0M926 -584h0M1021 -592h0M1214 -576h0M1346 -596h0M1538 -586h0M1577 -589h0M1652 -588h0M1779 -615h0M1834 -604h0M-1846 -556h0M-1649 -581h0M-1514 -559h0M-1443 -542h0M-1414 -558h0M-1347 -542h0M-1236 -564h0M-1164 -563h0M-988 -535h0M-825 -572h0M-659 -585h0M-678 -559h0M-456 -569h0M-421 -565h0M-274 -535h0M-246 -559h0M-185 -590h0M-8 -571h0M29 -539h0M137 -549h0M169 -553h0M207 -541h0M311 -567h0M372 -573h0M464 -551h0M579 -553h0M603 -575h0M756 -562h0M787 -547h0M955 -568h0M982 -549h0M1100 -558h0M1208 -543h0M1318 -579h0M1380 -574h0M1422 -541h0M1518 -529h0M1729 -546h0M1805 -545h0M1842 -572h0M-1864 -494h0M-1859 -526h0M-1829 -513h0M-1698 -541h0M-1680 -513h0M-1602 -508h0M-1529 -500h0M-1474 -550h0M-1355 -511h0M-1204 -517h0M-1094 -545h0M-957 -542h0M-761 -540h0M-582 -516h0M-482 -499h0M-427 -533h0M-214 -551h0M-121 -504h0M-91 -515h0M-59 -524h0M410 -510h0M481 -523h0M539 -554h0M605 -534h0M758 -529h0M863 -516h0M892 -530h0M1036 -521h0M1109 -526h0M1133 -547h0M1276 -522h0M1379 -500h0M1411 -510h0M1444 -517h0M1577 -523h0M1831 -499h0M1898 -521h0M-1786 -461h0M-1756 -522h0M-1597 -476h0M-1436 -479h0M-1349 -479h0M-1318 -486h0M-1257 -467h0M-1148 -494h0M-1049 -440h0M-898 -475h0M-758 -481h0M-684 -482h0M-699 -510h0M-647 -491h0M-597 -487h0M-565 -489h0M-536 -503h0M-510 -483h0M-411 -505h0M-379 -494h0M-313 -462h0M-243 -484h0M-179 -482h0M-103 -477h0M-3 -466h0M29 -466h0M161 -483h0M262 -496h0M294 -495h0M344 -473h0M409 -477h0M482 -490h0M625 -477h0M664 -488h0M735 -505h0M815 -482h0M847 -487h0M935 -445h0M973 -487h0M1079 -493h0M1143 -463h0M1335 -476h0M1367 -469h0M1479 -463h0M1611 -460h0M1632 -486h0M1739 -466h0M1766 -485h0M-1919 -441h0M-1824 -438h0M-1714 -474h0M-1599 -443h0M-1528 -468h0M-1487 -441h0M-1421 -415h0M-1370 -454h0M-1229 -450h0M-1115 -442h0M-927 -405h0M-831 -459h0M-762 -449h0M-539 -469h0M-478 -466h0M-274 -444h0M-211 -479h0M-77 -451h0M14 -438h0M46 -439h0M171 -440h0M275 -461h0M312 -468h0M413 -445h0M481 -457h0M585 -456h0M616 -446h0M729 -463h0M793 -458h0M906 -458h0M1002 -428h0M1004 -470h0M1068 -462h0M1136 -431h0M1247 -445h0M1380 -440h0M1421 -439h0M1505 -443h0M1639 -443h0M1810 -474h0M1843 -420h0M-1889 -428h0M-1817 -406h0M-1792 -429h0M-1627 -427h0M-1567 -415h0M-1457 -407h0M-1341 -410h0M-1263 -436h0M-1229 -418h0M-1199 -408h0M-1161 -414h0M-1117 -409h0M-1029 -371h0M-798 -391h0M-693 -442h0M-663 -418h0M-589 -419h0M-477 -425h0M-368 -415h0M-184 -409h0M-127 -406h0M-95 -409h0M102 -406h0M214 -433h0M279 -403h0M338 -441h0M364 -422h0M461 -379h0M716 -434h0M866 -419h0M981 -403h0M1072 -429h0M1210 -437h0M1275 -428h0M1365 -410h0M1454 -444h0M1479 -423h0M1547 -423h0M1669 -430h0M1684 -401h0M1817 -439h0M1880 -449h0M1928 -399h0M-1710 -368h0M-1546 -355h0M-1570 -377h0M-1415 -358h0M-1401 -388h0M-1142 -388h0M-958 -394h0M-860 -374h0M-830 -386h0M-627 -375h0M-419 -374h0M-391 -391h0M-298 -423h0M-276 -373h0M-134 -347h0M-73 -384h0M46 -373h0M202 -369h0M259 -378h0M370 -390h0M438 -402h0M579 -383h0M611 -389h0M740 -363h0M798 -384h0M891 -350h0M998 -375h0M1143 -400h0M1174 -389h0M1304 -370h0M1424 -377h0M1575 -407h0M1765 -378h0M1901 -381h0M-1893 -349h0M-1823 -343h0M-1805 -376h0M-1630 -362h0M-1597 -359h0M-1493 -319h0M-1444 -343h0M-1434 -385h0M-1293 -338h0M-1186 -342h0M-1079 -348h0M-965 -353h0M-845 -346h0M-774 -370h0M-708 -326h0M-576 -348h0M-511 -312h0M-449 -353h0M-348 -344h0M-212 -340h0M-125 -316h0M-28 -342h0M74 -332h0M209 -337h0M233 -358h0M325 -403h0M430 -371h0M450 -345h0M522 -362h0M680 -337h0M826 -367h0M969 -334h0M1002 -337h0M1070 -355h0M1187 -359h0M1206 -386h0M1378 -378h0M1488 -346h0M1467 -308h0M1512 -369h0M1616 -344h0M1708 -329h0M1770 -344h0M1802 -342h0M1833 -349h0M1860 -330h0M-1946 -296h0M-1861 -343h0M-1802 -318h0M-1611 -328h0M-1558 -295h0M-1335 -294h0M-1266 -319h0M-1240 -301h0M-1101 -282h0M-1017 -311h0M-973 -321h0M-898 -317h0M-816 -319h0M-708 -293h0M-638 -314h0M-419 -341h0M-333 -315h0M-301 -309h0M-271 -299h0M-156 -307h0M-101 -337h0M-46 -315h0M-28 -288h0M66 -298h0M159 -261h0M178 -287h0M240 -326h0M451 -312h0M491 -310h0M562 -315h0M707 -317h0M711 -349h0M779 -316h0M881 -319h0M949 -308h0M1018 -308h0M1092 -331h0M1156 -292h0M1250 -319h0M1289 -314h0M1348 -307h0M1382 -315h0M1489 -278h0M1544 -304h0M1615 -312h0M1676 -326h0M-1869 -274h0M-1720 -257h0M-1687 -271h0M-1673 -300h0M-1615 -258h0M-1475 -274h0M-1364 -279h0M-1325 -263h0M-1267 -283h0M-1209 -290h0M-1167 -270h0M-1066 -270h0M-1037 -286h0M-955 -294h0M-866 -321h0M-764 -292h0M-736 -309h0M-600 -306h0M-490 -253h0M-407 -311h0M-331 -282h0M-218 -279h0M-202 -251h0M-94 -269h0M34 -300h0M126 -260h0M251 -296h0M315 -278h0M338 -303h0M505 -272h0M577 -281h0M604 -263h0M880 -281h0M874 -249h0M1050 -285h0M1189 -294h0M1229 -291h0M1384 -283h0M1457 -277h0M1648 -310h0M1730 -279h0M1804 -277h0M1836 -276h0M1831 -244h0M1948 -282h0M-1870 -242h0M-1912 -243h0M-1777 -199h0M-1582 -259h0M-1508 -247h0M-1434 -228h0M-1253 -230h0M-1198 -260h0M-1024 -256h0M-978 -207h0M-806 -248h0M-785 -222h0M-736 -277h0M-688 -222h0M-656 -247h0M-554 -215h0M-428 -279h0M-416 -249h0M-385 -241h0M-356 -262h0M-274 -236h0M-153 -239h0M-121 -244h0M-49 -228h0M142 -232h0M200 -263h0M181 -237h0M427 -246h0M462 -243h0M535 -247h0M695 -269h0M774 -234h0M800 -254h0M946 -230h0M1082 -224h0M1190 -228h0M1322 -243h0M1353 -231h0M1461 -245h0M1565 -221h0M1637 -243h0M1863 -245h0M-1920 -186h0M-1842 -226h0M-1760 -226h0M-1694 -196h0M-1339 -191h0M-1307 -186h0M-1282 -216h0M-1210 -230h0M-1050 -194h0M-958 -182h0M-848 -187h0M-754 -212h0M-616 -200h0M-584 -229h0M-481 -221h0M-262 -206h0M-116 -212h0M-8 -202h0M110 -226h0M293 -211h0M325 -204h0M405 -217h0M479 -205h0M547 -215h0M727 -209h0M759 -204h0M885 -207h0M913 -192h0M1042 -198h0M1090 -257h0M1154 -177h0M1188 -195h0M1246 -253h0M1536 -236h0M1681 -198h0M1753 -192h0M1784 -201h0M1883 -212h0M1957 -210h0M-1890 -175h0M-1729 -193h0M-1727 -225h0M-1631 -181h0M-1595 -144h0M-1557 -190h0M-1526 -178h0M-1369 -167h0M-1297 -155h0M-1163 -197h0M-1141 -174h0M-1109 -175h0M-1025 -169h0M-994 -178h0M-905 -201h0M-847 -153h0M-817 -176h0M-787 -190h0M-683 -189h0M-582 -196h0M-519 -153h0M-433 -166h0M-401 -168h0M-289 -189h0M-181 -133h0M-151 -146h0M-90 -154h0M53 -161h0M268 -189h0M388 -154h0M451 -175h0M484 -173h0M659 -175h0M728 -176h0M795 -184h0M828 -186h0M862 -185h0M945 -194h0M970 -173h0M1130 -156h0M1223 -227h0M1314 -174h0M1402 -160h0M1459 -172h0M1626 -166h0M1701 -168h0M1734 -165h0M1814 -189h0M1893 -181h0M1961 -177h0M-1964 -139h0M-1849 -122h0M-1786 -127h0M-1753 -125h0M-1479 -169h0M-1369 -134h0M-1303 -123h0M-1266 -144h0M-1202 -133h0M-1045 -143h0M-900 -140h0M-869 -128h0M-754 -138h0M-717 -163h0M-602 -170h0M-514 -87h0M-485 -157h0M-391 -137h0M-322 -155h0M-211 -148h0M-117 -134h0M57 -128h0M125 -108h0M276 -147h0M402 -120h0M550 -138h0M649 -144h0M874 -129h0M978 -142h0M1011 -143h0M1098 -155h0M1203 -82h0M1222 -151h0M1373 -129h0M1434 -151h0M1524 -97h0M1572 -150h0M1603 -142h0M1679 -132h0M1714 -137h0M1752 -138h0M1892 -149h0M-1910 -113h0M-1816 -116h0M-1772 -98h0M-1719 -125h0M-1649 -105h0M-1630 -78h0M-1572 -120h0M-1563 -89h0M-1405 -114h0M-1375 -101h0M-1272 -112h0M-1116 -103h0M-979 -110h0M-950 -96h0M-938 -134h0M-863 -96h0M-710 -86h0M-574 -102h0M-482 -88h0M-379 -107h0M-317 -116h0M-308 -84h0M-209 -116h0M-155 -114h0M-49 -70h0M-49 -103h0M51 -96h0M153 -90h0M158 -124h0M223 -89h0M279 -115h0M336 -100h0M406 -87h0M513 -117h0M542 -104h0M636 -88h0M703 -114h0M807 -110h0M882 -98h0M919 -87h0M1101 -88h0M1141 -95h0M1190 -112h0M1347 -110h0M1371 -169h0M1505 -126h0M1700 -108h0M1772 -88h0M1925 -80h0M1923 -126h0M-1959 -64h0M-1880 -101h0M-1767 -62h0M-1698 -93h0M-1494 -59h0M-1342 -75h0M-1320 -50h0M-1227 -75h0M-1164 -73h0M-775 -77h0M-677 -73h0M-647 -85h0M-583 -70h0M-542 -103h0M-450 -94h0M-156 -81h0M-105 -43h0M17 -103h0M112 -78h0M335 -67h0M405 -55h0M662 -69h0M926 -48h0M997 -66h0M1028 -75h0M1213 -51h0M1239 -76h0M1348 -74h0M1506 -62h0M1649 -63h0M1775 -55h0M1900 -102h0M1951 -100h0M-1968 -25h0M-1732 -12h0M-1655 -37h0M-1623 -46h0M-1595 -30h0M-1562 -46h0M-1485 -27h0M-1213 -20h0M-1181 -11h0M-1118 -28h0M-1012 -50h0M-934 -25h0M-802 1h0M-733 -24h0M-663 -44h0M-542 -29h0M-401 -38h0M-295 -23h0M-262 -26h0M-244 -53h0M-132 -60h0M49 -38h0M105 -46h0M202 -28h0M267 -46h0M341 -36h0M372 -45h0M431 -36h0M462 -25h0M545 -37h0M616 -14h0M706 -41h0M790 -46h0M823 -37h0M854 -70h0M977 1h0M1088 -58h0M1184 -36h0M1245 -44h0M1277 -63h0M1347 11h0M1558 -16h0M1574 -44h0M1804 29h0M-1939 -9h0M-1842 -6h0M-1761 -27h0M-1667 -6h0M-1594 2h0M-1478 31h0M-1418 27h0M-1421 -6h0M-1311 -4h0M-1240 -1h0M-1147 0h0M-1115 5h0M-1020 8h0M-918 4h0M-860 -22h0M-784 65h0M-727 7h0M-564 -6h0M-513 -14h0M-458 18h0M-426 23h0M-326 -13h0M-147 -8h0M-73 0h0M-40 -5h0M-8 4h0M43 -6h0M102 13h0M238 -15h0M220 44h0M390 18h0M523 -13h0M554 -5h0M587 1h0M764 -25h0M949 26h0M1010 2h0M1021 33h0M1127 5h0M1252 -12h0M1315 1h0M1417 -32h0M1486 -36h0M1649 23h0M1772 38h0M1907 -7h0M1968 -27h0M-1867 15h0M-1716 43h0M-1539 24h0M-1447 41h0M-1265 45h0M-1190 50h0M-1170 23h0M-1098 33h0M-990 19h0M-895 48h0M-813 83h0M-785 28h0M-703 28h0M-629 30h0M-535 10h0M-354 46h0M-207 23h0M-131 24h0M-97 30h0M175 25h0M291 25h0M357 34h0M420 35h0M632 14h0M616 59h0M943 58h0M1043 3h0M1210 23h0M1242 19h0M1310 33h0M1369 74h0M1428 41h0M1583 54h0M1645 55h0M1707 36h0M1781 6h0M1836 37h0M1968 47h0M-1965 56h0M-1899 83h0M-1851 44h0M-1711 75h0M-1683 59h0M-1547 58h0M-1506 87h0M-1435 71h0M-1384 124h0M-1361 52h0M-1251 83h0M-1114 67h0M-1039 68h0M-969 44h0M-846 83h0M-752 74h0M-679 67h0M-512 58h0M-434 54h0M-371 73h0M-262 81h0M-197 54h0M-157 67h0M-43 67h0M17 63h0M169 57h0M464 73h0M603 29h0M688 41h0M678 72h0M754 52h0M788 108h0M881 75h0M883 43h0M911 62h0M968 79h0M1054 37h0M1110 33h0M1165 69h0M1184 42h0M1276 93h0M1311 77h0M1484 81h0M1545 117h0M1662 83h0M1675 43h0M1859 59h0M1914 98h0M-1895 115h0M-1863 117h0M-1601 138h0M-1538 89h0M-1314 107h0M-1197 127h0M-1171 107h0M-1057 96h0M-878 79h0M-803 113h0M-774 98h0M-700 95h0M-626 100h0M-596 91h0M-417 116h0M-385 112h0M-109 95h0M-81 115h0M-53 98h0M59 113h0M277 99h0M341 114h0M389 92h0M412 114h0M511 97h0M613 91h0M710 65h0M776 77h0M887 136h0M1028 107h0M1203 68h0M1305 110h0M1424 102h0M1483 114h0M1513 125h0M1637 104h0M1729 93h0M1840 107h0M1895 124h0M-1924 130h0M-1790 123h0M-1767 147h0M-1692 145h0M-1568 144h0M-1489 115h0M-1463 140h0M-1274 160h0M-1219 151h0M-1112 136h0M-1039 161h0M-958 146h0M-970 116h0M-868 145h0M-639 130h0M-527 101h0M-469 120h0M-442 137h0M-255 112h0M-142 140h0M-112 127h0M-11 125h0M125 148h0M154 133h0M305 169h0M447 144h0M592 116h0M624 125h0M826 162h0M919 138h0M964 143h0M1100 98h0M1110 129h0M1159 146h0M1196 136h0M1291 143h0M1366 140h0M1451 120h0M1571 137h0M1742 145h0M1782 144h0M1862 177h0M1962 156h0M-1962 156h0M-1931 164h0M-1836 187h0M-1754 177h0M-1590 169h0M-1567 192h0M-1540 210h0M-1272 203h0M-1205 185h0M-1086 174h0M-1013 181h0M-942 209h0M-874 178h0M-843 166h0M-813 187h0M-735 148h0M-702 168h0M-580 160h0M-361 183h0M-333 166h0M-281 133h0M-53 172h0M13 146h0M63 184h0M148 171h0M242 185h0M314 201h0M342 146h0M440 176h0M515 170h0M608 188h0M677 214h0M712 179h0M757 163h0M859 176h0M854 144h0M982 185h0M1057 180h0M1128 156h0M1387 164h0M1420 175h0M1473 188h0M1603 153h0M1654 185h0M1776 210h0M1800 179h0M1960 189h0M-1794 257h0M-1683 209h0M-1576 223h0M-1474 213h0M-1381 199h0M-1337 252h0M-1247 224h0M-1187 158h0M-1135 212h0M-938 173h0M-753 218h0M-640 229h0M-568 222h0M-524 210h0M-292 205h0M-181 205h0M168 206h0M202 227h0M291 230h0M336 178h0M390 228h0M498 197h0M609 220h0M709 211h0M916 204h0M1041 221h0M1150 181h0M1218 191h0M1327 208h0M1359 210h0M1442 198h0M1561 235h0M1583 211h0M1744 208h0M1809 210h0M1831 187h0M-1911 284h0M-1782 228h0M-1758 249h0M-1648 207h0M-1630 234h0M-1599 246h0M-1433 259h0M-1400 225h0M-1369 247h0M-1196 257h0M-1094 247h0M-1065 231h0M-1001 251h0M-918 231h0M-824 233h0M-691 257h0M-672 231h0M-597 273h0M-400 236h0M-374 259h0M-342 255h0M-230 240h0M-198 233h0M-72 237h0M-33 296h0M101 251h0M132 242h0M364 246h0M495 229h0M591 247h0M665 245h0M700 243h0M732 234h0M777 218h0M804 235h0M887 257h0M958 247h0M1026 250h0M1085 248h0M1111 228h0M1213 243h0M1305 249h0M1383 242h0M1500 207h0M1591 249h0M1612 225h0M1681 241h0M1797 240h0M1912 240h0M-1942 271h0M-1806 288h0M-1691 270h0M-1570 280h0M-1499 271h0M-1400 258h0M-1307 266h0M-1231 254h0M-1216 283h0M-1185 293h0M-1165 267h0M-1042 294h0M-967 286h0M-930 286h0M-798 254h0M-728 280h0M-571 254h0M-558 284h0M-487 269h0M-443 289h0M-314 276h0M-281 265h0M-167 282h0M-92 268h0M-59 267h0M-6 278h0M101 284h0M176 281h0M239 284h0M342 270h0M374 278h0M432 268h0M400 259h0M559 239h0M604 281h0M709 305h0M833 279h0M916 326h0M1174 291h0M1362 274h0M1408 265h0M1564 267h0M1637 295h0M1699 312h0M1736 272h0M1837 259h0M-1938 346h0M-1884 304h0M-1846 300h0M-1739 309h0M-1666 315h0M-1549 322h0M-1498 304h0M-1358 320h0M-1114 283h0M-1114 316h0M-1081 318h0M-986 321h0M-828 328h0M-788 285h0M-720 311h0M-657 318h0M-474 298h0M-416 308h0M-385 301h0M-321 317h0M-256 322h0M-227 307h0M-107 300h0M38 324h0M202 341h0M241 316h0M309 308h0M481 322h0M561 313h0M614 312h0M759 290h0M820 309h0M865 282h0M1034 328h0M1061 309h0M1208 275h0M1315 317h0M1352 308h0M1425 294h0M1497 299h0M1587 330h0M1662 274h0M1730 303h0M1877 304h0M1943 305h0M-1864 329h0M-1839 350h0M-1728 339h0M-1695 343h0M-1661 347h0M-1619 355h0M-1546 354h0M-1444 360h0M-1432 330h0M-1366 352h0M-1326 327h0M-1299 346h0M-1238 356h0M-1006 359h0M-899 352h0M-797 317h0M-733 343h0M-469 357h0M-294 338h0M-187 349h0M-154 351h0M-74 340h0M-60 370h0M7 351h0M39 356h0M111 357h0M235 347h0M359 359h0M460 347h0M552 348h0M605 373h0M755 357h0M887 342h0M949 327h0M1002 331h0M1170 332h0M1268 359h0M1339 339h0M1491 331h0M1524 319h0M1596 362h0M1687 350h0M1745 370h0M1778 372h0M1938 345h0M-1887 400h0M-1753 360h0M-1522 376h0M-1528 408h0M-1411 361h0M-1345 407h0M-1224 386h0M-1135 379h0M-1106 394h0M-1049 421h0M-992 404h0M-932 352h0M-838 365h0M-807 353h0M-658 350h0M-645 381h0M-555 390h0M-526 405h0M-424 409h0M-437 361h0M-297 379h0M-233 381h0M-92 367h0M97 386h0M141 345h0M142 386h0M316 405h0M436 370h0M490 359h0M670 360h0M693 383h0M825 384h0M897 374h0M956 389h0M1070 389h0M1104 405h0M1218 399h0M1246 383h0M1287 386h0M1530 374h0M1627 373h0M1661 370h0M1796 399h0M1924 418h0M-1863 421h0M-1754 393h0M-1682 372h0M-1609 387h0M-1553 386h0M-1472 447h0M-1322 431h0M-1291 441h0M-1205 359h0M-1229 418h0M-1016 426h0M-981 434h0M-929 421h0M-892 416h0M-783 421h0M-663 408h0M-584 405h0M-410 380h0M-366 409h0M-191 424h0M-86 399h0M-12 410h0M17 425h0M91 424h0M213 446h0M342 386h0M469 426h0M542 410h0M571 434h0M670 406h0M742 434h0M804 419h0M821 448h0M953 422h0M1007 428h0M1165 442h0M1310 409h0M1373 418h0M1405 411h0M1471 429h0M1495 406h0M1577 428h0M1684 408h0M1814 427h0M-1864 498h0M-1728 412h0M-1674 442h0M-1647 461h0M-1414 393h0M-1130 445h0M-1015 459h0M-951 447h0M-815 429h0M-753 456h0M-718 449h0M-596 435h0M-513 435h0M-486 416h0M-297 463h0M-264 438h0M-147 442h0M-177 454h0M-48 453h0M119 409h0M243 455h0M274 449h0M378 446h0M409 439h0M441 443h0M569 466h0M605 454h0M674 438h0M710 499h0M853 453h0M886 458h0M1050 484h0M1075 463h0M1198 442h0M1219 467h0M1265 457h0M1341 414h0M1607 440h0M1695 449h0M1811 462h0M1884 450h0M1917 449h0M-1748 515h0M-1537 478h0M-1483 478h0M-1330 496h0M-1326 464h0M-1231 484h0M-1198 486h0M-1110 504h0M-1040 517h0M-1034 485h0M-943 478h0M-902 490h0M-797 495h0M-766 486h0M-695 471h0M-608 486h0M-501 480h0M-474 499h0M-407 468h0M-333 474h0M-151 478h0M-79 473h0M31 500h0M62 494h0M85 517h0M180 449h0M199 475h0M316 492h0M380 478h0M589 492h0M613 522h0M679 490h0M775 493h0M803 476h0M835 480h0M947 471h0M975 488h0M1118 486h0M1146 468h0M1394 517h0M1449 505h0M1567 509h0M1633 510h0M1744 494h0M1868 495h0M-1890 523h0M-1858 530h0M-1826 525h0M-1726 538h0M-1617 523h0M-1588 509h0M-1395 536h0M-1398 504h0M-1136 526h0M-1064 539h0M-925 513h0M-829 500h0M-695 546h0M-541 502h0M-418 518h0M-392 498h0M-272 554h0M-132 544h0M0 485h0M115 529h0M143 511h0M449 552h0M486 502h0M556 496h0M621 490h0M686 522h0M751 560h0M911 527h0M946 504h0M1083 537h0M1241 528h0M1479 516h0M1542 488h0M1601 502h0M1688 516h0M1851 523h0M-1772 576h0M-1760 546h0M-1701 558h0M-1627 554h0M-1554 558h0M-1522 551h0M-1491 544h0M-1459 553h0M-1325 548h0M-1293 556h0M-1211 556h0M-1065 571h0M-1001 580h0M-869 563h0M-809 526h0M-779 594h0M-634 556h0M-601 555h0M-487 549h0M-202 570h0M-92 584h0M-12 557h0M62 568h0M58 536h0M257 520h0M417 542h0M475 533h0M604 553h0M637 549h0M785 573h0M857 568h0M884 550h0M914 561h0M1017 543h0M1088 570h0M1119 561h0M1148 546h0M1221 554h0M1256 557h0M1291 561h0M1314 518h0M1404 575h0M1436 572h0M1505 553h0M1590 533h0M1777 560h0M-1757 605h0M-1650 585h0M-1585 613h0M-1576 582h0M-1456 585h0M-1354 598h0M-1231 581h0M-1097 577h0M-1072 603h0M-926 582h0M-902 561h0M-748 608h0M-536 591h0M-438 629h0M-396 585h0M-429 597h0M-369 602h0M-320 573h0M-26 587h0M6 589h0M159 611h0M246 551h0M313 617h0M658 599h0M976 603h0M1016 575h0M1068 596h0M1233 584h0M1381 598h0M1490 582h0M1586 565h0M1633 606h0M1768 592h0M1843 595h0M-1858 650h0M-1821 634h0M-1726 611h0M-1514 620h0M-1409 633h0M-1294 612h0M-1263 621h0M-1186 626h0M-1172 655h0M-1029 631h0M-956 618h0M-843 608h0M-811 603h0M-650 604h0M-596 619h0M-299 624h0M-114 645h0M-102 615h0M39 591h0M107 665h0M178 585h0M240 622h0M317 649h0M393 603h0M528 633h0M559 623h0M633 620h0M691 603h0M732 623h0M794 630h0M826 635h0M958 631h0M1086 623h0M1161 619h0M1255 655h0M1275 629h0M1450 639h0M1512 653h0M1604 592h0M1679 612h0M1782 628h0M1838 658h0M-1764 675h0M-1715 670h0M-1586 651h0M-1521 652h0M-1483 696h0M-1100 653h0M-1058 677h0M-971 647h0M-843 669h0M-788 667h0M-537 658h0M-381 670h0M-292 656h0M-176 638h0M-145 659h0M-1 653h0M30 663h0M98 634h0M230 690h0M292 680h0M392 670h0M392 637h0M538 663h0M599 686h0M702 634h0M729 666h0M794 662h0M857 647h0M885 631h0M1021 665h0M1220 658h0M1266 686h0M1337 662h0M1385 630h0M1418 648h0M1544 662h0M1572 679h0M1723 652h0M1776 697h0M-1771 715h0M-1690 692h0M-1617 708h0M-1552 671h0M-1454 681h0M-1357 665h0M-1244 693h0M-1215 709h0M-1159 719h0M-978 686h0M-912 693h0M-838 701h0M-702 734h0M-720 696h0M-646 711h0M-562 678h0M-479 695h0M-402 695h0M-324 644h0M-242 699h0M-102 675h0M0 685h0M118 696h0M167 712h0M260 702h0M331 721h0M448 705h0M464 677h0M521 692h0M588 716h0M655 676h0M798 694h0M913 698h0M956 700h0M1097 697h0M1165 694h0M1195 680h0M1378 703h0M1479 652h0M1653 631h0M1751 718h0M1808 697h0M1842 690h0M-1668 738h0M-1500 724h0M-1288 738h0M-1261 721h0M-1232 736h0M-1127 721h0M-1023 737h0M-958 748h0M-824 731h0M-777 731h0M-538 731h0M-464 727h0M-209 697h0M-99 713h0M-61 728h0M6 722h0M99 722h0M248 733h0M315 749h0M489 698h0M513 731h0M700 735h0M784 724h0M855 739h0M1034 712h0M1062 726h0M1186 768h0M1218 762h0M1216 729h0M1360 730h0M1429 716h0M1597 759h0M1614 731h0M1676 730h0M1751 782h0M-1821 747h0M-1807 780h0M-1695 764h0M-1662 770h0M-1594 770h0M-1573 796h0M-1412 787h0M-1387 767h0M-1182 780h0M-1096 728h0M-881 762h0M-743 798h0M-682 777h0M-635 764h0M-602 767h0M-404 767h0M-372 764h0M-234 776h0M-120 773h0M-49 757h0M-30 788h0M68 766h0M141 767h0M201 773h0M231 760h0M296 776h0M421 765h0M431 733h0M631 776h0M685 765h0M796 754h0M911 763h0M931 788h0M1012 735h0M1121 764h0M1153 759h0M1358 762h0M1410 771h0M1481 753h0M1512 764h0M1530 791h0M1686 761h0M1745 750h0M1808 766h0M-1601 812h0M-1498 792h0M-1445 786h0M-1431 820h0M-1286 789h0M-1214 807h0M-1182 812h0M-1073 793h0M-957 781h0M-1007 800h0M-928 801h0M-897 791h0M-817 796h0M-784 793h0M-574 790h0M-544 803h0M-469 804h0M-413 798h0M-344 781h0M-341 814h0M-251 804h0M-143 803h0M-12 824h0M88 792h0M276 750h0M329 779h0M359 805h0M538 772h0M628 808h0M700 795h0M850 800h0M952 763h0M1032 794h0M1062 803h0M1101 803h0M1175 799h0M1415 803h0M1629 826h0M1687 794h0M1719 790h0M-1776 850h0M-1710 832h0M-1600 888h0M-1571 869h0M-1318 845h0M-1243 840h0M-1166 841h0M-1135 834h0M-1083 877h0M-897 824h0M-719 884h0M-674 827h0M-644 839h0M-611 840h0M-528 833h0M-401 831h0M-414 861h0M-273 829h0M-175 801h0M-159 831h0M-44 817h0M-1 859h0M81 823h0M190 822h0M254 822h0M327 811h0M531 840h0M596 860h0M771 816h0M795 837h0M869 827h0M971 835h0M1003 809h0M1160 828h0M1245 818h0M1271 837h0M1344 857h0M1418 836h0M1493 834h0M1524 846h0M1775 851h0M-1643 864h0M-1494 864h0M-1435 887h0M-1294 867h0M-1220 876h0M-1143 866h0M-1111 856h0M-1043 852h0M-1018 873h0M-905 856h0M-807 864h0M-794 896h0M-588 862h0M-513 862h0M-369 838h0M-310 877h0M59 847h0M140 867h0M270 850h0M376 865h0M451 886h0M522 871h0M593 892h0M563 842h0M666 858h0M667 892h0M816 870h0M1003 841h0M1096 869h0M1269 869h0M1412 868h0M1515 882h0M1588 873h0M1600 903h0M1662 867h0M1696 864h0M-1697 916h0M-1633 895h0M-1584 921h0M-1430 919h0M-1403 891h0M-1356 907h0M-1260 926h0M-1203 906h0M-1015 932h0M-934 874h0M-820 915h0M-714 916h0M-681 913h0M-647 906h0M-556 900h0M-516 895h0M-461 902h0M-289 901h0M-258 912h0M-93 870h0M-123 883h0M16 906h0M49 906h0M128 898h0M192 926h0M274 911h0M298 889h0M769 911h0M800 899h0M826 917h0M892 884h0M1040 906h0M1128 876h0M1244 933h0M1273 917h0M1323 919h0M1337 888h0M1569 912h0M1633 900h0M1707 910h0M-1708 949h0M-1539 939h0M-1325 919h0M-1235 904h0M-1186 934h0M-1096 948h0M-983 936h0M-956 898h0M-751 942h0M-486 880h0M-412 934h0M-256 944h0M-211 997h0M-111 944h0M-6 936h0M87 953h0M159 931h0M266 942h0M347 926h0M458 921h0M533 945h0M589 958h0M652 925h0M766 944h0M798 933h0M847 942h0M1107 946h0M1272 950h0M1304 945h0M1388 941h0M1456 927h0M1561 946h0M1681 948h0M-1681 968h0M-1559 991h0M-1447 982h0M-1422 952h0M-1416 992h0M-1322 967h0M-1256 958h0M-1123 931h0M-1002 962h0M-919 902h0M-807 985h0M-698 993h0M-670 977h0M-592 969h0M-533 923h0M-442 991h0M-423 964h0M-332 1018h0M-108 977h0M-29 962h0M11 1011h0M56 966h0M214 996h0M345 1004h0M361 976h0M476 994h0M544 976h0M604 987h0M752 978h0M826 967h0M1047 974h0M1078 980h0M1223 958h0M1430 986h0M1495 985h0M1621 970h0M-1698 996h0M-1604 983h0M-1486 974h0M-1385 1005h0M-1313 999h0M-1229 1035h0M-1128 1014h0M-1022 1021h0M-891 990h0M-840 987h0M-729 1048h0M-561 1011h0M-498 1041h0M-362 1057h0M-279 971h0M-260 1011h0M-229 1024h0M-132 999h0M-62 989h0M39 994h0M114 972h0M100 1024h0M201 1026h0M246 1009h0M489 1023h0M626 1012h0M652 992h0M793 1041h0M927 1012h0M945 985h0M1052 1006h0M1152 988h0M1223 991h0M1280 1017h0M1313 1019h0M1338 994h0M1411 1013h0M1476 1046h0M1552 1011h0M1635 1027h0M-1630 1046h0M-1513 1050h0M-1362 1027h0M-1330 1026h0M-1259 1022h0M-1199 1054h0M-1096 1011h0M-940 1044h0M-883 1048h0M-762 1046h0M-697 1026h0M-627 1029h0M-557 1043h0M-528 1028h0M-432 1022h0M-365 1024h0M-156 1021h0M-88 1049h0M23 1041h0M164 1037h0M309 1046h0M417 1023h0M435 1050h0M456 1026h0M531 1084h0M738 1045h0M852 1016h0M990 1047h0M1165 1035h0M1307 1055h0M1399 1043h0M1496 1073h0M1537 1040h0M1614 1002h0M-1602 1072h0M-1446 1112h0M-1399 1075h0M-1370 1059h0M-1259 1056h0M-1228 1067h0M-1133 1089h0M-1033 1091h0M-913 1062h0M-805 1091h0M-622 1073h0M-548 1112h0M-466 1053h0M-490 1074h0M-420 1084h0M-433 1055h0M-346 1085h0M-285 1075h0M-315 1091h0M-129 1075h0M-97 1081h0M48 1062h0M143 1083h0M212 1094h0M465 1099h0M499 1084h0M563 1082h0M629 1053h0M653 1075h0M768 1092h0M943 1075h0M1062 1080h0M1181 1073h0M1234 1060h0M1528 1071h0M1635 1095h0M-1541 1118h0M-1541 1150h0M-1320 1100h0M-1231 1129h0M-1049 1142h0M-1023 1122h0M-814 1122h0M-742 1111h0M-731 1080h0M-710 1105h0M-560 1175h0M-336 1116h0M-215 1103h0M-189 1085h0M-82 1113h0M-5 1115h0M39 1123h0M114 1130h0M194 1134h0M326 1074h0M354 1117h0M428 1125h0M548 1112h0M581 1109h0M767 1060h0M792 1114h0M881 1091h0M914 1090h0M1033 1103h0M1043 1137h0M1088 1135h0M1256 1095h0M1293 1085h0M1320 1119h0M1394 1106h0M1509 1104h0M1569 1134h0M1614 1127h0M-1597 1150h0M-1569 1134h0M-1425 1145h0M-1404 1170h0M-1343 1123h0M-1270 1130h0M-1134 1149h0M-1083 1146h0M-981 1149h0M-949 1154h0M-875 1166h0M-636 1102h0M-613 1140h0M-468 1173h0M-451 1128h0M-431 1153h0M-374 1127h0M-349 1149h0M-274 1148h0M-131 1146h0M6 1146h0M105 1160h0M263 1153h0M337 1145h0M420 1157h0M533 1172h0M532 1140h0M605 1132h0M666 1120h0M825 1118h0M988 1179h0M1064 1113h0M1120 1142h0M1145 1182h0M1266 1155h0M1354 1154h0M1464 1141h0M1478 1112h0M1496 1139h0M1595 1153h0M-1532 1182h0M-1483 1189h0M-1283 1163h0M-1088 1179h0M-1056 1173h0M-986 1182h0M-953 1186h0M-868 1198h0M-809 1153h0M-592 1183h0M-569 1207h0M-163 1148h0M-99 1141h0M-111 1171h0M-27 1145h0M-36 1176h0M166 1204h0M214 1159h0M320 1179h0M425 1189h0M641 1191h0M689 1193h0M762 1196h0M836 1187h0M842 1155h0M956 1182h0M1044 1201h0M1177 1186h0M1236 1168h0M1287 1180h0M1479 1173h0M-1553 1209h0M-1480 1221h0M-1405 1248h0M-1339 1212h0M-1204 1242h0M-1141 1219h0M-971 1245h0M-873 1233h0M-767 1217h0M-708 1172h0M-650 1205h0M-537 1199h0M-509 1216h0M-416 1223h0M-396 1197h0M-290 1216h0M-66 1189h0M43 1240h0M136 1217h0M245 1221h0M325 1287h0M313 1211h0M380 1224h0M459 1221h0M533 1206h0M636 1224h0M667 1217h0M753 1227h0M787 1227h0M899 1193h0M1012 1204h0M1116 1222h0M1332 1226h0M1406 1217h0M1523 1222h0M1553 1210h0M-1471 1256h0M-1378 1230h0M-1333 1285h0M-1305 1269h0M-1046 1245h0M-983 1214h0M-874 1266h0M-834 1257h0M-762 1250h0M-697 1250h0M-558 1270h0M-459 1267h0M-373 1220h0M-316 1254h0M-188 1287h0M-172 1217h0M-102 1247h0M67 1263h0M107 1202h0M182 1232h0M277 1224h0M481 1245h0M683 1245h0M844 1257h0M951 1242h0M981 1254h0M1009 1236h0M1172 1266h0M1232 1229h0M1264 1236h0M1473 1250h0M1506 1251h0M-1401 1290h0M-1372 1276h0M-1167 1312h0M-1148 1285h0M-1108 1286h0M-942 1263h0M-847 1286h0M-735 1268h0M-660 1278h0M-631 1294h0M-524 1270h0M-495 1297h0M-446 1236h0M-262 1286h0M-242 1258h0M-91 1296h0M-75 1268h0M17 1307h0M81 1324h0M185 1265h0M252 1294h0M357 1280h0M419 1284h0M475 1279h0M540 1275h0M507 1277h0M571 1266h0M680 1278h0M713 1281h0M824 1295h0M856 1287h0M1061 1273h0M1090 1288h0M1237 1300h0M1290 1300h0M1369 1291h0M1401 1292h0M-1444 1308h0M-1342 1316h0M-1268 1322h0M-1234 1305h0M-1200 1324h0M-1041 1317h0M-1009 1308h0M-885 1348h0M-833 1315h0M-711 1328h0M-598 1324h0M-541 1298h0M-482 1333h0M-363 1333h0M-309 1324h0M-152 1329h0M-156 1297h0M-11 1286h0M114 1321h0M195 1336h0M310 1316h0M414 1327h0M487 1309h0M625 1329h0M768 1331h0M919 1247h0M1006 1321h0M1080 1319h0M1147 1336h0M1263 1319h0M1310 1362h0M1417 1321h0M-1442 1340h0M-1374 1309h0M-1290 1346h0M-1128 1371h0M-1106 1347h0M-945 1356h0M-770 1366h0M-735 1306h0M-606 1355h0M-562 1394h0M-501 1360h0M-396 1329h0M-331 1346h0M-281 1393h0M-171 1356h0M-52 1393h0M71 1356h0M177 1363h0M254 1356h0M287 1359h0M458 1382h0M551 1337h0M619 1361h0M696 1351h0M763 1363h0M870 1364h0M996 1355h0M1070 1351h0M1179 1333h0M1276 1349h0M1303 1331h0M1369 1363h0M1434 1348h0M-1419 1363h0M-1350 1381h0M-1290 1421h0M-1158 1386h0M-1064 1407h0M-1005 1380h0M-974 1371h0M-873 1383h0M-825 1415h0M-672 1392h0M-575 1364h0M-498 1393h0M-359 1407h0M-162 1387h0M-45 1424h0M163 1392h0M195 1394h0M258 1388h0M426 1409h0M480 1341h0M591 1378h0M770 1395h0M897 1382h0M930 1395h0M998 1387h0M1121 1390h0M1180 1400h0M1328 1453h0M1352 1431h0M-1323 1420h0M-1226 1389h0M-1093 1423h0M-1051 1437h0M-984 1404h0M-927 1434h0M-841 1387h0M-753 1437h0M-496 1426h0M-465 1414h0M-295 1422h0M-262 1427h0M-218 1436h0M-188 1445h0M-112 1392h0M21 1411h0M53 1415h0M101 1425h0M267 1419h0M297 1433h0M363 1438h0M433 1442h0M499 1430h0M552 1442h0M610 1406h0M666 1420h0M786 1423h0M795 1372h0M846 1435h0M937 1426h0M1016 1420h0M1050 1423h0M1187 1432h0M-1274 1449h0M-1219 1428h0M-1108 1485h0M-861 1470h0M-808 1488h0M-700 1461h0M-720 1435h0M-522 1460h0M-554 1457h0M-448 1468h0M-404 1461h0M-324 1468h0M-125 1481h0M-15 1436h0M71 1442h0M183 1463h0M210 1444h0M396 1493h0M510 1460h0M540 1473h0M572 1467h0M639 1438h0M668 1453h0M740 1462h0M879 1451h0M994 1445h0M1130 1454h0M1170 1460h0M1264 1459h0M1304 1475h0M-1222 1495h0M-1190 1495h0M-1072 1495h0M-973 1472h0M-892 1492h0M-774 1502h0M-654 1519h0M-581 1475h0M-508 1491h0M-341 1495h0M-268 1490h0M-182 1512h0M-156 1493h0M-38 1478h0M132 1485h0M251 1487h0M302 1503h0M335 1501h0M464 1498h0M618 1522h0M670 1485h0M771 1451h0M804 1488h0M864 1512h0M935 1491h0M1026 1497h0M1055 1483h0M1113 1519h0M1238 1480h0M-1260 1513h0M-1110 1546h0M-1097 1516h0M-968 1504h0M-925 1549h0M-894 1560h0M-801 1520h0M-685 1529h0M-593 1560h0M-566 1525h0M-534 1529h0M-436 1529h0M-423 1559h0M-317 1534h0M-208 1533h0M-123 1513h0M12 1536h0M38 1556h0M198 1518h0M272 1513h0M406 1524h0M438 1528h0M475 1528h0M578 1537h0M649 1510h0M735 1581h0M832 1506h0M963 1507h0M1033 1529h0M1148 1526h0M1212 1548h0M-1189 1569h0M-1036 1553h0M-945 1575h0M-862 1561h0M-790 1551h0M-764 1570h0M-593 1506h0M-455 1555h0M-345 1603h0M-253 1560h0M-153 1526h0M-23 1547h0M68 1568h0M134 1602h0M214 1553h0M264 1544h0M296 1535h0M547 1549h0M534 1579h0M606 1553h0M683 1557h0M961 1539h0M1020 1559h0M1092 1545h0M1181 1559h0M-1162 1589h0M-1008 1572h0M-977 1581h0M-845 1589h0M-802 1628h0M-654 1594h0M-624 1570h0M-561 1628h0M-478 1578h0M-501 1601h0M-408 1588h0M-379 1603h0M-280 1598h0M-206 1605h0M-132 1596h0M38 1589h0M105 1585h0M161 1627h0M288 1567h0M396 1591h0M436 1592h0M467 1603h0M553 1606h0M662 1582h0M767 1607h0M798 1616h0M879 1613h0M908 1597h0M1089 1627h0M-1027 1637h0M-953 1656h0M-740 1627h0M-651 1627h0M-592 1634h0M-473 1618h0M-386 1665h0M-313 1596h0M-245 1656h0M-107 1617h0M-1 1611h0M38 1669h0M110 1666h0M227 1655h0M377 1632h0M396 1690h0M415 1618h0M520 1608h0M624 1626h0M696 1632h0M859 1638h0M939 1606h0M1029 1631h0M1069 1653h0M-1055 1662h0M-898 1663h0M-789 1685h0M-756 1683h0M-633 1675h0M-623 1644h0M-571 1702h0M-512 1674h0M-447 1637h0M-222 1633h0M-166 1673h0M45 1701h0M138 1649h0M260 1656h0M510 1666h0M611 1674h0M682 1661h0M781 1679h0M881 1662h0M-985 1686h0M-889 1695h0M-843 1694h0M-774 1714h0M-698 1686h0M-658 1735h0M-600 1679h0M-540 1692h0M-322 1700h0M-291 1713h0M-188 1697h0M-87 1688h0M139 1682h0M206 1680h0M274 1724h0M324 1673h0M414 1719h0M527 1729h0M622 1705h0M812 1692h0M941 1729h0M969 1713h0M-894 1754h0M-760 1743h0M-587 1773h0M-417 1745h0M-369 1736h0M-256 1726h0M-193 1730h0M-167 1748h0M-134 1745h0M-42 1748h0M111 1749h0M157 1781h0M205 1712h0M265 1755h0M431 1746h0M643 1732h0M719 1727h0M748 1742h0M839 1710h0M909 1678h0M-821 1789h0M-825 1749h0M-755 1776h0M-641 1786h0M-579 1805h0M-510 1791h0M-433 1773h0M-328 1803h0M-314 1773h0M-248 1758h0M17 1770h0M92 1775h0M125 1778h0M267 1788h0M341 1796h0M367 1777h0M432 1779h0M460 1763h0M489 1784h0M584 1769h0M673 1774h0M707 1801h0M852 1775h0M-791 1803h0M-610 1796h0M-410 1807h0M-361 1805h0M-264 1825h0M-168 1822h0M-132 1820h0M-5 1829h0M204 1825h0M332 1827h0M399 1780h0M530 1804h0M604 1795h0M635 1806h0M747 1777h0M-712 1834h0M-638 1862h0M-599 1830h0M-567 1885h0M-460 1844h0M-315 1863h0M-204 1807h0M-116 1883h0M-70 1837h0M50 1835h0M132 1850h0M189 1854h0M300 1828h0M397 1858h0M472 1850h0M611 1828h0M705 1834h0M-536 1894h0M-439 1883h0M-405 1885h0M-376 1871h0M-201 1889h0M-169 1885h0M-45 1898h0M21 1849h0M356 1936h0M579 1882h0M-504 1903h0M-384 1913h0M-265 1901h0M-139 1916h0M-107 1915h0M-74 1919h0M27 1902h0M207 1928h0M252 1883h0M323 1899h0M441 1919h0M493 1906h0M-272 1933h0M-246 1953h0M-39 1930h0M21 1959h0M62 1968h0M122 1965h0M196 1959h0M230 1955h0"/>
<g id="disc" transform="scale(.1)" fill="none" stroke-linecap="round"><circle r="1972" fill="#0c0c18"/>
<use href="#dA" stroke="#45488f" stroke-width="45"/><use href="#dB" stroke="#ad403e" stroke-width="34"/>
<use href="#dA" stroke="#5d60b5" stroke-width="36"/><use href="#dB" stroke="#e45d5a" stroke-width="26.5"/>
</g></defs>
<rect x="704" y="64" width="397" height="396.7" fill="#050507"/>
<use href="#disc" transform="translate(902.5 262.35) rotate(45)"/>
<path d="M983.7 316.9h0M989 317.7h0M984.5 321.2h0M988.7 322h0M986.5 326.3h0M986.4 319.3h0" fill="none" stroke-linecap="round" stroke="#2a9a94" stroke-width="4.6"/>
<path d="M983.7 316.9h0M989 317.7h0M984.5 321.2h0M988.7 322h0M986.5 326.3h0M986.4 319.3h0" fill="none" stroke-linecap="round" stroke="#48d8cf" stroke-width="3.7"/>
<text x="712.2" y="93.8" font-size="33" fill="#fff" letter-spacing="0.8" style="font-family:Liberation Sans,sans-serif">45</text>
<rect x="1149.2" y="64" width="397.2" height="396.7" fill="#050507"/>
<use href="#disc" transform="translate(1347.8 262.35) rotate(45)"/>
<path d="M1337.4 263.9h0M1341.1 263.8h0M1344.5 262.5h0M1347.4 260.4h0M1349.7 257.5h0M1351.8 254.4h0M1353.7 251.3h0M1355.5 248.1h0M1356.4 244.5h0" fill="none" stroke-linecap="round" stroke="#a8a010" stroke-width="4.6"/>
<path d="M1337.4 263.9h0M1341.1 263.8h0M1344.5 262.5h0M1347.4 260.4h0M1349.7 257.5h0M1351.8 254.4h0M1353.7 251.3h0M1355.5 248.1h0M1356.4 244.5h0" fill="none" stroke-linecap="round" stroke="#ecec28" stroke-width="3.7"/>
<path d="M1429.1 316.9h0M1434.4 317.7h0M1429.9 321.2h0M1434.1 322h0M1431.9 326.3h0M1431.8 319.3h0" fill="none" stroke-linecap="round" stroke="#2a9a94" stroke-width="4.6"/>
<path d="M1429.1 316.9h0M1434.4 317.7h0M1429.9 321.2h0M1434.1 322h0M1431.9 326.3h0M1431.8 319.3h0" fill="none" stroke-linecap="round" stroke="#48d8cf" stroke-width="3.7"/>
<text x="1157.4" y="93.8" font-size="33" fill="#fff" letter-spacing="0.8" style="font-family:Liberation Sans,sans-serif">45</text>
<rect x="704" y="517" width="397" height="396.7" fill="#050507"/>
<use href="#disc" transform="translate(902.5 715.35) rotate(0)"/>
<path d="M932 662.1h0M932.6 672.1h0M927.9 672.4h0M932.7 678h0M936.8 678.8h0M929.8 681h0M939 682.4h0M894.3 684.9h0M923.9 685.4h0M931.2 685h0M934.1 682h0M889.5 687.4h0M896.8 688.9h0M926.2 689.2h0M879.3 692.5h0M885.4 688.2h0M894 692.1h0M910.4 696.5h0M930.4 689.2h0M934.1 691.3h0M937.6 688.5h0M938.1 692.7h0M877.3 688.8h0M883.4 693.8h0M887.3 695.2h0M893.9 696.3h0M898.1 696.2h0M919.1 695.1h0M924.1 692.9h0M928.3 692.8h0M880.6 696.9h0M890.2 698.3h0M901.3 698.9h0M905 696.8h0M911.3 700.6h0M915 696.3h0M922.9 697h0M923.1 701.2h0M932.8 697.9h0M884.5 698.3h0M894.1 703.7h0M897.2 700.6h0M904.7 701.3h0M915.4 700.6h0M921.3 705.1h0M919.4 699.3h0M926.7 699h0M933.8 702.4h0M883.2 707.2h0M890.3 705.7h0M900.8 703.1h0M911.2 704.8h0M926.7 703.3h0M893.9 707.8h0M901.2 707.3h0M905.2 708.6h0M909.8 708.8h0M916.7 709.9h0M920.8 709.3h0M928.5 707.1h0M932.7 706.9h0M884 714.6h0M885.9 710.9h0M895.7 711.7h0M899.8 711.3h0M903.8 712.6h0M915.1 713.9h0M925.5 710.1h0M891.5 714.7h0M910.5 713.6h0M919.3 714.1h0M930 714.4h0M896.6 718.8h0M900.8 719.4h0M904.8 717.9h0M909 717.7h0M912.2 720.3h0M916.2 718h0M923.4 716.2h0M927.8 718.1h0M934.7 720h0M883.9 724.3h0M890.5 721.3h0M894.5 722.5h0M901.3 724.1h0M907.9 721.8h0M915.9 722.2h0M922.6 727.1h0M922.6 722.9h0M926.8 722.7h0M930.7 721.5h0M880.7 727.2h0M884.7 728.5h0M887.9 725.6h0M904.8 726.4h0M911.3 724.4h0M915 726.4h0M919 725.1h0M926.9 726.9h0M933.8 724.3h0M881.8 731.5h0M894 730.6h0M897.8 728.9h0M907.6 730.2h0M912.4 732.8h0M920.7 730.9h0M925 730.6h0M877.8 730.2h0M886 732.5h0M890.3 732.6h0M911.5 728.7h0M923 734.4h0M929.2 730.7h0M880.7 735.6h0M900.9 732.4h0M915.5 735.8h0M930.3 734.9h0M919.4 739.8h0M926.4 737.6h0M923.3 741.6h0" fill="none" stroke-linecap="round" stroke="#2a9a94" stroke-width="4.6"/>
<path d="M932 662.1h0M932.6 672.1h0M927.9 672.4h0M932.7 678h0M936.8 678.8h0M929.8 681h0M939 682.4h0M894.3 684.9h0M923.9 685.4h0M931.2 685h0M934.1 682h0M889.5 687.4h0M896.8 688.9h0M926.2 689.2h0M879.3 692.5h0M885.4 688.2h0M894 692.1h0M910.4 696.5h0M930.4 689.2h0M934.1 691.3h0M937.6 688.5h0M938.1 692.7h0M877.3 688.8h0M883.4 693.8h0M887.3 695.2h0M893.9 696.3h0M898.1 696.2h0M919.1 695.1h0M924.1 692.9h0M928.3 692.8h0M880.6 696.9h0M890.2 698.3h0M901.3 698.9h0M905 696.8h0M911.3 700.6h0M915 696.3h0M922.9 697h0M923.1 701.2h0M932.8 697.9h0M884.5 698.3h0M894.1 703.7h0M897.2 700.6h0M904.7 701.3h0M915.4 700.6h0M921.3 705.1h0M919.4 699.3h0M926.7 699h0M933.8 702.4h0M883.2 707.2h0M890.3 705.7h0M900.8 703.1h0M911.2 704.8h0M926.7 703.3h0M893.9 707.8h0M901.2 707.3h0M905.2 708.6h0M909.8 708.8h0M916.7 709.9h0M920.8 709.3h0M928.5 707.1h0M932.7 706.9h0M884 714.6h0M885.9 710.9h0M895.7 711.7h0M899.8 711.3h0M903.8 712.6h0M915.1 713.9h0M925.5 710.1h0M891.5 714.7h0M910.5 713.6h0M919.3 714.1h0M930 714.4h0M896.6 718.8h0M900.8 719.4h0M904.8 717.9h0M909 717.7h0M912.2 720.3h0M916.2 718h0M923.4 716.2h0M927.8 718.1h0M934.7 720h0M883.9 724.3h0M890.5 721.3h0M894.5 722.5h0M901.3 724.1h0M907.9 721.8h0M915.9 722.2h0M922.6 727.1h0M922.6 722.9h0M926.8 722.7h0M930.7 721.5h0M880.7 727.2h0M884.7 728.5h0M887.9 725.6h0M904.8 726.4h0M911.3 724.4h0M915 726.4h0M919 725.1h0M926.9 726.9h0M933.8 724.3h0M881.8 731.5h0M894 730.6h0M897.8 728.9h0M907.6 730.2h0M912.4 732.8h0M920.7 730.9h0M925 730.6h0M877.8 730.2h0M886 732.5h0M890.3 732.6h0M911.5 728.7h0M923 734.4h0M929.2 730.7h0M880.7 735.6h0M900.9 732.4h0M915.5 735.8h0M930.3 734.9h0M919.4 739.8h0M926.4 737.6h0M923.3 741.6h0" fill="none" stroke-linecap="round" stroke="#48d8cf" stroke-width="3.7"/>
<path d="M931.9 665.8h0M930 669.2h0M933.7 668.5h0M930.4 675.1h0M936.3 671.2h0M938.9 673.2h0M928.4 677.6h0M939.5 676.3h0M890 683.7h0M899.7 681.1h0M935 675h0M892.4 681.6h0M897.9 683.8h0M918.4 689.3h0M920.3 686.7h0M926.5 682.7h0M882.3 690.3h0M893.1 688.4h0M927.6 685.8h0M934 687.5h0M936.3 685h0M887.2 691.5h0M890.4 691h0M897.6 692.5h0M916.7 692.2h0M922.5 689.1h0M920.6 691.7h0M876.3 694.8h0M890.9 694.2h0M901.7 695.2h0M913.5 692.8h0M931.8 694.3h0M935 694.9h0M884.4 702h0M887.4 700.8h0M893.5 700h0M907.8 699.3h0M929.3 696.4h0M881.4 700.5h0M890.8 702h0M908.2 702.6h0M915 704.6h0M930.1 700.6h0M881.6 703.8h0M887 704h0M897.6 708.3h0M897.6 705h0M907.6 705.8h0M917.8 706.3h0M918.3 702.9h0M924.8 706.5h0M930.4 703.9h0M886.9 707.2h0M892 711.1h0M904.2 705h0M913.7 707.6h0M889.3 709.3h0M907.4 711.6h0M913 710.8h0M922.7 712.5h0M929.2 710.8h0M887.8 714.5h0M895.2 715.3h0M898.5 714.8h0M901.7 715.7h0M906.8 714.8h0M912.7 716.7h0M926.3 713.8h0M924.5 719.7h0M889.4 717.7h0M892.8 718.3h0M920 717.8h0M931.6 717.8h0M898.2 722.1h0M904.2 721.7h0M919.4 721h0M891.6 724.8h0M894.4 726.9h0M897.2 725.2h0M908.4 726.6h0M930.2 725.3h0M888.3 729.4h0M891.3 728h0M901.4 727.8h0M915 730.1h0M917.9 728.6h0M933 732.2h0M897.2 732.6h0M903.8 730h0M917.3 732.4h0M926.7 733.9h0M919.3 735.9h0M922.7 738h0" fill="none" stroke-linecap="round" stroke="#2a9a94" stroke-width="3.4"/>
<path d="M931.9 665.8h0M930 669.2h0M933.7 668.5h0M930.4 675.1h0M936.3 671.2h0M938.9 673.2h0M928.4 677.6h0M939.5 676.3h0M890 683.7h0M899.7 681.1h0M935 675h0M892.4 681.6h0M897.9 683.8h0M918.4 689.3h0M920.3 686.7h0M926.5 682.7h0M882.3 690.3h0M893.1 688.4h0M927.6 685.8h0M934 687.5h0M936.3 685h0M887.2 691.5h0M890.4 691h0M897.6 692.5h0M916.7 692.2h0M922.5 689.1h0M920.6 691.7h0M876.3 694.8h0M890.9 694.2h0M901.7 695.2h0M913.5 692.8h0M931.8 694.3h0M935 694.9h0M884.4 702h0M887.4 700.8h0M893.5 700h0M907.8 699.3h0M929.3 696.4h0M881.4 700.5h0M890.8 702h0M908.2 702.6h0M915 704.6h0M930.1 700.6h0M881.6 703.8h0M887 704h0M897.6 708.3h0M897.6 705h0M907.6 705.8h0M917.8 706.3h0M918.3 702.9h0M924.8 706.5h0M930.4 703.9h0M886.9 707.2h0M892 711.1h0M904.2 705h0M913.7 707.6h0M889.3 709.3h0M907.4 711.6h0M913 710.8h0M922.7 712.5h0M929.2 710.8h0M887.8 714.5h0M895.2 715.3h0M898.5 714.8h0M901.7 715.7h0M906.8 714.8h0M912.7 716.7h0M926.3 713.8h0M924.5 719.7h0M889.4 717.7h0M892.8 718.3h0M920 717.8h0M931.6 717.8h0M898.2 722.1h0M904.2 721.7h0M919.4 721h0M891.6 724.8h0M894.4 726.9h0M897.2 725.2h0M908.4 726.6h0M930.2 725.3h0M888.3 729.4h0M891.3 728h0M901.4 727.8h0M915 730.1h0M917.9 728.6h0M933 732.2h0M897.2 732.6h0M903.8 730h0M917.3 732.4h0M926.7 733.9h0M919.3 735.9h0M922.7 738h0" fill="none" stroke-linecap="round" stroke="#48d8cf" stroke-width="2.6"/>
<text x="712.2" y="546.8" font-size="33" fill="#fff" letter-spacing="0.8" style="font-family:Liberation Sans,sans-serif">90</text>
<rect x="1149.2" y="517" width="397.2" height="396.7" fill="#050507"/>
<use href="#disc" transform="translate(1347.8 715.35) rotate(0)"/>
<path d="M1338.5 708.3h0M1341.2 710.8h0M1344.3 712.8h0M1347.8 714h0M1351.4 714.4h0M1355 713.7h0M1358.5 712.5h0M1361.8 710.8h0M1364.8 708.7h0" fill="none" stroke-linecap="round" stroke="#a8a010" stroke-width="4.6"/>
<path d="M1338.5 708.3h0M1341.2 710.8h0M1344.3 712.8h0M1347.8 714h0M1351.4 714.4h0M1355 713.7h0M1358.5 712.5h0M1361.8 710.8h0M1364.8 708.7h0" fill="none" stroke-linecap="round" stroke="#ecec28" stroke-width="3.7"/>
<path d="M1438.5 678.6h0M1435.7 680.5h0M1434.2 683.4h0M1433.4 686.7h0M1433 690.1h0M1432.6 693.5h0M1432.2 696.9h0M1431.7 700.2h0" fill="none" stroke-linecap="round" stroke="#2a9a94" stroke-width="4.6"/>
<path d="M1438.5 678.6h0M1435.7 680.5h0M1434.2 683.4h0M1433.4 686.7h0M1433 690.1h0M1432.6 693.5h0M1432.2 696.9h0M1431.7 700.2h0" fill="none" stroke-linecap="round" stroke="#48d8cf" stroke-width="3.7"/>
<path d="M1222.6 743.6h0M1226.5 744.2h0M1228.2 747.6h0M1230.2 751h0M1233.8 752.8h0M1226.2 748.6h0M1236 754.6h0" fill="none" stroke-linecap="round" stroke="#2a9a94" stroke-width="4.6"/>
<path d="M1222.6 743.6h0M1226.5 744.2h0M1228.2 747.6h0M1230.2 751h0M1233.8 752.8h0M1226.2 748.6h0M1236 754.6h0" fill="none" stroke-linecap="round" stroke="#48d8cf" stroke-width="3.7"/>
<text x="1157.4" y="546.8" font-size="33" fill="#fff" letter-spacing="0.8" style="font-family:Liberation Sans,sans-serif">90</text>
<g id="pd">
<rect x="1594.0" y="64.0" width="397.0" height="396" fill="#1d3a45"/>
<defs>
<clipPath id="cd"><rect x="0" y="0" width="3970.0" height="3960"/></clipPath>
<path id="dd01" d="M3852 3161h0M3897 3159h0M3978 3167h0M3825 3198h0M3758 3226h0M3901 3236h0M3866 3263h0M3828 3345h0M3907 3333h0M3962 3339h0M3777 3349h0M3805 3384h0"/>
<path id="dd00" d="M3919 3192h0M3951 3197h0M3720 3235h0M3797 3225h0M3839 3235h0M3940 3230h0M3665 3257h0M3780 3265h0M3910 3276h0M3811 3286h0M3884 3301h0M3980 3303h0M3800 3317h0M3866 3348h0"/>
<path id="dd11" d="M721 304h0M888 589h0M823 700h0M1033 710h0M752 753h0M818 753h0M858 729h0M859 773h0M999 779h0M762 808h0M827 841h0M904 849h0M925 888h0M1056 885h0M868 919h0M947 927h0M933 969h0M3309 1580h0M3417 1769h0M3714 3090h0M3900 3089h0M3775 3125h0M3865 3117h0M3807 3157h0M3306 3185h0M3349 3195h0M3630 3191h0M3560 3229h0M3980 3230h0M3627 3265h0M3742 3267h0M3591 3298h0M3679 3294h0M3762 3307h0M3846 3304h0M3567 3336h0M3701 3333h0M3677 3371h0M3850 3386h0M3894 3375h0M3761 3391h0M10 3852h0M8 3921h0"/>
<path id="dd10" d="M866 557h0M955 622h0M803 667h0M895 666h0M927 676h0M862 690h0M825 791h0M1038 779h0M800 812h0M851 811h0M984 819h0M800 887h0M908 923h0M3147 1656h0M3913 3042h0M3677 3100h0M3737 3122h0M3826 3123h0M3638 3153h0M3939 3164h0M3666 3206h0M3781 3188h0M3521 3230h0M3643 3230h0M3686 3232h0M3568 3267h0M3701 3262h0M3812 3254h0M3949 3275h0M3629 3304h0M3717 3298h0M3932 3303h0M3739 3339h0M3718 3418h0M3980 3588h0M1095 3746h0M1004 3822h0"/>
<path id="dd21" d="M726 74h0M2956 77h0M697 111h0M768 152h0M3647 336h0M640 372h0M3689 406h0M934 528h0M979 528h0M932 591h0M876 632h0M920 637h0M991 637h0M1033 626h0M767 681h0M840 659h0M966 674h0M785 723h0M898 705h0M942 711h0M898 750h0M975 741h0M723 787h0M956 792h0M1202 774h0M1832 775h0M3824 779h0M889 806h0M1023 816h0M739 847h0M784 852h0M953 845h0M1000 855h0M1079 846h0M762 891h0M845 881h0M969 887h0M1136 874h0M1723 899h0M1745 860h0M3804 886h0M3936 892h0M992 926h0M1126 917h0M978 968h0M1054 966h0M3640 957h0M3980 970h0M956 1007h0M1088 995h0M3867 991h0M1033 1062h0M1132 1069h0M3879 1065h0M3923 1073h0M973 1183h0M3723 1302h0M3259 1321h0M3145 1441h0M3318 1505h0M41 1552h0M131 1553h0M3500 1539h0M10 1591h0M106 1594h0M3112 1584h0M3199 1596h0M3180 1637h0M3225 1632h0M3109 1662h0M3274 1655h0M3154 1724h0M3487 1737h0M3333 1772h0M3265 1801h0M3448 1815h0M3207 1834h0M3251 1843h0M3363 1839h0M3185 1883h0M3327 1865h0M157 1916h0M3256 1900h0M3421 1920h0M3277 1940h0M3366 1945h0M163 1983h0M2262 2023h0M2582 2142h0M2428 2171h0M2275 2214h0M2325 2209h0M2435 2215h0M2623 2207h0M2645 2246h0M2533 2280h0M2622 2285h0M2376 2317h0M2508 2323h0M2726 2332h0M2879 2325h0M2596 2387h0M2772 2406h0M2816 2403h0M2535 2423h0M2644 2533h0M3007 2535h0M3961 2607h0M2882 2671h0M2774 2715h0M3073 2789h0M2295 2818h0M3436 2914h0M3311 2972h0M3663 3020h0M3712 3003h0M3848 3004h0M3941 3015h0M3700 3046h0M3743 3056h0M3243 3066h0M3804 3091h0M3980 3091h0M3189 3113h0M3954 3128h0M3286 3145h0M3599 3147h0M3674 3168h0M3722 3157h0M3537 3191h0M3582 3188h0M3706 3199h0M3870 3203h0M89 3236h0M3451 3214h0M3604 3227h0M12 3262h0M57 3267h0M3406 3263h0M3451 3259h0M3495 3260h0M-10 3312h0M82 3304h0M3468 3300h0M275 3341h0M1350 3343h0M3479 3343h0M3611 3338h0M3656 3332h0M3633 3377h0M3721 3373h0M3980 3380h0M3568 3407h0M3612 3416h0M3677 3415h0M3645 3446h0M3690 3458h0M6 3493h0M3617 3481h0M51 3559h0M1207 3558h0M3860 3599h0M1119 3637h0M1207 3629h0M3929 3638h0M1007 3674h0M1096 3675h0M1163 3715h0M1337 3696h0M1049 3752h0M906 3782h0M1027 3790h0M1074 3788h0M1117 3778h0M1162 3778h0M882 3820h0M932 3818h0M1220 3823h0M1264 3814h0M55 3856h0M863 3861h0M1001 3861h0M1046 3859h0M1245 3861h0M934 3894h0M1058 3901h0M1177 3901h0M53 3922h0M879 3940h0M79 3960h0"/>
<path id="dd20" d="M2783 11h0M714 151h0M658 265h0M674 300h0M911 489h0M911 559h0M955 560h0M817 628h0M1007 673h0M2162 668h0M747 715h0M989 705h0M937 751h0M1088 740h0M783 776h0M919 782h0M709 823h0M926 817h0M1099 813h0M1138 816h0M865 847h0M1039 851h0M886 884h0M1013 892h0M1857 890h0M1016 960h0M1172 962h0M3928 958h0M995 1003h0M1125 1002h0M3904 1000h0M1014 1029h0M1222 1037h0M1649 1022h0M3719 1033h0M1171 1067h0M3962 1078h0M3980 1122h0M995 1151h0M1042 1139h0M3870 1289h0M3275 1363h0M3232 1431h0M3420 1463h0M74 1572h0M3205 1539h0M3236 1584h0M3271 1573h0M3206 1666h0M3238 1669h0M3236 1736h0M3173 1758h0M3220 1768h0M3253 1764h0M3376 1773h0M3227 1801h0M3418 1840h0M3444 1861h0M140 1950h0M180 1948h0M2253 2168h0M2465 2163h0M2204 2212h0M2543 2223h0M2180 2234h0M2681 2232h0M2319 2288h0M2352 2284h0M2694 2354h0M2888 2362h0M2510 2394h0M2643 2386h0M2493 2422h0M2574 2419h0M2618 2419h0M2838 2435h0M2634 2455h0M2678 2458h0M2725 2519h0M2756 2535h0M2617 2572h0M-8 2640h0M2658 2648h0M2641 2677h0M2760 2752h0M3819 2748h0M3255 2943h0M3407 2939h0M3390 2967h0M3980 3012h0M3235 3029h0M-1 3094h0M69 3083h0M3754 3093h0M3842 3084h0M9 3127h0M3226 3104h0M3666 3131h0M3699 3126h0M3915 3125h0M-3 3158h0M3204 3154h0M3761 3162h0M12 3192h0M3744 3189h0M127 3227h0M3535 3260h0M121 3303h0M59 3336h0M3551 3372h0M3588 3374h0M3931 3364h0M3526 3408h0M3941 3395h0M3728 3450h0M3701 3495h0M1186 3591h0M3944 3599h0M3784 3624h0M1181 3673h0M1200 3705h0M1186 3747h0M954 3787h0M987 3785h0M-10 3819h0M34 3822h0M972 3815h0M1052 3820h0M1181 3823h0M1125 3853h0M-10 3886h0M31 3887h0M973 3891h0M1126 3931h0M969 3957h0M1050 3976h0M1695 3964h0"/>
<path id="dd31" d="M465 -10h0M542 -10h0M714 0h0M807 -5h0M2712 -6h0M2823 8h0M2913 -9h0M3034 -10h0M3294 -10h0M2856 38h0M2936 31h0M770 69h0M2743 72h0M2877 78h0M3078 79h0M3875 84h0M787 111h0M2682 110h0M2727 114h0M2975 118h0M3444 114h0M500 155h0M451 189h0M3775 184h0M3918 185h0M633 236h0M676 226h0M3560 231h0M3710 235h0M3754 225h0M526 262h0M571 259h0M3603 258h0M3666 260h0M551 299h0M600 305h0M1642 296h0M3546 304h0M3591 301h0M3635 293h0M3678 303h0M571 339h0M645 326h0M689 335h0M3442 335h0M3570 341h0M3745 332h0M3789 340h0M3878 338h0M594 378h0M719 369h0M3619 373h0M3762 375h0M3810 379h0M3854 376h0M1582 405h0M3783 415h0M3869 418h0M3914 423h0M704 448h0M3710 448h0M3755 449h0M3813 448h0M828 477h0M873 480h0M950 486h0M2080 467h0M3706 493h0M555 496h0M889 526h0M3807 521h0M3896 517h0M827 559h0M1025 555h0M2081 544h0M2166 554h0M3784 559h0M594 594h0M844 601h0M2105 581h0M2147 594h0M3716 586h0M1078 624h0M2096 624h0M561 678h0M725 666h0M1049 668h0M1094 666h0M3848 660h0M524 704h0M1109 708h0M1833 710h0M2186 699h0M3831 702h0M1691 731h0M1733 745h0M2236 736h0M3761 734h0M3935 737h0M1081 778h0M1157 782h0M3868 776h0M675 806h0M1695 812h0M1892 814h0M2121 813h0M3634 807h0M3807 820h0M3980 814h0M658 847h0M1233 845h0M1624 849h0M1671 850h0M1787 852h0M1831 856h0M1874 855h0M1917 851h0M3698 852h0M3775 852h0M3836 854h0M3913 854h0M1178 892h0M1648 887h0M1818 898h0M3717 896h0M3891 894h0M3980 893h0M822 919h0M1037 925h0M1081 921h0M1614 916h0M1784 926h0M1869 927h0M3684 931h0M3753 923h0M890 958h0M1133 961h0M1211 958h0M1687 963h0M1894 968h0M3546 975h0M3802 959h0M1192 1002h0M1236 1001h0M3823 999h0M3943 994h0M979 1046h0M1053 1022h0M1100 1038h0M1153 1030h0M3798 1037h0M3843 1039h0M3952 1038h0M3400 1074h0M3650 1064h0M3695 1063h0M3783 1079h0M1011 1116h0M1097 1096h0M1183 1104h0M1304 1115h0M3541 1114h0M3717 1102h0M3774 1123h0M3849 1099h0M3942 1113h0M64 1144h0M712 1157h0M1205 1143h0M1250 1146h0M2932 1139h0M3609 1139h0M3688 1136h0M3734 1143h0M3831 1140h0M3875 1148h0M-5 1183h0M1103 1175h0M2953 1179h0M3336 1179h0M3423 1165h0M3586 1177h0M3719 1185h0M3804 1195h0M3847 1182h0M3980 1166h0M1033 1212h0M1077 1215h0M2924 1212h0M3427 1209h0M3560 1213h0M3703 1227h0M3933 1222h0M3978 1214h0M926 1258h0M1443 1262h0M3626 1257h0M3670 1258h0M3747 1264h0M946 1298h0M1414 1295h0M2938 1290h0M3194 1282h0M3316 1281h0M3389 1290h0M3524 1282h0M3601 1294h0M3786 1285h0M3973 1296h0M3080 1319h0M3125 1318h0M3336 1321h0M3379 1334h0M3421 1321h0M3465 1326h0M3510 1325h0M3554 1324h0M3190 1359h0M3237 1359h0M3314 1361h0M3411 1365h0M3565 1367h0M3615 1363h0M1643 1407h0M3169 1398h0M3302 1405h0M3377 1392h0M3193 1435h0M3447 1435h0M3645 1434h0M3777 1421h0M3133 1486h0M3220 1471h0M3381 1468h0M3632 1477h0M3676 1467h0M3092 1502h0M3166 1516h0M3274 1514h0M3362 1508h0M3411 1501h0M3563 1510h0M-10 1551h0M3087 1546h0M3131 1543h0M3172 1560h0M3243 1546h0M3337 1545h0M3422 1544h0M3592 1544h0M3694 1557h0M3066 1586h0M-9 1632h0M165 1625h0M3090 1622h0M205 1702h0M1730 1696h0M1778 1699h0M3173 1684h0M-7 1718h0M3198 1728h0M3134 1763h0M3462 1773h0M3506 1777h0M3551 1773h0M3596 1775h0M1 1795h0M423 1808h0M1581 1798h0M3396 1808h0M70 1825h0M1468 1838h0M1513 1839h0M3295 1834h0M3719 1840h0M11 1869h0M146 1870h0M1490 1878h0M3064 1874h0M3528 1873h0M3572 1865h0M115 1902h0M1521 1912h0M3301 1902h0M3345 1906h0M96 1943h0M3189 1930h0M3233 1938h0M3321 1943h0M3407 1962h0M118 1982h0M2364 1983h0M3205 1973h0M3253 1978h0M3341 1983h0M2338 2020h0M2426 2028h0M3008 2042h0M2199 2055h0M2312 2057h0M2357 2060h0M3221 2056h0M2135 2088h0M2180 2095h0M2227 2091h0M2341 2102h0M2386 2094h0M2477 2097h0M3104 2089h0M3241 2096h0M2152 2130h0M2233 2135h0M2308 2131h0M2446 2129h0M2539 2130h0M3384 2124h0M2135 2172h0M2210 2173h0M2293 2173h0M2337 2166h0M2381 2175h0M2517 2178h0M2355 2245h0M2477 2199h0M2578 2207h0M2703 2200h0M2746 2211h0M2790 2218h0M2875 2201h0M2916 2217h0M2203 2269h0M2391 2219h0M2470 2243h0M2600 2246h0M2762 2253h0M1815 2279h0M1860 2278h0M2115 2253h0M2389 2274h0M2444 2280h0M2488 2284h0M2578 2285h0M2733 2287h0M2945 2284h0M1291 2304h0M2204 2315h0M2299 2322h0M2463 2321h0M2553 2322h0M2597 2329h0M2642 2325h0M2685 2314h0M2769 2320h0M2820 2320h0M2924 2323h0M2968 2325h0M3013 2324h0M3246 2322h0M1095 2345h0M1309 2344h0M1369 2337h0M1974 2340h0M2487 2362h0M2803 2361h0M9 2392h0M1257 2389h0M1344 2373h0M1958 2382h0M2381 2374h0M2426 2389h0M2719 2385h0M2857 2385h0M2933 2398h0M3025 2394h0M1398 2418h0M2378 2419h0M2656 2423h0M2701 2426h0M3068 2415h0M1426 2454h0M1666 2462h0M2595 2451h0M2888 2475h0M2933 2468h0M2978 2469h0M-10 2509h0M215 2500h0M1494 2497h0M1539 2492h0M2485 2482h0M2528 2493h0M2618 2490h0M2694 2495h0M2757 2496h0M3106 2493h0M1337 2534h0M1583 2529h0M1670 2521h0M2554 2530h0M2599 2531h0M2692 2540h0M2796 2520h0M3178 2525h0M-10 2566h0M1218 2571h0M2499 2565h0M2663 2574h0M2826 2575h0M2871 2572h0M3717 2562h0M3805 2575h0M1499 2605h0M1665 2604h0M1709 2601h0M2428 2603h0M2635 2609h0M2884 2615h0M2928 2609h0M3035 2643h0M3846 2654h0M3980 2648h0M55 2677h0M2512 2678h0M2679 2680h0M2838 2677h0M2926 2679h0M2970 2686h0M3959 2687h0M-10 2727h0M2453 2708h0M2548 2704h0M2656 2718h0M2819 2717h0M2901 2716h0M3126 2718h0M3755 2716h0M3892 2717h0M2396 2752h0M2474 2746h0M2519 2740h0M2564 2746h0M2722 2744h0M2855 2743h0M2930 2750h0M2975 2748h0M3022 2761h0M3099 2753h0M3966 2757h0M2160 2797h0M2321 2782h0M2448 2783h0M2493 2786h0M2537 2782h0M2865 2787h0M2954 2788h0M3810 2787h0M3896 2777h0M3939 2792h0M3980 2810h0M406 2825h0M911 2811h0M2126 2826h0M2383 2833h0M2427 2823h0M2556 2822h0M2600 2817h0M2643 2809h0M2808 2820h0M3056 2831h0M3833 2825h0M3877 2818h0M122 2859h0M1016 2855h0M2159 2856h0M2204 2860h0M2315 2859h0M3083 2866h0M3897 2858h0M101 2898h0M2096 2893h0M2262 2894h0M2801 2904h0M3238 2908h0M3830 2900h0M3875 2898h0M3920 2898h0M79 2937h0M293 2936h0M2072 2935h0M2116 2933h0M2160 2937h0M2236 2930h0M3292 2932h0M3337 2935h0M3727 2930h0M3804 2940h0M3848 2943h0M3892 2940h0M3936 2941h0M3980 2933h0M6 2971h0M52 2973h0M107 2972h0M269 2973h0M2134 2974h0M3431 2970h0M3475 2968h0M3745 2972h0M3803 3007h0M3965 2976h0M-7 3019h0M204 3015h0M1894 3011h0M1936 3022h0M2068 3021h0M2144 3018h0M2232 3000h0M2276 2995h0M3759 3014h0M3893 3009h0M48 3039h0M91 3051h0M134 3037h0M176 3051h0M228 3054h0M273 3050h0M317 3048h0M2127 3062h0M2171 3053h0M2215 3044h0M2259 3036h0M3197 3040h0M3660 3065h0M3787 3049h0M3832 3046h0M3876 3052h0M125 3081h0M167 3095h0M260 3092h0M2201 3086h0M2245 3078h0M2290 3068h0M3168 3074h0M3941 3070h0M47 3115h0M94 3113h0M229 3124h0M3144 3111h0M3265 3106h0M3631 3115h0M71 3153h0M161 3150h0M263 3152h0M2199 3157h0M3241 3144h0M96 3192h0M141 3190h0M186 3188h0M235 3187h0M1967 3189h0M3186 3189h0M3231 3188h0M3494 3203h0M331 3223h0M3376 3230h0M190 3265h0M240 3260h0M3354 3269h0M34 3306h0M160 3297h0M1278 3294h0M3393 3305h0M3544 3298h0M140 3337h0M1243 3322h0M3436 3331h0M3524 3345h0M77 3370h0M165 3375h0M1138 3372h0M1494 3351h0M1083 3411h0M1249 3410h0M1336 3414h0M1381 3418h0M1559 3410h0M-10 3451h0M31 3432h0M121 3446h0M166 3441h0M1213 3437h0M1318 3454h0M3584 3451h0M47 3476h0M92 3480h0M1028 3481h0M1159 3482h0M1203 3480h0M1246 3492h0M1290 3489h0M68 3518h0M118 3517h0M162 3525h0M207 3523h0M252 3523h0M1095 3516h0M1139 3522h0M1184 3520h0M1271 3529h0M3643 3519h0M3686 3530h0M3729 3521h0M96 3556h0M981 3557h0M1028 3558h0M1073 3557h0M1118 3561h0M1163 3559h0M1251 3569h0M3745 3563h0M-10 3583h0M76 3596h0M121 3593h0M166 3589h0M1007 3597h0M1052 3597h0M1142 3599h0M146 3630h0M984 3637h0M1029 3636h0M1074 3635h0M3883 3638h0M3972 3627h0M962 3676h0M1051 3674h0M1141 3676h0M1220 3672h0M1261 3654h0M1305 3664h0M3936 3682h0M3980 3671h0M870 3703h0M915 3696h0M952 3720h0M1028 3713h0M1073 3714h0M1118 3714h0M1254 3701h0M838 3734h0M898 3738h0M1005 3751h0M1306 3737h0M1351 3738h0M1395 3747h0M3941 3732h0M817 3773h0M862 3775h0M1206 3781h0M1249 3772h0M1293 3780h0M1338 3781h0M1381 3790h0M3922 3772h0M760 3822h0M1098 3825h0M1143 3818h0M1308 3822h0M908 3857h0M957 3855h0M1089 3869h0M1164 3858h0M1372 3847h0M1456 3863h0M807 3899h0M1222 3899h0M1267 3900h0M1475 3903h0M1528 3901h0M1660 3895h0M2829 3892h0M102 3917h0M835 3934h0M924 3937h0M1035 3940h0M1087 3936h0M1616 3945h0M1706 3925h0M1750 3936h0M-5 3966h0M38 3979h0M125 3980h0M171 3973h0M797 3979h0M843 3978h0M937 3980h0M1004 3973h0M1099 3979h0M1228 3980h0M1392 3973h0M1557 3962h0M1645 3980h0M1862 3979h0"/>
<path id="dd30" d="M626 -5h0M2531 -10h0M2750 9h0M2868 1h0M2965 -4h0M666 33h0M745 38h0M778 27h0M2725 35h0M2773 43h0M2809 46h0M2897 36h0M2996 77h0M3595 83h0M3526 105h0M3656 190h0M736 266h0M3566 270h0M3703 274h0M3903 274h0M635 288h0M760 304h0M3724 299h0M3760 297h0M3849 301h0M610 342h0M1665 328h0M3706 331h0M1603 370h0M3505 376h0M3538 381h0M3682 353h0M693 405h0M1961 418h0M3829 413h0M617 443h0M640 465h0M1975 447h0M3671 451h0M3852 453h0M3888 453h0M573 457h0M988 488h0M2205 490h0M3744 486h0M1012 510h0M2190 520h0M3720 529h0M988 566h0M2128 549h0M978 597h0M1011 593h0M1048 591h0M2290 587h0M3889 587h0M3720 666h0M3886 658h0M1071 702h0M1713 700h0M1791 705h0M1014 743h0M1055 746h0M1172 747h0M1768 761h0M3846 738h0M1119 787h0M1711 777h0M1743 783h0M1871 782h0M3700 765h0M1062 812h0M1223 808h0M1852 809h0M696 853h0M1117 840h0M1158 843h0M1196 857h0M1709 847h0M1774 888h0M1096 883h0M1219 890h0M1600 880h0M1687 885h0M1898 886h0M1164 930h0M1204 920h0M1745 930h0M3648 918h0M3829 931h0M1646 969h0M3761 961h0M3841 962h0M3896 965h0M1026 994h0M3619 989h0M3650 999h0M1190 1041h0M3379 1040h0M3417 1040h0M3758 1030h0M3906 1033h0M3980 1011h0M999 1079h0M1073 1066h0M1203 1071h0M1235 1067h0M3821 1071h0M1136 1108h0M2923 1101h0M3810 1107h0M3052 1135h0M3313 1146h0M3357 1146h0M3567 1142h0M3795 1156h0M3912 1159h0M3944 1152h0M717 1195h0M1016 1177h0M1265 1182h0M3298 1175h0M3377 1177h0M3903 1191h0M1374 1222h0M3786 1230h0M3872 1211h0M3077 1248h0M3262 1241h0M3373 1248h0M3809 1254h0M3971 1255h0M3487 1294h0M3903 1292h0M3298 1316h0M3592 1332h0M3701 1334h0M3980 1334h0M3352 1362h0M3450 1362h0M3699 1367h0M1477 1392h0M3338 1391h0M3429 1400h0M3483 1449h0M3561 1445h0M3257 1479h0M3505 1481h0M3547 1475h0M3592 1485h0M59 1514h0M3203 1506h0M3524 1508h0M3613 1511h0M3298 1544h0M3383 1541h0M3461 1542h0M3553 1548h0M144 1592h0M126 1627h0M3128 1629h0M3302 1619h0M186 1658h0M3130 1694h0M3221 1697h0M3647 1698h0M3295 1764h0M3680 1768h0M43 1797h0M3304 1797h0M3358 1800h0M3489 1812h0M3525 1811h0M-9 1835h0M3330 1818h0M3473 1844h0M3508 1840h0M1628 1866h0M3280 1870h0M3370 1877h0M3489 1872h0M1483 1916h0M3087 1905h0M3157 1909h0M3218 1903h0M3384 1907h0M226 1949h0M1496 1948h0M3475 1939h0M211 1979h0M2201 1980h0M2282 1990h0M3379 1989h0M2160 2058h0M2238 2054h0M2273 2061h0M2294 2092h0M2516 2099h0M2561 2098h0M-9 2130h0M2194 2132h0M2271 2141h0M2363 2134h0M2172 2163h0M2555 2171h0M2601 2175h0M2631 2162h0M2175 2196h0M2240 2198h0M2511 2218h0M1924 2243h0M2079 2240h0M2285 2251h0M2318 2256h0M2419 2250h0M2508 2250h0M2561 2250h0M2862 2244h0M2897 2250h0M2941 2246h0M2973 2251h0M2235 2291h0M2257 2268h0M2662 2283h0M2694 2277h0M2839 2268h0M2263 2308h0M2338 2316h0M2413 2304h0M2852 2298h0M1271 2349h0M1767 2354h0M2322 2360h0M2352 2348h0M2448 2358h0M2570 2357h0M2624 2360h0M2662 2359h0M2847 2347h0M2921 2361h0M2954 2362h0M1418 2385h0M1673 2384h0M1718 2394h0M2100 2374h0M2305 2388h0M2466 2395h0M2557 2390h0M2680 2386h0M2894 2395h0M2972 2396h0M255 2429h0M1650 2427h0M1738 2424h0M1811 2418h0M1891 2422h0M2416 2428h0M2740 2427h0M2796 2437h0M2868 2422h0M2953 2432h0M1376 2459h0M2470 2446h0M2512 2454h0M2548 2460h0M2770 2457h0M2818 2461h0M2851 2465h0M1578 2491h0M1609 2500h0M1698 2495h0M1806 2494h0M2656 2496h0M2793 2481h0M2834 2494h0M2871 2510h0M2916 2502h0M2948 2503h0M2981 2507h0M3162 2490h0M1466 2531h0M1498 2536h0M2428 2530h0M2516 2530h0M2939 2538h0M2970 2548h0M3047 2534h0M1361 2564h0M1489 2567h0M2583 2569h0M2909 2575h0M2946 2573h0M2993 2571h0M1158 2612h0M2516 2600h0M2597 2599h0M2812 2611h0M2845 2611h0M2412 2647h0M2443 2638h0M3801 2648h0M3892 2650h0M2429 2676h0M2568 2671h0M2603 2674h0M3053 2684h0M3695 2685h0M3815 2677h0M3873 2683h0M3906 2680h0M441 2717h0M2587 2706h0M2620 2702h0M3932 2716h0M3980 2720h0M2643 2754h0M2681 2749h0M2793 2750h0M2892 2755h0M3920 2746h0M2283 2774h0M2741 2778h0M446 2820h0M2226 2828h0M2258 2830h0M2769 2824h0M2847 2821h0M2929 2824h0M3916 2824h0M3947 2831h0M2354 2858h0M2984 2865h0M3042 2867h0M3259 2869h0M3461 2876h0M3973 2852h0M229 2906h0M2300 2894h0M2340 2889h0M3361 2905h0M3393 2898h0M2198 2937h0M2767 2923h0M3375 2935h0M3471 2930h0M3502 2940h0M3765 2938h0M144 2961h0M2096 2966h0M2254 2964h0M3707 2964h0M3824 2974h0M3872 2974h0M3914 2975h0M336 3010h0M3256 3004h0M12 3055h0M2297 3028h0M3271 3033h0M3971 3045h0M37 3076h0M210 3088h0M299 3086h0M3206 3078h0M191 3126h0M2186 3121h0M33 3158h0M301 3162h0M370 3151h0M3331 3153h0M3557 3158h0M2172 3198h0M3388 3193h0M-5 3228h0M42 3231h0M254 3223h0M292 3233h0M3337 3233h0M3414 3225h0M107 3273h0M139 3264h0M278 3263h0M3430 3293h0M3506 3306h0M20 3342h0M101 3339h0M3399 3343h0M127 3373h0M1176 3370h0M3475 3381h0M3508 3380h0M145 3408h0M187 3408h0M3492 3409h0M1390 3456h0M3547 3440h0M145 3487h0M3579 3489h0M3668 3490h0M3731 3483h0M-10 3528h0M30 3523h0M13 3552h0M142 3558h0M1334 3573h0M3922 3564h0M3955 3568h0M1099 3595h0M1222 3594h0M1275 3599h0M1311 3602h0M3729 3599h0M3765 3597h0M3805 3596h0M938 3628h0M1365 3633h0M887 3668h0M927 3659h0M990 3709h0M1293 3700h0M1375 3708h0M1408 3710h0M3975 3709h0M934 3754h0M966 3756h0M1139 3746h0M3979 3746h0M1450 3820h0M94 3853h0M826 3849h0M1203 3860h0M1541 3864h0M79 3886h0M122 3877h0M845 3895h0M890 3898h0M1020 3895h0M1108 3903h0M1139 3892h0M1389 3901h0M1735 3897h0M965 3924h0M998 3921h0M1158 3935h0M1456 3937h0M1580 3930h0M2937 3937h0M1158 3968h0M1192 3967h0M1431 3965h0M1811 3971h0"/>
<path id="dd41" d="M503 13h0M587 -4h0M666 -6h0M759 -7h0M1407 -4h0M2493 0h0M2572 -10h0M3082 -10h0M3125 2h0M3168 -10h0M3209 9h0M3249 -10h0M3339 -10h0M3378 11h0M3462 -5h0M3507 1h0M3666 -6h0M3711 -8h0M448 32h0M613 32h0M1069 38h0M1119 35h0M2596 28h0M2641 31h0M2686 37h0M2980 40h0M3057 28h0M3101 39h0M3444 36h0M3538 33h0M3877 40h0M3954 46h0M636 71h0M681 69h0M2655 74h0M2788 79h0M3035 67h0M3167 72h0M3287 65h0M3331 74h0M3376 72h0M3466 75h0M3511 69h0M3754 70h0M3799 64h0M3918 74h0M742 116h0M2184 111h0M2550 105h0M2595 101h0M2638 115h0M2885 122h0M2930 114h0M3019 109h0M3151 113h0M3366 120h0M3615 116h0M3781 105h0M3825 115h0M3953 102h0M629 151h0M2577 142h0M2620 157h0M2665 151h0M2755 149h0M2867 165h0M2997 157h0M3041 148h0M3138 156h0M3214 144h0M3417 151h0M3461 155h0M3545 138h0M3722 154h0M3841 157h0M3892 147h0M528 190h0M647 192h0M735 184h0M780 196h0M2476 188h0M3061 187h0M3363 195h0M3408 195h0M3485 199h0M3531 197h0M3618 186h0M3697 191h0M3874 188h0M3979 194h0M-8 223h0M474 230h0M591 219h0M721 226h0M765 238h0M1814 232h0M2112 227h0M2617 227h0M3635 227h0M3799 223h0M3843 220h0M3897 234h0M3941 224h0M18 263h0M390 263h0M442 261h0M697 266h0M1571 264h0M1616 260h0M1700 254h0M1838 270h0M2462 262h0M3523 266h0M3778 262h0M3832 264h0M3941 269h0M-10 303h0M465 299h0M508 311h0M1431 306h0M1534 291h0M1870 301h0M1986 297h0M2068 305h0M2117 297h0M2405 294h0M3414 292h0M3459 294h0M3502 306h0M3805 298h0M3980 291h0M953 337h0M1578 341h0M1622 336h0M1703 337h0M1851 341h0M2264 331h0M2465 333h0M2554 332h0M3397 334h0M3526 344h0M3833 336h0M3923 344h0M3967 334h0M504 370h0M548 377h0M1056 379h0M1549 376h0M1655 366h0M1735 368h0M1780 371h0M1824 376h0M1868 383h0M1910 368h0M2029 375h0M2148 379h0M2318 366h0M2367 363h0M2453 376h0M3250 383h0M3415 374h0M3717 368h0M3899 381h0M3980 377h0M559 421h0M732 412h0M988 419h0M1033 418h0M1503 405h0M1627 401h0M1671 407h0M1715 408h0M1804 416h0M1998 408h0M2344 401h0M3275 420h0M3513 416h0M3557 426h0M3576 386h0M3644 412h0M504 441h0M662 433h0M932 445h0M1098 458h0M1563 445h0M1652 447h0M1734 448h0M1778 452h0M1937 448h0M2013 450h0M2148 448h0M2192 454h0M2279 444h0M2323 440h0M3526 459h0M3601 423h0M3632 455h0M3943 458h0M604 479h0M1984 484h0M2040 486h0M2122 483h0M2166 490h0M3661 489h0M3784 482h0M3978 486h0M515 515h0M636 512h0M2234 515h0M2278 517h0M2322 522h0M3383 525h0M3759 522h0M3851 514h0M3940 511h0M3980 531h0M541 551h0M1069 559h0M2211 553h0M2387 554h0M3443 565h0M3867 555h0M1103 588h0M1180 592h0M2061 584h0M2191 596h0M2234 590h0M2361 589h0M3794 602h0M3838 592h0M3926 601h0M3980 609h0M447 626h0M530 615h0M779 636h0M1122 628h0M1166 635h0M1754 638h0M2139 638h0M2218 632h0M2268 618h0M2438 624h0M2725 626h0M3026 633h0M3572 626h0M3700 628h0M3745 621h0M3872 622h0M1138 670h0M1183 676h0M1810 671h0M2076 663h0M2246 667h0M3496 671h0M3759 663h0M709 708h0M1154 712h0M1198 718h0M1241 708h0M1285 701h0M1630 707h0M1752 705h0M2096 702h0M2141 700h0M3661 693h0M3705 702h0M3787 698h0M3875 695h0M3977 659h0M507 745h0M1127 749h0M1802 742h0M1863 744h0M2117 740h0M2192 743h0M3552 738h0M3631 726h0M3675 736h0M3805 738h0M3890 737h0M3980 737h0M1246 778h0M1541 781h0M1584 770h0M1628 769h0M1673 772h0M2170 781h0M2215 781h0M3528 777h0M3738 772h0M3913 776h0M1186 817h0M1520 819h0M1564 819h0M1606 808h0M1650 810h0M1768 811h0M1813 815h0M1938 812h0M3590 805h0M3678 797h0M3720 813h0M3764 808h0M3887 817h0M3935 815h0M1505 860h0M1960 852h0M2005 853h0M2101 851h0M2946 865h0M3428 856h0M3607 845h0M3654 847h0M3958 854h0M717 886h0M1257 882h0M1480 896h0M1561 885h0M2067 880h0M3507 896h0M3584 885h0M3629 884h0M3673 888h0M3847 897h0M1497 938h0M1656 931h0M3403 939h0M3522 938h0M3565 926h0M3870 936h0M3957 932h0M845 958h0M1256 961h0M1762 965h0M1850 968h0M3382 979h0M3590 964h0M3681 975h0M3722 955h0M3438 1007h0M3483 1002h0M3578 1007h0M3733 998h0M3778 997h0M-10 1044h0M32 1029h0M125 1035h0M203 1037h0M1260 1038h0M2911 1032h0M3210 1044h0M3544 1036h0M3586 1052h0M3624 1028h0M55 1073h0M491 1083h0M1282 1076h0M1657 1060h0M1700 1070h0M2940 1066h0M2985 1067h0M3517 1072h0M3741 1065h0M125 1108h0M200 1103h0M617 1095h0M968 1103h0M1053 1102h0M1228 1104h0M2961 1105h0M3006 1107h0M3256 1103h0M3300 1107h0M3371 1107h0M3414 1116h0M3454 1097h0M3496 1111h0M3584 1102h0M3640 1107h0M3895 1107h0M578 1152h0M1081 1137h0M1158 1141h0M1327 1153h0M2009 1157h0M2841 1109h0M2982 1145h0M3275 1144h0M678 1186h0M923 1180h0M1057 1175h0M1181 1180h0M1225 1183h0M1350 1192h0M1394 1188h0M1779 1185h0M2879 1189h0M3008 1180h0M3499 1179h0M3542 1172h0M3631 1178h0M3675 1179h0M3763 1177h0M703 1231h0M901 1222h0M946 1218h0M990 1224h0M1418 1225h0M2017 1217h0M2980 1215h0M3025 1222h0M3063 1200h0M3273 1204h0M3471 1214h0M3607 1216h0M3652 1217h0M3748 1219h0M3836 1226h0M1053 1252h0M1227 1242h0M1388 1258h0M2951 1247h0M3173 1242h0M3224 1249h0M3334 1241h0M3412 1252h0M3489 1255h0M3581 1253h0M3894 1244h0M3933 1267h0M901 1295h0M1209 1282h0M1256 1278h0M1345 1269h0M1921 1283h0M1965 1292h0M2850 1302h0M2981 1280h0M3101 1279h0M3149 1280h0M3271 1278h0M3448 1285h0M1105 1325h0M1227 1322h0M1272 1320h0M1357 1329h0M1443 1329h0M1851 1327h0M1906 1325h0M3004 1319h0M3170 1320h0M3215 1321h0M3663 1326h0M3762 1323h0M3807 1326h0M3853 1325h0M3930 1320h0M1497 1357h0M1803 1371h0M3059 1358h0M3489 1364h0M3659 1371h0M1274 1399h0M1906 1397h0M2068 1398h0M3214 1396h0M3258 1399h0M3499 1408h0M3546 1408h0M3593 1402h0M3742 1390h0M1612 1439h0M1745 1439h0M3269 1442h0M3314 1449h0M3355 1431h0M3403 1429h0M3522 1446h0M3600 1447h0M-10 1478h0M1480 1465h0M1568 1453h0M1770 1478h0M3097 1458h0M3175 1474h0M16 1514h0M97 1522h0M1423 1517h0M1556 1499h0M1800 1511h0M3697 1512h0M1308 1542h0M1687 1545h0M1755 1572h0M3154 1600h0M3608 1585h0M3730 1584h0M3735 1540h0M3774 1578h0M1734 1620h0M1778 1611h0M3264 1611h0M3627 1625h0M3673 1609h0M3759 1620h0M1756 1659h0M3621 1670h0M3663 1653h0M3704 1669h0M3555 1695h0M1585 1732h0M1634 1743h0M1675 1727h0M1752 1735h0M3109 1727h0M3274 1731h0M3443 1732h0M3531 1733h0M3576 1735h0M3664 1733h0M3774 1744h0M33 1759h0M415 1757h0M455 1777h0M497 1761h0M1696 1767h0M1786 1763h0M3640 1770h0M494 1804h0M1491 1799h0M1536 1801h0M1784 1807h0M3189 1793h0M3573 1813h0M460 1833h0M1423 1835h0M1602 1837h0M1719 1843h0M1859 1838h0M94 1863h0M545 1875h0M1407 1881h0M1542 1873h0M1667 1867h0M1793 1878h0M2389 1866h0M3409 1877h0M3616 1882h0M-9 1910h0M70 1902h0M202 1916h0M1446 1906h0M1566 1918h0M1606 1897h0M1681 1910h0M1725 1916h0M1861 1916h0M3039 1910h0M3459 1896h0M3502 1909h0M3580 1909h0M3687 1909h0M3901 1911h0M1424 1945h0M1538 1953h0M2215 1944h0M2343 1943h0M2387 1945h0M2511 1947h0M2811 1941h0M3015 1953h0M3059 1949h0M3103 1941h0M3148 1946h0M3511 1952h0M3555 1946h0M3659 1944h0M3821 1946h0M29 1982h0M73 1982h0M1510 1989h0M2244 1978h0M2408 1986h0M2538 1982h0M2583 1985h0M2962 1980h0M3004 1997h0M3121 1982h0M3297 1981h0M3431 1998h0M3498 1994h0M3590 1973h0M3634 1981h0M3893 1984h0M-4 2018h0M51 2021h0M96 2021h0M1789 2017h0M2174 2019h0M2218 2015h0M2382 2023h0M2511 2017h0M2556 2023h0M2676 2019h0M2967 2024h0M3047 2021h0M3150 2015h0M3226 2012h0M3269 2022h0M3314 2022h0M3359 2023h0M35 2062h0M120 2059h0M2461 2056h0M2505 2062h0M2579 2060h0M2745 2060h0M2840 2056h0M3080 2051h0M3124 2050h0M3332 2063h0M3424 2044h0M3466 2061h0M3939 2048h0M46 2106h0M2088 2096h0M2430 2087h0M2600 2099h0M2646 2090h0M2811 2090h0M3193 2091h0M3401 2083h0M3443 2098h0M3488 2099h0M3824 2085h0M1182 2127h0M2107 2136h0M2401 2135h0M2495 2138h0M2657 2133h0M2730 2123h0M2775 2143h0M2819 2134h0M2944 2132h0M3001 2134h0M3168 2128h0M3339 2122h0M3544 2131h0M3598 2138h0M53 2169h0M225 2164h0M1162 2167h0M1997 2171h0M2089 2177h0M2695 2156h0M2738 2167h0M2811 2178h0M2853 2163h0M2892 2141h0M2924 2172h0M2971 2168h0M3015 2177h0M3056 2164h0M3100 2169h0M3144 2165h0M3188 2168h0M3276 2178h0M3361 2162h0M-10 2211h0M80 2204h0M124 2209h0M214 2207h0M1183 2206h0M1228 2204h0M2029 2202h0M2662 2186h0M2834 2217h0M3126 2205h0M3241 2213h0M3383 2201h0M192 2246h0M237 2245h0M281 2243h0M358 2236h0M446 2248h0M490 2246h0M1163 2246h0M1208 2243h0M1582 2253h0M1625 2240h0M1837 2240h0M1884 2240h0M1964 2243h0M2040 2246h0M2144 2219h0M2234 2237h0M2717 2245h0M3056 2246h0M3100 2241h0M3319 2241h0M3363 2240h0M3476 2239h0M79 2270h0M256 2285h0M422 2286h0M1216 2287h0M1258 2273h0M1725 2282h0M1770 2279h0M1907 2278h0M1996 2274h0M2073 2279h0M2158 2267h0M2795 2283h0M2990 2286h0M3079 2284h0M3296 2280h0M3341 2280h0M15 2315h0M60 2314h0M104 2307h0M325 2321h0M1248 2317h0M1335 2308h0M1414 2318h0M1705 2322h0M1750 2319h0M1794 2326h0M1884 2316h0M1933 2315h0M2045 2321h0M2118 2298h0M2159 2315h0M3058 2323h0M3142 2319h0M-10 2352h0M113 2351h0M168 2361h0M249 2351h0M1140 2344h0M1183 2355h0M1227 2356h0M1654 2350h0M2123 2343h0M2199 2359h0M2413 2343h0M2532 2362h0M2758 2363h0M2992 2363h0M54 2395h0M134 2390h0M1151 2387h0M1302 2388h0M1517 2382h0M1635 2391h0M1796 2381h0M2002 2381h0M2045 2367h0M2137 2385h0M2258 2382h0M3098 2381h0M3223 2391h0M28 2432h0M87 2425h0M1137 2429h0M1181 2420h0M1226 2421h0M1270 2432h0M1353 2417h0M1482 2410h0M1524 2426h0M1688 2420h0M1849 2421h0M2031 2415h0M2073 2401h0M2156 2426h0M2201 2425h0M2246 2425h0M2905 2433h0M2994 2427h0M-2 2465h0M60 2463h0M194 2460h0M1148 2472h0M1239 2464h0M1333 2457h0M1475 2454h0M1711 2458h0M1778 2443h0M1821 2456h0M1917 2451h0M2008 2453h0M2068 2448h0M2179 2464h0M2299 2447h0M2344 2448h0M2726 2464h0M3137 2460h0M3181 2456h0M34 2500h0M80 2503h0M170 2498h0M257 2485h0M1221 2505h0M1312 2496h0M1357 2494h0M1402 2491h0M1450 2491h0M1845 2494h0M1890 2487h0M1984 2490h0M2281 2488h0M2326 2488h0M2412 2486h0M2573 2489h0M3029 2496h0M3253 2489h0M99 2543h0M142 2533h0M272 2527h0M1292 2536h0M1381 2531h0M1426 2529h0M1537 2537h0M1627 2535h0M1714 2530h0M1759 2527h0M1873 2528h0M1917 2530h0M2015 2534h0M2059 2525h0M2259 2527h0M2304 2527h0M2387 2523h0M2477 2526h0M2840 2532h0M2900 2538h0M3086 2533h0M33 2579h0M206 2581h0M1173 2573h0M1318 2574h0M1405 2569h0M1450 2566h0M1566 2571h0M1684 2564h0M1766 2572h0M1810 2565h0M1941 2568h0M1985 2567h0M2282 2565h0M2329 2563h0M2406 2564h0M2450 2562h0M2545 2574h0M2783 2563h0M3069 2574h0M3114 2569h0M3203 2561h0M3589 2577h0M3670 2569h0M3761 2567h0M3850 2578h0M60 2614h0M1287 2606h0M1374 2601h0M1454 2611h0M1752 2614h0M1829 2605h0M1875 2608h0M2472 2601h0M2972 2604h0M3017 2602h0M3743 2608h0M3823 2616h0M3871 2617h0M3916 2610h0M207 2632h0M425 2639h0M1311 2643h0M1401 2641h0M1850 2645h0M1943 2645h0M1988 2644h0M2284 2640h0M2329 2641h0M2374 2641h0M2589 2637h0M3122 2647h0M3734 2652h0M3932 2651h0M405 2679h0M1113 2681h0M1456 2682h0M1499 2672h0M1752 2670h0M1872 2683h0M1930 2688h0M2145 2682h0M2469 2667h0M3015 2682h0M3152 2683h0M3657 2678h0M3773 2675h0M33 2716h0M332 2704h0M513 2713h0M884 2714h0M1486 2715h0M1780 2709h0M1854 2724h0M1898 2719h0M2116 2721h0M2190 2707h0M2322 2714h0M2365 2705h0M2409 2710h0M2732 2701h0M3038 2720h0M3082 2711h0M3677 2719h0M3800 2713h0M60 2753h0M223 2749h0M406 2745h0M481 2743h0M860 2752h0M905 2754h0M1110 2752h0M1917 2758h0M1960 2748h0M2142 2756h0M2217 2753h0M2351 2748h0M2608 2739h0M3735 2756h0M3780 2753h0M3859 2752h0M-10 2786h0M35 2790h0M112 2786h0M201 2788h0M293 2784h0M428 2786h0M1018 2794h0M1947 2790h0M2038 2785h0M2205 2795h0M2370 2789h0M2703 2784h0M2779 2786h0M2822 2776h0M2910 2790h0M2997 2798h0M3125 2789h0M3676 2785h0M3766 2796h0M-1 2832h0M47 2833h0M91 2826h0M316 2823h0M1874 2820h0M1918 2825h0M1964 2830h0M2008 2819h0M2340 2822h0M2685 2825h0M2731 2818h0M2885 2827h0M2967 2831h0M3012 2840h0M3099 2825h0M3230 2844h0M3402 2833h0M3479 2842h0M3698 2824h0M248 2872h0M340 2861h0M808 2860h0M928 2861h0M1804 2857h0M1937 2865h0M1991 2864h0M2035 2855h0M2628 2851h0M2713 2860h0M2789 2861h0M2833 2857h0M2913 2861h0M3422 2872h0M3764 2849h0M3807 2862h0M56 2893h0M392 2893h0M945 2902h0M988 2890h0M1782 2896h0M1877 2892h0M1920 2906h0M1964 2900h0M2009 2905h0M2052 2895h0M2141 2897h0M2185 2901h0M2379 2887h0M2700 2902h0M2880 2900h0M2924 2904h0M3013 2893h0M3057 2902h0M3101 2910h0M3696 2891h0M3741 2888h0M3965 2890h0M-10 2927h0M34 2932h0M172 2934h0M338 2933h0M415 2935h0M460 2934h0M1019 2923h0M1890 2939h0M2028 2945h0M2280 2935h0M2324 2925h0M2730 2935h0M3066 2946h0M3683 2934h0M180 2978h0M224 2970h0M318 2973h0M363 2969h0M483 2973h0M528 2972h0M572 2972h0M953 2974h0M1992 2970h0M2060 2977h0M2179 2977h0M2311 2968h0M3026 2967h0M3109 2955h0M3671 2977h0M80 3008h0M248 3012h0M293 3010h0M381 3010h0M460 3012h0M550 3011h0M595 3011h0M1980 3013h0M2023 3002h0M3098 2999h0M3410 3010h0M3455 3008h0M362 3050h0M406 3046h0M618 3049h0M1035 3042h0M1406 3053h0M1923 3067h0M1966 3055h0M2330 3048h0M338 3088h0M384 3089h0M1854 3088h0M1966 3104h0M2105 3100h0M2156 3096h0M324 3130h0M403 3130h0M450 3123h0M1128 3116h0M1922 3113h0M1982 3146h0M2012 3114h0M2060 3102h0M116 3152h0M469 3163h0M1310 3146h0M1852 3161h0M2040 3147h0M2124 3155h0M3165 3150h0M51 3193h0M281 3195h0M1215 3190h0M1331 3187h0M1375 3180h0M1415 3200h0M2133 3199h0M2211 3199h0M166 3228h0M211 3225h0M375 3232h0M420 3235h0M1097 3227h0M1141 3229h0M1228 3234h0M1347 3233h0M2105 3234h0M3299 3229h0M317 3265h0M440 3277h0M1316 3265h0M2891 3261h0M217 3300h0M262 3298h0M306 3309h0M1195 3300h0M1320 3310h0M186 3335h0M230 3343h0M1117 3332h0M1205 3344h0M1284 3342h0M3317 3344h0M3361 3336h0M-10 3367h0M337 3377h0M1061 3373h0M1243 3366h0M1317 3373h0M1390 3366h0M1453 3369h0M3169 3385h0M3382 3378h0M3427 3376h0M104 3405h0M228 3403h0M317 3417h0M1031 3405h0M1165 3407h0M1293 3418h0M1420 3399h0M1494 3401h0M2438 3416h0M3305 3415h0M3350 3408h0M3453 3413h0M210 3444h0M1053 3444h0M1095 3458h0M1137 3443h0M1264 3452h0M1522 3436h0M3211 3449h0M3465 3456h0M3508 3444h0M185 3484h0M230 3484h0M277 3486h0M983 3480h0M3434 3488h0M3538 3478h0M928 3530h0M1005 3520h0M1050 3519h0M1316 3526h0M1360 3532h0M3555 3519h0M3599 3522h0M3943 3531h0M3980 3507h0M277 3560h0M871 3558h0M1296 3566h0M2601 3573h0M3181 3572h0M3488 3555h0M3700 3573h0M3883 3561h0M211 3587h0M254 3599h0M843 3593h0M887 3602h0M962 3598h0M3906 3599h0M191 3627h0M819 3630h0M1164 3638h0M1404 3630h0M2647 3640h0M3528 3635h0M3700 3624h0M3746 3633h0M3826 3629h0M215 3665h0M303 3659h0M546 3671h0M634 3671h0M753 3667h0M798 3670h0M843 3668h0M3059 3671h0M3683 3666h0M3796 3662h0M3849 3667h0M2859 3714h0M3656 3702h0M3734 3700h0M3823 3704h0M3869 3710h0M1224 3735h0M1439 3752h0M2775 3727h0M3680 3740h0M3813 3748h0M742 3781h0M1537 3786h0M1614 3796h0M2800 3764h0M2843 3779h0M2978 3780h0M3877 3776h0M111 3815h0M715 3817h0M805 3816h0M1411 3824h0M1525 3829h0M1568 3818h0M1660 3829h0M2782 3805h0M2959 3821h0M690 3854h0M788 3858h0M1500 3866h0M1580 3864h0M1630 3862h0M2855 3854h0M2899 3863h0M3021 3858h0M3066 3855h0M3977 3848h0M758 3891h0M1308 3881h0M1607 3901h0M1775 3889h0M1821 3893h0M1937 3891h0M1986 3894h0M2696 3890h0M2740 3900h0M2959 3884h0M3002 3898h0M3942 3880h0M142 3938h0M689 3931h0M1244 3938h0M1325 3923h0M1415 3930h0M1664 3940h0M1794 3930h0M1837 3942h0M1878 3923h0M1922 3933h0M2813 3934h0M2893 3940h0M3024 3937h0M634 3970h0M1276 3977h0M1469 3980h0M1514 3978h0M1739 3980h0M1906 3976h0M1980 3980h0M2069 3976h0M2794 3975h0M3123 3965h0M3165 3980h0"/>
<path id="dd40" d="M1274 0h0M1477 2h0M2616 -5h0M2662 -5h0M2998 5h0M3795 16h0M3857 1h0M3978 13h0M528 47h0M710 38h0M2430 45h0M2509 40h0M3019 31h0M3145 39h0M3352 40h0M3405 40h0M3484 40h0M3610 49h0M3737 21h0M3768 34h0M3916 35h0M809 75h0M2616 67h0M2705 78h0M2915 66h0M3553 82h0M3633 81h0M3666 84h0M3836 77h0M3980 74h0M2267 113h0M2766 112h0M2811 118h0M2847 113h0M3063 115h0M3189 114h0M3238 114h0M3654 117h0M3911 114h0M806 160h0M2705 153h0M2834 143h0M2913 149h0M3252 151h0M3378 159h0M3770 146h0M3802 155h0M490 194h0M695 192h0M1458 191h0M2602 191h0M2639 193h0M3575 195h0M3736 190h0M3817 188h0M513 225h0M548 224h0M1020 224h0M1523 216h0M2275 220h0M2417 227h0M2579 221h0M2908 222h0M3386 227h0M3422 231h0M3454 224h0M3509 229h0M3597 219h0M3674 222h0M488 267h0M609 267h0M1536 248h0M1663 263h0M1740 261h0M1914 261h0M2302 255h0M2844 249h0M3400 256h0M3739 266h0M3871 269h0M972 303h0M1571 303h0M1603 301h0M1725 290h0M1758 289h0M2200 294h0M2277 295h0M3882 300h0M3937 307h0M992 342h0M1511 322h0M1539 338h0M2096 332h0M2302 329h0M3487 346h0M3609 336h0M679 376h0M758 368h0M1016 383h0M1469 367h0M1693 375h0M1990 370h0M2066 364h0M3463 368h0M3658 375h0M3938 382h0M481 409h0M522 406h0M598 416h0M630 410h0M949 410h0M1541 414h0M1842 412h0M1925 411h0M2076 396h0M2304 406h0M2774 382h0M3402 411h0M3480 396h0M893 446h0M971 454h0M1523 443h0M1850 444h0M2081 428h0M2110 442h0M3246 457h0M700 487h0M1043 480h0M1582 484h0M2265 481h0M3824 485h0M3871 480h0M3912 482h0M2049 523h0M2080 506h0M2144 521h0M3679 525h0M579 559h0M612 560h0M2007 558h0M2039 553h0M2303 555h0M3697 552h0M3740 555h0M3825 555h0M556 587h0M2323 581h0M3755 584h0M1205 633h0M2178 633h0M3470 643h0M3790 640h0M3821 630h0M3911 637h0M3949 632h0M1643 667h0M1701 662h0M1732 672h0M1771 672h0M2114 668h0M2194 662h0M3286 658h0M3688 665h0M3809 667h0M3980 698h0M2224 699h0M2261 703h0M3606 696h0M3744 699h0M3913 705h0M712 747h0M1227 744h0M1259 741h0M1606 738h0M1653 739h0M2155 737h0M2999 748h0M3087 746h0M3593 734h0M3719 738h0M655 772h0M688 770h0M1794 782h0M1914 782h0M2132 776h0M3575 769h0M3653 767h0M3780 773h0M1732 824h0M2156 829h0M2232 816h0M3015 818h0M3846 814h0M1542 851h0M1585 851h0M2139 857h0M3489 852h0M3569 850h0M3737 856h0M3874 854h0M1520 896h0M2983 876h0M3016 895h0M3754 884h0M736 920h0M783 923h0M1237 920h0M1577 920h0M1694 924h0M1831 934h0M2169 921h0M3483 927h0M3792 922h0M3915 926h0M28 956h0M1094 957h0M1724 955h0M2156 951h0M3497 967h0M12 995h0M1156 991h0M1666 995h0M3694 1011h0M2795 1027h0M3325 1045h0M3464 1036h0M3666 1028h0M147 1066h0M452 1080h0M2901 1072h0M3023 1073h0M3328 1080h0M3356 1063h0M3478 1066h0M3615 1078h0M162 1096h0M520 1109h0M552 1103h0M634 1130h0M682 1133h0M1266 1111h0M3044 1104h0M3335 1122h0M3678 1098h0M11 1146h0M583 1114h0M656 1154h0M1119 1140h0M1289 1150h0M2893 1146h0M3020 1143h0M3389 1146h0M3448 1135h0M3479 1146h0M3650 1145h0M1142 1177h0M1300 1181h0M1732 1190h0M1989 1191h0M3044 1166h0M3080 1164h0M3249 1174h0M3460 1177h0M3946 1185h0M740 1219h0M772 1216h0M1115 1212h0M1201 1213h0M1251 1211h0M1316 1210h0M1284 1209h0M3312 1209h0M3358 1210h0M3390 1220h0M3520 1222h0M807 1248h0M1014 1255h0M1144 1254h0M1266 1241h0M1342 1230h0M1915 1244h0M1950 1257h0M1988 1262h0M3013 1259h0M3045 1255h0M3126 1250h0M3294 1245h0M3450 1246h0M3541 1248h0M3708 1265h0M3858 1258h0M1009 1288h0M1042 1290h0M1157 1289h0M1462 1295h0M3027 1288h0M3060 1286h0M3233 1286h0M3354 1274h0M3563 1286h0M3645 1291h0M3685 1294h0M1319 1328h0M3042 1323h0M3624 1325h0M3892 1328h0M1334 1360h0M1535 1351h0M3527 1360h0M3731 1352h0M3914 1356h0M3952 1352h0M1357 1388h0M1510 1393h0M1695 1399h0M1729 1404h0M1823 1404h0M3461 1398h0M3632 1398h0M3673 1407h0M3704 1399h0M3805 1393h0M1531 1418h0M1564 1414h0M1708 1429h0M3111 1422h0M3695 1433h0M1808 1473h0M3289 1478h0M3343 1475h0M3715 1467h0M1631 1507h0M3235 1508h0M3449 1510h0M3481 1505h0M3658 1506h0M3630 1554h0M3660 1539h0M49 1593h0M3567 1578h0M3658 1573h0M73 1615h0M1794 1664h0M1602 1697h0M1690 1691h0M3258 1695h0M3692 1706h0M3735 1743h0M-9 1757h0M121 1778h0M1603 1767h0M1650 1778h0M1824 1755h0M3713 1768h0M3745 1774h0M3808 1764h0M1448 1805h0M1620 1795h0M1675 1799h0M1711 1804h0M1746 1816h0M3614 1809h0M3739 1807h0M25 1831h0M124 1837h0M1562 1832h0M1772 1845h0M3543 1838h0M3601 1839h0M3633 1846h0M50 1869h0M1706 1880h0M2345 1869h0M3147 1879h0M3223 1870h0M31 1904h0M1642 1912h0M2193 1913h0M2235 1911h0M2276 1912h0M2537 1907h0M2622 1911h0M3124 1908h0M3541 1910h0M3643 1909h0M3725 1908h0M12 1946h0M1578 1955h0M1709 1951h0M2254 1938h0M2770 1944h0M3444 1951h0M3911 1950h0M249 1973h0M1687 1980h0M2461 1973h0M2493 1982h0M2667 1982h0M2913 1991h0M3167 1980h0M3464 1977h0M2300 2017h0M2595 2022h0M2856 2021h0M2929 2019h0M3397 2017h0M3490 2032h0M74 2054h0M2403 2059h0M2542 2072h0M2666 2057h0M2700 2056h0M2878 2047h0M2895 2075h0M3260 2059h0M3371 2060h0M4 2099h0M496 2098h0M2263 2104h0M2684 2085h0M2850 2094h0M2881 2104h0M2974 2107h0M3279 2101h0M3311 2096h0M3362 2091h0M2019 2139h0M2069 2144h0M2619 2132h0M2692 2116h0M2914 2108h0M3464 2130h0M3505 2134h0M477 2171h0M2045 2165h0M1145 2212h0M2067 2209h0M2105 2213h0M2950 2200h0M3035 2211h0M3164 2201h0M3204 2203h0M3421 2197h0M3539 2213h0M9 2245h0M1252 2234h0M1746 2249h0M2002 2235h0M2812 2249h0M3184 2228h0M3402 2236h0M136 2284h0M215 2277h0M1177 2283h0M1313 2272h0M1687 2287h0M1946 2278h0M2034 2284h0M2286 2284h0M2875 2274h0M186 2326h0M278 2317h0M1157 2309h0M1205 2324h0M1667 2314h0M1970 2302h0M2005 2312h0M2083 2316h0M3104 2313h0M3284 2317h0M3709 2313h0M74 2354h0M210 2354h0M1403 2356h0M1694 2359h0M1727 2354h0M1823 2353h0M1900 2351h0M1932 2353h0M2161 2354h0M2289 2359h0M3034 2356h0M3091 2343h0M3122 2352h0M3155 2355h0M3245 2360h0M93 2384h0M198 2386h0M231 2385h0M1205 2388h0M1382 2382h0M1450 2387h0M1747 2380h0M1834 2385h0M1875 2392h0M2176 2392h0M2221 2392h0M2344 2386h0M3059 2377h0M-10 2426h0M380 2429h0M1042 2415h0M1309 2426h0M1444 2420h0M1766 2406h0M2283 2412h0M2322 2416h0M2448 2422h0M3033 2432h0M3201 2423h0M1513 2463h0M1552 2456h0M1749 2468h0M1865 2457h0M1961 2459h0M2218 2460h0M2380 2463h0M2435 2455h0M3016 2460h0M3095 2457h0M1642 2494h0M1731 2495h0M1773 2491h0M2125 2505h0M2204 2494h0M2364 2492h0M2449 2499h0M3068 2499h0M3769 2500h0M16 2538h0M361 2541h0M1156 2538h0M1247 2533h0M1799 2527h0M1834 2534h0M2129 2538h0M3742 2532h0M3962 2568h0M80 2578h0M121 2575h0M459 2576h0M1526 2575h0M1606 2567h0M1727 2567h0M1898 2575h0M2367 2567h0M2744 2566h0M3031 2566h0M15 2616h0M178 2608h0M237 2606h0M404 2606h0M1416 2606h0M1594 2598h0M1790 2611h0M2048 2607h0M2390 2599h0M2565 2607h0M3056 2610h0M35 2644h0M1518 2639h0M1568 2641h0M1724 2643h0M1779 2642h0M1811 2640h0M2626 2648h0M2820 2643h0M2856 2642h0M2910 2644h0M2951 2645h0M3633 2648h0M3770 2637h0M11 2678h0M93 2685h0M870 2678h0M1417 2677h0M1714 2678h0M1792 2672h0M2338 2678h0M2393 2674h0M2764 2677h0M2798 2681h0M3109 2683h0M3728 2690h0M81 2716h0M1128 2718h0M1184 2722h0M1441 2719h0M1816 2723h0M1962 2710h0M2034 2713h0M2154 2720h0M2492 2711h0M2696 2715h0M2864 2705h0M2943 2714h0M2999 2718h0M3715 2721h0M21 2753h0M528 2748h0M1795 2748h0M2067 2760h0M2180 2763h0M2256 2754h0M2303 2748h0M2434 2745h0M3060 2752h0M466 2782h0M881 2785h0M1061 2784h0M1888 2784h0M1985 2787h0M2120 2788h0M2409 2789h0M2577 2784h0M2610 2779h0M2665 2778h0M3036 2797h0M3715 2789h0M3849 2790h0M2053 2821h0M2088 2834h0M2184 2827h0M3441 2835h0M3737 2822h0M3794 2824h0M-8 2874h0M24 2864h0M165 2863h0M379 2856h0M418 2862h0M846 2855h0M967 2858h0M1898 2859h0M2073 2863h0M2121 2864h0M2243 2860h0M2276 2858h0M2751 2852h0M2872 2863h0M3503 2873h0M3674 2859h0M3717 2858h0M3849 2861h0M3937 2863h0M17 2897h0M273 2903h0M353 2898h0M1744 2895h0M2223 2893h0M2840 2898h0M3275 2897h0M3317 2902h0M3483 2900h0M128 2933h0M211 2933h0M252 2937h0M377 2929h0M505 2937h0M887 2938h0M1854 2923h0M1984 2933h0M2690 2939h0M2786 2949h0M3029 2928h0M401 2977h0M867 2964h0M1955 2983h0M2216 2965h0M2693 2972h0M2757 2963h0M3062 2984h0M3272 2975h0M29 3005h0M136 2998h0M165 3014h0M2100 2998h0M2194 3012h0M2325 3009h0M3784 2974h0M445 3048h0M2051 3055h0M2106 3030h0M1996 3079h0M2081 3069h0M3623 3078h0M137 3119h0M286 3121h0M361 3119h0M1840 3124h0M2156 3134h0M210 3157h0M398 3168h0M2091 3178h0M2161 3167h0M2962 3167h0M324 3185h0M399 3202h0M1288 3178h0M2056 3182h0M3268 3180h0M2067 3239h0M1200 3261h0M1354 3272h0M1421 3261h0M2085 3267h0M343 3296h0M375 3305h0M1094 3297h0M1138 3300h0M1479 3297h0M1511 3288h0M3338 3305h0M1385 3328h0M1462 3329h0M3145 3340h0M204 3372h0M253 3373h0M1100 3374h0M1279 3381h0M3287 3381h0M3344 3371h0M398 3417h0M1122 3407h0M1457 3410h0M3147 3418h0M3401 3412h0M3827 3418h0M3912 3410h0M294 3449h0M1176 3447h0M1357 3451h0M315 3482h0M1067 3484h0M1120 3487h0M1368 3485h0M3495 3480h0M291 3522h0M1232 3529h0M186 3556h0M238 3559h0M316 3555h0M910 3564h0M942 3566h0M2188 3565h0M924 3594h0M1355 3601h0M238 3634h0M314 3622h0M1246 3618h0M1290 3628h0M1333 3626h0M1343 3657h0M2579 3667h0M2655 3680h0M3004 3672h0M3722 3663h0M3758 3670h0M3893 3676h0M777 3711h0M810 3707h0M2993 3703h0M767 3747h0M799 3739h0M1267 3737h0M1576 3780h0M2960 3746h0M3852 3746h0M780 3786h0M1420 3786h0M1456 3787h0M2507 3774h0M2727 3780h0M2761 3769h0M3698 3777h0M3962 3776h0M73 3821h0M844 3815h0M1347 3818h0M1480 3833h0M1604 3834h0M2864 3815h0M3939 3833h0M3978 3805h0M1283 3852h0M1681 3862h0M1708 3844h0M2936 3853h0M2982 3853h0M1567 3900h0M1704 3886h0M783 3930h0M1205 3934h0M1287 3934h0M1492 3939h0M1525 3940h0M1960 3923h0M2852 3933h0M2975 3927h0M211 3970h0M715 3960h0M757 3969h0M883 3980h0M1350 3979h0M1593 3978h0M1778 3973h0M1944 3965h0M2917 3971h0M2959 3969h0"/>
<path id="dd51" d="M-7 3h0M1052 -7h0M1099 -5h0M1147 -6h0M1236 -10h0M1361 -7h0M2097 -8h0M2153 -10h0M2207 0h0M2251 -10h0M2295 -1h0M2372 -7h0M3418 -10h0M3583 -2h0M3625 12h0M569 39h0M1234 35h0M1333 29h0M1378 35h0M2348 37h0M2468 37h0M2546 26h0M3315 30h0M3654 47h0M3700 38h0M3833 34h0M464 74h0M848 76h0M1046 77h0M1143 73h0M1258 73h0M1348 72h0M1395 77h0M1440 72h0M2116 70h0M2161 72h0M2239 75h0M2284 74h0M2330 79h0M2375 73h0M2447 82h0M2492 75h0M2570 64h0M2833 77h0M3123 78h0M3421 75h0M1322 114h0M1474 102h0M1500 138h0M2228 119h0M2305 117h0M2507 117h0M3103 121h0M3277 109h0M3321 118h0M3489 118h0M3692 112h0M3737 112h0M675 156h0M1230 158h0M1395 147h0M1454 152h0M1496 183h0M1852 147h0M2160 149h0M2275 151h0M2406 154h0M2451 151h0M2799 158h0M3291 151h0M3506 160h0M3588 152h0M3673 153h0M3936 144h0M3980 139h0M1000 189h0M1113 191h0M1158 195h0M1420 184h0M1826 188h0M1870 188h0M2092 187h0M2137 190h0M2226 194h0M2344 185h0M2387 199h0M2431 191h0M2520 176h0M2563 185h0M2684 192h0M2728 185h0M2933 182h0M3106 188h0M3185 181h0M3231 186h0M3275 193h0M3320 186h0M420 222h0M1306 221h0M1395 222h0M1440 225h0M1647 227h0M1729 219h0M1770 236h0M1859 231h0M2195 231h0M2314 218h0M2533 219h0M2866 217h0M3128 228h0M3205 222h0M3304 228h0M3348 237h0M3980 246h0M954 269h0M1031 261h0M1165 262h0M1326 262h0M1499 262h0M1796 286h0M1952 268h0M2087 264h0M2143 260h0M2263 258h0M2385 250h0M2508 256h0M2560 255h0M2889 256h0M3230 258h0M3479 254h0M35 304h0M1011 301h0M1476 306h0M1687 296h0M2162 301h0M2238 295h0M2316 291h0M2360 287h0M2579 295h0M2623 296h0M2839 287h0M3154 310h0M3293 302h0M3338 295h0M64 339h0M441 337h0M1031 342h0M1075 338h0M1754 328h0M1799 331h0M1963 337h0M2008 336h0M2135 337h0M2212 331h0M2600 335h0M2775 344h0M2815 324h0M2859 327h0M3109 336h0M3189 337h0M3234 341h0M3278 347h0M3321 337h0M30 376h0M117 373h0M459 378h0M974 377h0M1101 379h0M1430 368h0M1507 361h0M1953 380h0M2105 370h0M2193 371h0M2237 367h0M2411 361h0M2529 377h0M2574 372h0M2699 368h0M2736 393h0M2811 371h0M2880 366h0M3371 384h0M1078 418h0M1124 419h0M1293 421h0M1367 415h0M1412 409h0M1458 404h0M1760 411h0M2043 418h0M2177 413h0M2221 413h0M2265 402h0M2391 401h0M2433 415h0M2515 420h0M2560 415h0M2650 408h0M2772 421h0M3318 409h0M3733 410h0M3958 416h0M75 441h0M170 445h0M748 454h0M1012 457h0M1142 461h0M1484 446h0M1608 441h0M2236 455h0M2369 439h0M2411 454h0M2685 456h0M2731 437h0M2806 449h0M3334 451h0M441 484h0M1458 485h0M1535 480h0M2304 481h0M2472 485h0M2549 488h0M2638 484h0M2679 502h0M2722 480h0M2986 486h0M3151 486h0M470 518h0M592 522h0M846 518h0M1050 518h0M1095 522h0M1431 520h0M1511 518h0M1559 518h0M2011 520h0M2366 517h0M2410 515h0M2454 525h0M3047 529h0M3259 528h0M3334 524h0M394 562h0M437 547h0M650 554h0M1158 553h0M1202 553h0M1246 542h0M1336 552h0M2264 558h0M2688 546h0M2983 568h0M3116 554h0M3398 567h0M3487 572h0M3915 557h0M3958 570h0M365 596h0M798 594h0M1223 599h0M1312 590h0M1357 592h0M2018 595h0M2405 594h0M2705 587h0M3167 585h0M3459 607h0M3525 596h0M402 621h0M487 606h0M571 634h0M615 633h0M1282 623h0M2050 627h0M2312 619h0M2566 622h0M2983 622h0M3099 632h0M3308 627h0M3398 631h0M3529 641h0M3657 641h0M476 660h0M520 659h0M1226 666h0M1304 661h0M1605 670h0M2290 657h0M2367 660h0M2457 664h0M2652 666h0M2696 659h0M3063 658h0M3121 670h0M3166 665h0M3211 663h0M3373 669h0M3563 670h0M3931 670h0M406 704h0M1582 707h0M1674 690h0M2300 699h0M2344 698h0M2388 698h0M2433 701h0M2597 713h0M2641 709h0M2685 701h0M2982 700h0M3108 713h0M3196 706h0M3240 696h0M3398 706h0M3442 708h0M3530 699h0M162 739h0M290 739h0M551 750h0M673 734h0M1298 743h0M1551 739h0M1908 744h0M2280 737h0M2324 737h0M2405 739h0M3209 749h0M3297 740h0M3419 746h0M3464 747h0M2094 778h0M2258 776h0M2303 775h0M2349 773h0M2394 782h0M2438 768h0M2479 788h0M2975 787h0M3020 780h0M3064 777h0M3440 785h0M3614 767h0M3958 776h0M293 809h0M2027 815h0M2072 817h0M2193 819h0M2270 819h0M2319 816h0M2364 815h0M2536 807h0M2581 806h0M3086 816h0M3131 814h0M3294 816h0M3460 825h0M3503 814h0M3548 817h0M8 844h0M183 858h0M2177 860h0M2221 853h0M2385 854h0M2981 837h0M3022 857h0M3098 859h0M3302 860h0M3387 839h0M3529 857h0M-10 892h0M2025 893h0M2199 898h0M2275 892h0M3059 881h0M3136 882h0M3181 886h0M3326 898h0M3367 879h0M3408 895h0M3464 882h0M54 926h0M97 914h0M142 918h0M1540 929h0M1914 928h0M2983 915h0M3359 928h0M3444 922h0M3610 924h0M-10 963h0M116 954h0M166 956h0M211 953h0M757 952h0M2194 951h0M2238 958h0M2996 957h0M3339 968h0M3458 965h0M51 988h0M95 994h0M140 992h0M184 997h0M229 994h0M911 1009h0M1281 998h0M1871 1007h0M3351 1012h0M76 1034h0M383 1036h0M424 1054h0M513 1044h0M1687 1027h0M1985 1044h0M2200 1035h0M2960 1027h0M3005 1028h0M3047 1042h0M3283 1021h0M100 1072h0M670 1096h0M2129 1069h0M2173 1070h0M2731 1067h0M2863 1067h0M3285 1065h0M-10 1101h0M33 1112h0M299 1110h0M419 1100h0M2026 1116h0M2069 1110h0M2885 1108h0M108 1149h0M162 1135h0M394 1139h0M534 1145h0M951 1144h0M2089 1149h0M2811 1143h0M3230 1139h0M620 1168h0M877 1184h0M2714 1163h0M2855 1152h0M856 1224h0M1153 1214h0M1463 1221h0M1973 1226h0M2093 1217h0M2770 1219h0M2813 1231h0M3103 1219h0M204 1259h0M977 1266h0M1106 1249h0M1182 1247h0M1305 1247h0M1845 1260h0M2062 1249h0M2227 1264h0M2777 1263h0M1081 1287h0M1306 1291h0M2042 1288h0M2086 1288h0M2131 1283h0M2203 1301h0M2807 1295h0M2894 1292h0M3831 1286h0M795 1320h0M881 1335h0M925 1337h0M970 1335h0M1014 1326h0M1058 1325h0M1182 1319h0M2024 1329h0M2069 1331h0M2113 1324h0M2750 1334h0M2875 1338h0M904 1376h0M949 1375h0M1028 1373h0M1072 1367h0M1204 1360h0M1251 1360h0M1295 1358h0M1415 1364h0M1573 1360h0M1625 1362h0M1718 1368h0M1761 1356h0M2099 1366h0M2143 1358h0M2299 1371h0M2724 1370h0M2840 1364h0M3779 1364h0M3830 1364h0M3875 1364h0M880 1413h0M1057 1409h0M1136 1408h0M1180 1398h0M1228 1398h0M1319 1396h0M1440 1401h0M1598 1397h0M1767 1400h0M1949 1386h0M2103 1426h0M2141 1403h0M2184 1416h0M2875 1391h0M1101 1437h0M1327 1440h0M1369 1425h0M1412 1437h0M1790 1438h0M1834 1443h0M1962 1431h0M2812 1434h0M3734 1434h0M3951 1434h0M1301 1476h0M1360 1469h0M1437 1475h0M1524 1455h0M1602 1482h0M1649 1464h0M1693 1465h0M1902 1464h0M2190 1484h0M3800 1460h0M3980 1468h0M1157 1511h0M1467 1507h0M1511 1498h0M1669 1503h0M1714 1509h0M1757 1521h0M2262 1507h0M2349 1509h0M3741 1496h0M1091 1538h0M1264 1549h0M1454 1550h0M1642 1544h0M1824 1549h0M1864 1530h0M2830 1547h0M183 1584h0M1620 1583h0M1711 1582h0M209 1620h0M1145 1613h0M1266 1623h0M1641 1623h0M1685 1618h0M3340 1612h0M3714 1626h0M3804 1611h0M3849 1610h0M1617 1661h0M1664 1661h0M1709 1656h0M2305 1655h0M3748 1663h0M3792 1654h0M1641 1699h0M2328 1693h0M3731 1705h0M3775 1699h0M438 1718h0M1541 1731h0M1891 1726h0M3620 1727h0M3815 1726h0M1190 1772h0M1484 1755h0M1739 1777h0M1862 1759h0M2497 1766h0M2744 1769h0M191 1807h0M1833 1798h0M1881 1800h0M2347 1802h0M2391 1808h0M2434 1796h0M2508 1809h0M2595 1795h0M2639 1797h0M3146 1805h0M3653 1813h0M3696 1803h0M3780 1791h0M3826 1798h0M525 1835h0M1378 1841h0M1645 1825h0M1815 1839h0M1905 1837h0M2459 1832h0M2651 1840h0M3164 1845h0M3797 1832h0M491 1865h0M1748 1877h0M1815 1917h0M1882 1876h0M2256 1879h0M2525 1870h0M2569 1865h0M2677 1876h0M2720 1884h0M2883 1880h0M3109 1873h0M3660 1874h0M3746 1875h0M3790 1876h0M3876 1874h0M511 1905h0M587 1908h0M1770 1916h0M1838 1878h0M1910 1911h0M2314 1908h0M2364 1903h0M2409 1906h0M2498 1905h0M2691 1919h0M2846 1905h0M3769 1915h0M3846 1907h0M51 1943h0M531 1947h0M576 1951h0M1614 1941h0M1747 1955h0M1889 1950h0M1934 1948h0M2291 1947h0M2432 1948h0M2555 1941h0M2605 1946h0M2651 1946h0M2730 1940h0M2856 1948h0M3615 1936h0M3735 1945h0M3871 1945h0M3950 1953h0M549 1988h0M1559 1993h0M1813 1979h0M2319 1981h0M2628 1985h0M2741 1983h0M2830 1984h0M2875 1988h0M3078 1989h0M3802 1986h0M3847 1982h0M3980 1986h0M500 2026h0M1470 2018h0M1745 2012h0M2467 2011h0M2633 2029h0M2721 2023h0M2765 2020h0M2810 2024h0M3528 2029h0M3657 2019h0M3700 2013h0M3867 2021h0M-10 2062h0M376 2052h0M478 2064h0M2929 2057h0M2972 2069h0M3177 2050h0M3895 2056h0M3980 2066h0M454 2102h0M1156 2092h0M2046 2112h0M2768 2099h0M3012 2090h0M3057 2094h0M3149 2088h0M3532 2088h0M3663 2102h0M3868 2091h0M3919 2093h0M490 2135h0M1097 2144h0M3084 2129h0M3213 2130h0M3262 2136h0M3426 2138h0M3847 2131h0M0 2168h0M98 2163h0M142 2168h0M270 2161h0M515 2172h0M1121 2182h0M1207 2164h0M3232 2170h0M3317 2161h0M3480 2164h0M3612 2180h0M3655 2169h0M169 2205h0M259 2205h0M466 2208h0M1013 2202h0M1093 2218h0M1272 2199h0M1812 2202h0M1861 2202h0M2987 2211h0M3074 2205h0M3338 2201h0M3502 2203h0M45 2232h0M148 2247h0M401 2246h0M1783 2236h0M3012 2247h0M3149 2243h0M3216 2250h0M3275 2240h0M3557 2246h0M3612 2235h0M-10 2278h0M35 2275h0M178 2288h0M300 2284h0M345 2279h0M509 2286h0M1093 2267h0M1649 2278h0M3035 2285h0M3123 2279h0M3168 2282h0M3210 2295h0M3252 2278h0M3432 2260h0M3470 2283h0M3635 2276h0M3706 2274h0M147 2321h0M223 2315h0M369 2316h0M449 2321h0M1022 2313h0M1116 2306h0M1377 2293h0M1625 2316h0M1838 2317h0M3423 2304h0M3497 2318h0M3747 2308h0M36 2355h0M294 2353h0M390 2356h0M434 2363h0M788 2342h0M962 2336h0M1004 2354h0M1050 2347h0M1447 2349h0M1861 2356h0M2241 2340h0M3346 2338h0M3390 2337h0M3433 2348h0M3543 2348h0M3672 2347h0M3717 2350h0M269 2392h0M314 2394h0M359 2388h0M403 2399h0M1074 2385h0M1913 2387h0M3180 2383h0M3279 2378h0M3323 2376h0M3369 2376h0M3413 2388h0M3458 2384h0M3540 2392h0M3691 2387h0M3781 2391h0M170 2418h0M215 2420h0M341 2429h0M1092 2425h0M1612 2431h0M1975 2423h0M2111 2425h0M3112 2423h0M3156 2420h0M3302 2416h0M3625 2409h0M3667 2425h0M105 2466h0M149 2458h0M367 2466h0M443 2465h0M1069 2463h0M1194 2463h0M2133 2464h0M3057 2462h0M3228 2451h0M3281 2455h0M3325 2454h0M3443 2465h0M3490 2464h0M3534 2459h0M3579 2459h0M3623 2454h0M3698 2457h0M3771 2461h0M300 2493h0M381 2508h0M1100 2495h0M1177 2506h0M1267 2500h0M1938 2491h0M2029 2491h0M3208 2492h0M3379 2495h0M3605 2495h0M3733 2485h0M3980 2502h0M55 2540h0M191 2538h0M323 2531h0M415 2539h0M469 2539h0M1962 2529h0M2215 2531h0M3133 2528h0M3306 2539h0M3348 2527h0M3538 2539h0M3623 2548h0M3661 2525h0M3789 2533h0M162 2572h0M250 2569h0M295 2566h0M339 2573h0M385 2572h0M504 2566h0M1129 2566h0M1262 2569h0M1854 2569h0M3260 2565h0M3338 2570h0M137 2609h0M277 2607h0M362 2611h0M529 2603h0M1120 2610h0M1197 2611h0M1242 2608h0M1544 2610h0M1920 2607h0M2009 2604h0M2084 2595h0M2127 2608h0M2172 2610h0M2307 2602h0M2351 2602h0M3095 2611h0M3534 2611h0M3611 2616h0M3656 2617h0M3699 2603h0M164 2644h0M328 2641h0M1143 2648h0M1222 2648h0M1266 2646h0M1356 2642h0M1898 2647h0M2033 2643h0M2078 2640h0M2240 2633h0M2990 2645h0M3078 2654h0M3689 2647h0M130 2672h0M362 2670h0M450 2676h0M494 2672h0M909 2676h0M1156 2691h0M1200 2687h0M1245 2686h0M1334 2681h0M1379 2680h0M1544 2671h0M1828 2686h0M2011 2682h0M2056 2681h0M2100 2679h0M2216 2671h0M2260 2677h0M155 2709h0M200 2711h0M244 2704h0M289 2709h0M376 2713h0M557 2712h0M1223 2725h0M1268 2724h0M1312 2721h0M1357 2719h0M1402 2719h0M1531 2714h0M1736 2712h0M1998 2725h0M2071 2722h0M2234 2712h0M2278 2718h0M3630 2713h0M3845 2709h0M137 2749h0M268 2748h0M315 2745h0M1336 2758h0M1462 2752h0M1507 2755h0M1756 2752h0M157 2790h0M246 2786h0M338 2784h0M383 2783h0M505 2780h0M550 2780h0M834 2789h0M1099 2795h0M1171 2797h0M1339 2803h0M1392 2787h0M1437 2788h0M1482 2792h0M1730 2788h0M1774 2813h0M2082 2796h0M2249 2792h0M180 2828h0M225 2826h0M361 2822h0M866 2820h0M985 2823h0M1241 2820h0M1419 2829h0M1504 2830h0M2472 2826h0M3271 2830h0M204 2866h0M292 2860h0M458 2857h0M884 2861h0M1158 2874h0M1218 2859h0M1759 2858h0M1849 2857h0M2448 2862h0M2669 2869h0M3298 2866h0M3342 2872h0M145 2897h0M315 2897h0M437 2896h0M900 2902h0M1047 2888h0M1120 2899h0M1827 2896h0M2746 2890h0M2969 2900h0M3521 2907h0M3565 2901h0M3652 2901h0M3784 2900h0M594 2933h0M639 2932h0M975 2935h0M1258 2957h0M1805 2935h0M1947 2942h0M2824 2943h0M2991 2939h0M439 2974h0M617 2971h0M662 2970h0M909 2970h0M998 2974h0M1086 2968h0M1842 2960h0M1917 2974h0M2654 2954h0M2805 2983h0M505 3011h0M640 3010h0M976 3013h0M1058 3003h0M1806 2997h0M1850 3003h0M2708 3008h0M2752 3002h0M2790 3025h0M3337 3008h0M484 3051h0M528 3050h0M573 3050h0M663 3048h0M1080 3041h0M1837 3046h0M1881 3053h0M2012 3044h0M2685 3046h0M3066 3029h0M429 3084h0M506 3088h0M627 3093h0M968 3072h0M1056 3082h0M1185 3066h0M1262 3072h0M1381 3090h0M1550 3086h0M1810 3081h0M2758 3079h0M2841 3083h0M3288 3068h0M502 3132h0M949 3112h0M1241 3112h0M1298 3103h0M1342 3114h0M1382 3134h0M1422 3115h0M1466 3124h0M1879 3125h0M2084 3139h0M2598 3115h0M2643 3111h0M2808 3113h0M2890 3131h0M3309 3107h0M3527 3121h0M544 3156h0M593 3165h0M1053 3148h0M1097 3148h0M1169 3134h0M1511 3152h0M1556 3154h0M1896 3167h0M1938 3155h0M2011 3180h0M2660 3152h0M363 3189h0M438 3194h0M488 3203h0M1030 3186h0M1075 3187h0M1120 3189h0M1185 3223h0M1460 3198h0M1532 3192h0M2037 3216h0M2845 3194h0M2904 3175h0M464 3240h0M964 3227h0M1166 3180h0M1262 3207h0M1304 3222h0M1805 3236h0M1929 3233h0M2149 3240h0M2666 3229h0M2884 3215h0M3254 3226h0M395 3272h0M989 3265h0M1073 3265h0M1117 3267h0M1162 3269h0M1270 3251h0M2004 3254h0M2045 3271h0M3141 3266h0M999 3309h0M1042 3297h0M1234 3279h0M1396 3291h0M1441 3295h0M1813 3292h0M1988 3301h0M2552 3302h0M2868 3300h0M2921 3295h0M3163 3304h0M350 3335h0M395 3339h0M440 3339h0M496 3344h0M1073 3330h0M1162 3330h0M1423 3336h0M1969 3341h0M2478 3336h0M2604 3334h0M2897 3333h0M3184 3344h0M1000 3373h0M1531 3376h0M1575 3368h0M2413 3379h0M2458 3376h0M2787 3375h0M3126 3374h0M3248 3382h0M273 3406h0M436 3411h0M1208 3393h0M1709 3413h0M2337 3414h0M2382 3410h0M3262 3424h0M3789 3426h0M75 3439h0M255 3447h0M342 3454h0M464 3447h0M929 3445h0M1006 3442h0M1433 3441h0M1478 3443h0M1603 3451h0M1785 3443h0M2407 3448h0M2488 3446h0M2814 3444h0M3134 3454h0M3290 3459h0M3333 3450h0M3377 3443h0M3422 3445h0M3765 3464h0M3942 3434h0M484 3487h0M939 3488h0M1506 3477h0M1555 3487h0M1754 3476h0M2179 3483h0M2262 3480h0M2339 3488h0M2467 3486h0M2731 3477h0M2807 3490h0M886 3516h0M1523 3518h0M1694 3521h0M1770 3520h0M1897 3525h0M2146 3514h0M2445 3525h0M2490 3524h0M2579 3522h0M2723 3521h0M3056 3525h0M3206 3518h0M3346 3526h0M3511 3516h0M360 3552h0M405 3556h0M827 3552h0M2336 3566h0M2380 3572h0M2423 3563h0M2468 3563h0M2513 3562h0M2558 3562h0M2643 3559h0M2757 3550h0M2813 3577h0M3025 3557h0M3311 3553h0M3790 3560h0M31 3599h0M334 3589h0M379 3592h0M427 3595h0M719 3585h0M2183 3603h0M2295 3584h0M2491 3602h0M2773 3596h0M3007 3598h0M3336 3590h0M3388 3604h0M3463 3592h0M3508 3595h0M101 3634h0M353 3629h0M574 3636h0M686 3640h0M730 3629h0M774 3625h0M2302 3629h0M2423 3641h0M2469 3640h0M2558 3634h0M2602 3633h0M2736 3621h0M2806 3626h0M2849 3639h0M2938 3625h0M2982 3635h0M3187 3626h0M3232 3629h0M3484 3632h0M259 3668h0M346 3674h0M390 3675h0M677 3684h0M1393 3674h0M2192 3669h0M2326 3680h0M2414 3685h0M2617 3676h0M2694 3677h0M2743 3695h0M2769 3651h0M2878 3673h0M2922 3667h0M3291 3668h0M3505 3673h0M3550 3675h0M315 3707h0M517 3705h0M561 3713h0M1447 3708h0M2539 3712h0M2583 3706h0M2815 3706h0M2940 3712h0M3481 3711h0M3526 3712h0M3611 3704h0M3779 3703h0M724 3740h0M1484 3752h0M2239 3748h0M2687 3744h0M2733 3742h0M2907 3744h0M3000 3741h0M3045 3746h0M3334 3746h0M3547 3752h0M3724 3744h0M3769 3747h0M15 3789h0M1493 3796h0M2098 3796h0M2433 3781h0M2557 3792h0M2601 3782h0M2689 3789h0M2888 3784h0M2933 3780h0M3060 3788h0M3103 3775h0M3147 3786h0M3789 3787h0M3834 3788h0M586 3812h0M670 3814h0M1947 3813h0M2705 3831h0M2825 3820h0M2914 3821h0M3005 3816h0M3093 3819h0M3763 3824h0M3809 3826h0M3860 3824h0M3903 3813h0M153 3854h0M1411 3869h0M1745 3856h0M1914 3852h0M1964 3855h0M2171 3846h0M2342 3860h0M2759 3844h0M2801 3857h0M3901 3860h0M163 3898h0M713 3893h0M1352 3888h0M2031 3885h0M2530 3875h0M2607 3889h0M2785 3899h0M2874 3900h0M2918 3903h0M3047 3896h0M3136 3897h0M228 3931h0M743 3933h0M1369 3934h0M1996 3938h0M2040 3929h0M2085 3927h0M2603 3934h0M2764 3938h0M3101 3925h0M3187 3920h0M3864 3935h0M303 3976h0M421 3977h0M679 3975h0M2024 3973h0M2147 3977h0M2660 3965h0M2747 3980h0M2872 3980h0M3000 3977h0M3078 3968h0M3468 3967h0M3933 3963h0"/>
<path id="dd50" d="M845 8h0M1200 16h0M1444 12h0M2057 -8h0M2334 1h0M2408 9h0M2441 9h0M3544 -10h0M3768 -5h0M3895 5h0M3927 -2h0M495 51h0M817 36h0M1200 55h0M1423 37h0M1470 48h0M2090 37h0M2309 40h0M2389 37h0M3274 28h0M3574 47h0M1497 69h0M2200 76h0M2409 93h0M2531 69h0M3251 80h0M3716 78h0M479 122h0M1079 114h0M1120 120h0M2341 135h0M2426 121h0M2467 115h0M3405 114h0M3576 114h0M3863 121h0M460 149h0M1321 154h0M1354 149h0M1576 164h0M1893 153h0M2200 154h0M2236 157h0M2314 155h0M2367 155h0M2489 152h0M2538 142h0M2958 153h0M3081 153h0M3175 144h0M3345 155h0M3634 151h0M567 188h0M609 184h0M1560 194h0M1593 193h0M1789 202h0M2297 183h0M3148 194h0M3447 191h0M326 232h0M1482 224h0M1566 226h0M1599 225h0M1685 218h0M1896 219h0M2157 224h0M2234 232h0M2355 225h0M2450 225h0M2483 226h0M3166 222h0M3253 227h0M776 275h0M993 267h0M1070 262h0M1416 263h0M1881 263h0M2181 267h0M2219 261h0M2338 255h0M2423 260h0M2599 262h0M2638 260h0M3191 258h0M3313 266h0M3370 269h0M3437 261h0M1830 308h0M1909 299h0M1941 305h0M2030 304h0M2446 299h0M2878 293h0M3376 301h0M13 338h0M137 340h0M481 339h0M532 342h0M741 338h0M1453 337h0M1889 335h0M1922 331h0M2047 338h0M2174 338h0M2385 329h0M2427 326h0M3359 328h0M-9 374h0M936 372h0M1140 377h0M1391 376h0M2279 366h0M2491 372h0M3333 374h0M47 414h0M102 413h0M180 407h0M915 410h0M1874 421h0M2128 414h0M2480 403h0M3092 411h0M3162 407h0M3237 425h0M3356 420h0M1 450h0M466 451h0M540 455h0M802 448h0M1058 451h0M1170 434h0M1327 441h0M1691 441h0M1818 452h0M1898 442h0M2504 457h0M3012 457h0M3295 453h0M3980 448h0M20 477h0M517 477h0M667 483h0M1075 488h0M1120 492h0M1154 498h0M1184 486h0M1497 482h0M1875 465h0M1907 473h0M1946 486h0M2434 485h0M2510 489h0M3024 495h0M3234 488h0M-9 521h0M1133 523h0M1178 520h0M1356 520h0M1393 530h0M1954 519h0M2111 521h0M2524 518h0M2653 530h0M3174 522h0M9 559h0M487 560h0M1119 552h0M1978 542h0M2343 555h0M2478 556h0M3274 564h0M3310 564h0M327 588h0M427 586h0M459 579h0M514 579h0M633 591h0M1141 588h0M2956 595h0M3011 595h0M3043 592h0M3125 592h0M3258 595h0M3495 622h0M3679 595h0M1244 631h0M2350 626h0M2516 624h0M2683 622h0M3062 619h0M3270 630h0M3436 638h0M3619 632h0M1265 666h0M2037 664h0M2328 662h0M2740 668h0M3253 659h0M3457 672h0M3600 659h0M3631 669h0M452 701h0M485 708h0M568 716h0M3323 706h0M3575 707h0M338 739h0M469 755h0M2454 733h0M2668 736h0M2701 736h0M3055 740h0M3120 749h0M3171 741h0M3336 736h0M150 776h0M1402 779h0M2558 774h0M2648 780h0M3103 777h0M3234 779h0M3343 768h0M3402 780h0M3484 780h0M69 808h0M1258 815h0M2403 820h0M3047 811h0M3169 808h0M3330 803h0M142 851h0M270 850h0M2045 848h0M2259 857h0M3058 842h0M3200 836h0M3234 840h0M44 883h0M76 881h0M214 880h0M2121 884h0M2153 891h0M2237 888h0M2406 889h0M2906 887h0M3097 898h0M3215 867h0M3545 893h0M15 922h0M270 924h0M2094 907h0M2230 920h0M2262 928h0M77 959h0M2127 967h0M3421 973h0M3399 1013h0M3521 1005h0M163 1030h0M935 1040h0M3085 1039h0M3249 1050h0M3500 1037h0M16 1072h0M181 1069h0M227 1071h0M390 1074h0M531 1078h0M577 1082h0M947 1071h0M2782 1058h0M3064 1077h0M3228 1078h0M3442 1060h0M3555 1075h0M84 1109h0M338 1114h0M464 1111h0M2107 1101h0M2774 1131h0M2802 1106h0M3210 1106h0M2050 1149h0M2128 1146h0M3516 1144h0M37 1177h0M126 1184h0M588 1189h0M2039 1182h0M2072 1183h0M2108 1182h0M2746 1188h0M2915 1174h0M818 1217h0M1752 1216h0M2055 1211h0M2134 1226h0M759 1245h0M840 1259h0M885 1257h0M2021 1256h0M2832 1265h0M2865 1266h0M2914 1258h0M819 1284h0M1124 1284h0M1375 1294h0M2769 1301h0M1143 1320h0M1396 1330h0M1481 1322h0M1517 1323h0M1944 1337h0M1985 1325h0M2152 1316h0M2225 1335h0M2821 1330h0M2958 1323h0M989 1369h0M1377 1362h0M1920 1361h0M2012 1365h0M2177 1378h0M1398 1399h0M1545 1387h0M1855 1396h0M2030 1392h0M2834 1402h0M3130 1395h0M3980 1408h0M999 1440h0M1064 1447h0M1288 1436h0M1451 1438h0M1675 1429h0M1923 1432h0M2040 1424h0M2068 1444h0M2138 1442h0M2169 1451h0M2254 1440h0M1053 1478h0M1222 1474h0M1398 1476h0M1731 1475h0M1864 1467h0M2085 1474h0M2118 1469h0M2836 1464h0M2873 1468h0M3459 1478h0M3761 1462h0M1841 1499h0M1393 1546h0M1535 1532h0M1726 1546h0M1785 1548h0M2363 1545h0M3774 1539h0M3805 1552h0M1177 1590h0M1252 1586h0M1331 1585h0M1663 1586h0M2298 1583h0M2388 1581h0M1182 1625h0M3589 1619h0M2388 1657h0M3830 1647h0M1221 1695h0M2412 1689h0M3594 1699h0M3812 1687h0M1713 1732h0M1804 1728h0M2389 1728h0M3703 1736h0M545 1764h0M1521 1765h0M1558 1766h0M2364 1768h0M2450 1761h0M104 1806h0M390 1787h0M532 1796h0M2726 1811h0M171 1840h0M563 1841h0M1137 1838h0M1683 1831h0M2332 1839h0M2364 1836h0M2420 1833h0M2495 1846h0M2575 1827h0M2789 1839h0M2836 1836h0M2868 1837h0M3680 1841h0M3758 1837h0M3851 1829h0M583 1869h0M1444 1867h0M1580 1869h0M2476 1872h0M2607 1871h0M2638 1879h0M2775 1869h0M2814 1861h0M2846 1867h0M3699 1873h0M2882 1919h0M3807 1910h0M1463 1942h0M1676 1948h0M1786 1951h0M1838 1948h0M2177 1941h0M2472 1943h0M2689 1958h0M2895 1955h0M2928 1962h0M3697 1954h0M-10 1979h0M1475 1973h0M1720 1982h0M1774 1982h0M2702 1988h0M3040 1983h0M3539 1986h0M3673 1983h0M3719 1979h0M3932 1987h0M539 2026h0M1508 2027h0M2897 2020h0M3104 2018h0M3188 2008h0M3459 2023h0M3739 2018h0M3917 2016h0M523 2057h0M2617 2064h0M2788 2059h0M3042 2059h0M3294 2056h0M3798 2056h0M3850 2056h0M2006 2105h0M2717 2087h0M2943 2094h0M3958 2097h0M74 2132h0M451 2141h0M1135 2136h0M2857 2125h0M3040 2129h0M3122 2132h0M3300 2126h0M186 2167h0M2773 2183h0M3403 2169h0M3443 2173h0M26 2198h0M300 2209h0M332 2206h0M382 2206h0M505 2210h0M1052 2209h0M1948 2208h0M1983 2208h0M3300 2208h0M3463 2199h0M3641 2205h0M109 2245h0M320 2242h0M1125 2240h0M3441 2223h0M384 2280h0M467 2284h0M1134 2272h0M1610 2280h0M2906 2283h0M3553 2284h0M410 2323h0M984 2305h0M1587 2312h0M3181 2320h0M3316 2313h0M3368 2307h0M3459 2319h0M3609 2335h0M333 2359h0M1479 2371h0M2013 2344h0M2079 2348h0M3300 2345h0M3505 2356h0M3579 2389h0M3635 2355h0M3802 2358h0M1035 2383h0M3140 2384h0M3496 2387h0M3582 2355h0M3608 2374h0M3653 2382h0M126 2428h0M302 2431h0M1937 2418h0M3386 2416h0M3711 2421h0M3759 2423h0M233 2455h0M278 2453h0M328 2466h0M405 2458h0M1034 2447h0M1112 2458h0M1287 2467h0M1585 2459h0M1620 2469h0M2100 2484h0M2250 2464h0M3405 2467h0M3660 2463h0M3735 2446h0M344 2498h0M415 2491h0M1137 2511h0M2067 2486h0M2156 2495h0M2237 2495h0M3340 2489h0M233 2534h0M442 2511h0M1194 2540h0M2098 2528h0M2345 2528h0M3271 2523h0M424 2577h0M1646 2570h0M2112 2567h0M3296 2577h0M3515 2572h0M3550 2575h0M3634 2585h0M98 2606h0M445 2606h0M1333 2611h0M1626 2601h0M2212 2606h0M2268 2604h0M3356 2611h0M3572 2618h0M3783 2606h0M80 2648h0M111 2638h0M289 2645h0M387 2641h0M468 2642h0M509 2636h0M887 2644h0M1182 2649h0M1440 2647h0M1481 2639h0M1645 2637h0M1692 2635h0M2119 2646h0M2151 2643h0M2199 2637h0M3513 2656h0M3591 2649h0M180 2679h0M224 2671h0M272 2674h0M307 2674h0M534 2680h0M1286 2683h0M1968 2677h0M2178 2662h0M2299 2682h0M3617 2676h0M114 2718h0M475 2706h0M845 2712h0M1095 2715h0M98 2750h0M184 2748h0M360 2751h0M444 2751h0M1074 2740h0M1379 2751h0M1417 2755h0M1827 2754h0M1879 2753h0M2006 2763h0M2037 2746h0M3696 2752h0M73 2789h0M1135 2782h0M1796 2781h0M1854 2773h0M141 2825h0M478 2814h0M828 2827h0M946 2827h0M1051 2816h0M1081 2829h0M1134 2822h0M1738 2826h0M1812 2819h0M1840 2802h0M2518 2815h0M82 2864h0M1054 2848h0M1125 2853h0M2409 2862h0M2582 2852h0M2951 2866h0M3380 2865h0M196 2904h0M861 2893h0M932 2939h0M1057 2926h0M1100 2932h0M1129 2948h0M1438 2938h0M2949 2933h0M1122 2983h0M1154 2969h0M1240 2991h0M1373 2976h0M1877 2976h0M2726 2973h0M421 3008h0M1018 3007h0M1097 3006h0M1216 3013h0M1312 3010h0M2827 3015h0M3037 3004h0M3293 3009h0M948 3039h0M1118 3032h0M1165 3033h0M1290 3034h0M2647 3051h0M2723 3043h0M2755 3041h0M2819 3051h0M3440 3044h0M468 3088h0M545 3085h0M1435 3079h0M1468 3085h0M1892 3089h0M2029 3079h0M2852 3120h0M540 3117h0M614 3130h0M988 3114h0M1034 3114h0M1075 3116h0M1161 3096h0M1503 3114h0M1535 3121h0M2770 3116h0M431 3156h0M508 3170h0M1135 3154h0M1274 3133h0M1348 3152h0M1474 3162h0M1813 3162h0M2574 3156h0M2707 3156h0M2868 3163h0M572 3198h0M991 3191h0M1497 3207h0M1871 3194h0M1925 3192h0M2076 3208h0M2554 3182h0M2939 3192h0M3421 3191h0M1384 3222h0M1437 3232h0M1476 3233h0M1514 3235h0M2185 3228h0M2593 3232h0M2626 3233h0M2953 3233h0M356 3266h0M1034 3259h0M1382 3254h0M1460 3261h0M1493 3261h0M1531 3263h0M1923 3272h0M2605 3268h0M2930 3257h0M3315 3268h0M414 3306h0M464 3308h0M512 3309h0M1359 3304h0M2027 3305h0M2591 3298h0M2623 3301h0M2666 3298h0M313 3347h0M1518 3320h0M1545 3339h0M2520 3340h0M298 3376h0M420 3372h0M1355 3381h0M1981 3378h0M2363 3376h0M2540 3378h0M2660 3370h0M2831 3376h0M3207 3378h0M357 3412h0M945 3410h0M982 3411h0M1598 3413h0M2478 3409h0M2519 3409h0M3192 3416h0M3224 3413h0M425 3448h0M967 3445h0M1564 3449h0M1642 3454h0M2292 3457h0M2324 3451h0M2445 3454h0M3095 3451h0M356 3490h0M410 3485h0M1335 3490h0M1460 3478h0M1626 3483h0M1921 3492h0M2300 3489h0M2377 3487h0M3116 3496h0M3226 3485h0M3398 3475h0M424 3521h0M966 3516h0M1565 3525h0M2249 3524h0M2280 3515h0M2616 3532h0M2686 3532h0M3095 3522h0M3131 3525h0M3249 3530h0M3282 3528h0M3429 3526h0M444 3560h0M781 3553h0M1366 3570h0M1840 3567h0M1879 3562h0M2275 3547h0M2682 3564h0M3058 3576h0M295 3595h0M760 3585h0M2332 3604h0M2370 3610h0M2407 3601h0M2538 3597h0M2571 3598h0M2626 3603h0M2736 3583h0M3045 3606h0M3661 3629h0M3671 3598h0M279 3629h0M863 3634h0M902 3638h0M2729 3659h0M3445 3634h0M429 3679h0M1432 3670h0M2497 3676h0M2538 3672h0M2839 3676h0M3095 3684h0M3134 3678h0M3176 3663h0M614 3709h0M647 3708h0M711 3703h0M744 3705h0M2300 3710h0M2437 3716h0M2501 3709h0M2638 3709h0M2671 3709h0M2781 3688h0M2899 3705h0M3025 3709h0M3118 3708h0M3695 3703h0M3908 3711h0M294 3740h0M335 3741h0M2450 3746h0M2491 3745h0M2649 3754h0M2832 3741h0M2869 3751h0M3126 3741h0M3894 3741h0M697 3773h0M2129 3771h0M3021 3779h0M3230 3792h0M629 3817h0M1696 3813h0M1730 3820h0M2076 3828h0M2452 3815h0M2586 3819h0M2619 3827h0M2665 3826h0M2739 3810h0M3044 3824h0M3132 3823h0M3167 3819h0M3721 3829h0M737 3854h0M1333 3852h0M1841 3855h0M1875 3855h0M2063 3858h0M2097 3859h0M2638 3856h0M3149 3852h0M3182 3852h0M3230 3862h0M3784 3856h0M643 3900h0M674 3890h0M1437 3898h0M1860 3889h0M1898 3889h0M2075 3889h0M2120 3948h0M3085 3889h0M3234 3902h0M3881 3895h0M3980 3887h0M189 3931h0M650 3932h0M2643 3931h0M2678 3924h0M2711 3926h0M3063 3931h0M3954 3920h0M247 3968h0M1317 3961h0M2108 3979h0M2836 3965h0M3039 3973h0M3549 3970h0"/>
<path id="dd61" d="M420 -10h0M883 -7h0M1008 3h0M1311 -10h0M1976 -4h0M1166 35h0M1289 41h0M2049 30h0M2127 27h0M2174 30h0M2258 34h0M3238 44h0M419 71h0M505 92h0M1098 80h0M2070 70h0M3212 83h0M441 115h0M652 113h0M828 128h0M1006 113h0M1161 114h0M1246 116h0M1367 112h0M1885 115h0M2093 109h0M2138 110h0M2379 118h0M329 152h0M896 151h0M1051 160h0M1094 150h0M1139 154h0M1184 153h0M1285 139h0M1545 137h0M2071 148h0M2116 149h0M14 183h0M313 194h0M955 186h0M1281 184h0M1370 184h0M1664 186h0M1708 179h0M1959 190h0M2182 188h0M937 227h0M982 230h0M1096 233h0M1218 236h0M1262 229h0M1350 224h0M1933 227h0M2666 233h0M3037 225h0M3083 227h0M68 269h0M1282 269h0M1454 267h0M2043 268h0M3152 265h0M3274 262h0M418 299h0M1092 294h0M1137 297h0M1181 304h0M1261 309h0M1386 305h0M2490 296h0M2534 292h0M3204 295h0M3249 299h0M782 336h0M1120 339h0M1215 333h0M1293 340h0M1337 330h0M2341 327h0M2509 337h0M2731 336h0M3149 355h0M74 386h0M162 371h0M206 377h0M1179 369h0M1229 376h0M1351 373h0M3006 376h0M3084 373h0M3126 394h0M141 411h0M216 420h0M776 419h0M1199 409h0M2606 401h0M2694 412h0M3020 419h0M3201 411h0M3443 408h0M120 450h0M1204 453h0M1395 450h0M1439 444h0M2469 441h0M2609 445h0M3083 448h0M3128 447h0M3172 445h0M3384 446h0M3433 451h0M60 483h0M104 492h0M396 481h0M783 482h0M1243 474h0M1291 466h0M1383 493h0M1625 482h0M1702 478h0M2348 477h0M2593 486h0M2765 468h0M3062 487h0M3106 486h0M3196 483h0M3273 485h0M3360 487h0M3575 472h0M29 516h0M377 521h0M1274 507h0M1318 511h0M1651 519h0M1825 513h0M1868 503h0M1916 511h0M2615 524h0M2753 512h0M2958 522h0M3002 527h0M3215 524h0M147 557h0M348 555h0M1292 547h0M1457 556h0M2548 548h0M2620 569h0M2937 561h0M3234 564h0M3354 564h0M-10 609h0M31 591h0M1265 582h0M1401 591h0M1976 580h0M2448 581h0M2491 594h0M2535 590h0M2662 582h0M3086 589h0M141 634h0M234 621h0M279 624h0M324 627h0M1334 630h0M1379 634h0M1626 632h0M1965 624h0M2007 639h0M2604 644h0M2643 622h0M2766 639h0M3143 626h0M3187 625h0M3232 623h0M3353 629h0M-10 669h0M35 674h0M79 668h0M254 661h0M343 668h0M387 664h0M432 668h0M681 673h0M2412 660h0M2501 660h0M2547 663h0M3328 667h0M143 698h0M188 695h0M238 703h0M318 705h0M362 709h0M1877 702h0M2478 703h0M2522 700h0M3023 718h0M3064 702h0M3152 707h0M3285 697h0M40 742h0M85 736h0M389 746h0M435 738h0M2072 739h0M2491 745h0M2535 742h0M2624 749h0M3374 744h0M3507 737h0M264 776h0M320 774h0M1323 779h0M2685 771h0M2729 763h0M2930 777h0M3151 774h0M3272 778h0M115 805h0M159 816h0M204 819h0M249 818h0M2441 812h0M2624 810h0M2669 812h0M2792 824h0M2940 821h0M3368 799h0M59 846h0M103 849h0M310 850h0M484 846h0M2297 854h0M2341 854h0M2428 855h0M2561 845h0M2646 849h0M2904 848h0M3162 846h0M3343 840h0M288 889h0M628 882h0M1981 891h0M2319 893h0M2364 892h0M2457 888h0M2500 879h0M2543 885h0M188 914h0M233 914h0M1276 922h0M1453 931h0M2057 923h0M2131 922h0M2299 936h0M2342 931h0M2386 930h0M2472 930h0M2516 920h0M2559 925h0M2603 924h0M2939 909h0M3068 925h0M3145 926h0M1608 961h0M1806 964h0M2094 946h0M2326 971h0M868 996h0M1916 1007h0M2166 988h0M2211 992h0M2255 999h0M2384 996h0M557 1049h0M602 1052h0M2152 1031h0M2245 1042h0M2322 1042h0M2756 1029h0M2834 1029h0M351 1075h0M1962 1082h0M2218 1077h0M2818 1071h0M244 1112h0M924 1109h0M2189 1111h0M2368 1117h0M2412 1119h0M2766 1093h0M3085 1115h0M439 1140h0M490 1140h0M2166 1149h0M2211 1148h0M2256 1144h0M2601 1134h0M81 1185h0M416 1179h0M464 1177h0M547 1188h0M752 1177h0M796 1185h0M1438 1183h0M2145 1189h0M2189 1186h0M2233 1186h0M2784 1178h0M616 1215h0M659 1227h0M1822 1221h0M2206 1226h0M2251 1227h0M2725 1221h0M2830 1190h0M2884 1233h0M2669 1248h0M240 1285h0M450 1298h0M781 1277h0M1500 1288h0M1877 1291h0M2248 1304h0M2306 1295h0M2732 1294h0M839 1317h0M2183 1340h0M2281 1331h0M2325 1336h0M774 1364h0M818 1357h0M860 1374h0M1117 1368h0M1160 1358h0M1669 1370h0M1880 1361h0M2251 1364h0M2381 1369h0M2425 1364h0M3144 1359h0M804 1400h0M980 1407h0M1992 1398h0M2226 1401h0M2270 1405h0M3092 1388h0M3898 1403h0M3942 1390h0M1204 1436h0M1249 1437h0M1875 1429h0M2297 1440h0M2636 1433h0M2768 1432h0M2857 1432h0M3827 1424h0M885 1463h0M930 1465h0M1138 1461h0M1181 1473h0M1990 1466h0M2034 1462h0M2233 1472h0M2534 1481h0M2750 1472h0M2795 1475h0M3056 1474h0M990 1514h0M1113 1499h0M1201 1512h0M1246 1508h0M1334 1505h0M1379 1510h0M2397 1500h0M2831 1502h0M2874 1506h0M3786 1502h0M1179 1551h0M1353 1546h0M2280 1550h0M2401 1545h0M2445 1541h0M2488 1552h0M2670 1551h0M2713 1538h0M2756 1548h0M322 1576h0M1214 1578h0M1292 1584h0M1378 1583h0M1834 1592h0M2350 1581h0M2726 1580h0M2770 1590h0M3368 1577h0M3526 1575h0M1221 1622h0M1817 1632h0M2321 1615h0M2400 1618h0M2626 1612h0M2706 1619h0M226 1662h0M1333 1663h0M1575 1645h0M1846 1665h0M2349 1654h0M2426 1653h0M2684 1658h0M2729 1658h0M162 1689h0M1100 1690h0M1564 1693h0M2283 1694h0M2373 1693h0M2450 1690h0M2495 1690h0M2538 1701h0M2616 1693h0M2661 1695h0M2748 1698h0M172 1732h0M394 1714h0M526 1728h0M1162 1729h0M1843 1718h0M1965 1731h0M2351 1732h0M2428 1728h0M3354 1733h0M3398 1728h0M208 1760h0M371 1753h0M595 1764h0M1441 1767h0M1910 1766h0M2402 1764h0M2540 1753h0M2669 1764h0M3077 1758h0M3846 1758h0M570 1803h0M1117 1805h0M1201 1816h0M2551 1797h0M2687 1806h0M2767 1808h0M601 1835h0M2743 1846h0M2907 1843h0M3895 1833h0M1075 1869h0M1120 1874h0M2303 1865h0M2434 1869h0M3833 1863h0M2453 1909h0M2584 1907h0M2759 1906h0M2802 1897h0M3946 1908h0M457 2016h0M1105 1987h0M1144 1965h0M1603 1985h0M1646 1973h0M1857 1982h0M1900 1994h0M1944 1992h0M2162 1976h0M2786 1979h0M3757 1984h0M195 2014h0M282 2026h0M326 2026h0M435 2055h0M582 2019h0M702 2040h0M1073 2023h0M1546 2036h0M3569 2012h0M3612 2025h0M3778 2024h0M3823 2026h0M562 2059h0M1053 2062h0M1097 2061h0M1141 2050h0M1732 2055h0M1776 2059h0M2027 2072h0M3642 2061h0M3719 2053h0M88 2091h0M534 2094h0M578 2101h0M1113 2103h0M1584 2103h0M3575 2099h0M3619 2098h0M119 2124h0M543 2137h0M587 2144h0M631 2135h0M675 2126h0M1012 2140h0M1726 2133h0M3759 2118h0M3803 2125h0M3892 2129h0M3936 2136h0M3980 2129h0M559 2179h0M981 2172h0M1044 2171h0M3536 2174h0M421 2206h0M596 2204h0M1909 2204h0M3577 2207h0M567 2238h0M991 2241h0M1295 2237h0M1703 2243h0M3661 2239h0M1043 2273h0M3390 2275h0M3515 2277h0M3591 2275h0M3671 2302h0M1071 2308h0M3575 2316h0M917 2339h0M3208 2348h0M3762 2350h0M782 2386h0M942 2376h0M1002 2402h0M3736 2391h0M3258 2418h0M3346 2414h0M3464 2427h0M3508 2423h0M3806 2432h0M3370 2451h0M477 2494h0M3302 2495h0M3422 2505h0M3467 2502h0M3517 2499h0M535 2532h0M2170 2531h0M3233 2529h0M3582 2533h0M3705 2519h0M3834 2536h0M2042 2569h0M2150 2570h0M2239 2578h0M3381 2581h0M484 2606h0M829 2605h0M874 2605h0M1964 2606h0M2679 2615h0M2743 2610h0M3318 2609h0M251 2643h0M848 2646h0M1089 2643h0M1606 2634h0M3297 2648h0M3341 2646h0M3385 2643h0M3552 2651h0M1068 2682h0M1673 2669h0M3580 2687h0M929 2716h0M818 2739h0M949 2756h0M1038 2753h0M1292 2762h0M1551 2754h0M1529 2793h0M3429 2798h0M270 2823h0M3654 2824h0M1088 2867h0M1440 2868h0M1484 2870h0M1158 2922h0M1196 2898h0M1500 2911h0M2422 2899h0M549 2934h0M849 2930h0M1292 2929h0M1397 2946h0M2869 2943h0M3640 2944h0M1041 2962h0M1303 2972h0M1450 2975h0M1494 2966h0M3527 2969h0M889 3010h0M1180 2998h0M1387 3013h0M1431 3016h0M1479 3009h0M2664 2998h0M1252 3028h0M1361 3049h0M1488 3052h0M1793 3040h0M3623 3039h0M582 3093h0M671 3091h0M924 3075h0M1011 3083h0M1100 3081h0M1141 3063h0M2616 3075h0M2713 3081h0M3590 3097h0M1802 3125h0M2554 3121h0M2687 3117h0M2731 3123h0M2886 3085h0M3352 3118h0M638 3163h0M1008 3147h0M1211 3145h0M2616 3156h0M2786 3151h0M2830 3152h0M2933 3141h0M3417 3152h0M3506 3160h0M533 3200h0M1252 3164h0M1833 3202h0M2255 3193h0M2516 3188h0M2591 3193h0M2636 3195h0M2685 3189h0M2729 3193h0M2976 3203h0M3141 3188h0M513 3240h0M559 3236h0M1052 3225h0M1556 3233h0M2546 3220h0M2746 3234h0M2788 3217h0M3209 3227h0M488 3278h0M536 3278h0M1744 3271h0M1844 3259h0M1888 3254h0M1961 3265h0M2523 3261h0M2567 3260h0M2643 3267h0M2732 3276h0M2776 3270h0M2816 3251h0M3275 3266h0M957 3296h0M1549 3297h0M1943 3305h0M2074 3304h0M2508 3303h0M2702 3310h0M1030 3341h0M1627 3336h0M1748 3330h0M1793 3331h0M1837 3331h0M1914 3338h0M2012 3353h0M2386 3343h0M2433 3339h0M2561 3345h0M2649 3333h0M2811 3338h0M2855 3345h0M2941 3335h0M3228 3343h0M3273 3345h0M382 3382h0M465 3377h0M1618 3380h0M1729 3373h0M1773 3371h0M1850 3374h0M1939 3375h0M2502 3374h0M2592 3378h0M2870 3387h0M907 3406h0M1665 3404h0M1753 3411h0M1828 3416h0M1873 3417h0M1918 3416h0M2183 3419h0M2293 3418h0M2560 3411h0M2632 3403h0M3108 3415h0M386 3454h0M553 3448h0M1680 3446h0M1896 3455h0M1985 3450h0M2212 3453h0M2363 3451h0M2533 3446h0M2577 3453h0M2654 3441h0M2698 3447h0M2773 3462h0M2774 3417h0M3057 3447h0M1664 3487h0M1710 3479h0M1798 3485h0M1842 3488h0M2221 3497h0M2416 3491h0M2512 3485h0M2606 3487h0M2688 3491h0M2765 3506h0M3079 3486h0M3155 3494h0M3264 3495h0M3310 3499h0M3361 3485h0M330 3518h0M385 3515h0M507 3526h0M552 3525h0M712 3526h0M798 3518h0M842 3509h0M1649 3528h0M2189 3527h0M2316 3526h0M2365 3525h0M2534 3523h0M2651 3516h0M2799 3534h0M3390 3520h0M3467 3517h0M3771 3509h0M484 3565h0M529 3565h0M606 3566h0M1402 3555h0M1682 3564h0M1759 3563h0M1803 3556h0M1918 3564h0M1963 3565h0M2147 3558h0M2225 3555h0M2856 3564h0M3093 3560h0M3138 3564h0M3224 3559h0M3268 3564h0M3371 3563h0M3415 3569h0M3533 3558h0M3655 3563h0M3835 3562h0M470 3608h0M666 3601h0M799 3587h0M1817 3599h0M1862 3599h0M2446 3602h0M2664 3599h0M3117 3604h0M401 3631h0M530 3628h0M2217 3632h0M2259 3616h0M2345 3640h0M2513 3641h0M2693 3633h0M2894 3631h0M3026 3640h0M3100 3646h0M3145 3640h0M3308 3627h0M3353 3631h0M125 3671h0M2147 3671h0M2238 3671h0M2283 3669h0M2370 3677h0M2459 3683h0M2965 3676h0M3247 3671h0M3335 3672h0M3380 3667h0M3460 3671h0M3638 3661h0M234 3706h0M367 3713h0M412 3714h0M1493 3708h0M2171 3709h0M2216 3709h0M3184 3701h0M3309 3709h0M3360 3710h0M675 3736h0M2285 3747h0M2330 3743h0M2409 3742h0M2569 3749h0M2613 3739h0M3088 3733h0M3197 3744h0M3240 3755h0M3284 3746h0M3457 3752h0M3502 3750h0M3591 3744h0M3635 3742h0M61 3784h0M561 3772h0M646 3776h0M2215 3788h0M2262 3786h0M2644 3793h0M3192 3788h0M3309 3784h0M3359 3783h0M3401 3799h0M3446 3795h0M3571 3789h0M3615 3782h0M3660 3780h0M3736 3788h0M384 3809h0M508 3814h0M1903 3808h0M1993 3821h0M2146 3809h0M2276 3829h0M2319 3815h0M2364 3820h0M2410 3819h0M3257 3821h0M3334 3821h0M3502 3818h0M3546 3827h0M3631 3824h0M3678 3821h0M645 3861h0M1802 3852h0M2387 3858h0M2489 3827h0M3111 3860h0M3268 3873h0M3310 3859h0M3355 3860h0M3445 3862h0M3524 3866h0M3652 3863h0M3697 3861h0M607 3884h0M2196 3884h0M2411 3896h0M2488 3889h0M2652 3893h0M3336 3901h0M3676 3901h0M3721 3903h0M3769 3900h0M3842 3896h0M274 3940h0M2129 3910h0M2172 3928h0M2460 3928h0M2558 3919h0M3266 3923h0M3309 3937h0M3392 3928h0M3520 3931h0M3566 3934h0M3653 3939h0M3698 3942h0M3911 3924h0M346 3964h0M2279 3967h0M2530 3979h0M2574 3967h0M2705 3964h0M3293 3979h0M3746 3976h0M3978 3955h0"/>
<path id="dd60" d="M1510 -8h0M2023 0h0M15 42h0M861 39h0M1029 41h0M2210 44h0M3197 47h0M-4 83h0M1188 86h0M1221 86h0M1309 75h0M8 115h0M1046 116h0M1208 122h0M1286 100h0M555 158h0M2022 153h0M1040 198h0M1074 197h0M1242 195h0M1326 187h0M1534 175h0M1626 195h0M2265 189h0M2895 191h0M2972 187h0M3022 188h0M375 228h0M1057 230h0M348 257h0M1123 261h0M1243 268h0M2930 259h0M3108 262h0M89 306h0M1053 303h0M1225 295h0M1349 293h0M2910 288h0M3119 293h0M103 336h0M1159 335h0M1376 343h0M1408 337h0M2897 319h0M247 377h0M1312 378h0M2626 368h0M2660 370h0M3180 378h0M3212 373h0M8 408h0M1160 403h0M1238 414h0M1329 406h0M2822 414h0M3059 416h0M37 449h0M207 458h0M1259 439h0M1356 455h0M2539 451h0M2571 453h0M2648 447h0M3044 449h0M3214 449h0M3476 429h0M188 485h0M484 479h0M1329 474h0M1420 480h0M1840 477h0M2386 484h0M3312 487h0M123 527h0M212 532h0M416 514h0M1473 521h0M2492 524h0M2574 519h0M2715 518h0M2918 527h0M3089 521h0M3129 518h0M3296 516h0M108 557h0M276 558h0M309 559h0M1377 559h0M1418 556h0M1496 556h0M2425 551h0M2510 552h0M2586 550h0M3027 563h0M3077 551h0M3154 548h0M3188 553h0M85 609h0M262 589h0M2581 586h0M2608 605h0M2744 592h0M2914 592h0M3207 592h0M3291 592h0M3329 594h0M3374 597h0M3421 599h0M14 639h0M102 637h0M362 634h0M741 630h0M2389 628h0M2476 630h0M164 665h0M215 667h0M2583 677h0M2616 680h0M2999 662h0M3029 677h0M3424 673h0M277 702h0M2560 701h0M3356 706h0M3482 707h0M4 756h0M247 741h0M2366 738h0M2574 744h0M26 783h0M92 775h0M182 784h0M444 776h0M624 783h0M1502 785h0M2515 775h0M2592 770h0M3192 784h0M3311 776h0M-3 803h0M35 815h0M637 813h0M2500 820h0M3216 807h0M3249 809h0M3420 818h0M230 852h0M1283 852h0M2601 843h0M3267 844h0M121 883h0M153 882h0M250 878h0M511 882h0M249 950h0M1470 966h0M2281 970h0M2585 959h0M2130 999h0M2561 1004h0M2779 998h0M2812 992h0M3314 998h0M644 1068h0M2002 1080h0M2256 1079h0M374 1106h0M717 1119h0M2241 1108h0M200 1142h0M233 1149h0M355 1143h0M2752 1156h0M1817 1179h0M1920 1212h0M2168 1220h0M3141 1221h0M380 1251h0M729 1259h0M2112 1250h0M2156 1251h0M2189 1261h0M2707 1255h0M2740 1256h0M863 1285h0M1829 1295h0M2003 1295h0M2168 1286h0M1813 1325h0M2363 1336h0M2788 1328h0M1459 1364h0M1842 1366h0M1972 1355h0M2212 1365h0M2342 1370h0M2589 1368h0M2802 1357h0M2903 1365h0M3104 1351h0M842 1408h0M942 1413h0M1018 1411h0M1094 1399h0M2742 1404h0M2801 1396h0M3855 1397h0M852 1439h0M914 1430h0M960 1440h0M1166 1434h0M1496 1425h0M2215 1439h0M75 1485h0M1085 1472h0M1262 1473h0M2150 1478h0M2272 1469h0M2425 1473h0M2497 1492h0M148 1514h0M908 1498h0M1074 1503h0M1284 1511h0M1590 1519h0M2128 1502h0M2436 1504h0M2722 1499h0M2752 1510h0M885 1542h0M963 1541h0M1226 1542h0M1567 1542h0M1603 1548h0M2793 1558h0M1582 1574h0M1798 1578h0M2465 1583h0M2655 1586h0M3825 1578h0M33 1622h0M1602 1617h0M2283 1621h0M2361 1618h0M2493 1633h0M2525 1626h0M142 1656h0M356 1653h0M2471 1657h0M2516 1658h0M2548 1649h0M-10 1672h0M372 1682h0M424 1682h0M507 1688h0M1816 1690h0M1948 1693h0M2709 1691h0M652 1736h0M2510 1728h0M2567 1726h0M2600 1728h0M2730 1733h0M2763 1735h0M3315 1730h0M84 1779h0M1948 1771h0M2324 1767h0M2611 1759h0M2707 1762h0M140 1809h0M641 1814h0M1157 1809h0M1928 1801h0M1961 1801h0M2472 1796h0M2542 1835h0M2609 1838h0M2702 1842h0M1159 1870h0M1368 1878h0M3959 1865h0M549 1913h0M1145 1904h0M1182 1894h0M1386 1913h0M2654 1907h0M3980 1890h0M1126 1931h0M3781 1952h0M140 2014h0M619 2032h0M1112 2024h0M1706 2013h0M3968 2023h0M601 2059h0M2107 2062h0M3505 2061h0M3681 2055h0M421 2122h0M615 2090h0M646 2100h0M1075 2094h0M1547 2083h0M3743 2083h0M3785 2088h0M27 2140h0M245 2131h0M420 2154h0M974 2134h0M1986 2134h0M3639 2133h0M3678 2138h0M444 2176h0M1082 2180h0M1246 2169h0M1620 2176h0M1958 2177h0M3574 2168h0M538 2212h0M1639 2204h0M3680 2205h0M3716 2207h0M529 2244h0M873 2243h0M947 2238h0M1030 2237h0M1062 2240h0M3518 2238h0M3700 2235h0M872 2276h0M1004 2278h0M1346 2271h0M3762 2272h0M488 2318h0M800 2305h0M824 2328h0M900 2304h0M937 2305h0M1500 2346h0M3535 2310h0M3634 2315h0M3785 2318h0M475 2352h0M752 2356h0M835 2359h0M3473 2349h0M442 2401h0M475 2385h0M820 2388h0M1112 2389h0M426 2430h0M459 2429h0M3420 2428h0M3556 2427h0M3589 2421h0M119 2502h0M516 2499h0M1057 2500h0M3556 2497h0M3643 2491h0M3678 2491h0M1109 2533h0M1091 2575h0M2080 2556h0M3980 2541h0M316 2604h0M2781 2602h0M3406 2611h0M3592 2724h0M1716 2745h0M3657 2752h0M947 2795h0M1211 2797h0M1197 2826h0M1465 2835h0M3521 2829h0M1721 2854h0M612 2897h0M826 2896h0M1082 2905h0M1457 2905h0M2663 2915h0M1183 2953h0M1471 2935h0M1212 2975h0M1341 2982h0M1411 2982h0M2349 2965h0M2989 2977h0M3353 2971h0M929 3007h0M1143 3008h0M1273 2995h0M1344 3015h0M3004 3006h0M3374 2996h0M915 3037h0M997 3046h0M1218 3046h0M1323 3040h0M1450 3050h0M2381 3036h0M1222 3078h0M1302 3065h0M1333 3076h0M1512 3083h0M2667 3080h0M2797 3076h0M574 3131h0M648 3126h0M1197 3107h0M2402 3087h0M3391 3124h0M3566 3126h0M969 3145h0M1410 3161h0M2536 3155h0M2747 3158h0M613 3198h0M657 3197h0M1797 3190h0M2767 3185h0M2808 3183h0M598 3236h0M675 3237h0M1863 3226h0M1895 3216h0M1968 3227h0M1998 3216h0M2705 3230h0M2850 3232h0M2923 3220h0M656 3264h0M1575 3267h0M2852 3265h0M2963 3264h0M1771 3299h0M1855 3296h0M2754 3308h0M2786 3308h0M940 3331h0M976 3341h0M1875 3339h0M2045 3332h0M2689 3346h0M2772 3338h0M34 3371h0M504 3382h0M963 3382h0M1654 3368h0M1690 3374h0M1811 3379h0M2046 3371h0M2705 3375h0M521 3410h0M1630 3421h0M1792 3405h0M2255 3411h0M2598 3420h0M2717 3413h0M2811 3405h0M2842 3414h0M3871 3419h0M1730 3445h0M1822 3455h0M1855 3451h0M2616 3448h0M3171 3442h0M3247 3460h0M3902 3441h0M443 3488h0M568 3485h0M814 3483h0M869 3481h0M902 3480h0M1416 3476h0M1593 3489h0M1881 3490h0M2141 3477h0M2557 3486h0M2644 3478h0M3191 3483h0M590 3531h0M1732 3529h0M1816 3520h0M2404 3529h0M3169 3531h0M568 3561h0M645 3568h0M742 3554h0M2257 3577h0M2714 3559h0M2898 3552h0M3450 3551h0M507 3597h0M558 3597h0M627 3599h0M1388 3595h0M1778 3597h0M1944 3599h0M2225 3594h0M2705 3594h0M2843 3601h0M2876 3597h0M3078 3602h0M3156 3602h0M3212 3596h0M3297 3590h0M3427 3606h0M442 3638h0M483 3644h0M613 3630h0M646 3634h0M2166 3638h0M2384 3640h0M3064 3632h0M3270 3635h0M3410 3637h0M460 3668h0M507 3667h0M714 3670h0M3208 3670h0M192 3709h0M277 3703h0M450 3711h0M479 3694h0M2351 3710h0M2383 3713h0M2470 3720h0M2708 3712h0M3058 3709h0M3149 3717h0M3398 3719h0M3442 3717h0M3570 3708h0M389 3746h0M437 3744h0M469 3742h0M502 3741h0M535 3743h0M635 3739h0M2155 3745h0M2370 3743h0M2530 3750h0M3158 3749h0M454 3772h0M486 3777h0M520 3777h0M607 3780h0M1652 3791h0M2167 3776h0M2311 3777h0M2347 3782h0M2472 3773h0M3269 3782h0M3483 3784h0M3529 3787h0M547 3809h0M2033 3846h0M2114 3831h0M2238 3819h0M2529 3836h0M2520 3804h0M3295 3820h0M3426 3829h0M3592 3822h0M189 3870h0M2134 3858h0M2222 3853h0M2433 3851h0M2465 3858h0M2562 3846h0M2595 3851h0M2675 3857h0M2725 3864h0M3487 3854h0M3610 3857h0M3829 3859h0M3862 3863h0M207 3898h0M2156 3882h0M2235 3888h0M2267 3899h0M2370 3893h0M2449 3886h0M2569 3880h0M3173 3884h0M3206 3884h0M3419 3892h0M3501 3897h0M3550 3898h0M3636 3898h0M3804 3883h0M2421 3934h0M3150 3934h0M3222 3936h0M3352 3936h0M3614 3936h0M3746 3933h0M3780 3937h0M3818 3927h0M382 3980h0M546 3968h0M584 3965h0M3197 3958h0M3248 3958h0M3336 3966h0M3416 3960h0M3593 3964h0M3671 3978h0M3805 3962h0M3840 3978h0M3891 3964h0"/>
<path id="dd71" d="M37 1h0M927 5h0M1550 -7h0M1887 -2h0M1931 -10h0M1505 30h0M38 89h0M593 82h0M1976 76h0M871 114h0M950 107h0M1428 116h0M1928 100h0M2048 109h0M284 154h0M1807 148h0M1934 145h0M1203 194h0M1755 183h0M1915 185h0M2047 185h0M42 225h0M1978 231h0M2068 225h0M2718 228h0M2947 224h0M2992 220h0M856 258h0M908 261h0M1375 262h0M2802 262h0M2969 263h0M3014 263h0M880 296h0M925 303h0M2777 299h0M2991 302h0M3081 302h0M397 338h0M826 346h0M2645 335h0M2688 324h0M3049 346h0M897 376h0M1274 381h0M261 414h0M824 414h0M870 412h0M246 456h0M2882 452h0M3482 467h0M149 485h0M225 496h0M1744 492h0M2855 487h0M2942 481h0M77 528h0M174 522h0M320 520h0M801 523h0M1215 509h0M1603 521h0M1780 519h0M2873 529h0M3428 524h0M3631 522h0M72 573h0M232 565h0M1535 556h0M1628 558h0M1673 558h0M1887 544h0M2733 552h0M2777 549h0M3543 556h0M3659 559h0M121 594h0M167 597h0M754 593h0M1445 599h0M1603 594h0M1814 587h0M2783 594h0M2876 589h0M3640 600h0M53 631h0M191 636h0M1712 624h0M1797 629h0M1841 623h0M1920 624h0M2856 629h0M2933 626h0M298 664h0M1485 665h0M1942 662h0M2828 669h0M2873 671h0M2916 667h0M2961 661h0M8 710h0M1332 695h0M1921 701h0M2008 690h0M2051 700h0M2729 707h0M2803 706h0M2849 708h0M2893 710h0M206 735h0M1469 725h0M1508 747h0M2960 745h0M3252 738h0M220 778h0M1466 770h0M1961 775h0M2005 775h0M2049 777h0M2885 775h0M1394 821h0M1476 813h0M1983 814h0M2713 806h0M2757 797h0M1461 855h0M2471 845h0M2695 849h0M2815 862h0M2860 858h0M550 885h0M673 888h0M1302 886h0M1352 886h0M1394 874h0M1937 890h0M2619 884h0M2670 886h0M1327 923h0M1958 929h0M2429 921h0M2647 924h0M2897 924h0M801 962h0M1301 959h0M1357 961h0M1423 963h0M1938 968h0M2415 964h0M2458 972h0M2502 963h0M2548 967h0M2757 967h0M2834 959h0M3089 964h0M439 1011h0M1424 1007h0M1718 995h0M1962 1006h0M2006 1004h0M2048 989h0M2092 990h0M2298 1005h0M2599 1000h0M3027 990h0M3069 1004h0M3240 1011h0M468 1045h0M1392 1038h0M1611 1031h0M1940 1044h0M2062 1031h0M2366 1036h0M2410 1036h0M2497 1037h0M2545 1040h0M3167 1034h0M270 1076h0M908 1067h0M1378 1080h0M2085 1069h0M2295 1078h0M2427 1077h0M2472 1072h0M2519 1076h0M3102 1074h0M1983 1121h0M2144 1111h0M2324 1112h0M272 1147h0M317 1151h0M896 1144h0M1378 1147h0M2300 1149h0M2343 1154h0M2388 1157h0M2733 1122h0M164 1179h0M2277 1187h0M2400 1200h0M2575 1173h0M15 1226h0M528 1229h0M1878 1230h0M2600 1214h0M2645 1211h0M2687 1199h0M159 1259h0M254 1242h0M339 1248h0M463 1255h0M2272 1266h0M2314 1251h0M2356 1256h0M2536 1253h0M2625 1251h0M737 1297h0M2351 1299h0M2424 1282h0M2644 1291h0M2688 1289h0M2398 1318h0M2442 1323h0M2617 1325h0M2705 1330h0M2918 1329h0M2469 1368h0M2648 1357h0M2768 1375h0M2326 1406h0M2370 1412h0M2415 1408h0M2495 1404h0M2538 1414h0M2620 1391h0M2664 1398h0M2342 1447h0M2395 1449h0M2504 1448h0M2680 1440h0M2724 1437h0M2901 1441h0M838 1475h0M1014 1476h0M1946 1473h0M2314 1481h0M2463 1473h0M2579 1478h0M2651 1474h0M320 1531h0M870 1506h0M947 1506h0M2522 1524h0M2596 1522h0M2683 1505h0M2790 1519h0M924 1543h0M1134 1549h0M1497 1541h0M2324 1546h0M862 1586h0M906 1584h0M950 1580h0M993 1566h0M1037 1573h0M1081 1581h0M1423 1583h0M1543 1572h0M2427 1582h0M2502 1595h0M2547 1594h0M2590 1586h0M2848 1587h0M3449 1579h0M1006 1614h0M1052 1615h0M1310 1625h0M2457 1620h0M946 1653h0M1037 1656h0M1082 1649h0M1126 1654h0M1242 1661h0M1288 1664h0M2640 1655h0M3318 1653h0M3874 1648h0M759 1681h0M802 1689h0M963 1695h0M1262 1701h0M2239 1695h0M2575 1676h0M3851 1686h0M483 1718h0M571 1726h0M1118 1731h0M2307 1733h0M2472 1729h0M2638 1733h0M2692 1726h0M642 1773h0M1023 1762h0M1068 1760h0M1145 1770h0M1986 1771h0M2789 1769h0M2304 1811h0M2811 1807h0M2889 1802h0M3103 1795h0M3871 1796h0M1051 1831h0M1983 1833h0M1203 1861h0M2212 1880h0M3921 1871h0M631 1907h0M1060 1911h0M1219 1906h0M2154 1909h0M486 1942h0M659 1941h0M1089 1945h0M1173 1931h0M287 1982h0M331 1982h0M505 1983h0M608 1982h0M976 1974h0M1061 1979h0M2120 1989h0M239 2011h0M658 2033h0M864 2024h0M939 2022h0M983 2018h0M1157 2009h0M1666 2013h0M1834 2020h0M2131 2033h0M162 2046h0M404 2087h0M676 2076h0M1009 2054h0M1512 2066h0M2068 2056h0M3564 2056h0M916 2094h0M979 2088h0M1751 2096h0M3707 2096h0M163 2129h0M207 2122h0M880 2122h0M1055 2128h0M1227 2124h0M1637 2141h0M313 2172h0M861 2163h0M1592 2147h0M3700 2172h0M797 2193h0M1735 2211h0M3755 2201h0M614 2245h0M833 2246h0M1539 2242h0M3738 2242h0M586 2279h0M836 2291h0M916 2269h0M960 2274h0M3800 2282h0M873 2350h0M696 2392h0M899 2386h0M1561 2375h0M3825 2392h0M752 2419h0M960 2416h0M995 2447h0M1568 2420h0M3392 2538h0M3494 2537h0M3878 2543h0M559 2570h0M1056 2559h0M2195 2571h0M3923 2564h0M917 2619h0M547 2644h0M2781 2641h0M3430 2649h0M3474 2653h0M3320 2686h0M1692 2710h0M3549 2719h0M3618 2756h0M3383 2793h0M3474 2798h0M527 2818h0M1700 2821h0M3358 2830h0M1529 2872h0M3540 2864h0M1243 2900h0M1417 2906h0M1705 2889h0M804 2933h0M1218 2937h0M1715 2933h0M1760 2935h0M2368 2931h0M2411 2941h0M2850 2984h0M684 3009h0M2363 3002h0M2625 3020h0M3501 3005h0M880 3054h0M1532 3042h0M2856 3041h0M3373 3035h0M714 3079h0M3333 3069h0M686 3133h0M3482 3122h0M1774 3159h0M3004 3168h0M3121 3149h0M3372 3158h0M3460 3167h0M952 3184h0M1577 3194h0M1760 3201h0M3097 3187h0M637 3230h0M1008 3225h0M2494 3227h0M3163 3227h0M2123 3277h0M2688 3267h0M913 3303h0M1893 3299h0M2407 3304h0M2823 3295h0M2970 3302h0M3118 3311h0M3299 3303h0M1584 3325h0M1704 3337h0M2733 3342h0M927 3367h0M1894 3378h0M2743 3385h0M2917 3372h0M1962 3412h0M2007 3407h0M2679 3404h0M508 3447h0M840 3455h0M884 3445h0M1941 3458h0M529 3486h0M606 3495h0M650 3491h0M2851 3483h0M3034 3486h0M462 3526h0M754 3512h0M1604 3526h0M1853 3531h0M1941 3526h0M2106 3532h0M3902 3513h0M683 3559h0M1687 3608h0M1730 3597h0M1906 3607h0M2963 3587h0M1839 3638h0M1883 3646h0M590 3679h0M1470 3670h0M1981 3668h0M3419 3687h0M2262 3709h0M3228 3712h0M595 3743h0M1528 3742h0M1604 3753h0M2087 3752h0M2194 3748h0M3413 3755h0M315 3778h0M360 3771h0M414 3776h0M1688 3775h0M2386 3781h0M156 3809h0M464 3810h0M3212 3828h0M2295 3869h0M3400 3858h0M3571 3864h0M3742 3863h0M303 3887h0M3597 3901h0M318 3929h0M2218 3923h0M2296 3925h0M2349 3925h0M2513 3926h0M2192 3980h0M2234 3965h0M2356 3970h0M2400 3966h0M2444 3978h0M2487 3965h0M2617 3978h0M3375 3970h0"/>
<path id="dd70" d="M381 -4h0M968 -7h0M1848 3h0M992 39h0M888 79h0M930 74h0M968 73h0M1008 72h0M577 128h0M1830 115h0M-4 147h0M840 165h0M1013 152h0M1608 163h0M350 206h0M2805 197h0M1138 232h0M1180 226h0M2757 231h0M2789 226h0M2826 221h0M1203 271h0M2004 262h0M2695 259h0M123 310h0M343 289h0M374 300h0M1305 303h0M2706 290h0M2738 298h0M853 377h0M2847 387h0M2951 374h0M3289 384h0M2856 419h0M283 445h0M421 451h0M852 447h0M2844 449h0M2967 451h0M266 489h0M1664 483h0M1803 481h0M2815 487h0M3444 488h0M3472 505h0M3612 488h0M250 527h0M281 518h0M2792 510h0M3470 537h0M3508 539h0M3593 514h0M189 563h0M2898 558h0M206 594h0M295 589h0M1690 593h0M1740 598h0M1773 598h0M1857 588h0M1417 627h0M1548 623h0M120 667h0M598 667h0M1355 665h0M1395 669h0M1980 665h0M2790 670h0M63 704h0M1969 697h0M2765 692h0M124 732h0M2762 728h0M2869 741h0M58 777h0M1285 779h0M1369 780h0M490 781h0M2903 810h0M1423 847h0M2522 846h0M2581 878h0M2872 894h0M3287 895h0M1366 923h0M1997 925h0M2807 931h0M2859 930h0M3023 927h0M3106 929h0M1389 982h0M2364 963h0M3301 964h0M402 1002h0M1626 995h0M1833 1003h0M2339 1008h0M2426 1000h0M2483 1001h0M1429 1045h0M2024 1039h0M2283 1041h0M2388 1069h0M2602 1081h0M1398 1113h0M1431 1121h0M2281 1114h0M2703 1098h0M1417 1151h0M2547 1146h0M507 1183h0M1948 1196h0M2319 1184h0M2363 1186h0M2504 1178h0M2658 1175h0M50 1208h0M1784 1223h0M2289 1222h0M2333 1214h0M2366 1219h0M-10 1258h0M292 1253h0M419 1248h0M544 1264h0M665 1265h0M1728 1240h0M2466 1248h0M2498 1253h0M279 1288h0M519 1286h0M2385 1282h0M506 1316h0M533 1336h0M757 1330h0M1780 1322h0M2667 1322h0M2046 1362h0M2686 1366h0M2454 1404h0M2578 1399h0M2703 1403h0M819 1436h0M1032 1441h0M2009 1433h0M2436 1441h0M2468 1434h0M2555 1448h0M3073 1427h0M976 1469h0M2368 1475h0M2705 1471h0M1037 1508h0M1880 1496h0M2091 1508h0M2161 1509h0M2219 1508h0M2299 1517h0M2471 1512h0M1020 1538h0M1053 1538h0M2525 1562h0M361 1582h0M1119 1585h0M2688 1585h0M3404 1592h0M3488 1581h0M335 1612h0M968 1621h0M1101 1614h0M1857 1628h0M2578 1624h0M2665 1618h0M2748 1623h0M402 1658h0M1160 1672h0M2601 1647h0M2767 1665h0M1060 1689h0M1139 1698h0M1184 1697h0M1873 1692h0M3430 1696h0M355 1716h0M707 1726h0M1045 1729h0M1076 1721h0M1498 1719h0M1929 1719h0M1106 1768h0M2578 1760h0M1047 1793h0M1078 1802h0M1416 1796h0M2850 1803h0M386 1821h0M406 1847h0M638 1847h0M713 1829h0M1017 1850h0M1101 1840h0M1170 1839h0M3980 1836h0M185 1878h0M616 1871h0M654 1876h0M1021 1908h0M1102 1908h0M620 1944h0M2138 1945h0M934 1983h0M1035 2025h0M300 2060h0M634 2063h0M733 2063h0M766 2064h0M1475 2057h0M3766 2060h0M710 2094h0M821 2089h0M855 2093h0M950 2112h0M1688 2142h0M396 2176h0M615 2171h0M900 2170h0M942 2171h0M1667 2167h0M1837 2172h0M1919 2166h0M929 2201h0M965 2211h0M915 2231h0M548 2286h0M802 2273h0M528 2319h0M869 2311h0M1476 2323h0M507 2345h0M719 2356h0M735 2384h0M1596 2393h0M481 2455h0M1077 2526h0M3446 2536h0M3889 2582h0M1079 2605h0M938 2651h0M2715 2666h0M3531 2684h0M1570 2720h0M573 2748h0M796 2779h0M978 2785h0M1301 2800h0M3632 2792h0M1165 2836h0M738 2889h0M752 2922h0M1530 2935h0M701 2973h0M820 2968h0M1782 2967h0M2382 2968h0M1518 3006h0M3633 2995h0M2410 3056h0M3311 3037h0M2919 3105h0M676 3170h0M1442 3154h0M3016 3204h0M718 3236h0M1766 3239h0M3000 3233h0M618 3264h0M698 3261h0M944 3260h0M1782 3268h0M555 3312h0M678 3288h0M1638 3298h0M1720 3302h0M2451 3304h0M534 3338h0M1666 3338h0M3100 3345h0M2628 3365h0M3088 3382h0M51 3399h0M485 3412h0M2738 3439h0M3070 3409h0M2155 3447h0M2249 3444h0M3815 3454h0M3850 3445h0M637 3528h0M674 3522h0M2834 3518h0M1720 3559h0M2984 3554h0M3617 3557h0M594 3603h0M2145 3597h0M3261 3603h0M1975 3630h0M1911 3672h0M1532 3704h0M1965 3703h0M2123 3738h0M2130 3706h0M3271 3704h0M3375 3746h0M233 3780h0M2204 3825h0M3373 3825h0M3465 3829h0M567 3847h0M607 3845h0M2002 3859h0M2254 3861h0M3297 3899h0M3378 3892h0M3468 3894h0M586 3920h0M618 3928h0M2257 3932h0M2388 3927h0M3443 3927h0M3480 3924h0M2318 3960h0M3514 3970h0M3628 3971h0M3704 3980h0"/>
<path id="dd81" d="M161 -4h0M206 -7h0M294 -10h0M1736 -10h0M1780 6h0M54 47h0M399 30h0M901 43h0M2001 33h0M329 71h0M374 70h0M548 80h0M2023 72h0M396 109h0M537 124h0M974 145h0M906 195h0M2003 188h0M809 230h0M851 214h0M2023 228h0M3058 264h0M160 298h0M215 299h0M2667 285h0M2947 301h0M3036 303h0M187 334h0M233 340h0M870 340h0M2929 342h0M2974 343h0M290 379h0M795 379h0M444 419h0M2893 409h0M2976 410h0M2925 440h0M306 477h0M351 484h0M2899 493h0M3405 486h0M3511 501h0M680 520h0M1701 523h0M2829 523h0M3554 512h0M1579 558h0M1718 566h0M1763 561h0M1843 553h0M1933 552h0M3614 563h0M1651 596h0M1896 588h0M2831 592h0M703 627h0M1507 626h0M1670 639h0M2809 630h0M1562 659h0M1853 666h0M1897 663h0M1446 687h0M1538 697h0M2938 706h0M628 744h0M1342 739h0M1385 745h0M1429 745h0M1952 732h0M1996 732h0M2831 749h0M2800 781h0M2844 791h0M338 815h0M1297 816h0M1351 813h0M1434 801h0M528 846h0M584 857h0M1326 850h0M2742 840h0M467 888h0M1435 891h0M2746 884h0M2789 897h0M2833 902h0M3252 880h0M443 926h0M697 926h0M1404 923h0M2736 927h0M499 958h0M670 961h0M714 967h0M1983 966h0M2024 952h0M2624 963h0M273 1000h0M516 999h0M605 1003h0M688 1003h0M748 996h0M824 1001h0M1325 997h0M2522 1002h0M2933 992h0M248 1037h0M681 1048h0M1304 1037h0M2107 1031h0M2454 1027h0M2711 1027h0M3123 1034h0M712 1081h0M783 1071h0M1327 1075h0M1423 1083h0M1463 1064h0M2040 1074h0M2350 1077h0M2563 1080h0M2637 1065h0M2687 1063h0M880 1102h0M1349 1114h0M1468 1108h0M2455 1113h0M2664 1101h0M1964 1161h0M2468 1155h0M2645 1139h0M209 1179h0M837 1167h0M2619 1175h0M3117 1177h0M3211 1179h0M187 1218h0M320 1207h0M572 1225h0M2436 1224h0M2472 1199h0M2512 1216h0M2556 1213h0M1763 1256h0M2399 1245h0M2581 1255h0M182 1298h0M407 1285h0M1720 1278h0M2468 1287h0M2512 1291h0M2557 1293h0M428 1337h0M1735 1320h0M2486 1327h0M2574 1333h0M561 1363h0M606 1360h0M2551 1371h0M2944 1365h0M3014 1363h0M672 1413h0M760 1406h0M2918 1400h0M3017 1408h0M3 1435h0M782 1445h0M2591 1435h0M795 1488h0M3842 1477h0M1917 1507h0M2047 1505h0M2641 1518h0M3828 1520h0M3963 1510h0M796 1536h0M2071 1542h0M2562 1551h0M2627 1560h0M3042 1548h0M3980 1552h0M782 1578h0M1874 1573h0M373 1619h0M418 1616h0M1355 1621h0M1893 1614h0M2786 1631h0M3550 1613h0M59 1652h0M103 1660h0M317 1652h0M703 1647h0M781 1642h0M825 1651h0M868 1639h0M991 1656h0M1198 1660h0M1377 1660h0M1892 1658h0M2260 1656h0M38 1701h0M463 1678h0M546 1688h0M590 1686h0M674 1704h0M716 1689h0M880 1683h0M1022 1698h0M615 1723h0M780 1733h0M830 1723h0M875 1727h0M948 1740h0M991 1730h0M1207 1731h0M1408 1737h0M1452 1723h0M2262 1733h0M159 1775h0M684 1757h0M980 1773h0M2031 1772h0M2285 1771h0M235 1795h0M678 1801h0M722 1791h0M820 1798h0M950 1805h0M1010 1806h0M1256 1795h0M677 1845h0M799 1837h0M980 1839h0M1241 1836h0M2268 1836h0M3941 1830h0M437 1870h0M704 1880h0M742 1855h0M780 1878h0M992 1882h0M2011 1868h0M2169 1867h0M467 1903h0M743 1902h0M704 1924h0M847 1911h0M919 1906h0M1315 1904h0M695 1968h0M740 1957h0M905 1958h0M946 1942h0M990 1931h0M1032 1946h0M2023 1942h0M407 1972h0M652 1985h0M724 2001h0M768 2001h0M797 1968h0M836 1990h0M1018 1990h0M1188 1976h0M367 2008h0M411 2017h0M1590 2028h0M2017 2028h0M882 2065h0M749 2099h0M1023 2096h0M1497 2108h0M1967 2100h0M383 2136h0M835 2126h0M922 2139h0M1862 2142h0M1947 2140h0M357 2176h0M654 2174h0M3743 2159h0M3820 2166h0M840 2202h0M885 2206h0M1567 2207h0M1677 2206h0M789 2237h0M1343 2232h0M765 2285h0M1555 2289h0M3823 2320h0M652 2385h0M629 2424h0M840 2421h0M3895 2433h0M519 2460h0M1021 2484h0M3970 2458h0M3807 2492h0M1036 2599h0M3490 2611h0M2500 2635h0M584 2676h0M818 2684h0M1586 2685h0M3275 2686h0M3365 2683h0M3409 2688h0M601 2721h0M3246 2720h0M993 2749h0M3411 2757h0M3541 2784h0M3586 2786h0M791 2818h0M1375 2828h0M3562 2824h0M3609 2823h0M503 2856h0M764 2853h0M2523 2853h0M3631 2862h0M482 2895h0M650 2890h0M780 2895h0M1372 2907h0M1568 2939h0M2913 2947h0M1538 2973h0M1735 2972h0M2951 2972h0M846 2997h0M1567 3006h0M2415 3018h0M2583 3006h0M1576 3050h0M1619 3036h0M3022 3039h0M888 3102h0M1695 3101h0M2572 3080h0M729 3121h0M1582 3117h0M2510 3121h0M2977 3132h0M717 3165h0M760 3153h0M1602 3157h0M1689 3149h0M1730 3168h0M695 3204h0M740 3203h0M1600 3238h0M2238 3234h0M3037 3245h0M3118 3227h0M580 3275h0M906 3259h0M2341 3267h0M2434 3269h0M2479 3269h0M3001 3271h0M3185 3266h0M638 3298h0M712 3308h0M1677 3302h0M2081 3348h0M2156 3383h0M2233 3380h0M2312 3378h0M560 3403h0M2904 3415h0M796 3448h0M2869 3442h0M1971 3492h0M2096 3488h0M2978 3482h0M1478 3513h0M2872 3523h0M3814 3523h0M1496 3554h0M1543 3558h0M1638 3571h0M3578 3561h0M1427 3592h0M1610 3605h0M2109 3583h0M2915 3587h0M1448 3631h0M1749 3637h0M1794 3637h0M1937 3640h0M2128 3631h0M3573 3637h0M170 3668h0M1515 3669h0M150 3709h0M1579 3716h0M2037 3720h0M34 3748h0M169 3750h0M1649 3753h0M2044 3764h0M271 3770h0M2002 3777h0M2043 3809h0M197 3831h0M1770 3815h0M1859 3819h0M272 3855h0M318 3844h0M446 3851h0M258 3898h0M392 3940h0M538 3929h0M466 3972h0"/>
<path id="dd80" d="M115 -5h0M1816 -7h0M1541 44h0M1962 39h0M1901 72h0M610 117h0M910 108h0M1558 101h0M1583 130h0M1964 114h0M588 159h0M935 152h0M274 198h0M819 191h0M2769 200h0M2837 190h0M292 230h0M886 229h0M276 259h0M818 268h0M2730 266h0M2763 263h0M797 300h0M911 340h0M1255 347h0M3012 335h0M2917 379h0M3043 387h0M2938 404h0M371 451h0M733 489h0M718 518h0M1739 530h0M2814 558h0M2847 557h0M3580 544h0M1483 595h0M1515 589h0M1564 594h0M1938 590h0M3601 600h0M1584 628h0M1881 628h0M2894 633h0M1441 648h0M1523 661h0M101 700h0M644 709h0M1370 694h0M1499 701h0M590 740h0M2034 741h0M2793 743h0M2918 740h0M359 772h0M474 809h0M2767 760h0M2834 828h0M445 852h0M620 841h0M1365 849h0M2777 860h0M591 895h0M2708 890h0M607 926h0M2775 933h0M3318 936h0M2796 962h0M3128 961h0M647 992h0M1364 1001h0M1788 998h0M834 1038h0M1895 1040h0M2873 1029h0M312 1074h0M746 1063h0M1739 1071h0M3187 1075h0M2493 1105h0M2535 1111h0M2566 1119h0M2626 1104h0M745 1136h0M859 1135h0M2429 1153h0M2685 1135h0M345 1178h0M377 1174h0M2436 1185h0M2537 1179h0M226 1215h0M281 1214h0M402 1218h0M3234 1211h0M502 1258h0M1482 1255h0M1692 1251h0M141 1293h0M486 1286h0M2597 1292h0M582 1330h0M725 1338h0M1573 1321h0M490 1372h0M734 1370h0M2512 1366h0M2979 1348h0M380 1408h0M577 1438h0M3042 1438h0M42 1485h0M2616 1488h0M3942 1477h0M826 1511h0M2559 1512h0M3055 1512h0M288 1553h0M759 1545h0M2153 1541h0M3853 1550h0M223 1583h0M822 1578h0M2809 1586h0M3872 1579h0M724 1614h0M757 1612h0M803 1611h0M935 1616h0M1570 1604h0M2190 1610h0M2822 1616h0M21 1662h0M435 1651h0M908 1655h0M1931 1662h0M123 1693h0M842 1686h0M1477 1694h0M1522 1697h0M1914 1690h0M2786 1691h0M3510 1701h0M63 1734h0M741 1723h0M909 1745h0M1246 1736h0M726 1753h0M757 1764h0M809 1758h0M927 1773h0M1228 1768h0M1270 1759h0M2247 1769h0M613 1798h0M785 1781h0M1361 1806h0M2007 1803h0M207 1842h0M1340 1835h0M2232 1848h0M3124 1837h0M875 1885h0M1036 1877h0M1336 1871h0M671 1904h0M961 1906h0M1354 1908h0M270 1947h0M1209 1944h0M685 2005h0M880 1988h0M746 2033h0M782 2036h0M901 2013h0M2093 2023h0M799 2065h0M843 2062h0M920 2056h0M1573 2063h0M3602 2063h0M788 2095h0M1200 2093h0M760 2135h0M3712 2135h0M1886 2172h0M3781 2164h0M3918 2170h0M641 2211h0M678 2205h0M1606 2206h0M1772 2197h0M1376 2254h0M1664 2242h0M3782 2241h0M745 2319h0M686 2355h0M674 2426h0M709 2429h0M982 2484h0M1033 2523h0M1018 2552h0M3914 2527h0M597 2565h0M847 2571h0M880 2567h0M567 2610h0M586 2637h0M810 2639h0M970 2659h0M3496 2685h0M967 2720h0M1051 2717h0M3510 2715h0M603 2759h0M1589 2747h0M3572 2750h0M588 2789h0M1691 2784h0M3252 2795h0M3285 2794h0M3504 2775h0M603 2818h0M1280 2825h0M1542 2836h0M631 2857h0M1566 2863h0M1547 2907h0M3548 2936h0M1697 2967h0M2484 2973h0M3610 2969h0M702 3043h0M2593 3043h0M3408 3052h0M2923 3073h0M906 3136h0M1659 3124h0M1722 3129h0M2412 3117h0M936 3149h0M1703 3196h0M1688 3225h0M729 3273h0M1625 3268h0M2205 3253h0M2384 3273h0M3102 3267h0M601 3308h0M3008 3311h0M553 3365h0M879 3379h0M2194 3382h0M14 3397h0M598 3410h0M2133 3414h0M2221 3416h0M2942 3407h0M592 3445h0M625 3461h0M3980 3442h0M725 3487h0M781 3483h0M2890 3489h0M3964 3471h0M1437 3501h0M1592 3563h0M2001 3556h0M1648 3612h0M1982 3598h0M1710 3639h0M1812 3675h0M1944 3678h0M3591 3671h0M2003 3700h0M81 3750h0M262 3732h0M1988 3739h0M101 3776h0M1725 3787h0M345 3816h0M421 3821h0M1820 3815h0M486 3849h0M343 3892h0M2324 3895h0M356 3924h0"/>
<path id="dd91" d="M250 1h0M1688 -9h0M226 39h0M1915 33h0M120 77h0M1853 84h0M2003 112h0M1643 146h0M1979 150h0M387 191h0M306 301h0M836 303h0M352 332h0M311 419h0M675 592h0M659 634h0M636 672h0M606 705h0M1407 706h0M563 817h0M568 926h0M645 923h0M3220 911h0M287 959h0M456 969h0M543 964h0M2952 951h0M560 1005h0M3145 996h0M3264 974h0M722 1032h0M873 1040h0M1348 1036h0M2590 1044h0M784 1140h0M1545 1133h0M2509 1140h0M253 1187h0M1527 1174h0M364 1211h0M441 1216h0M486 1216h0M1548 1214h0M1635 1211h0M626 1259h0M1520 1248h0M317 1287h0M362 1286h0M554 1303h0M693 1292h0M1544 1296h0M-10 1317h0M126 1329h0M473 1337h0M1649 1325h0M2530 1331h0M585 1400h0M350 1441h0M479 1444h0M737 1444h0M3870 1438h0M3911 1455h0M341 1491h0M413 1472h0M720 1485h0M2913 1484h0M278 1516h0M439 1509h0M521 1508h0M2002 1509h0M593 1539h0M846 1544h0M1946 1541h0M2115 1539h0M2236 1543h0M2913 1529h0M474 1591h0M572 1578h0M738 1578h0M1500 1585h0M3943 1577h0M296 1612h0M1400 1622h0M520 1651h0M659 1645h0M1533 1660h0M635 1683h0M919 1705h0M2020 1689h0M3469 1696h0M101 1744h0M2010 1733h0M2801 1727h0M3876 1725h0M848 1763h0M1384 1775h0M2875 1760h0M868 1803h0M762 1812h0M874 1847h0M917 1836h0M829 1870h0M947 1870h0M1270 1902h0M452 1971h0M779 1928h0M860 1953h0M1380 1952h0M2099 1949h0M1438 1987h0M2076 1988h0M820 2032h0M1204 2018h0M211 2056h0M256 2062h0M1184 2058h0M1687 2052h0M1821 2062h0M1940 2064h0M1796 2100h0M719 2132h0M1541 2121h0M1815 2140h0M1904 2127h0M699 2172h0M743 2170h0M1709 2174h0M3871 2169h0M658 2252h0M700 2237h0M744 2241h0M720 2279h0M1414 2267h0M703 2320h0M3873 2317h0M650 2340h0M3961 2386h0M496 2419h0M586 2415h0M3851 2429h0M3940 2425h0M3869 2470h0M554 2489h0M721 2502h0M3936 2495h0M658 2532h0M746 2540h0M680 2581h0M2708 2582h0M605 2603h0M3445 2608h0M992 2691h0M1629 2672h0M1672 2750h0M721 2794h0M1580 2827h0M1395 2868h0M3586 2862h0M693 2879h0M1585 2897h0M1347 2944h0M736 2957h0M2613 2972h0M1718 3014h0M1763 3007h0M2450 2990h0M2966 3014h0M3551 3007h0M741 3044h0M2508 3039h0M2552 3040h0M2980 3056h0M1608 3081h0M2441 3092h0M2448 3048h0M2527 3079h0M2955 3093h0M3549 3081h0M1758 3117h0M1647 3161h0M2400 3153h0M3047 3161h0M1621 3198h0M2388 3194h0M2433 3186h0M3055 3204h0M756 3245h0M921 3217h0M1650 3231h0M2373 3236h0M1697 3263h0M2174 3276h0M808 3299h0M2319 3305h0M3207 3304h0M654 3340h0M890 3342h0M2341 3344h0M758 3370h0M2962 3374h0M786 3404h0M2029 3448h0M2117 3448h0M2913 3458h0M2018 3519h0M3004 3518h0M1471 3591h0M2021 3599h0M2065 3595h0M3553 3598h0M55 3637h0M81 3674h0M2098 3664h0M1626 3714h0M-10 3741h0M214 3746h0M1884 3767h0M228 3864h0M362 3855h0M528 3855h0M383 3895h0M562 3885h0"/>
<path id="dd90" d="M84 10h0M945 43h0M1630 41h0M81 76h0M1529 77h0M1939 63h0M266 120h0M54 188h0M870 180h0M314 263h0M418 384h0M339 446h0M692 557h0M1801 551h0M1469 630h0M602 814h0M2871 820h0M483 923h0M3184 924h0M1570 952h0M3042 954h0M477 1004h0M785 1007h0M1461 997h0M1493 990h0M2734 997h0M801 1036h0M822 1069h0M854 1074h0M751 1098h0M841 1104h0M1944 1117h0M292 1180h0M1565 1168h0M104 1216h0M3202 1216h0M108 1291h0M1797 1289h0M1605 1329h0M523 1372h0M439 1442h0M543 1432h0M374 1471h0M452 1472h0M628 1478h0M758 1477h0M401 1519h0M482 1508h0M608 1503h0M653 1507h0M734 1524h0M1964 1507h0M3867 1510h0M169 1539h0M387 1551h0M420 1547h0M1901 1542h0M397 1583h0M534 1573h0M699 1581h0M1461 1588h0M3904 1582h0M554 1612h0M635 1614h0M688 1612h0M836 1614h0M903 1623h0M3889 1611h0M610 1653h0M742 1646h0M1495 1667h0M2222 1660h0M2804 1664h0M335 1687h0M1981 1689h0M1287 1731h0M2223 1731h0M887 1769h0M1345 1776h0M2835 1773h0M907 1798h0M1295 1800h0M3914 1799h0M838 1832h0M2023 1832h0M904 1871h0M2118 1868h0M809 1904h0M884 1923h0M2026 1904h0M821 1939h0M369 1970h0M1627 2016h0M1873 2021h0M1927 2027h0M2055 2020h0M338 2064h0M963 2052h0M141 2092h0M1909 2089h0M796 2127h0M816 2160h0M1748 2172h0M1790 2170h0M760 2205h0M630 2280h0M542 2349h0M1534 2346h0M562 2378h0M614 2389h0M859 2386h0M3980 2420h0M566 2452h0M602 2451h0M3861 2508h0M2713 2634h0M948 2683h0M1029 2679h0M3448 2683h0M790 2712h0M1606 2718h0M647 2766h0M3525 2749h0M621 2787h0M1568 2790h0M752 2817h0M1663 2832h0M2638 2894h0M677 2935h0M1678 2923h0M1587 2973h0M2527 2962h0M765 3011h0M1607 2999h0M1646 3007h0M1681 3001h0M2501 3001h0M2474 3020h0M1732 3087h0M2994 3097h0M782 3121h0M1627 3119h0M3018 3128h0M799 3149h0M791 3229h0M1657 3269h0M750 3300h0M1600 3289h0M2241 3316h0M3084 3294h0M576 3337h0M693 3342h0M814 3338h0M2981 3339h0M2273 3381h0M624 3429h0M868 3410h0M2097 3415h0M692 3493h0M2008 3481h0M3799 3483h0M1980 3530h0M2078 3559h0M1517 3589h0M13 3633h0M2007 3635h0M1729 3671h0M2020 3666h0M1924 3705h0M138 3774h0M1754 3772h0M506 3959h0"/>
<path id="dd101" d="M1644 4h0M1580 32h0M1603 74h0M757 518h0M731 555h0M585 779h0M522 920h0M622 962h0M640 1029h0M3147 1074h0M3172 1111h0M1499 1139h0M1483 1181h0M1602 1181h0M3169 1193h0M419 1409h0M465 1402h0M509 1411h0M716 1404h0M616 1441h0M520 1463h0M566 1503h0M209 1547h0M459 1549h0M503 1549h0M617 1576h0M515 1607h0M596 1616h0M1445 1624h0M1489 1628h0M566 1649h0M3363 1651h0M1314 1703h0M1359 1701h0M3298 1693h0M3393 1684h0M3923 1723h0M1309 1763h0M3901 1762h0M3972 1798h0M247 1839h0M224 1877h0M313 1866h0M368 1858h0M398 1892h0M246 1916h0M385 1934h0M309 1943h0M430 1930h0M1897 2052h0M1841 2103h0M1770 2137h0M3799 2205h0M3822 2243h0M3846 2281h0M567 2320h0M613 2315h0M594 2355h0M3851 2355h0M3899 2353h0M520 2381h0M3876 2392h0M541 2421h0M635 2570h0M648 2613h0M622 2649h0M704 2679h0M745 2662h0M645 2727h0M750 2709h0M1648 2712h0M685 2747h0M729 2751h0M774 2747h0M1628 2752h0M3456 2757h0M779 2970h0M728 3001h0M2539 2998h0M2918 3002h0M1663 3042h0M1705 3057h0M1749 3049h0M2900 3042h0M758 3087h0M1653 3086h0M2484 3157h0M783 3191h0M1727 3230h0M2417 3228h0M2180 3346h0M2290 3339h0M594 3371h0M714 3374h0M842 3368h0M830 3411h0M679 3457h0M3838 3485h0M3881 3474h0M3926 3476h0M1399 3510h0M3858 3524h0M1451 3551h0M428 3892h0M506 3895h0"/>
<path id="dd100" d="M1564 68h0M1615 118h0M1685 148h0M1724 144h0M776 554h0M714 589h0M3212 957h0M765 1036h0M806 1102h0M3133 1110h0M822 1131h0M1584 1141h0M3116 1138h0M3192 1145h0M1508 1211h0M438 1375h0M689 1376h0M546 1399h0M394 1438h0M698 1444h0M558 1465h0M594 1473h0M3881 1479h0M765 1513h0M355 1548h0M551 1543h0M631 1538h0M3886 1542h0M3923 1543h0M456 1625h0M482 1644h0M1336 1735h0M1369 1739h0M3940 1766h0M3975 1759h0M1328 1804h0M1278 1846h0M1243 1875h0M1304 1866h0M285 1913h0M347 1944h0M1400 1985h0M1858 2051h0M784 2157h0M721 2204h0M682 2283h0M3966 2312h0M3980 2351h0M3919 2392h0M3831 2462h0M3908 2469h0M3894 2499h0M777 2640h0M621 2688h0M654 2689h0M779 2681h0M680 2709h0M712 2717h0M764 2786h0M725 2857h0M3609 2894h0M2888 2977h0M2879 3009h0M2941 3044h0M1771 3081h0M2472 3115h0M3083 3145h0M1670 3197h0M2471 3194h0M775 3279h0M615 3338h0M2219 3344h0M2252 3347h0M633 3373h0M675 3372h0M799 3368h0M468 3888h0M485 3929h0"/>
<path id="dd111" d="M1597 -10h0M287 87h0M528 789h0M3153 1151h0M630 1398h0M304 1465h0M3913 1505h0M660 1585h0M1533 1616h0M3980 1612h0M3343 1691h0M3898 1686h0M354 1901h0M3942 2343h0M668 2653h0M2511 2895h0M713 2919h0M2483 3077h0M2442 3140h0M2275 3297h0M2363 3305h0M776 3329h0M2051 3410h0M2046 3636h0M1774 3738h0M439 3936h0"/>
<path id="dd110" d="M1725 1035h0M1459 1146h0M1586 1216h0M369 1518h0M434 1578h0M1307 1830h0M316 1905h0M1876 2086h0M655 2302h0M687 2620h0M712 2641h0M736 3338h0M401 3859h0"/>
<path id="dd121" d="M318 28h0M1747 42h0M165 81h0M374 149h0M94 194h0M208 222h0M397 421h0M399 921h0M295 1039h0M2664 1026h0M1906 1125h0M610 1303h0M1621 1290h0M81 1327h0M218 1324h0M341 1326h0M687 1337h0M1692 1331h0M148 1368h0M192 1360h0M-10 1392h0M211 1401h0M2974 1398h0M137 1436h0M183 1436h0M275 1432h0M158 1476h0M3017 1508h0M2192 1535h0M1918 1577h0M2171 1576h0M2117 1618h0M2178 1646h0M3491 1658h0M2153 1700h0M272 1725h0M2185 1730h0M283 1771h0M2208 1768h0M2126 1792h0M2221 1811h0M1248 1941h0M1371 2012h0M1361 2055h0M1642 2051h0M179 2087h0M1454 2089h0M1628 2097h0M1705 2093h0M338 2135h0M1442 2165h0M3894 2277h0M3980 2268h0M1515 2311h0M691 2464h0M598 2490h0M942 2503h0M579 2530h0M957 2545h0M994 2583h0M1045 2643h0M3470 2714h0M3269 2759h0M3313 2767h0M1624 2832h0M3315 2820h0M526 2896h0M572 2895h0M2555 2884h0M2600 2886h0M1613 2944h0M2498 2937h0M2619 2927h0M3598 2931h0M2568 2964h0M3571 2967h0M3595 3005h0M803 3089h0M847 3084h0M3417 3096h0M3230 3266h0M3041 3291h0M3252 3305h0M743 3414h0M698 3416h0M2956 3444h0M2063 3518h0M2960 3523h0M1493 3630h0M1581 3638h0M1669 3649h0M-8 3666h0M18 3705h0M1881 3697h0M1723 3748h0M240 3818h0M287 3812h0"/>
<path id="dd120" d="M359 34h0M1704 39h0M1788 48h0M1815 74h0M101 112h0M413 846h0M349 852h0M360 922h0M374 952h0M1755 1003h0M2850 994h0M1475 1027h0M2625 1028h0M38 1257h0M121 1254h0M648 1293h0M1582 1290h0M164 1333h0M302 1323h0M326 1362h0M359 1360h0M701 1519h0M2946 1504h0M2978 1510h0M252 1545h0M710 1550h0M3434 1615h0M269 1664h0M3924 1657h0M1446 1685h0M2837 1741h0M2069 1770h0M2045 1808h0M2048 1880h0M1251 2021h0M1289 2022h0M1606 2065h0M1377 2097h0M1293 2166h0M3953 2171h0M1383 2222h0M1444 2205h0M3911 2242h0M1515 2272h0M955 2584h0M3343 2794h0M1609 2868h0M2580 2920h0M1632 2977h0M1665 2972h0M2412 2980h0M824 3122h0M884 3227h0M844 3285h0M2115 3387h0M2043 3484h0M1631 3640h0M2089 3626h0M1844 3708h0M1684 3736h0M1948 3732h0"/>
<path id="dd131" d="M343 -10h0M136 34h0M181 39h0M276 42h0M1826 36h0M1871 43h0M243 80h0M1652 83h0M141 119h0M186 122h0M350 111h0M1708 109h0M1792 105h0M35 144h0M79 151h0M123 160h0M420 156h0M1763 139h0M155 193h0M236 184h0M123 228h0M113 272h0M188 263h0M234 258h0M260 295h0M278 336h0M334 379h0M379 380h0M382 804h0M435 814h0M334 888h0M378 881h0M422 883h0M322 930h0M2692 925h0M3279 932h0M411 964h0M1527 971h0M2668 963h0M2713 965h0M3173 961h0M318 992h0M364 995h0M2888 994h0M3196 1000h0M339 1032h0M1514 1022h0M1565 1023h0M1763 1041h0M1807 1032h0M1849 1046h0M1792 1075h0M1916 1081h0M1869 1148h0M1920 1167h0M1854 1190h0M142 1218h0M73 1240h0M582 1268h0M1564 1255h0M1608 1247h0M1653 1252h0M68 1284h0M1677 1290h0M35 1315h0M263 1323h0M385 1325h0M642 1334h0M14 1355h0M58 1365h0M103 1367h0M287 1361h0M397 1369h0M35 1404h0M255 1391h0M343 1397h0M48 1447h0M92 1440h0M231 1441h0M661 1456h0M2947 1434h0M113 1480h0M203 1476h0M260 1474h0M2969 1473h0M3012 1463h0M233 1510h0M670 1541h0M2026 1546h0M2955 1541h0M2998 1549h0M262 1583h0M1962 1583h0M2006 1586h0M2051 1584h0M2095 1579h0M2216 1581h0M2260 1590h0M254 1627h0M1938 1623h0M2230 1623h0M3473 1617h0M3927 1619h0M2001 1649h0M2046 1651h0M2090 1654h0M2135 1659h0M2840 1650h0M3406 1641h0M3447 1657h0M3535 1655h0M3579 1657h0M3963 1653h0M85 1701h0M1408 1692h0M2065 1691h0M2109 1695h0M2195 1687h0M2830 1693h0M3980 1695h0M316 1721h0M2055 1735h0M2131 1739h0M327 1764h0M2164 1769h0M310 1808h0M354 1800h0M2084 1806h0M2176 1812h0M2060 1844h0M2138 1835h0M270 1877h0M2066 1914h0M2110 1906h0M1292 1942h0M1337 1943h0M1232 1983h0M1277 1985h0M2032 1986h0M1327 2011h0M1414 2025h0M1228 2067h0M1271 2056h0M1316 2055h0M1404 2068h0M273 2104h0M316 2096h0M361 2097h0M1293 2095h0M1338 2094h0M1270 2134h0M1315 2134h0M1360 2132h0M1404 2142h0M1551 2165h0M1406 2191h0M1486 2176h0M1317 2196h0M1523 2200h0M3844 2204h0M3895 2207h0M3978 2200h0M3867 2242h0M3950 2235h0M1451 2293h0M3938 2284h0M1604 2355h0M796 2428h0M917 2429h0M736 2460h0M779 2470h0M824 2467h0M867 2457h0M909 2473h0M952 2460h0M643 2490h0M874 2501h0M791 2538h0M907 2531h0M995 2520h0M918 2574h0M3424 2569h0M3468 2571h0M963 2621h0M2544 2640h0M3298 2725h0M3383 2723h0M3356 2758h0M676 2791h0M1606 2791h0M1653 2792h0M642 2820h0M696 2832h0M548 2857h0M593 2855h0M1263 2859h0M1343 2860h0M1328 2902h0M1629 2902h0M2467 2903h0M2455 2946h0M2542 2927h0M804 3007h0M786 3048h0M832 3042h0M3480 3045h0M3525 3043h0M3579 3047h0M3376 3080h0M3459 3084h0M3504 3083h0M837 3158h0M824 3207h0M867 3192h0M907 3174h0M819 3255h0M850 3323h0M2125 3350h0M3066 3328h0M3006 3369h0M3051 3370h0M655 3405h0M2986 3411h0M3031 3410h0M751 3458h0M2073 3449h0M3009 3449h0M2916 3517h0M2039 3558h0M1566 3596h0M1537 3630h0M3630 3599h0M1559 3676h0M1610 3673h0M1773 3676h0M2056 3680h0M64 3715h0M1741 3707h0M118 3741h0M1820 3738h0M2091 3708h0M195 3787h0M1795 3778h0M1840 3778h0M1958 3769h0"/>
<path id="dd130" d="M96 46h0M1663 46h0M204 80h0M1691 73h0M1729 76h0M1769 74h0M68 114h0M225 117h0M310 119h0M1670 118h0M1748 103h0M175 159h0M210 153h0M244 146h0M197 184h0M84 233h0M169 229h0M253 224h0M149 258h0M315 346h0M354 413h0M411 778h0M380 843h0M343 962h0M584 966h0M2876 957h0M2909 961h0M3241 943h0M1563 984h0M1594 996h0M2638 998h0M2689 996h0M2979 992h0M3107 999h0M1893 1194h0M1806 1258h0M15 1280h0M1764 1294h0M241 1355h0M656 1370h0M85 1402h0M125 1400h0M172 1399h0M304 1396h0M3055 1399h0M313 1427h0M2986 1435h0M681 1490h0M190 1513h0M1985 1547h0M2134 1583h0M1977 1618h0M2030 1616h0M2070 1620h0M2157 1613h0M3379 1614h0M3512 1612h0M1420 1655h0M1464 1657h0M1963 1658h0M251 1691h0M293 1689h0M2868 1677h0M3941 1689h0M134 1724h0M233 1729h0M2093 1731h0M3961 1729h0M246 1758h0M2101 1763h0M271 1809h0M2258 1799h0M286 1838h0M337 1835h0M2099 1842h0M2200 1843h0M2086 1874h0M2060 1953h0M1314 1974h0M1349 1980h0M1442 2052h0M235 2095h0M1254 2096h0M1416 2105h0M1665 2084h0M299 2133h0M1441 2126h0M1473 2139h0M1667 2116h0M1340 2165h0M1375 2168h0M1515 2150h0M1360 2198h0M1476 2214h0M3933 2199h0M1419 2228h0M1452 2249h0M1500 2238h0M1482 2269h0M3914 2315h0M1565 2337h0M879 2420h0M654 2453h0M682 2502h0M767 2507h0M802 2501h0M835 2504h0M619 2523h0M1002 2621h0M1007 2654h0M2743 2649h0M1018 2720h0M3338 2721h0M3428 2722h0M3493 2745h0M567 2818h0M1313 2832h0M664 2853h0M1305 2864h0M1645 2867h0M1679 2861h0M2486 2865h0M1286 2891h0M1667 2892h0M1651 2942h0M856 3124h0M3444 3124h0M877 3150h0M852 3234h0M2455 3232h0M3080 3234h0M868 3262h0M3070 3265h0M875 3294h0M2111 3314h0M3028 3337h0M2082 3386h0M2940 3487h0M2937 3555h0M3592 3598h0M3612 3633h0M40 3673h0M1648 3682h0M1697 3677h0M1849 3675h0M105 3704h0M1665 3709h0M1702 3709h0M1799 3706h0M1865 3733h0M1901 3731h0M1921 3757h0"/>
<path id="ddm1" d="M1539 1059h0M1583 1065h0M1517 1098h0M1600 1106h0M1645 1103h0M1688 1114h0M1733 1109h0M1814 1114h0M1860 1104h0M1625 1143h0M1714 1150h0M1759 1145h0M1684 1183h0M2874 1551h0M2926 1575h0M2970 1583h0M2875 1623h0M2920 1619h0M2964 1626h0M3007 1618h0M2937 1662h0M3059 1654h0M2904 1692h0M2947 1706h0M2991 1698h0M3034 1691h0M3079 1695h0M2868 1716h0M2913 1735h0M3018 1733h0M2927 1778h0M2969 1800h0M3014 1798h0M3058 1799h0M2993 1838h0M3038 1838h0M3085 1835h0M1933 1872h0M2927 1882h0M2971 1876h0M1987 1907h0M2920 1925h0M2995 1913h0M1979 1951h0M1988 1994h0M1984 2058h0M702 2543h0M3158 2565h0M741 2614h0M784 2602h0M3139 2605h0M3184 2601h0M3229 2598h0M3273 2608h0M3166 2641h0M3210 2638h0M3253 2648h0M3197 2681h0M1154 2746h0M1196 2760h0M1241 2766h0M3152 2754h0M3224 2759h0M3170 2795h0M3214 2803h0M3143 2830h0M3186 2838h0M3203 2880h0M3170 2909h0M3204 2938h0M3146 2981h0M3232 2974h0M2366 3072h0M3029 3083h0M3073 3074h0M3123 3071h0M2230 3121h0M2276 3111h0M2370 3117h0M3056 3117h0M3100 3110h0M2278 3155h0M2355 3159h0M2300 3194h0M2344 3202h0M2283 3236h0M2235 3278h0M2150 3313h0M2203 3309h0"/>
<path id="ddm0" d="M1501 1062h0M1620 1073h0M1830 1079h0M1879 1070h0M1562 1098h0M1775 1110h0M1666 1147h0M1797 1150h0M1830 1149h0M1647 1175h0M1677 1221h0M1709 1213h0M2889 1587h0M3023 1582h0M3046 1618h0M2899 1653h0M2976 1663h0M3013 1656h0M2979 1735h0M3056 1726h0M2962 1762h0M2995 1764h0M3037 1767h0M2934 1816h0M1944 1833h0M2951 1844h0M1972 1871h0M3018 1876h0M1949 1912h0M2957 1913h0M2971 1943h0M1963 2026h0M830 2537h0M863 2538h0M721 2577h0M754 2578h0M814 2569h0M3236 2683h0M3174 2715h0M3208 2718h0M3189 2744h0M1269 2793h0M3121 2863h0M3164 2870h0M3135 2892h0M3136 2927h0M3167 2948h0M3189 2974h0M3132 3017h0M3174 3008h0M3206 3002h0M3104 3037h0M3158 3036h0M2318 3095h0M2325 3127h0M2238 3159h0M2317 3159h0M2321 3233h0M2302 3270h0"/>
</defs>
<g transform="translate(1594.0 64.0) scale(.1)" fill="none" stroke-linecap="round" clip-path="url(#cd)">
<use href="#dd01" stroke="#275171" stroke-width="47"/>
<use href="#dd00" stroke="#275171" stroke-width="35"/>
<use href="#dd11" stroke="#235b71" stroke-width="47"/>
<use href="#dd10" stroke="#235b71" stroke-width="35"/>
<use href="#dd21" stroke="#1f6471" stroke-width="47"/>
<use href="#dd20" stroke="#1f6471" stroke-width="35"/>
<use href="#dd31" stroke="#1b6e71" stroke-width="47"/>
<use href="#dd30" stroke="#1b6e71" stroke-width="35"/>
<use href="#dd41" stroke="#18786f" stroke-width="47"/>
<use href="#dd40" stroke="#18786f" stroke-width="35"/>
<use href="#dd51" stroke="#19816b" stroke-width="47"/>
<use href="#dd50" stroke="#19816b" stroke-width="35"/>
<use href="#dd61" stroke="#208b66" stroke-width="47"/>
<use href="#dd60" stroke="#208b66" stroke-width="35"/>
<use href="#dd71" stroke="#2c945f" stroke-width="47"/>
<use href="#dd70" stroke="#2c945f" stroke-width="35"/>
<use href="#dd81" stroke="#3f9c54" stroke-width="47"/>
<use href="#dd80" stroke="#3f9c54" stroke-width="35"/>
<use href="#dd91" stroke="#56a447" stroke-width="47"/>
<use href="#dd90" stroke="#56a447" stroke-width="35"/>
<use href="#dd101" stroke="#6faa38" stroke-width="47"/>
<use href="#dd100" stroke="#6faa38" stroke-width="35"/>
<use href="#dd111" stroke="#8ab026" stroke-width="47"/>
<use href="#dd110" stroke="#8ab026" stroke-width="35"/>
<use href="#dd121" stroke="#a4b317" stroke-width="47"/>
<use href="#dd120" stroke="#a4b317" stroke-width="35"/>
<use href="#dd131" stroke="#beb716" stroke-width="47"/>
<use href="#dd130" stroke="#beb716" stroke-width="35"/>
<use href="#ddm1" stroke="#9f3d92" stroke-width="47"/>
<use href="#ddm0" stroke="#9f3d92" stroke-width="35"/>
<use href="#dd01" stroke="#336993" stroke-width="38"/>
<use href="#dd00" stroke="#336993" stroke-width="27"/>
<use href="#dd11" stroke="#2d7793" stroke-width="38"/>
<use href="#dd10" stroke="#2d7793" stroke-width="27"/>
<use href="#dd21" stroke="#298293" stroke-width="38"/>
<use href="#dd20" stroke="#298293" stroke-width="27"/>
<use href="#dd31" stroke="#248f93" stroke-width="38"/>
<use href="#dd30" stroke="#248f93" stroke-width="27"/>
<use href="#dd41" stroke="#209c90" stroke-width="38"/>
<use href="#dd40" stroke="#209c90" stroke-width="27"/>
<use href="#dd51" stroke="#20a88c" stroke-width="38"/>
<use href="#dd50" stroke="#20a88c" stroke-width="27"/>
<use href="#dd61" stroke="#29b585" stroke-width="38"/>
<use href="#dd60" stroke="#29b585" stroke-width="27"/>
<use href="#dd71" stroke="#3ac07b" stroke-width="38"/>
<use href="#dd70" stroke="#3ac07b" stroke-width="27"/>
<use href="#dd81" stroke="#52cb6e" stroke-width="38"/>
<use href="#dd80" stroke="#52cb6e" stroke-width="27"/>
<use href="#dd91" stroke="#6fd55d" stroke-width="38"/>
<use href="#dd90" stroke="#6fd55d" stroke-width="27"/>
<use href="#dd101" stroke="#90de49" stroke-width="38"/>
<use href="#dd100" stroke="#90de49" stroke-width="27"/>
<use href="#dd111" stroke="#b3e532" stroke-width="38"/>
<use href="#dd110" stroke="#b3e532" stroke-width="27"/>
<use href="#dd121" stroke="#d5e91e" stroke-width="38"/>
<use href="#dd120" stroke="#d5e91e" stroke-width="27"/>
<use href="#dd131" stroke="#f8ee1c" stroke-width="38"/>
<use href="#dd130" stroke="#f8ee1c" stroke-width="27"/>
<use href="#ddm1" stroke="#ce4fbe" stroke-width="38"/>
<use href="#ddm0" stroke="#ce4fbe" stroke-width="27"/>
</g>
<defs><linearGradient id="vir" x1="0" x2="1" y1="0" y2="0">
<stop offset="0.0" stop-color="#440154"/>
<stop offset="0.1" stop-color="#482374"/>
<stop offset="0.2" stop-color="#404387"/>
<stop offset="0.3" stop-color="#345e8d"/>
<stop offset="0.4" stop-color="#29788e"/>
<stop offset="0.5" stop-color="#20908c"/>
<stop offset="0.6" stop-color="#22a784"/>
<stop offset="0.7" stop-color="#44be70"/>
<stop offset="0.8" stop-color="#79d151"/>
<stop offset="0.9" stop-color="#bdde26"/>
<stop offset="1.0" stop-color="#fde724"/>
</linearGradient></defs>
<rect x="1636" y="446" width="279" height="13" fill="url(#vir)"/>
<g style="font-family:Liberation Sans,sans-serif" font-size="15" fill="#111"><text x="1624.5" y="458.5">0</text><text x="1918.5" y="458.5">0.01</text></g>
</g>
<g id="pe">
<g fill="#008000" stroke="#0000ff" stroke-width="1.1">
<rect x="1636.7" y="535.5" width="24.9" height="328.9"/>
<rect x="1667.9" y="580.3" width="24.9" height="284.1"/>
<rect x="1699" y="681.2" width="24.9" height="183.2"/>
<rect x="1730.2" y="713.4" width="24.9" height="151"/>
<rect x="1761.3" y="795.3" width="24.9" height="69.1"/>
<rect x="1792.4" y="827.2" width="24.9" height="37.2"/>
<rect x="1823.6" y="810.1" width="24.9" height="54.3"/>
<rect x="1854.7" y="840" width="24.9" height="24.4"/>
<rect x="1885.9" y="847" width="24.9" height="17.4"/>
<rect x="1917" y="854.5" width="24.9" height="9.9"/>
<rect x="1948.1" y="862.1" width="24.9" height="2.3"/>
</g>
<path d="M1649.2 864.4V859.4M1711.5 864.4V859.4M1773.8 864.4V859.4M1836 864.4V859.4M1898.3 864.4V859.4M1960.6 864.4V859.4M1649.2 518.9V523.9M1711.5 518.9V523.9M1773.8 518.9V523.9M1836 518.9V523.9M1898.3 518.9V523.9M1960.6 518.9V523.9M1620.1 864.4H1625.1M1620.1 806.3H1625.1M1620.1 748.3H1625.1M1620.1 690.2H1625.1M1620.1 632.2H1625.1M1620.1 574.1H1625.1M1990.2 864.4H1985.2M1990.2 806.3H1985.2M1990.2 748.3H1985.2M1990.2 690.2H1985.2M1990.2 632.2H1985.2M1990.2 574.1H1985.2" stroke="#000" stroke-width="1.4" fill="none"/>
<path d="M1633.6 864.4V861.6M1664.8 864.4V861.6M1680.3 864.4V861.6M1695.9 864.4V861.6M1727 864.4V861.6M1742.6 864.4V861.6M1758.2 864.4V861.6M1789.3 864.4V861.6M1804.9 864.4V861.6M1820.5 864.4V861.6M1851.6 864.4V861.6M1867.2 864.4V861.6M1882.8 864.4V861.6M1913.9 864.4V861.6M1929.5 864.4V861.6M1945 864.4V861.6M1976.2 864.4V861.6M1633.6 518.9V521.7M1664.8 518.9V521.7M1680.3 518.9V521.7M1695.9 518.9V521.7M1727 518.9V521.7M1742.6 518.9V521.7M1758.2 518.9V521.7M1789.3 518.9V521.7M1804.9 518.9V521.7M1820.5 518.9V521.7M1851.6 518.9V521.7M1867.2 518.9V521.7M1882.8 518.9V521.7M1913.9 518.9V521.7M1929.5 518.9V521.7M1945 518.9V521.7M1976.2 518.9V521.7M1620.1 852.8H1622.9M1620.1 841.2H1622.9M1620.1 829.6H1622.9M1620.1 818H1622.9M1620.1 794.7H1622.9M1620.1 783.1H1622.9M1620.1 771.5H1622.9M1620.1 759.9H1622.9M1620.1 736.7H1622.9M1620.1 725.1H1622.9M1620.1 713.4H1622.9M1620.1 701.8H1622.9M1620.1 678.6H1622.9M1620.1 667H1622.9M1620.1 655.4H1622.9M1620.1 643.8H1622.9M1620.1 620.5H1622.9M1620.1 608.9H1622.9M1620.1 597.3H1622.9M1620.1 585.7H1622.9M1620.1 562.5H1622.9M1620.1 550.9H1622.9M1620.1 539.3H1622.9M1620.1 527.7H1622.9M1990.2 852.8H1987.4M1990.2 841.2H1987.4M1990.2 829.6H1987.4M1990.2 818H1987.4M1990.2 794.7H1987.4M1990.2 783.1H1987.4M1990.2 771.5H1987.4M1990.2 759.9H1987.4M1990.2 736.7H1987.4M1990.2 725.1H1987.4M1990.2 713.4H1987.4M1990.2 701.8H1987.4M1990.2 678.6H1987.4M1990.2 667H1987.4M1990.2 655.4H1987.4M1990.2 643.8H1987.4M1990.2 620.5H1987.4M1990.2 608.9H1987.4M1990.2 597.3H1987.4M1990.2 585.7H1987.4M1990.2 562.5H1987.4M1990.2 550.9H1987.4M1990.2 539.3H1987.4M1990.2 527.7H1987.4" stroke="#000" stroke-width="0.9" fill="none"/>
<rect x="1620.1" y="518.9" width="370.10000000000014" height="345.5" fill="none" stroke="#000" stroke-width="1.5"/>
<g font-size="17.3">
<g text-anchor="middle">
<text x="1649.2" y="883.6">4</text>
<text x="1711.5" y="883.6">6</text>
<text x="1773.8" y="883.6">8</text>
<text x="1836" y="883.6">10</text>
<text x="1898.3" y="883.6">12</text>
<text x="1960.6" y="883.6">14</text>
</g><g text-anchor="end">
<text x="1616.8" y="870.9">0.00</text>
<text x="1616.8" y="812.8">0.05</text>
<text x="1616.8" y="754.8">0.10</text>
<text x="1616.8" y="696.7">0.15</text>
<text x="1616.8" y="638.7">0.20</text>
<text x="1616.8" y="580.6">0.25</text>
</g>
<text x="1780" y="904.5" font-size="19.2"><tspan font-style="italic">L</tspan><tspan font-size="13.4" dy="3">string</tspan></text>
<text transform="translate(1570.9 692.4) rotate(-90)" text-anchor="middle" font-size="18.9">frequency</text>
</g></g>
<g id="pg">
<g fill="#ffa500" stroke="#0000ff" stroke-width="1.5">
<rect x="811.5" y="1010.7" width="7.7" height="169.9"/>
<rect x="821.2" y="1132" width="7.7" height="48.6"/>
<rect x="830.8" y="1027.4" width="7.7" height="153.2"/>
<rect x="840.5" y="1004.9" width="7.7" height="175.7"/>
<rect x="850.1" y="963.9" width="7.7" height="216.7"/>
<rect x="859.8" y="1012.9" width="7.7" height="167.7"/>
<rect x="869.4" y="963.9" width="7.7" height="216.7"/>
<rect x="879.1" y="1121.9" width="7.7" height="58.7"/>
<rect x="888.7" y="1170.5" width="7.7" height="10"/>
<rect x="898.4" y="1053.5" width="7.7" height="127.1"/>
<rect x="908" y="1146.2" width="7.7" height="34.4"/>
<rect x="917.7" y="1170.5" width="7.7" height="10"/>
<rect x="927.3" y="1132" width="7.7" height="48.6"/>
<rect x="937" y="1031.8" width="7.7" height="148.8"/>
<rect x="946.6" y="1146.2" width="7.7" height="34.4"/>
<rect x="956.3" y="1043.8" width="7.7" height="136.8"/>
<rect x="965.9" y="963.9" width="7.7" height="216.7"/>
<rect x="975.6" y="1017.6" width="7.7" height="163"/>
<rect x="985.2" y="1107.6" width="7.7" height="73"/>
<rect x="994.9" y="1121.9" width="7.7" height="58.7"/>
<rect x="1004.5" y="1170.5" width="7.7" height="10"/>
<rect x="1014.2" y="1146.2" width="7.7" height="34.4"/>
<rect x="1023.8" y="1170.5" width="7.7" height="10"/>
<rect x="1033.5" y="1121.9" width="7.7" height="58.7"/>
<rect x="1043.1" y="1170.5" width="7.7" height="10"/>
<rect x="1052.8" y="1170.5" width="7.7" height="10"/>
<rect x="1062.4" y="1041.9" width="7.7" height="138.7"/>
<rect x="1072.1" y="1146.2" width="7.7" height="34.4"/>
<rect x="1081.7" y="1075.5" width="7.7" height="105.1"/>
<rect x="1091.4" y="1170.5" width="7.7" height="10"/>
<rect x="1101" y="1063.6" width="7.7" height="117"/>
<rect x="1110.7" y="963.9" width="7.7" height="216.7"/>
<rect x="1120.3" y="1018" width="7.7" height="162.6"/>
<rect x="1130" y="1132" width="7.7" height="48.6"/>
<rect x="1139.6" y="1050" width="7.7" height="130.6"/>
<rect x="1149.3" y="1146.2" width="7.7" height="34.4"/>
<rect x="1158.9" y="1052.3" width="7.7" height="128.3"/>
<rect x="1168.6" y="963.9" width="7.7" height="216.7"/>
<rect x="1178.2" y="1107.6" width="7.7" height="73"/>
<rect x="1187.9" y="1170.5" width="7.7" height="10"/>
<rect x="1197.5" y="1132" width="7.7" height="48.6"/>
<rect x="1207.2" y="1086.4" width="7.7" height="94.2"/>
<rect x="1216.8" y="1170.5" width="7.7" height="10"/>
<rect x="1226.5" y="1107.6" width="7.7" height="73"/>
<rect x="1236.1" y="1146.2" width="7.7" height="34.4"/>
<rect x="1245.8" y="963.9" width="7.7" height="216.7"/>
<rect x="1255.4" y="1026.8" width="7.7" height="153.8"/>
<rect x="1265.1" y="963.9" width="7.7" height="216.7"/>
<rect x="1274.7" y="1170.5" width="7.7" height="10"/>
<rect x="1284.4" y="1146.2" width="7.7" height="34.4"/>
<rect x="1294" y="1121.9" width="7.7" height="58.7"/>
<rect x="1303.7" y="1021.9" width="7.7" height="158.7"/>
<rect x="1313.3" y="1047.8" width="7.7" height="132.8"/>
<rect x="1323" y="1102.2" width="7.7" height="78.4"/>
<rect x="1332.6" y="1093.4" width="7.7" height="87.2"/>
<rect x="1342.3" y="1170.5" width="7.7" height="10"/>
<rect x="1351.9" y="1170.5" width="7.7" height="10"/>
<rect x="1361.6" y="1062" width="7.7" height="118.6"/>
<rect x="1371.2" y="1089.7" width="7.7" height="90.9"/>
<rect x="1380.9" y="1073.2" width="7.7" height="107.4"/>
<rect x="1390.5" y="1102.2" width="7.7" height="78.4"/>
<rect x="1400.2" y="1017.6" width="7.7" height="163"/>
<rect x="1409.8" y="1170.5" width="7.7" height="10"/>
<rect x="1419.5" y="1170.5" width="7.7" height="10"/>
<rect x="1429.1" y="1102.2" width="7.7" height="78.4"/>
<rect x="1438.8" y="1170.5" width="7.7" height="10"/>
<rect x="1448.4" y="1043.8" width="7.7" height="136.8"/>
<rect x="1458.1" y="1132" width="7.7" height="48.6"/>
<rect x="1467.7" y="1170.5" width="7.7" height="10"/>
<rect x="1477.4" y="1102.2" width="7.7" height="78.4"/>
<rect x="1487" y="1170.5" width="7.7" height="10"/>
<rect x="1496.7" y="1026.8" width="7.7" height="153.8"/>
<rect x="1506.3" y="1170.5" width="7.7" height="10"/>
<rect x="1516" y="1146.2" width="7.7" height="34.4"/>
<rect x="1525.6" y="1170.5" width="7.7" height="10"/>
<rect x="1535.3" y="1121.9" width="7.7" height="58.7"/>
<rect x="1544.9" y="1107.6" width="7.7" height="73"/>
<rect x="1554.6" y="1107.6" width="7.7" height="73"/>
<rect x="1564.2" y="1170.5" width="7.7" height="10"/>
<rect x="1573.9" y="1089.7" width="7.7" height="90.9"/>
<rect x="1583.5" y="1146.2" width="7.7" height="34.4"/>
<rect x="1593.2" y="1004.6" width="7.7" height="176"/>
<rect x="1602.8" y="1006.1" width="7.7" height="174.5"/>
<rect x="1612.5" y="1170.5" width="7.7" height="10"/>
<rect x="1622.1" y="1146.2" width="7.7" height="34.4"/>
<rect x="1631.8" y="1063.6" width="7.7" height="117"/>
<rect x="1641.4" y="1170.5" width="7.7" height="10"/>
<rect x="1651.1" y="1080.5" width="7.7" height="100.1"/>
<rect x="1660.7" y="1170.5" width="7.7" height="10"/>
<rect x="1670.4" y="1057.5" width="7.7" height="123.1"/>
<rect x="1680" y="1146.2" width="7.7" height="34.4"/>
<rect x="1689.7" y="1132" width="7.7" height="48.6"/>
<rect x="1699.3" y="1121.9" width="7.7" height="58.7"/>
<rect x="1709" y="1020.9" width="7.7" height="159.7"/>
<rect x="1718.6" y="1146.2" width="7.7" height="34.4"/>
<rect x="1728.3" y="1041" width="7.7" height="139.6"/>
<rect x="1737.9" y="1073.2" width="7.7" height="107.4"/>
<rect x="1747.6" y="1069.1" width="7.7" height="111.5"/>
<rect x="1757.2" y="1132" width="7.7" height="48.6"/>
<rect x="1766.9" y="1114" width="7.7" height="66.6"/>
<rect x="1776.5" y="1132" width="7.7" height="48.6"/>
<rect x="1786.2" y="1028.6" width="7.7" height="152"/>
<rect x="1795.8" y="1170.5" width="7.7" height="10"/>
<rect x="1805.5" y="1060.5" width="7.7" height="120.1"/>
<rect x="1815.1" y="1073.2" width="7.7" height="107.4"/>
<rect x="1824.8" y="1017.6" width="7.7" height="163"/>
<rect x="1834.4" y="1097.5" width="7.7" height="83.1"/>
<rect x="1844.1" y="1107.6" width="7.7" height="73"/>
<rect x="1853.7" y="1170.5" width="7.7" height="10"/>
<rect x="1863.4" y="963.9" width="7.7" height="216.7"/>
<rect x="1873" y="1004.6" width="7.7" height="176"/>
<rect x="1882.7" y="1054.8" width="7.7" height="125.8"/>
<rect x="1892.3" y="1041.9" width="7.7" height="138.7"/>
<rect x="1902" y="1086.4" width="7.7" height="94.2"/>
<rect x="1911.6" y="1132" width="7.7" height="48.6"/>
<rect x="1921.3" y="963.9" width="7.7" height="216.7"/>
<rect x="1930.9" y="1043.8" width="7.7" height="136.8"/>
<rect x="1940.6" y="1080.5" width="7.7" height="100.1"/>
<rect x="1950.2" y="1011.8" width="7.7" height="168.8"/>
<rect x="1959.9" y="1170.5" width="7.7" height="10"/>
<rect x="1969.5" y="1073.2" width="7.7" height="107.4"/>
</g>
<path d="M805.7 963.9H1984.2" stroke="#ff0000" stroke-width="2.8" stroke-dasharray="8.55 3.58" fill="none"/>
<path d="M815.4 1180.6V1172.6M1008.4 1180.6V1172.6M1201.4 1180.6V1172.6M1394.4 1180.6V1172.6M1587.4 1180.6V1172.6M1780.4 1180.6V1172.6M1973.4 1180.6V1172.6M815.4 953.2V961.2M1008.4 953.2V961.2M1201.4 953.2V961.2M1394.4 953.2V961.2M1587.4 953.2V961.2M1780.4 953.2V961.2M1973.4 953.2V961.2M805.7 1170.5H813.7M805.7 1089.7H813.7M805.7 1008.8H813.7M1984.2 1170.5H1976.2M1984.2 1089.7H1976.2M1984.2 1008.8H1976.2" stroke="#000" stroke-width="2" fill="none"/>
<path d="M863.6 1180.6V1176.1M911.9 1180.6V1176.1M960.1 1180.6V1176.1M1056.7 1180.6V1176.1M1104.9 1180.6V1176.1M1153.2 1180.6V1176.1M1249.7 1180.6V1176.1M1297.9 1180.6V1176.1M1346.2 1180.6V1176.1M1442.7 1180.6V1176.1M1490.9 1180.6V1176.1M1539.2 1180.6V1176.1M1635.7 1180.6V1176.1M1683.9 1180.6V1176.1M1732.2 1180.6V1176.1M1828.7 1180.6V1176.1M1876.9 1180.6V1176.1M1925.2 1180.6V1176.1M863.6 953.2V957.7M911.9 953.2V957.7M960.1 953.2V957.7M1056.7 953.2V957.7M1104.9 953.2V957.7M1153.2 953.2V957.7M1249.7 953.2V957.7M1297.9 953.2V957.7M1346.2 953.2V957.7M1442.7 953.2V957.7M1490.9 953.2V957.7M1539.2 953.2V957.7M1635.7 953.2V957.7M1683.9 953.2V957.7M1732.2 953.2V957.7M1828.7 953.2V957.7M1876.9 953.2V957.7M1925.2 953.2V957.7M805.7 1178.4H810.2M805.7 1174.2H810.2M805.7 1146.2H810.2M805.7 1132H810.2M805.7 1121.9H810.2M805.7 1114H810.2M805.7 1107.6H810.2M805.7 1102.2H810.2M805.7 1097.5H810.2M805.7 1093.4H810.2M805.7 1065.4H810.2M805.7 1051.1H810.2M805.7 1041H810.2M805.7 1033.2H810.2M805.7 1026.8H810.2M805.7 1021.4H810.2M805.7 1016.7H810.2M805.7 1012.5H810.2M805.7 984.5H810.2M805.7 970.3H810.2M805.7 960.2H810.2M1984.2 1178.4H1979.7M1984.2 1174.2H1979.7M1984.2 1146.2H1979.7M1984.2 1132H1979.7M1984.2 1121.9H1979.7M1984.2 1114H1979.7M1984.2 1107.6H1979.7M1984.2 1102.2H1979.7M1984.2 1097.5H1979.7M1984.2 1093.4H1979.7M1984.2 1065.4H1979.7M1984.2 1051.1H1979.7M1984.2 1041H1979.7M1984.2 1033.2H1979.7M1984.2 1026.8H1979.7M1984.2 1021.4H1979.7M1984.2 1016.7H1979.7M1984.2 1012.5H1979.7M1984.2 984.5H1979.7M1984.2 970.3H1979.7M1984.2 960.2H1979.7" stroke="#000" stroke-width="1.5" fill="none"/>
<rect x="805.7" y="953.2" width="1178.5" height="227.39999999999986" fill="none" stroke="#000" stroke-width="2.2"/>
<g font-size="27.5">
<g text-anchor="middle">
<text x="815.4" y="1209.8">0</text>
<text x="1008.4" y="1209.8">20</text>
<text x="1201.4" y="1209.8">40</text>
<text x="1394.4" y="1209.8">60</text>
<text x="1587.4" y="1209.8">80</text>
<text x="1780.4" y="1209.8">100</text>
<text x="1973.4" y="1209.8">120</text>
<text x="1395.2" y="1245" font-size="31">index</text>
</g>
<text x="752" y="1181.1">10<tspan font-size="19.3" dy="-11">0</tspan></text>
<text x="752" y="1100.3">10<tspan font-size="19.3" dy="-11">1</tspan></text>
<text x="752" y="1019.4">10<tspan font-size="19.3" dy="-11">2</tspan></text>
<text x="803.8" y="973.1" text-anchor="end" fill="#ff0000" font-size="24.3">360</text>
<text transform="translate(733.2 1068.3) rotate(-90)" text-anchor="middle" font-size="31.5"><tspan font-style="italic">N</tspan><tspan font-size="22" dy="5.5">angle</tspan></text>
</g></g>
</svg></body></html>
